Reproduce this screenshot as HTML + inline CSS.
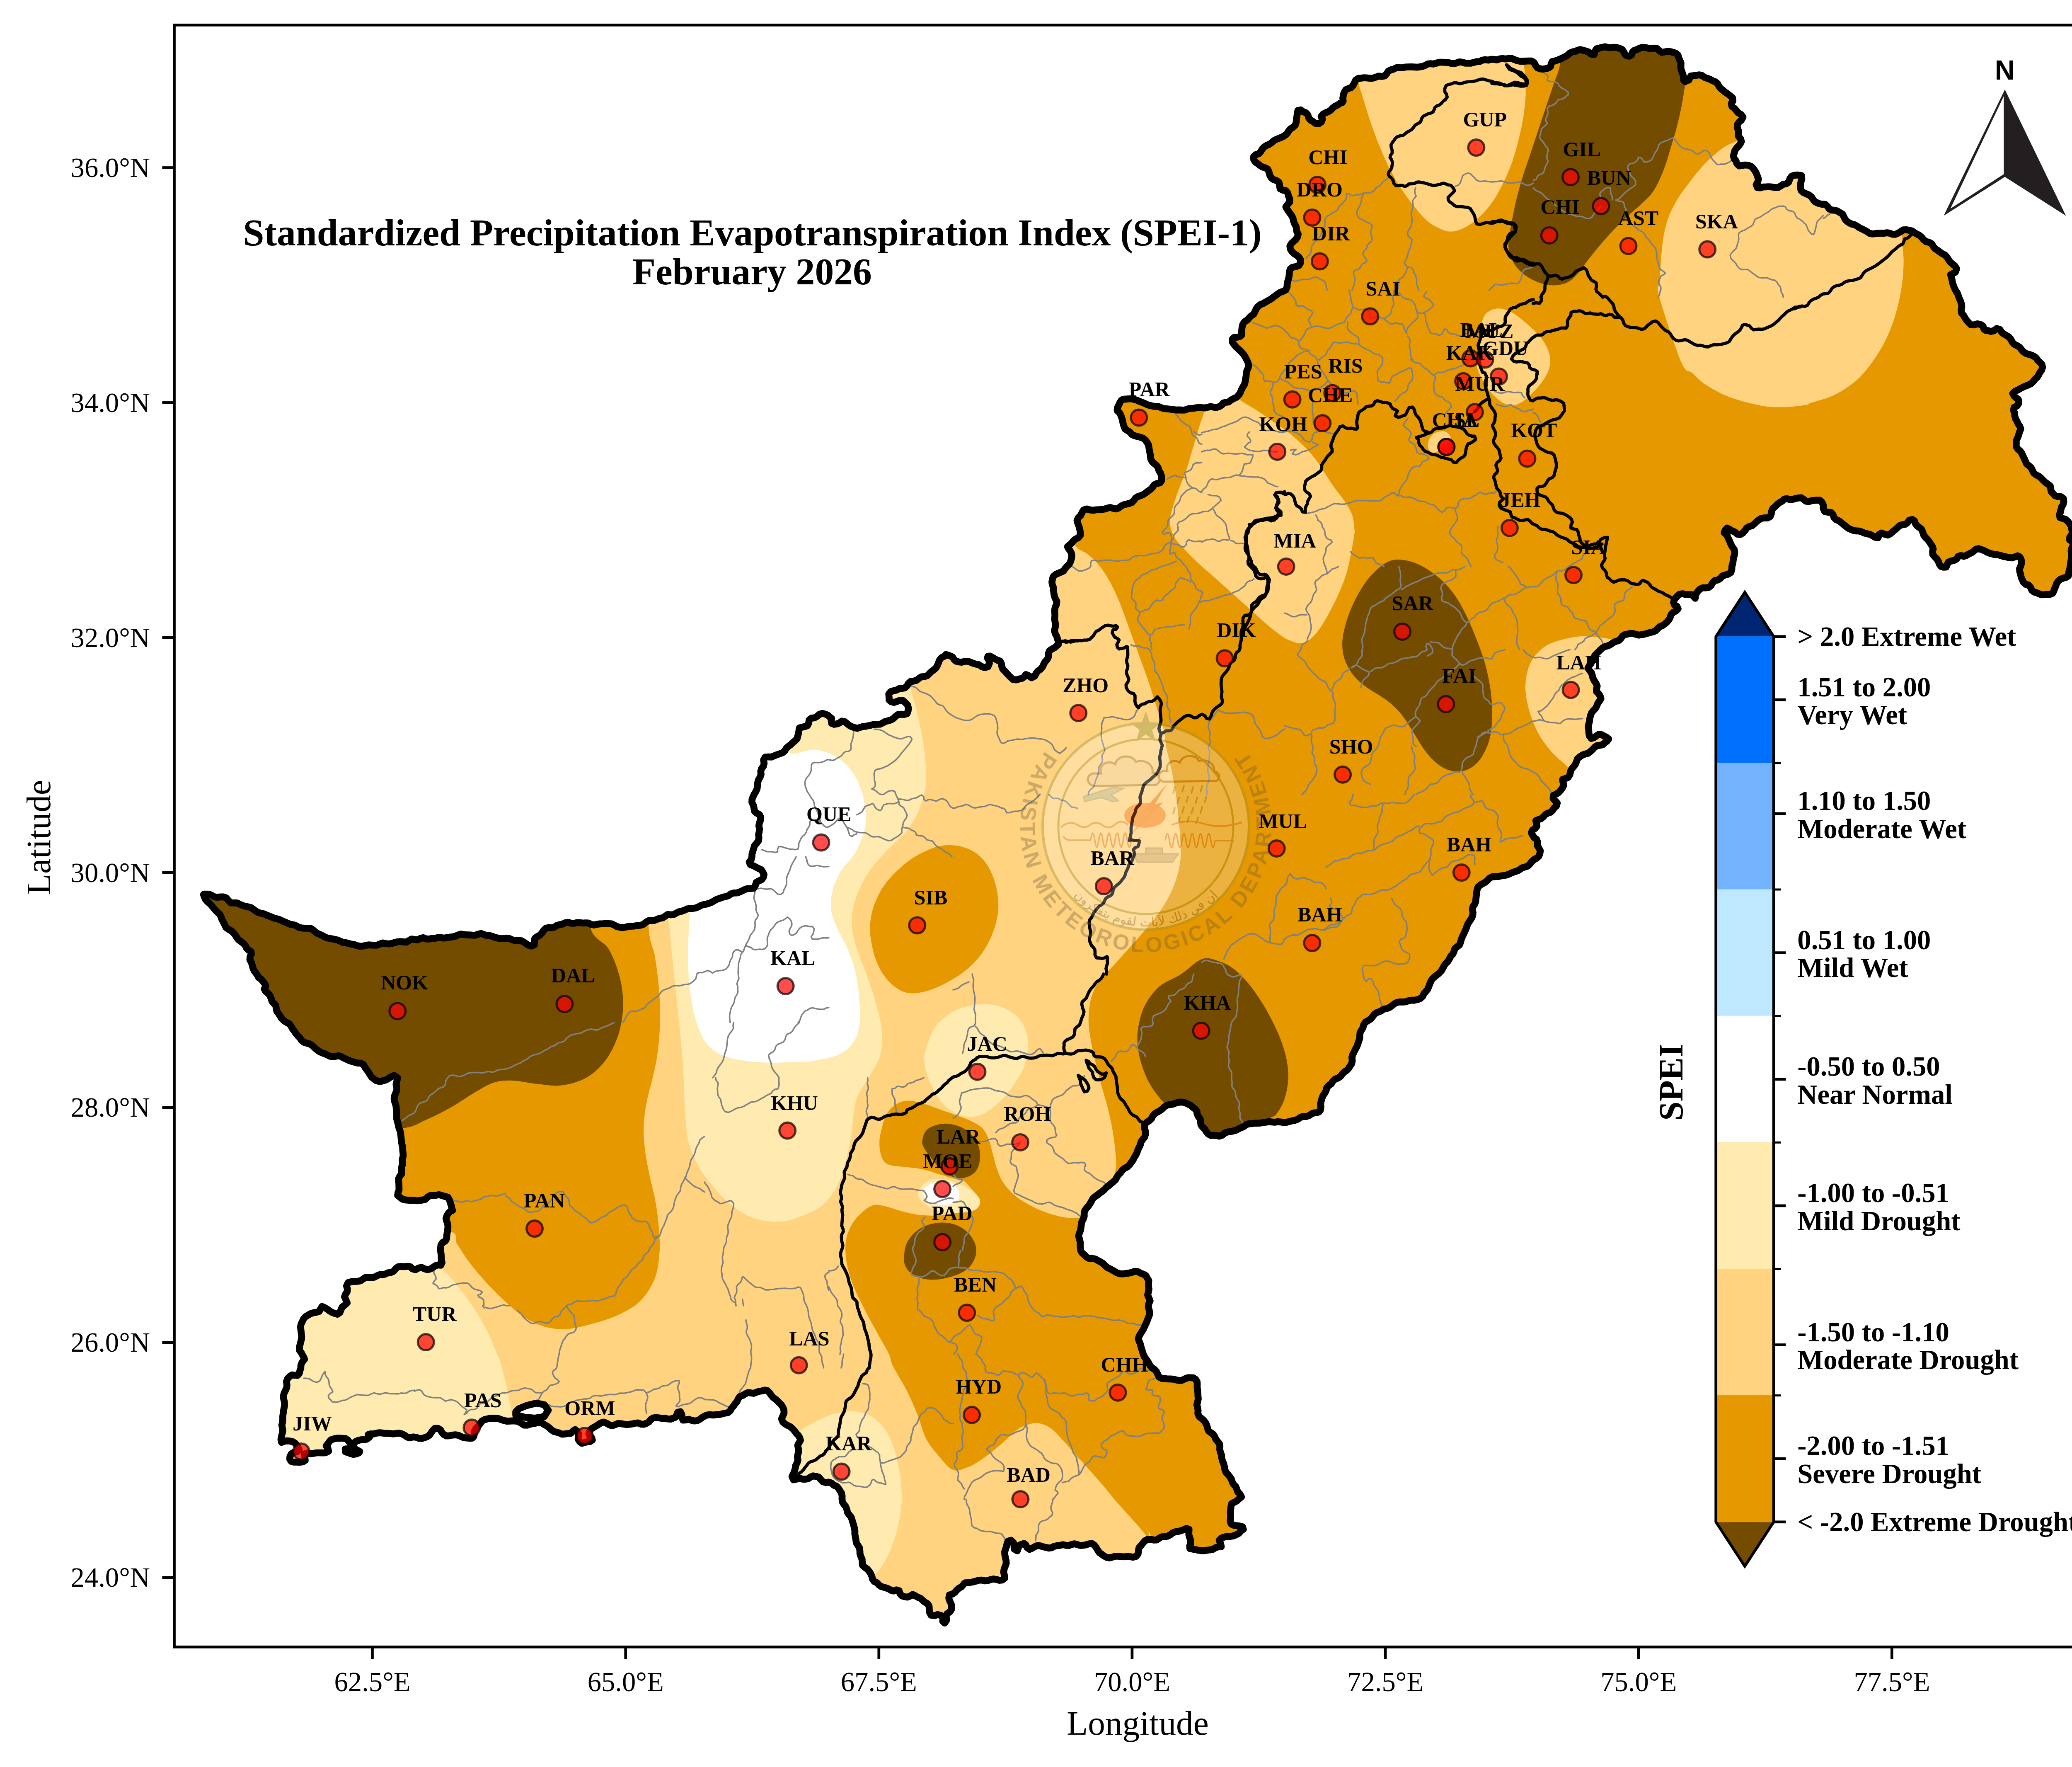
<!DOCTYPE html><html><head><meta charset="utf-8"><title>SPEI-1 February 2026</title><style>html,body{margin:0;padding:0;background:#fff}svg{display:block}text{font-family:"Liberation Serif","Times New Roman",serif;fill:#000}</style></head><body>
<svg width="5130" height="4263" viewBox="0 0 5130 4263">
<rect width="5130" height="4263" fill="#fff"/>
<defs><clipPath id="pk"><path d="M2997.2 850.8 L2992.2 845.8 L2987.1 841.0 L2982.0 836.3 L2977.6 830.8 L2973.9 825.3 L2973.5 818.5 L2978.2 813.9 L2985.3 813.4 L2992.1 811.8 L2996.5 808.0 L2996.1 802.4 L2996.6 795.4 L2997.4 788.6 L2999.2 782.0 L3003.3 776.2 L3009.5 772.4 L3014.1 767.2 L3019.0 762.2 L3025.1 758.3 L3028.4 751.8 L3031.4 744.9 L3035.8 739.2 L3041.4 734.8 L3048.4 732.1 L3054.5 728.6 L3060.5 724.9 L3066.7 721.8 L3072.3 717.4 L3078.1 713.4 L3083.6 708.9 L3089.3 705.4 L3095.7 703.0 L3102.8 699.3 L3105.9 692.5 L3106.1 685.2 L3107.6 678.4 L3109.6 671.7 L3111.0 664.8 L3111.2 657.2 L3113.3 649.5 L3119.1 644.7 L3127.3 643.1 L3134.4 640.4 L3138.5 633.6 L3138.0 625.8 L3133.8 619.5 L3128.2 615.3 L3122.1 611.6 L3117.4 606.6 L3113.7 600.6 L3112.7 593.4 L3116.6 587.1 L3121.9 582.2 L3127.1 577.3 L3131.1 571.5 L3132.6 564.6 L3129.5 559.2 L3128.6 552.3 L3127.2 545.3 L3123.6 539.4 L3121.2 532.4 L3120.1 526.4 L3117.5 521.0 L3113.6 515.6 L3109.5 510.0 L3105.6 504.1 L3102.9 499.0 L3106.8 493.5 L3112.3 487.6 L3112.3 479.7 L3109.1 472.8 L3107.6 465.8 L3103.0 460.1 L3095.5 458.8 L3088.9 455.1 L3087.8 447.3 L3086.4 439.9 L3080.3 435.6 L3073.3 433.3 L3067.5 428.9 L3064.1 422.5 L3062.4 415.5 L3059.3 408.2 L3052.7 404.7 L3046.3 402.9 L3040.6 399.3 L3035.2 394.9 L3029.4 391.0 L3025.5 385.3 L3025.1 377.8 L3030.5 373.1 L3037.6 371.0 L3042.3 365.7 L3046.1 359.2 L3051.1 354.1 L3057.1 350.4 L3063.7 347.8 L3069.4 343.7 L3074.6 338.9 L3081.0 335.7 L3087.6 333.2 L3094.2 330.4 L3100.4 326.9 L3105.8 322.2 L3109.7 316.0 L3114.3 310.6 L3120.4 306.8 L3125.7 301.8 L3128.0 294.8 L3128.4 287.7 L3129.6 280.9 L3130.6 273.9 L3131.9 266.7 L3139.1 265.1 L3144.5 269.6 L3151.2 271.9 L3156.0 277.1 L3157.9 284.1 L3162.4 289.5 L3168.5 293.1 L3174.3 297.6 L3181.7 298.7 L3188.4 294.3 L3191.2 287.6 L3188.1 281.1 L3192.2 275.8 L3198.4 272.3 L3204.9 269.6 L3210.9 266.1 L3215.7 260.8 L3221.2 256.4 L3227.8 253.4 L3233.8 249.0 L3239.1 247.5 L3241.2 243.7 L3240.5 236.9 L3241.6 230.0 L3243.5 222.9 L3247.8 216.4 L3254.5 213.3 L3260.7 211.2 L3265.0 206.4 L3268.1 200.3 L3271.3 193.4 L3278.0 189.1 L3285.5 188.4 L3292.4 187.5 L3299.4 188.1 L3306.8 188.8 L3313.8 188.4 L3320.1 186.2 L3326.9 183.6 L3334.1 184.5 L3341.7 183.0 L3346.5 177.3 L3350.6 171.3 L3357.0 168.4 L3363.3 166.6 L3369.7 163.3 L3376.8 163.4 L3383.8 163.7 L3390.6 161.9 L3397.7 161.5 L3404.8 161.4 L3411.6 161.7 L3418.1 162.1 L3425.0 161.6 L3432.0 160.4 L3438.6 158.1 L3444.8 154.6 L3451.8 153.6 L3459.0 154.4 L3465.8 152.5 L3472.6 150.2 L3479.7 150.2 L3486.7 150.3 L3493.6 150.7 L3500.5 152.5 L3507.4 153.7 L3514.6 152.0 L3521.7 149.4 L3528.4 150.0 L3535.5 152.3 L3542.6 152.5 L3549.6 152.3 L3556.5 150.5 L3563.3 148.9 L3570.3 148.5 L3576.9 145.2 L3583.8 144.0 L3591.1 145.1 L3597.8 143.2 L3604.9 143.2 L3612.0 144.5 L3618.9 142.1 L3625.9 141.2 L3632.9 142.3 L3640.0 141.2 L3647.1 140.7 L3653.9 143.6 L3660.7 146.3 L3667.6 147.6 L3674.6 147.9 L3681.7 147.4 L3688.8 147.0 L3696.1 147.2 L3702.3 151.4 L3705.5 158.0 L3710.0 163.5 L3716.4 166.1 L3723.3 166.8 L3729.8 165.8 L3736.4 164.1 L3741.9 160.3 L3743.3 153.4 L3745.8 148.4 L3751.4 147.4 L3757.9 145.2 L3764.6 142.6 L3770.5 139.8 L3776.8 136.9 L3782.8 133.2 L3787.9 128.2 L3794.3 125.3 L3801.3 124.0 L3807.6 120.9 L3814.4 119.6 L3821.1 121.7 L3827.8 123.4 L3834.2 125.6 L3839.3 130.6 L3846.9 131.7 L3848.9 123.5 L3852.6 117.6 L3859.7 116.1 L3866.5 114.1 L3873.4 112.8 L3880.6 114.5 L3887.6 115.1 L3894.5 114.0 L3901.5 114.7 L3908.2 116.6 L3914.3 119.4 L3918.5 125.3 L3921.4 131.0 L3925.4 134.6 L3931.8 135.4 L3937.1 132.5 L3939.4 126.0 L3943.6 121.5 L3949.9 119.8 L3956.3 116.5 L3963.0 114.0 L3970.2 114.6 L3977.3 116.4 L3984.1 117.3 L3990.9 116.1 L3998.2 116.8 L4003.5 121.9 L4009.6 126.4 L4017.0 125.3 L4024.1 124.1 L4031.1 124.6 L4037.9 126.3 L4044.3 128.8 L4049.2 132.7 L4050.7 138.8 L4053.5 145.2 L4056.4 151.7 L4056.1 158.7 L4056.2 165.7 L4058.4 172.6 L4061.1 179.3 L4062.6 185.7 L4062.8 192.7 L4066.7 196.9 L4071.8 193.3 L4075.3 193.3 L4077.6 188.8 L4080.2 183.2 L4086.4 182.6 L4093.4 181.7 L4100.7 180.6 L4107.6 182.4 L4113.7 186.8 L4120.3 189.1 L4126.7 191.4 L4132.6 194.8 L4139.3 197.4 L4144.8 201.8 L4148.2 208.5 L4152.7 213.8 L4158.2 218.1 L4163.5 222.7 L4169.5 226.6 L4174.9 231.1 L4180.6 235.8 L4181.8 243.3 L4178.0 249.8 L4179.4 256.8 L4185.2 261.2 L4189.9 266.4 L4194.1 271.9 L4200.8 275.8 L4206.0 282.7 L4201.8 290.2 L4196.4 294.7 L4192.4 300.8 L4192.2 307.9 L4194.9 314.6 L4195.1 321.7 L4195.3 329.1 L4200.2 334.6 L4202.2 341.5 L4198.8 348.0 L4194.6 353.1 L4189.8 358.1 L4186.3 363.7 L4184.8 369.5 L4182.9 376.2 L4184.8 382.7 L4189.1 387.9 L4191.3 395.1 L4196.7 400.3 L4204.2 399.1 L4211.2 398.1 L4218.1 398.5 L4225.0 401.0 L4230.4 405.9 L4234.7 411.7 L4238.2 418.1 L4240.8 424.7 L4243.2 431.7 L4241.8 439.0 L4237.9 445.7 L4240.9 452.6 L4248.3 453.1 L4254.8 451.0 L4261.7 450.9 L4268.7 450.5 L4275.8 451.1 L4283.0 452.4 L4290.6 452.5 L4297.0 448.8 L4302.8 444.8 L4310.3 443.4 L4316.1 439.5 L4319.2 431.3 L4323.5 425.0 L4330.8 422.6 L4338.2 422.2 L4347.1 423.5 L4348.0 432.0 L4345.8 439.1 L4344.9 445.8 L4344.3 452.9 L4346.5 460.0 L4352.0 464.7 L4358.5 467.5 L4365.1 470.3 L4370.9 474.6 L4374.8 480.7 L4379.1 486.2 L4385.4 489.5 L4390.9 491.6 L4397.1 492.7 L4404.5 493.0 L4410.2 498.1 L4414.2 504.2 L4421.1 506.9 L4428.4 507.3 L4434.6 509.4 L4440.8 513.4 L4446.3 516.7 L4449.3 522.5 L4452.3 528.9 L4457.2 534.2 L4463.1 538.2 L4469.7 541.0 L4475.5 542.1 L4480.6 545.1 L4486.9 549.4 L4493.4 552.3 L4499.6 555.6 L4505.6 559.0 L4511.6 562.9 L4518.5 564.5 L4525.7 563.6 L4532.6 562.8 L4539.2 562.6 L4546.3 562.7 L4553.1 561.6 L4559.7 562.4 L4566.2 565.2 L4573.8 565.3 L4580.8 562.3 L4586.9 558.4 L4593.0 554.5 L4600.2 554.3 L4607.1 555.6 L4614.1 557.1 L4619.9 561.5 L4626.0 564.8 L4632.1 568.1 L4637.5 572.7 L4641.9 578.3 L4647.3 582.7 L4654.8 584.6 L4661.2 587.9 L4665.1 594.2 L4669.4 599.9 L4675.5 603.6 L4681.0 607.9 L4686.8 612.0 L4693.5 615.3 L4698.3 620.4 L4702.1 626.5 L4706.2 632.3 L4711.5 636.9 L4717.2 641.4 L4721.6 648.3 L4718.7 656.6 L4712.0 660.1 L4707.1 662.6 L4709.0 668.4 L4710.5 675.2 L4711.6 682.2 L4714.0 688.8 L4716.5 695.4 L4719.7 701.6 L4723.6 707.6 L4725.9 714.2 L4728.4 720.7 L4731.2 727.0 L4733.4 733.7 L4734.1 740.7 L4732.4 748.2 L4733.6 755.4 L4738.5 761.2 L4742.0 767.3 L4745.9 773.1 L4750.7 778.4 L4756.0 783.5 L4763.6 783.9 L4771.0 781.3 L4778.2 782.5 L4785.3 786.6 L4787.3 793.6 L4790.9 797.0 L4797.2 797.6 L4804.5 799.7 L4811.4 797.9 L4818.1 792.6 L4825.8 794.7 L4830.1 801.3 L4835.4 805.8 L4841.6 809.4 L4847.8 813.0 L4852.3 818.4 L4855.7 825.2 L4860.4 830.5 L4866.9 833.6 L4873.0 837.4 L4877.6 842.6 L4882.1 848.1 L4887.8 852.4 L4894.5 854.5 L4901.3 856.5 L4907.8 859.4 L4913.5 863.5 L4917.7 869.6 L4922.7 874.1 L4927.4 879.1 L4928.8 886.2 L4926.7 893.0 L4922.4 898.9 L4919.3 904.8 L4915.7 910.4 L4910.5 915.1 L4906.2 920.7 L4900.9 925.7 L4894.5 928.7 L4888.0 931.4 L4881.6 934.2 L4875.4 937.4 L4869.4 940.9 L4862.7 943.8 L4857.1 949.1 L4860.6 955.8 L4864.7 959.7 L4870.3 963.1 L4871.2 967.0 L4871.1 973.7 L4867.2 979.7 L4860.3 982.8 L4858.8 989.9 L4861.7 996.8 L4862.0 1003.7 L4863.8 1010.3 L4867.3 1016.3 L4870.1 1022.7 L4874.1 1028.4 L4876.4 1035.0 L4874.0 1040.5 L4871.9 1046.8 L4869.7 1054.1 L4866.8 1060.0 L4865.3 1064.1 L4865.4 1069.6 L4865.3 1077.2 L4869.1 1083.2 L4874.8 1088.0 L4878.9 1093.7 L4881.8 1100.1 L4884.8 1106.3 L4887.7 1112.7 L4890.7 1119.2 L4896.3 1123.7 L4901.5 1128.4 L4904.6 1135.1 L4908.1 1141.7 L4913.7 1146.0 L4920.3 1149.1 L4925.7 1153.6 L4930.5 1158.8 L4935.5 1163.6 L4941.4 1167.6 L4947.5 1172.3 L4948.8 1179.5 L4949.7 1185.8 L4954.1 1190.5 L4959.0 1196.0 L4965.9 1198.0 L4973.4 1198.4 L4979.5 1203.0 L4980.1 1210.8 L4978.5 1217.6 L4974.7 1223.3 L4973.1 1230.4 L4971.8 1236.1 L4969.3 1242.3 L4971.0 1248.5 L4977.7 1250.8 L4984.2 1253.0 L4989.4 1257.2 L4993.6 1262.6 L4997.7 1268.5 L4999.0 1275.5 L5000.6 1282.6 L4999.3 1289.9 L4994.6 1295.9 L4994.4 1302.7 L5001.1 1307.1 L5003.3 1314.7 L4999.5 1322.0 L4997.9 1328.9 L4998.7 1336.0 L4999.4 1343.0 L4997.9 1349.8 L4997.1 1356.8 L4996.2 1362.6 L4995.3 1369.4 L4993.2 1376.2 L4992.0 1383.1 L4991.3 1389.2 L4986.1 1392.7 L4979.3 1394.6 L4972.6 1397.2 L4966.9 1401.6 L4962.9 1407.5 L4960.9 1413.8 L4957.9 1420.4 L4956.0 1426.3 L4953.0 1431.7 L4946.4 1434.0 L4939.6 1434.1 L4932.5 1434.6 L4926.1 1434.8 L4921.0 1432.7 L4914.9 1430.3 L4908.3 1428.2 L4902.9 1423.8 L4899.9 1416.8 L4894.8 1411.2 L4887.8 1409.6 L4883.1 1405.2 L4880.2 1399.1 L4877.4 1392.8 L4876.1 1386.1 L4874.0 1379.2 L4873.4 1372.0 L4876.4 1365.3 L4878.2 1358.0 L4877.5 1350.9 L4874.5 1344.0 L4868.6 1340.9 L4862.3 1343.4 L4855.6 1345.9 L4848.4 1345.4 L4841.1 1343.6 L4834.1 1342.5 L4827.2 1339.8 L4820.5 1338.4 L4813.6 1338.2 L4806.9 1336.3 L4800.6 1334.5 L4794.4 1331.9 L4788.2 1328.5 L4781.7 1325.9 L4775.0 1323.8 L4768.6 1324.7 L4763.4 1329.4 L4757.8 1333.5 L4751.3 1336.3 L4745.4 1339.9 L4739.0 1342.3 L4732.1 1340.3 L4725.3 1342.5 L4721.3 1348.9 L4715.1 1352.1 L4708.3 1353.5 L4701.9 1356.1 L4698.9 1361.6 L4696.4 1368.1 L4689.3 1368.3 L4683.7 1366.5 L4679.8 1361.0 L4677.5 1354.3 L4673.6 1348.4 L4668.7 1343.3 L4663.9 1337.5 L4663.6 1330.0 L4665.0 1324.2 L4663.2 1318.6 L4659.4 1312.7 L4655.7 1307.0 L4651.5 1301.5 L4646.1 1296.4 L4642.0 1290.7 L4639.9 1283.9 L4637.2 1277.3 L4631.8 1272.6 L4626.2 1268.6 L4622.2 1263.3 L4619.8 1256.8 L4614.6 1253.3 L4607.3 1255.2 L4602.9 1261.0 L4597.3 1265.0 L4590.6 1265.8 L4583.7 1268.3 L4578.4 1273.4 L4573.2 1278.1 L4567.8 1282.1 L4562.2 1287.3 L4555.6 1290.8 L4547.9 1288.9 L4540.4 1285.9 L4534.2 1289.6 L4532.2 1297.2 L4524.6 1296.2 L4518.5 1292.3 L4512.3 1289.1 L4505.1 1287.7 L4498.5 1286.0 L4492.8 1283.2 L4486.2 1281.1 L4479.3 1280.9 L4472.6 1279.8 L4465.9 1277.2 L4459.5 1274.2 L4454.1 1269.7 L4448.6 1265.4 L4443.3 1260.7 L4437.7 1256.5 L4431.0 1253.8 L4425.8 1248.7 L4423.3 1241.7 L4418.6 1236.4 L4410.8 1235.7 L4403.1 1234.0 L4399.7 1226.1 L4399.7 1218.1 L4396.7 1211.7 L4391.5 1206.9 L4385.8 1206.7 L4379.1 1207.1 L4372.1 1207.9 L4365.1 1209.9 L4357.7 1209.2 L4352.1 1204.5 L4346.7 1200.8 L4340.5 1201.3 L4333.8 1202.5 L4327.0 1204.4 L4320.1 1205.6 L4313.2 1203.4 L4306.0 1203.8 L4300.9 1208.9 L4294.7 1212.3 L4289.0 1216.5 L4284.2 1221.7 L4278.4 1226.3 L4275.2 1233.1 L4274.2 1239.9 L4271.6 1246.2 L4265.4 1249.6 L4257.6 1249.4 L4250.5 1250.4 L4244.5 1254.2 L4238.7 1258.6 L4233.4 1263.9 L4228.0 1268.3 L4221.1 1270.2 L4214.9 1273.7 L4210.9 1280.0 L4206.2 1285.4 L4199.8 1289.6 L4191.9 1288.6 L4186.7 1283.5 L4180.1 1281.0 L4174.3 1277.3 L4167.5 1274.1 L4162.5 1279.9 L4160.8 1285.3 L4164.5 1288.3 L4168.4 1293.5 L4171.4 1300.4 L4174.5 1306.8 L4177.0 1313.5 L4180.4 1319.4 L4184.7 1325.2 L4186.1 1332.1 L4185.3 1339.1 L4183.3 1345.4 L4182.3 1352.4 L4181.5 1359.4 L4179.3 1366.0 L4179.1 1373.6 L4176.8 1381.2 L4170.3 1385.3 L4162.7 1387.3 L4156.3 1389.6 L4151.5 1395.4 L4145.6 1399.2 L4138.0 1400.5 L4133.0 1405.6 L4129.3 1412.3 L4123.6 1417.1 L4116.4 1418.2 L4109.0 1418.0 L4102.5 1421.0 L4097.8 1425.7 L4093.9 1430.8 L4091.3 1437.4 L4090.7 1443.5 L4087.4 1439.5 L4082.4 1434.6 L4075.1 1434.5 L4068.1 1434.4 L4061.0 1432.5 L4053.6 1433.2 L4047.8 1438.1 L4043.0 1443.0 L4040.1 1447.3 L4038.6 1453.4 L4040.7 1459.4 L4046.8 1462.8 L4049.4 1468.6 L4044.1 1474.1 L4037.7 1477.4 L4032.7 1482.5 L4030.4 1489.2 L4027.2 1495.4 L4022.9 1500.3 L4017.9 1505.0 L4012.2 1509.0 L4005.6 1511.7 L4000.3 1516.5 L3995.1 1521.9 L3988.4 1524.6 L3981.4 1526.0 L3974.9 1528.2 L3968.1 1530.0 L3961.1 1531.2 L3954.5 1532.3 L3948.3 1530.5 L3941.6 1528.7 L3934.6 1528.2 L3928.0 1529.7 L3921.3 1530.9 L3915.4 1534.6 L3911.3 1540.3 L3906.5 1545.2 L3899.8 1547.3 L3893.4 1550.0 L3887.6 1554.2 L3881.6 1557.6 L3874.7 1559.5 L3868.2 1562.3 L3862.8 1566.8 L3857.9 1571.9 L3852.9 1576.4 L3848.6 1581.5 L3845.2 1587.6 L3842.7 1594.1 L3839.4 1600.3 L3835.1 1605.8 L3832.0 1611.8 L3835.7 1617.6 L3840.3 1623.0 L3842.4 1629.8 L3844.1 1636.6 L3847.5 1642.8 L3851.5 1648.6 L3854.2 1655.4 L3852.6 1662.4 L3852.5 1668.5 L3857.3 1673.1 L3861.3 1678.8 L3863.3 1685.9 L3859.8 1691.2 L3855.7 1696.8 L3853.1 1703.6 L3849.6 1709.6 L3844.8 1714.4 L3840.5 1719.9 L3838.0 1726.4 L3836.5 1733.3 L3835.7 1740.1 L3833.9 1746.9 L3832.8 1753.9 L3833.8 1760.8 L3834.1 1767.8 L3835.2 1775.2 L3840.0 1781.6 L3847.1 1779.4 L3852.6 1775.1 L3858.6 1771.4 L3865.7 1772.8 L3871.5 1776.3 L3876.2 1778.3 L3881.9 1782.8 L3877.8 1788.3 L3872.5 1792.0 L3867.8 1796.6 L3861.0 1798.0 L3853.8 1798.9 L3847.8 1803.0 L3843.0 1808.3 L3837.7 1813.1 L3832.1 1817.5 L3825.2 1819.2 L3818.4 1821.7 L3812.2 1825.8 L3806.8 1830.6 L3804.2 1837.4 L3801.5 1844.2 L3797.1 1849.7 L3792.6 1855.1 L3789.7 1861.5 L3788.3 1869.2 L3783.8 1876.0 L3777.1 1878.4 L3770.9 1880.3 L3771.7 1886.9 L3773.7 1894.0 L3770.5 1900.7 L3766.2 1906.6 L3761.3 1911.9 L3755.3 1915.8 L3748.7 1918.8 L3747.8 1926.0 L3752.4 1931.8 L3757.8 1937.3 L3755.8 1944.4 L3750.3 1949.3 L3746.7 1955.0 L3742.0 1959.5 L3735.4 1961.6 L3729.3 1965.0 L3724.2 1970.6 L3718.6 1975.3 L3712.3 1977.4 L3706.3 1979.7 L3707.3 1985.9 L3708.9 1993.2 L3704.0 1999.0 L3697.9 2003.0 L3695.3 2009.0 L3698.3 2014.9 L3702.2 2020.8 L3708.2 2025.2 L3710.6 2032.0 L3709.7 2039.7 L3713.4 2045.8 L3717.0 2052.4 L3715.8 2059.6 L3713.0 2066.2 L3707.7 2070.6 L3701.8 2073.9 L3696.5 2078.6 L3692.0 2084.4 L3687.0 2089.3 L3680.0 2091.7 L3673.0 2093.7 L3667.7 2097.5 L3661.8 2101.0 L3655.2 2103.0 L3648.6 2105.5 L3642.1 2108.5 L3635.6 2111.1 L3628.7 2112.3 L3621.7 2113.3 L3614.8 2114.7 L3607.5 2114.9 L3600.1 2115.5 L3593.9 2119.1 L3588.7 2124.8 L3583.0 2129.3 L3576.9 2132.4 L3571.6 2135.7 L3566.5 2140.1 L3564.3 2146.8 L3563.3 2153.7 L3562.5 2160.7 L3561.7 2167.6 L3561.1 2174.6 L3558.8 2181.3 L3554.4 2187.4 L3553.2 2194.3 L3554.5 2201.9 L3553.8 2209.0 L3550.9 2215.5 L3546.9 2221.6 L3542.8 2227.6 L3540.0 2234.0 L3537.9 2240.6 L3535.1 2246.7 L3532.3 2252.9 L3529.3 2259.1 L3526.5 2265.6 L3524.6 2272.7 L3522.2 2279.5 L3516.3 2284.0 L3510.6 2288.7 L3508.7 2295.8 L3505.6 2302.1 L3500.6 2307.2 L3497.5 2313.5 L3493.9 2319.6 L3488.7 2324.5 L3484.7 2330.1 L3481.5 2336.4 L3478.0 2342.5 L3473.1 2347.5 L3467.7 2352.0 L3462.2 2356.4 L3456.7 2361.2 L3452.9 2367.4 L3450.1 2374.0 L3447.6 2380.7 L3444.8 2387.2 L3440.1 2392.5 L3435.8 2398.0 L3432.6 2404.4 L3427.1 2409.1 L3420.3 2411.7 L3413.3 2413.1 L3406.2 2413.1 L3399.3 2414.2 L3392.7 2416.8 L3385.6 2417.3 L3378.3 2417.1 L3371.2 2418.4 L3364.8 2421.7 L3359.1 2426.3 L3353.3 2430.5 L3346.9 2433.1 L3339.1 2434.6 L3333.5 2438.3 L3329.1 2440.6 L3323.0 2442.7 L3316.6 2446.8 L3312.1 2453.1 L3307.7 2458.2 L3301.6 2462.1 L3295.1 2466.0 L3290.9 2471.7 L3289.1 2479.0 L3285.5 2485.0 L3282.1 2491.1 L3281.4 2498.2 L3281.1 2505.2 L3278.9 2511.9 L3276.5 2518.6 L3274.3 2525.2 L3270.8 2531.3 L3267.7 2537.6 L3264.5 2544.0 L3262.4 2550.8 L3263.1 2558.3 L3262.1 2565.4 L3258.1 2571.5 L3254.3 2577.6 L3249.4 2582.7 L3243.5 2586.7 L3238.7 2591.7 L3234.3 2597.4 L3228.2 2601.2 L3221.2 2603.7 L3216.2 2608.6 L3212.5 2614.9 L3206.4 2618.8 L3201.7 2624.0 L3199.9 2631.5 L3196.8 2637.4 L3192.8 2642.9 L3190.2 2649.4 L3188.1 2656.2 L3186.9 2663.1 L3187.4 2670.2 L3186.8 2677.1 L3183.3 2682.2 L3177.6 2684.5 L3170.9 2684.9 L3164.4 2687.4 L3158.4 2691.8 L3151.6 2693.7 L3144.3 2693.4 L3137.8 2695.9 L3131.7 2700.2 L3125.1 2702.8 L3118.2 2704.1 L3111.3 2705.7 L3104.4 2707.6 L3097.2 2708.0 L3090.2 2706.8 L3083.2 2706.3 L3076.2 2707.5 L3069.2 2706.9 L3062.3 2705.9 L3055.4 2707.3 L3048.7 2708.2 L3042.0 2709.3 L3035.0 2709.7 L3027.9 2709.8 L3020.9 2710.8 L3013.8 2711.2 L3007.1 2713.5 L3001.3 2718.0 L2994.9 2720.7 L2988.5 2723.6 L2982.3 2726.9 L2975.5 2728.8 L2968.5 2730.1 L2961.3 2731.2 L2955.0 2734.1 L2949.3 2738.9 L2942.6 2741.1 L2935.5 2739.6 L2928.7 2739.1 L2921.4 2739.2 L2915.2 2735.6 L2910.9 2730.2 L2907.5 2724.5 L2902.3 2719.4 L2897.9 2713.7 L2897.2 2706.4 L2896.2 2699.4 L2891.7 2693.4 L2888.6 2686.8 L2888.3 2680.4 L2883.9 2675.7 L2878.5 2671.5 L2873.6 2667.0 L2868.1 2664.3 L2862.5 2661.6 L2856.7 2659.4 L2850.1 2658.9 L2843.1 2659.4 L2836.4 2661.5 L2830.1 2663.9 L2823.3 2664.9 L2815.9 2666.4 L2809.9 2670.2 L2804.9 2675.2 L2799.2 2679.4 L2793.0 2682.9 L2786.9 2686.7 L2782.1 2691.9 L2778.7 2698.6 L2773.7 2703.6 L2767.3 2707.6 L2761.8 2713.0 L2761.6 2721.1 L2763.9 2729.0 L2764.1 2736.3 L2762.3 2743.2 L2757.4 2749.1 L2753.4 2755.2 L2751.7 2762.0 L2748.6 2768.4 L2745.6 2774.7 L2743.5 2781.3 L2740.4 2787.4 L2736.7 2793.3 L2733.6 2799.5 L2729.6 2805.0 L2725.3 2810.5 L2720.3 2815.4 L2713.8 2818.6 L2708.3 2823.2 L2704.3 2829.0 L2699.2 2833.9 L2695.3 2839.7 L2691.9 2846.2 L2686.7 2851.0 L2681.3 2855.5 L2676.0 2860.1 L2670.3 2864.2 L2665.6 2869.3 L2660.4 2874.0 L2654.5 2878.0 L2649.1 2882.5 L2643.2 2886.5 L2637.7 2890.9 L2634.2 2897.3 L2630.6 2903.5 L2626.8 2909.1 L2622.1 2914.5 L2617.7 2920.5 L2616.2 2927.3 L2616.3 2934.7 L2613.9 2941.4 L2610.6 2947.7 L2609.2 2954.6 L2608.5 2961.7 L2607.3 2968.6 L2604.4 2975.3 L2602.9 2982.4 L2604.9 2989.5 L2606.7 2996.5 L2606.8 3003.4 L2606.9 3010.4 L2608.1 3017.4 L2611.6 3023.3 L2617.1 3027.6 L2622.0 3032.7 L2628.2 3036.1 L2636.1 3036.1 L2643.1 3037.4 L2649.1 3041.0 L2655.4 3044.2 L2661.5 3047.9 L2666.7 3053.3 L2672.0 3057.9 L2678.4 3061.0 L2684.4 3064.2 L2690.4 3067.9 L2696.6 3071.3 L2703.3 3073.1 L2710.3 3073.3 L2717.2 3072.2 L2724.2 3071.4 L2731.1 3069.8 L2738.3 3067.0 L2745.8 3067.8 L2752.3 3071.7 L2759.0 3074.1 L2765.2 3077.6 L2768.6 3083.7 L2772.1 3089.6 L2771.6 3096.5 L2771.4 3103.2 L2772.6 3110.3 L2771.1 3117.3 L2769.4 3124.5 L2772.5 3131.3 L2775.3 3138.5 L2772.1 3145.1 L2771.0 3152.1 L2772.6 3158.7 L2774.2 3165.5 L2773.6 3172.7 L2771.0 3179.3 L2768.4 3185.9 L2765.9 3192.4 L2762.7 3198.6 L2760.0 3205.2 L2756.5 3211.2 L2752.7 3217.1 L2749.0 3223.1 L2747.0 3230.3 L2749.5 3237.2 L2752.3 3243.9 L2753.6 3250.6 L2755.9 3257.1 L2757.7 3263.8 L2760.3 3270.4 L2763.9 3276.4 L2768.0 3282.1 L2771.9 3287.9 L2774.9 3294.4 L2779.6 3299.7 L2785.7 3303.6 L2790.5 3308.7 L2793.6 3315.1 L2796.9 3322.0 L2803.7 3325.7 L2811.2 3325.9 L2818.2 3326.9 L2824.9 3326.9 L2831.5 3327.3 L2838.6 3329.2 L2845.7 3330.6 L2852.7 3329.9 L2859.3 3326.6 L2865.9 3323.9 L2873.1 3323.8 L2880.0 3324.1 L2885.2 3327.8 L2888.7 3333.2 L2889.1 3339.9 L2888.9 3346.8 L2889.8 3353.8 L2890.7 3360.7 L2890.8 3367.7 L2891.5 3374.7 L2890.2 3381.7 L2888.1 3388.6 L2889.9 3395.7 L2891.1 3402.7 L2890.6 3410.3 L2893.7 3417.2 L2899.1 3422.0 L2904.5 3426.4 L2908.7 3431.8 L2912.0 3438.1 L2913.8 3444.8 L2916.1 3451.7 L2921.7 3456.3 L2927.7 3460.2 L2931.5 3466.3 L2934.3 3472.9 L2938.4 3477.8 L2942.9 3483.2 L2943.8 3490.1 L2943.4 3497.2 L2945.2 3504.1 L2947.8 3510.7 L2948.3 3517.8 L2949.9 3524.6 L2952.8 3530.9 L2954.5 3537.7 L2955.6 3545.0 L2958.2 3551.6 L2962.8 3557.0 L2967.5 3562.4 L2971.4 3568.3 L2973.5 3575.1 L2976.8 3581.2 L2982.1 3586.4 L2984.6 3593.0 L2987.1 3599.6 L2992.3 3604.4 L2995.7 3611.3 L2989.7 3616.3 L2984.5 3621.3 L2978.4 3624.3 L2972.1 3627.6 L2970.5 3634.5 L2969.9 3641.5 L2969.0 3648.6 L2969.5 3655.6 L2969.6 3662.1 L2968.8 3669.1 L2970.8 3676.6 L2977.9 3679.9 L2984.8 3680.9 L2991.0 3681.5 L2998.4 3683.6 L3000.3 3689.5 L2994.3 3693.7 L2989.4 3699.3 L2982.9 3702.7 L2976.3 3705.5 L2969.4 3706.6 L2961.7 3706.3 L2954.8 3708.2 L2948.0 3710.6 L2942.1 3716.3 L2945.6 3723.7 L2947.0 3731.4 L2939.1 3732.0 L2932.5 3734.2 L2926.6 3738.1 L2919.6 3739.3 L2912.7 3740.0 L2905.7 3741.3 L2898.7 3741.1 L2891.7 3740.1 L2884.9 3738.6 L2878.1 3737.2 L2871.3 3736.1 L2870.9 3729.6 L2873.6 3722.8 L2873.1 3715.5 L2870.6 3709.1 L2868.8 3702.6 L2868.9 3695.7 L2869.2 3689.8 L2863.4 3687.4 L2856.9 3690.2 L2850.4 3692.9 L2843.6 3694.5 L2836.5 3695.5 L2830.0 3698.1 L2824.3 3702.7 L2818.0 3706.0 L2811.0 3707.3 L2803.7 3707.5 L2797.4 3710.9 L2791.4 3715.2 L2784.1 3715.3 L2776.3 3713.6 L2769.2 3714.0 L2762.6 3717.5 L2757.6 3723.4 L2753.3 3728.9 L2748.5 3734.2 L2747.3 3741.5 L2746.2 3748.9 L2741.4 3755.0 L2734.0 3756.8 L2726.6 3755.5 L2719.7 3755.2 L2712.8 3755.8 L2705.8 3755.5 L2698.8 3754.4 L2691.8 3754.4 L2684.8 3756.5 L2677.7 3758.6 L2670.7 3757.3 L2664.5 3754.0 L2658.9 3749.9 L2653.0 3745.8 L2649.1 3740.0 L2645.3 3733.8 L2641.0 3728.0 L2635.0 3723.7 L2627.6 3724.7 L2621.1 3726.9 L2614.1 3728.0 L2606.8 3728.6 L2599.8 3726.5 L2592.9 3724.5 L2585.9 3726.0 L2579.2 3728.9 L2572.1 3728.2 L2565.0 3726.7 L2558.1 3728.2 L2551.1 3729.1 L2544.2 3730.4 L2537.8 3734.0 L2530.6 3734.9 L2523.7 3733.2 L2516.8 3731.7 L2510.2 3729.5 L2503.5 3728.6 L2497.4 3731.2 L2491.4 3734.8 L2484.5 3737.9 L2478.3 3733.4 L2475.3 3726.9 L2471.0 3723.7 L2466.0 3725.5 L2460.9 3727.3 L2457.7 3733.0 L2455.0 3741.5 L2447.3 3736.8 L2446.9 3728.7 L2445.5 3721.3 L2439.7 3716.0 L2432.2 3718.5 L2430.1 3724.0 L2428.8 3730.4 L2426.6 3737.2 L2424.4 3744.1 L2424.8 3751.1 L2426.2 3758.2 L2427.9 3765.4 L2428.1 3772.4 L2425.5 3779.2 L2422.9 3786.1 L2422.0 3793.1 L2423.6 3800.2 L2424.2 3807.8 L2418.1 3812.0 L2411.3 3812.6 L2404.3 3810.5 L2397.2 3809.4 L2390.3 3810.9 L2383.4 3813.3 L2376.4 3813.9 L2369.3 3812.0 L2362.3 3812.3 L2355.4 3814.5 L2348.4 3816.4 L2341.5 3817.6 L2334.7 3818.3 L2328.3 3818.9 L2324.4 3823.5 L2319.9 3828.5 L2313.9 3831.7 L2308.6 3836.5 L2304.1 3842.0 L2298.5 3845.7 L2291.0 3847.9 L2289.6 3855.6 L2291.9 3862.7 L2295.2 3869.2 L2296.5 3875.9 L2295.8 3883.3 L2291.6 3889.1 L2285.2 3893.3 L2283.1 3899.7 L2284.2 3908.8 L2279.6 3915.7 L2274.8 3911.2 L2275.9 3903.1 L2270.3 3897.3 L2262.8 3895.2 L2255.6 3897.8 L2246.7 3896.8 L2242.7 3888.7 L2242.4 3882.3 L2242.0 3874.7 L2238.1 3868.8 L2231.9 3865.5 L2226.5 3860.9 L2221.3 3855.9 L2214.8 3853.5 L2208.8 3849.9 L2202.4 3846.9 L2196.2 3850.6 L2190.2 3853.2 L2183.2 3852.3 L2176.3 3850.1 L2171.7 3844.6 L2169.6 3837.7 L2163.0 3835.7 L2156.7 3838.3 L2151.5 3837.5 L2146.0 3834.0 L2139.8 3831.5 L2133.3 3829.5 L2126.4 3827.6 L2120.8 3823.6 L2116.2 3818.5 L2109.7 3815.4 L2105.3 3809.6 L2104.0 3803.0 L2101.2 3796.8 L2097.4 3790.8 L2092.9 3785.5 L2086.8 3781.4 L2081.3 3776.4 L2080.6 3768.8 L2080.3 3761.6 L2077.3 3755.2 L2075.2 3748.5 L2075.0 3741.4 L2074.1 3734.5 L2070.2 3728.2 L2066.3 3721.8 L2065.4 3714.8 L2064.1 3707.9 L2062.8 3701.0 L2063.0 3693.9 L2061.9 3687.0 L2060.2 3680.2 L2058.1 3673.5 L2056.1 3666.8 L2053.9 3660.0 L2049.1 3654.5 L2045.1 3648.7 L2043.5 3641.7 L2041.1 3635.0 L2036.6 3629.5 L2032.8 3623.5 L2031.9 3616.3 L2032.1 3609.0 L2030.6 3602.2 L2026.7 3595.9 L2022.8 3589.9 L2018.2 3585.4 L2012.0 3583.1 L2006.7 3578.2 L2000.1 3575.8 L1992.7 3576.8 L1985.5 3574.7 L1980.5 3569.3 L1975.7 3563.8 L1969.0 3561.7 L1962.1 3560.7 L1956.0 3563.5 L1950.0 3567.5 L1942.5 3568.7 L1935.8 3568.3 L1929.5 3566.4 L1922.8 3568.3 L1914.8 3570.2 L1911.2 3562.2 L1914.7 3555.2 L1917.3 3548.8 L1919.0 3542.3 L1920.0 3535.7 L1923.4 3529.1 L1925.5 3522.3 L1924.2 3515.2 L1925.5 3508.3 L1927.6 3501.3 L1926.4 3494.3 L1925.0 3486.9 L1928.1 3480.6 L1931.6 3475.0 L1929.9 3468.5 L1926.1 3462.5 L1921.2 3457.6 L1917.1 3451.9 L1912.5 3446.6 L1907.1 3442.1 L1900.7 3438.8 L1894.5 3435.5 L1888.8 3430.4 L1886.0 3423.0 L1889.1 3415.9 L1892.0 3409.1 L1891.8 3401.9 L1889.2 3395.1 L1885.5 3389.3 L1880.8 3384.8 L1875.9 3379.5 L1870.7 3375.3 L1865.3 3371.1 L1860.7 3365.8 L1857.0 3360.2 L1852.2 3355.2 L1845.3 3353.7 L1838.9 3355.8 L1832.5 3356.5 L1825.8 3358.7 L1819.0 3361.5 L1811.6 3360.4 L1804.4 3359.9 L1798.1 3363.0 L1792.3 3366.7 L1785.1 3369.1 L1781.0 3375.3 L1778.2 3381.9 L1773.4 3387.2 L1769.7 3392.8 L1765.3 3397.8 L1761.7 3403.9 L1756.3 3408.5 L1749.1 3409.2 L1742.4 3411.2 L1735.7 3412.6 L1728.8 3412.7 L1721.8 3413.9 L1714.8 3413.2 L1707.6 3413.5 L1701.0 3416.1 L1694.8 3419.6 L1688.9 3424.1 L1682.6 3427.3 L1675.6 3428.2 L1667.5 3426.1 L1661.4 3424.0 L1655.6 3425.6 L1648.1 3426.1 L1645.4 3419.9 L1645.4 3412.7 L1641.9 3405.9 L1635.4 3407.2 L1633.0 3413.4 L1630.8 3418.8 L1625.0 3421.2 L1617.7 3423.8 L1610.8 3423.2 L1604.0 3421.3 L1597.1 3421.8 L1590.0 3420.8 L1582.9 3419.9 L1575.9 3421.0 L1570.1 3424.8 L1566.1 3430.5 L1560.3 3433.6 L1553.7 3436.1 L1546.6 3435.8 L1539.8 3432.9 L1533.1 3433.5 L1526.1 3435.2 L1519.0 3436.1 L1511.9 3436.6 L1505.0 3435.8 L1498.0 3434.7 L1491.0 3434.4 L1484.0 3437.4 L1477.1 3439.7 L1470.0 3437.4 L1463.0 3433.1 L1455.8 3430.8 L1448.8 3433.5 L1442.4 3437.9 L1436.6 3441.5 L1430.5 3444.8 L1425.2 3448.5 L1422.6 3454.4 L1420.9 3458.9 L1423.2 3464.0 L1428.1 3468.8 L1429.3 3474.2 L1423.9 3477.9 L1417.6 3477.9 L1411.0 3480.3 L1404.2 3482.0 L1399.0 3478.2 L1395.1 3472.0 L1395.7 3464.8 L1396.1 3458.1 L1392.7 3453.3 L1387.9 3449.1 L1381.9 3453.4 L1377.3 3458.0 L1370.6 3458.5 L1363.7 3459.4 L1356.5 3460.2 L1350.1 3457.2 L1343.2 3455.3 L1336.1 3453.5 L1330.2 3449.4 L1325.1 3444.4 L1319.5 3440.2 L1313.3 3436.8 L1307.3 3432.8 L1300.3 3431.3 L1293.3 3433.2 L1286.6 3434.5 L1279.5 3435.8 L1272.1 3438.4 L1264.6 3438.2 L1258.2 3434.0 L1251.8 3430.0 L1245.0 3428.3 L1238.0 3427.8 L1230.7 3428.3 L1223.6 3428.7 L1216.8 3427.3 L1210.2 3425.2 L1203.4 3422.6 L1196.4 3421.5 L1189.4 3421.6 L1182.4 3421.8 L1175.5 3423.4 L1168.6 3425.2 L1162.4 3428.7 L1158.7 3435.0 L1154.5 3440.0 L1149.5 3445.1 L1145.6 3451.5 L1144.8 3458.2 L1143.6 3464.9 L1139.8 3469.6 L1133.0 3469.8 L1126.1 3469.1 L1119.1 3468.4 L1112.4 3465.8 L1105.7 3462.5 L1098.8 3461.6 L1091.6 3462.2 L1084.4 3464.0 L1077.2 3464.2 L1070.7 3460.9 L1066.3 3456.0 L1063.0 3449.7 L1056.8 3446.0 L1049.5 3445.9 L1044.1 3451.0 L1040.4 3456.7 L1036.2 3462.5 L1030.4 3466.4 L1023.8 3468.7 L1017.4 3470.5 L1010.7 3470.0 L1004.1 3467.5 L997.1 3466.7 L989.4 3468.8 L982.8 3467.2 L976.6 3462.6 L970.0 3459.4 L963.2 3457.5 L956.1 3458.2 L949.0 3459.4 L942.0 3458.5 L935.0 3458.2 L928.0 3458.0 L921.0 3456.9 L914.0 3456.6 L907.1 3457.9 L900.7 3459.6 L894.6 3459.4 L888.5 3461.0 L891.2 3467.6 L884.9 3472.2 L877.7 3473.2 L871.0 3473.6 L864.4 3475.0 L858.0 3478.1 L852.5 3482.9 L853.6 3489.9 L856.9 3495.7 L862.7 3499.0 L868.0 3501.5 L866.5 3504.8 L860.2 3507.5 L853.1 3508.8 L846.1 3507.0 L839.7 3504.5 L833.7 3502.5 L833.1 3495.7 L840.7 3495.5 L845.5 3492.0 L847.1 3485.4 L843.5 3479.9 L839.3 3474.3 L833.3 3470.3 L826.1 3470.0 L819.1 3469.7 L812.3 3469.8 L805.6 3471.4 L799.0 3473.4 L794.6 3478.2 L791.0 3483.3 L787.0 3488.2 L791.2 3493.6 L792.9 3501.3 L785.0 3504.8 L777.6 3505.1 L770.6 3505.0 L763.6 3505.0 L756.7 3506.2 L749.8 3507.1 L742.5 3505.3 L735.2 3508.2 L735.8 3516.2 L736.4 3523.2 L730.4 3527.0 L723.1 3527.7 L716.1 3527.5 L709.1 3527.5 L702.7 3525.7 L699.3 3520.2 L699.7 3514.0 L703.0 3507.5 L709.2 3503.9 L716.3 3502.7 L721.9 3498.5 L719.1 3491.6 L715.5 3485.8 L711.6 3481.2 L706.0 3478.1 L700.1 3476.7 L693.2 3476.1 L686.3 3476.9 L679.4 3479.7 L677.9 3472.9 L679.3 3465.9 L680.8 3459.0 L682.6 3452.2 L681.4 3445.1 L680.1 3437.8 L681.9 3431.0 L682.5 3424.0 L682.4 3417.0 L683.3 3410.1 L684.3 3403.1 L685.6 3396.2 L686.8 3389.3 L686.3 3382.2 L684.5 3375.0 L683.8 3367.9 L685.7 3361.1 L688.8 3354.4 L691.9 3347.7 L692.4 3340.9 L691.3 3333.4 L693.6 3326.6 L698.6 3321.3 L704.3 3317.1 L711.5 3317.7 L718.2 3318.2 L721.9 3314.0 L723.5 3307.5 L725.9 3300.7 L726.0 3294.1 L727.3 3289.9 L730.9 3283.9 L734.7 3279.5 L733.6 3275.3 L730.2 3269.6 L726.9 3263.3 L722.5 3257.6 L722.4 3250.3 L724.2 3243.6 L725.8 3237.2 L727.6 3230.2 L727.8 3223.3 L726.9 3216.4 L726.2 3209.2 L725.2 3201.9 L726.4 3194.8 L729.5 3188.3 L732.7 3181.7 L737.3 3176.4 L743.1 3173.1 L749.3 3169.4 L755.9 3167.3 L762.9 3166.1 L770.2 3163.9 L773.7 3157.5 L777.0 3151.9 L783.4 3154.6 L789.4 3158.3 L795.0 3162.5 L800.8 3166.0 L807.3 3168.6 L814.5 3170.7 L820.3 3166.3 L823.0 3159.6 L825.7 3153.2 L831.6 3149.0 L837.7 3143.2 L834.3 3135.2 L831.4 3128.5 L833.8 3122.1 L837.6 3117.0 L838.4 3109.7 L836.3 3102.4 L840.0 3094.3 L848.4 3092.1 L855.5 3091.5 L862.7 3091.3 L870.0 3090.0 L875.7 3086.0 L881.5 3082.2 L888.4 3081.8 L895.6 3082.6 L902.6 3081.6 L909.1 3078.1 L915.6 3075.3 L923.0 3075.3 L929.9 3073.8 L936.3 3070.7 L943.5 3069.7 L949.9 3067.0 L954.8 3060.5 L961.0 3056.0 L968.2 3055.4 L975.4 3056.1 L982.4 3055.1 L989.5 3055.7 L995.6 3061.3 L1002.4 3063.3 L1010.2 3059.2 L1017.6 3057.8 L1024.0 3060.9 L1031.1 3063.1 L1038.3 3061.6 L1044.3 3058.2 L1050.4 3053.7 L1057.1 3051.6 L1063.7 3052.4 L1066.7 3046.2 L1065.2 3039.1 L1064.7 3032.1 L1064.4 3025.1 L1063.2 3018.1 L1063.2 3011.0 L1064.1 3003.7 L1067.9 2997.5 L1074.6 2994.3 L1077.7 2988.2 L1078.1 2981.3 L1079.0 2974.3 L1080.2 2967.4 L1081.0 2960.5 L1080.5 2953.5 L1078.0 2946.7 L1076.3 2939.4 L1078.8 2931.9 L1083.2 2925.4 L1088.7 2920.5 L1092.1 2920.2 L1090.3 2915.9 L1089.1 2909.0 L1086.9 2902.4 L1084.7 2895.4 L1080.8 2888.4 L1073.3 2886.4 L1066.4 2884.3 L1059.5 2882.3 L1052.4 2883.6 L1045.6 2884.3 L1038.3 2884.3 L1032.1 2887.8 L1026.7 2893.5 L1019.9 2895.1 L1012.7 2896.3 L1005.6 2897.0 L998.6 2895.8 L991.6 2896.0 L984.7 2895.4 L977.6 2894.9 L970.8 2893.0 L965.3 2888.5 L959.6 2884.0 L960.6 2876.7 L963.0 2870.8 L962.8 2864.9 L962.7 2857.8 L962.2 2851.1 L961.7 2843.7 L965.0 2837.4 L969.7 2831.3 L969.1 2824.0 L968.9 2816.8 L971.0 2810.1 L970.8 2803.2 L971.0 2796.3 L972.9 2789.2 L972.7 2782.2 L971.8 2775.2 L971.7 2768.2 L970.1 2761.3 L968.6 2754.3 L968.1 2747.4 L967.5 2740.4 L966.8 2733.4 L964.8 2726.7 L962.4 2720.1 L961.0 2713.2 L959.2 2706.4 L957.4 2699.6 L957.4 2692.5 L957.4 2685.3 L956.4 2678.4 L956.0 2671.4 L955.0 2664.8 L952.4 2658.1 L951.1 2650.9 L952.1 2643.9 L954.8 2637.2 L957.6 2630.4 L957.5 2623.3 L955.8 2616.2 L957.5 2609.2 L959.3 2600.3 L951.0 2594.8 L943.0 2598.0 L936.7 2602.5 L930.3 2605.8 L923.6 2607.7 L915.9 2609.3 L908.1 2607.1 L901.8 2602.8 L896.4 2598.1 L892.4 2592.0 L888.6 2585.8 L884.5 2580.3 L880.5 2574.6 L876.9 2568.1 L870.2 2564.8 L862.6 2564.7 L855.9 2562.8 L849.4 2560.9 L842.8 2558.8 L836.4 2555.7 L829.8 2552.7 L823.3 2549.0 L816.5 2547.1 L809.2 2548.5 L802.0 2549.5 L795.1 2547.8 L788.9 2544.5 L782.4 2541.8 L775.8 2539.5 L769.6 2536.1 L763.9 2532.0 L758.6 2527.2 L753.6 2522.3 L747.9 2518.8 L740.6 2516.7 L733.1 2514.5 L727.6 2509.8 L723.6 2503.7 L718.5 2498.7 L714.1 2493.5 L710.3 2487.8 L706.0 2482.4 L702.4 2475.7 L698.1 2470.2 L691.8 2466.8 L685.7 2462.9 L680.4 2458.1 L676.5 2452.1 L672.7 2446.0 L668.2 2440.2 L666.5 2433.3 L665.7 2426.1 L660.8 2420.9 L656.3 2415.6 L654.3 2408.5 L651.4 2402.0 L647.0 2396.5 L641.3 2392.2 L637.8 2386.1 L641.3 2379.4 L638.8 2373.1 L634.6 2367.8 L630.1 2362.3 L624.6 2358.9 L621.5 2353.2 L617.5 2347.4 L613.4 2342.1 L610.5 2335.6 L608.7 2328.5 L606.6 2321.8 L602.9 2315.3 L603.5 2307.9 L606.6 2301.7 L605.9 2295.9 L599.8 2292.3 L594.9 2287.5 L591.9 2281.0 L587.2 2275.8 L581.5 2271.5 L575.6 2267.2 L571.2 2261.8 L567.7 2255.6 L563.1 2250.3 L557.8 2245.6 L551.3 2241.9 L545.4 2237.7 L542.3 2231.2 L539.1 2224.8 L535.6 2218.6 L533.2 2211.3 L529.7 2205.1 L524.4 2200.6 L519.5 2195.6 L515.1 2190.2 L510.6 2184.8 L505.7 2179.7 L500.3 2175.1 L495.7 2169.8 L492.8 2163.2 L491.2 2158.2 L492.3 2157.0 L497.5 2157.2 L504.8 2157.4 L511.2 2160.1 L517.4 2163.7 L524.4 2164.8 L532.0 2163.9 L539.4 2163.8 L545.9 2166.3 L551.4 2172.5 L556.9 2178.2 L564.1 2178.4 L571.6 2178.4 L577.9 2181.4 L584.4 2184.2 L591.0 2186.4 L598.0 2187.8 L604.9 2189.3 L610.9 2193.2 L616.7 2197.8 L622.8 2201.3 L629.6 2203.2 L636.6 2204.6 L642.9 2207.6 L649.5 2210.1 L656.0 2212.6 L662.4 2215.5 L669.3 2216.9 L676.0 2219.1 L682.3 2222.2 L688.8 2224.9 L695.2 2227.8 L701.7 2230.4 L708.8 2231.3 L715.4 2233.8 L721.4 2237.7 L728.4 2238.8 L735.7 2239.3 L743.1 2239.4 L750.4 2240.1 L756.3 2244.2 L761.9 2249.2 L768.0 2252.7 L774.5 2255.4 L780.7 2258.8 L787.0 2262.0 L793.8 2263.8 L800.9 2264.9 L807.8 2266.4 L814.6 2267.9 L821.1 2270.6 L827.5 2273.6 L834.6 2274.3 L841.3 2276.3 L848.2 2277.9 L855.1 2278.8 L861.5 2281.6 L868.4 2282.8 L875.4 2282.5 L882.3 2281.2 L889.1 2279.7 L896.2 2280.0 L903.4 2280.5 L910.4 2280.1 L917.0 2277.3 L923.8 2274.9 L931.0 2276.5 L938.1 2277.3 L945.0 2276.2 L951.9 2274.1 L958.7 2272.2 L965.7 2271.5 L972.9 2272.4 L980.1 2273.2 L986.6 2269.3 L993.1 2265.5 L1000.3 2266.6 L1007.4 2267.7 L1014.2 2264.1 L1021.1 2262.2 L1028.3 2265.2 L1035.3 2265.5 L1042.2 2264.1 L1049.2 2264.0 L1056.2 2262.1 L1063.2 2262.0 L1070.2 2263.2 L1077.2 2262.4 L1084.1 2261.1 L1091.1 2260.3 L1098.0 2259.2 L1104.5 2256.0 L1111.4 2253.5 L1118.5 2254.5 L1125.6 2255.5 L1132.6 2255.7 L1139.6 2256.2 L1146.5 2256.3 L1153.6 2253.8 L1160.8 2252.0 L1167.6 2254.5 L1174.4 2257.1 L1181.4 2257.2 L1188.2 2258.8 L1194.8 2261.8 L1201.6 2263.2 L1208.5 2264.6 L1215.7 2264.4 L1223.0 2263.2 L1229.9 2264.5 L1236.5 2267.5 L1243.3 2269.3 L1250.5 2268.9 L1258.0 2269.6 L1264.5 2273.1 L1270.2 2277.4 L1275.8 2280.5 L1282.1 2282.4 L1289.1 2279.5 L1289.8 2271.8 L1290.3 2264.4 L1296.0 2259.9 L1302.2 2256.5 L1307.1 2251.7 L1311.1 2245.4 L1316.6 2239.8 L1323.8 2237.9 L1331.0 2238.4 L1337.7 2236.7 L1343.7 2232.8 L1350.5 2230.8 L1357.6 2229.3 L1364.3 2226.2 L1371.2 2225.4 L1378.6 2227.3 L1385.9 2227.4 L1392.7 2226.0 L1399.3 2226.0 L1405.8 2227.0 L1412.7 2226.5 L1419.7 2226.9 L1426.4 2230.1 L1433.2 2231.6 L1440.5 2230.0 L1447.7 2228.8 L1454.9 2228.6 L1462.0 2228.2 L1469.0 2228.3 L1475.9 2228.8 L1482.6 2232.0 L1489.2 2235.7 L1496.2 2237.2 L1503.3 2237.9 L1510.4 2236.6 L1517.3 2234.8 L1524.3 2234.5 L1531.3 2234.1 L1538.4 2233.1 L1545.6 2232.2 L1552.4 2230.3 L1558.0 2225.4 L1564.1 2221.4 L1571.3 2221.1 L1578.5 2220.9 L1585.0 2218.2 L1591.6 2215.6 L1598.6 2214.5 L1604.8 2210.8 L1610.8 2206.4 L1618.2 2206.9 L1625.4 2206.5 L1631.6 2202.9 L1638.0 2199.8 L1644.9 2198.4 L1651.5 2196.0 L1657.9 2192.9 L1664.9 2192.1 L1672.1 2191.6 L1679.1 2190.5 L1685.6 2187.8 L1691.8 2184.2 L1698.6 2182.3 L1705.5 2181.0 L1712.2 2178.9 L1718.7 2176.2 L1724.8 2172.3 L1731.1 2169.1 L1737.8 2167.0 L1744.2 2164.5 L1751.1 2163.1 L1757.8 2161.0 L1763.5 2156.6 L1770.3 2154.4 L1777.7 2154.2 L1784.4 2152.2 L1790.8 2149.3 L1797.1 2146.1 L1803.6 2143.8 L1811.0 2143.6 L1818.9 2142.8 L1822.8 2136.2 L1824.9 2128.9 L1831.3 2125.3 L1838.0 2122.2 L1842.2 2116.2 L1843.7 2110.1 L1840.9 2104.2 L1836.8 2098.2 L1830.1 2095.1 L1823.9 2091.8 L1817.7 2088.5 L1810.9 2086.1 L1808.0 2080.0 L1812.8 2073.8 L1814.5 2067.1 L1814.8 2059.7 L1816.9 2052.9 L1818.9 2046.3 L1820.9 2040.0 L1826.0 2034.1 L1830.7 2027.9 L1831.3 2020.8 L1830.6 2013.5 L1832.1 2006.5 L1832.6 1999.6 L1831.3 1992.5 L1832.4 1985.6 L1835.0 1979.1 L1835.9 1972.0 L1832.6 1965.2 L1825.8 1961.6 L1820.4 1956.7 L1819.6 1949.4 L1817.9 1942.6 L1814.5 1935.7 L1814.8 1928.2 L1817.6 1921.3 L1820.7 1914.9 L1824.5 1908.6 L1827.1 1902.1 L1827.8 1895.0 L1828.5 1888.0 L1830.4 1881.2 L1834.2 1875.0 L1836.5 1868.3 L1835.8 1860.9 L1837.7 1854.2 L1842.4 1848.4 L1843.9 1841.6 L1842.6 1833.4 L1846.6 1826.6 L1854.6 1826.0 L1861.9 1826.3 L1868.4 1823.4 L1874.9 1820.8 L1881.4 1818.5 L1888.3 1816.1 L1893.7 1811.6 L1897.5 1805.1 L1902.6 1800.3 L1908.4 1796.3 L1913.2 1791.2 L1918.6 1787.2 L1923.5 1782.0 L1925.3 1775.1 L1927.1 1768.2 L1928.0 1761.8 L1929.2 1756.1 L1935.5 1754.4 L1942.3 1752.8 L1948.7 1750.6 L1951.5 1744.3 L1952.5 1737.1 L1958.2 1732.6 L1965.5 1731.7 L1971.6 1728.3 L1977.6 1723.1 L1984.5 1721.2 L1991.9 1723.0 L1998.3 1725.9 L2002.6 1730.1 L2006.8 1733.4 L2005.9 1739.1 L2006.9 1745.2 L2012.9 1747.5 L2019.2 1746.6 L2025.9 1744.1 L2031.4 1739.7 L2038.0 1740.9 L2043.6 1745.3 L2049.1 1749.9 L2055.3 1753.2 L2062.1 1755.5 L2069.0 1757.1 L2075.8 1754.9 L2082.5 1752.7 L2089.4 1752.1 L2096.2 1750.8 L2103.1 1749.2 L2109.9 1747.7 L2117.1 1747.3 L2124.2 1747.1 L2130.6 1743.9 L2136.9 1740.3 L2143.8 1738.8 L2150.5 1736.8 L2156.6 1732.9 L2161.5 1728.0 L2167.2 1723.9 L2174.6 1723.1 L2181.7 1723.8 L2189.0 1721.7 L2191.4 1714.6 L2191.9 1707.4 L2190.1 1700.6 L2185.0 1695.5 L2179.0 1690.1 L2170.9 1689.9 L2164.2 1692.4 L2157.7 1694.6 L2150.9 1693.1 L2145.5 1688.8 L2145.4 1681.6 L2144.7 1674.6 L2149.5 1668.7 L2156.5 1666.4 L2163.5 1664.8 L2169.9 1661.3 L2176.2 1660.7 L2183.5 1659.7 L2188.7 1654.9 L2192.3 1648.6 L2197.7 1643.9 L2205.3 1643.1 L2211.9 1641.2 L2217.5 1636.7 L2223.6 1632.9 L2230.8 1632.2 L2237.7 1630.1 L2242.9 1624.9 L2247.9 1619.9 L2253.7 1616.0 L2258.8 1611.2 L2262.3 1605.0 L2264.9 1598.4 L2267.6 1591.6 L2272.3 1586.5 L2279.7 1582.8 L2282.9 1578.9 L2286.1 1580.2 L2292.1 1582.0 L2298.2 1584.8 L2302.0 1590.6 L2307.1 1595.2 L2314.1 1597.0 L2321.1 1597.6 L2328.3 1595.5 L2335.5 1595.4 L2342.2 1597.7 L2348.8 1600.5 L2355.5 1602.4 L2362.4 1603.7 L2368.5 1608.0 L2375.7 1610.5 L2384.2 1608.5 L2387.5 1600.2 L2386.3 1592.6 L2382.7 1587.3 L2384.0 1583.3 L2389.2 1582.8 L2394.6 1586.1 L2400.8 1589.5 L2406.6 1592.8 L2413.2 1594.8 L2416.4 1600.5 L2417.3 1607.5 L2419.9 1614.3 L2425.2 1619.4 L2429.7 1624.7 L2434.5 1629.9 L2439.6 1634.8 L2445.2 1639.7 L2452.6 1640.2 L2459.7 1638.1 L2466.0 1636.7 L2471.0 1633.5 L2475.4 1627.3 L2482.4 1630.2 L2489.5 1635.1 L2496.9 1631.2 L2500.5 1624.0 L2505.0 1618.5 L2510.9 1614.7 L2515.4 1609.4 L2518.4 1603.1 L2521.5 1596.8 L2526.7 1591.5 L2529.8 1585.3 L2529.8 1577.5 L2532.0 1570.4 L2538.2 1566.0 L2544.6 1562.8 L2549.8 1558.4 L2554.1 1554.5 L2553.9 1548.2 L2551.9 1541.5 L2549.9 1534.8 L2546.2 1528.3 L2544.6 1521.3 L2546.3 1514.0 L2547.4 1506.9 L2545.9 1500.0 L2545.0 1493.0 L2545.7 1486.0 L2545.5 1478.9 L2545.1 1471.9 L2546.3 1465.0 L2549.5 1458.0 L2550.2 1450.6 L2546.4 1443.9 L2544.0 1437.2 L2543.0 1430.3 L2542.2 1423.2 L2541.6 1415.9 L2539.2 1410.1 L2538.5 1404.1 L2539.5 1397.2 L2542.0 1390.4 L2547.6 1385.9 L2553.9 1382.9 L2560.4 1380.3 L2566.6 1377.2 L2570.4 1371.3 L2574.9 1366.1 L2580.2 1361.2 L2583.4 1354.8 L2585.4 1348.0 L2586.5 1341.1 L2585.4 1334.1 L2581.9 1328.0 L2577.8 1322.5 L2576.0 1318.9 L2580.1 1315.4 L2585.3 1311.1 L2589.7 1305.5 L2594.8 1300.8 L2601.6 1297.6 L2607.0 1291.6 L2606.9 1283.7 L2605.5 1276.6 L2603.8 1269.9 L2601.0 1263.1 L2598.9 1255.6 L2602.3 1248.6 L2607.8 1243.6 L2610.8 1236.8 L2615.0 1230.2 L2623.3 1227.8 L2631.0 1230.4 L2638.0 1231.0 L2645.0 1229.9 L2652.1 1229.6 L2659.2 1229.0 L2666.1 1228.0 L2672.4 1225.9 L2679.1 1224.3 L2685.8 1226.2 L2692.7 1228.0 L2699.4 1225.6 L2705.0 1221.3 L2710.9 1218.0 L2717.6 1216.4 L2724.4 1214.7 L2731.3 1212.3 L2736.3 1206.9 L2740.5 1201.3 L2746.2 1197.9 L2752.4 1195.8 L2758.7 1193.1 L2764.7 1189.1 L2770.4 1184.6 L2776.3 1180.7 L2781.2 1175.6 L2785.4 1169.5 L2791.9 1166.5 L2799.4 1164.8 L2803.5 1158.7 L2803.4 1153.4 L2802.6 1148.0 L2800.5 1141.2 L2796.7 1135.3 L2794.5 1127.9 L2790.5 1122.4 L2784.8 1118.1 L2780.0 1113.1 L2776.9 1107.1 L2776.3 1100.7 L2775.2 1093.9 L2773.6 1087.0 L2772.6 1080.0 L2771.4 1073.0 L2767.7 1066.9 L2763.5 1061.4 L2758.3 1057.2 L2751.7 1054.8 L2745.0 1053.0 L2738.1 1051.4 L2731.7 1048.4 L2727.0 1042.8 L2721.3 1039.0 L2715.1 1035.2 L2712.3 1028.5 L2710.2 1021.9 L2708.8 1015.0 L2707.0 1007.9 L2704.4 1001.3 L2701.2 995.2 L2696.0 990.8 L2696.3 984.1 L2699.5 977.9 L2702.0 972.0 L2705.8 966.0 L2709.8 963.4 L2715.9 962.9 L2722.9 962.4 L2730.1 962.0 L2737.0 963.5 L2743.7 965.6 L2750.2 968.5 L2756.7 971.1 L2763.2 973.7 L2769.5 976.8 L2776.4 978.4 L2783.1 980.2 L2790.2 980.7 L2797.2 981.4 L2803.8 984.3 L2810.6 986.0 L2817.6 986.5 L2824.5 987.2 L2831.5 988.2 L2838.4 989.1 L2845.4 988.8 L2852.4 989.3 L2859.4 989.1 L2866.3 986.5 L2873.2 985.3 L2880.2 985.0 L2887.0 983.7 L2894.0 982.9 L2901.1 983.6 L2908.2 984.1 L2915.1 982.3 L2921.9 980.9 L2929.1 982.4 L2936.2 982.9 L2943.0 980.6 L2948.4 977.1 L2951.9 972.1 L2958.8 970.6 L2964.9 969.7 L2970.8 964.9 L2977.1 961.6 L2983.7 958.6 L2988.9 953.5 L2992.9 947.6 L2995.5 940.9 L2998.6 934.6 L3002.5 928.7 L3004.6 921.9 L3005.5 914.9 L3007.0 908.1 L3007.4 901.0 L3008.9 894.1 L3011.9 887.7 L3013.1 880.9 L3011.5 874.4 L3008.7 868.3 L3005.4 862.1 L3001.7 856.1 Z"/></clipPath></defs>
<g clip-path="url(#pk)">
<rect x="400" y="40" width="4700" height="3950" fill="#E69800"/>
<path d="M3266.9 138.2 C3268.8 158.3 3275.2 186.6 3278.4 201.3 C3281.6 215.9 3282.9 215.6 3286.0 226.1 C3289.2 236.6 3293.1 250.3 3297.5 264.4 C3302.0 278.4 3307.1 294.3 3312.8 310.2 C3318.5 326.2 3324.9 343.4 3331.9 359.9 C3338.9 376.5 3346.6 393.7 3354.8 409.6 C3363.1 425.5 3372.0 440.8 3381.6 455.5 C3391.2 470.1 3402.0 484.8 3412.2 497.5 C3422.4 510.3 3432.6 523.0 3442.8 531.9 C3453.0 540.8 3463.8 546.6 3473.3 551.0 C3482.9 555.5 3490.5 558.7 3500.1 558.7 C3509.7 558.7 3519.8 556.1 3530.7 551.0 C3541.5 545.9 3553.6 538.3 3565.1 528.1 C3576.5 517.9 3589.3 503.9 3599.5 489.9 C3609.7 475.9 3617.9 460.6 3626.2 444.0 C3634.5 427.4 3642.8 408.3 3649.2 390.5 C3655.5 372.7 3660.0 354.8 3664.5 337.0 C3668.9 319.1 3673.1 301.9 3675.9 283.5 C3678.8 265.0 3681.0 244.0 3681.7 226.1 C3682.3 208.3 3680.7 191.1 3679.7 176.4 C3678.8 161.8 3676.6 154.1 3675.9 138.2 C3675.3 122.3 3744.1 90.4 3675.9 80.9 C3607.8 71.3 3335.1 71.3 3266.9 80.9 C3198.8 90.4 3265.0 118.2 3266.9 138.2 Z" fill="#FFD37F"/>
<path d="M4249.8 317.6 C4232.5 324.0 4210.3 332.8 4196.3 338.6 C4182.3 344.3 4175.9 345.9 4165.7 352.0 C4155.5 358.0 4145.3 366.0 4135.1 374.9 C4124.9 383.8 4114.7 394.0 4104.5 405.5 C4094.3 416.9 4083.5 431.0 4074.0 443.7 C4064.4 456.4 4054.8 469.2 4047.2 481.9 C4039.6 494.7 4033.2 507.4 4028.1 520.1 C4023.0 532.9 4019.5 545.6 4016.6 558.4 C4013.8 571.1 4012.5 582.6 4010.9 596.6 C4009.3 610.6 4008.0 628.4 4007.1 642.5 C4006.1 656.5 4005.6 668.3 4005.2 680.7 C4004.7 693.1 3995.8 684.9 4004.4 717.0 C4013.0 749.1 4043.7 842.7 4056.9 873.2 C4070.1 903.7 4074.1 891.1 4083.7 900.0 C4093.2 908.9 4099.6 917.2 4114.2 926.8 C4128.9 936.3 4149.3 948.7 4171.6 957.3 C4193.9 965.9 4225.7 974.2 4248.0 978.4 C4270.3 982.5 4286.7 982.5 4305.3 982.2 C4324.0 981.9 4349.5 978.1 4360.0 976.4 C4370.5 974.8 4357.3 976.3 4368.2 972.5 C4379.1 968.6 4406.4 962.9 4425.6 953.3 C4444.7 943.8 4465.7 931.0 4482.9 915.1 C4500.1 899.2 4516.0 876.9 4528.8 857.8 C4541.5 838.7 4551.1 819.6 4559.3 800.4 C4567.6 781.3 4573.4 762.2 4578.4 743.1 C4583.5 724.0 4587.4 704.9 4589.9 685.8 C4592.5 666.7 4593.7 647.6 4593.7 628.4 C4593.7 609.3 4589.3 585.1 4589.9 571.1 C4590.6 557.1 4562.5 552.9 4597.6 544.4 C4632.6 535.8 4799.6 547.4 4800.0 520.0 C4800.4 492.6 4683.3 416.7 4600.0 380.0 C4516.7 343.3 4358.4 310.4 4300.0 300.0 C4241.6 289.6 4267.1 311.1 4249.8 317.6 Z" fill="#FFD37F"/>
<path d="M3640.8 750.0 C3647.8 752.9 3652.0 755.7 3659.9 761.5 C3667.9 767.2 3679.0 775.8 3688.5 784.4 C3698.1 792.9 3709.5 803.4 3717.2 813.0 C3724.8 822.5 3730.4 832.4 3734.4 841.6 C3738.3 850.8 3740.7 859.4 3741.0 868.3 C3741.3 877.2 3739.6 886.1 3736.3 895.0 C3732.9 903.9 3727.4 912.8 3721.0 921.8 C3714.6 930.7 3706.0 940.5 3698.1 948.5 C3690.1 956.4 3681.2 964.5 3673.3 969.5 C3665.3 974.4 3657.7 977.4 3650.4 978.1 C3643.1 978.7 3636.7 976.9 3629.4 973.3 C3622.1 969.6 3613.5 962.8 3606.5 956.1 C3599.5 949.4 3593.1 941.5 3587.4 933.2 C3581.7 924.9 3576.0 914.8 3572.1 906.5 C3568.3 898.2 3565.1 893.8 3564.5 883.6 C3563.9 873.4 3567.0 858.1 3568.3 845.4 C3569.6 832.7 3570.9 818.4 3572.1 807.3 C3573.4 796.1 3574.0 786.6 3576.0 778.6 C3577.9 770.7 3579.8 764.6 3583.6 759.5 C3587.4 754.5 3593.1 750.6 3598.9 748.1 C3604.6 745.5 3610.9 744.0 3617.9 744.3 C3624.9 744.6 3633.8 747.1 3640.8 750.0 Z" fill="#FFD37F"/>
<path d="M3446.6 1066.9 C3448.2 1060.6 3452.3 1052.3 3458.1 1047.8 C3463.8 1043.4 3474.6 1040.2 3481.0 1040.2 C3487.4 1040.2 3493.1 1044.0 3496.3 1047.8 C3499.5 1051.6 3502.6 1057.4 3500.1 1063.1 C3497.5 1068.8 3487.4 1077.4 3481.0 1082.2 C3474.6 1087.0 3467.3 1091.1 3461.9 1091.8 C3456.5 1092.4 3451.0 1090.2 3448.5 1086.0 C3445.9 1081.9 3445.0 1073.3 3446.6 1066.9 Z" fill="#FFD37F"/>
<path d="M2905.8 993.3 C2908.4 983.8 2900.4 972.0 2911.6 964.7 C2922.7 957.3 2958.7 948.9 2972.7 949.4 C2986.7 949.9 2985.4 960.7 2995.6 967.6 C3005.7 974.4 3021.0 982.2 3033.8 990.5 C3046.5 998.8 3059.3 1008.3 3072.0 1017.2 C3084.7 1026.2 3097.5 1033.8 3110.2 1044.0 C3123.0 1054.2 3137.6 1067.6 3148.4 1078.4 C3159.3 1089.2 3166.9 1098.2 3175.2 1109.0 C3183.5 1119.8 3190.5 1131.9 3198.1 1143.4 C3205.8 1154.8 3213.4 1167.0 3221.1 1177.8 C3228.7 1188.6 3237.0 1197.5 3244.0 1208.4 C3251.0 1219.2 3259.0 1230.7 3263.1 1242.8 C3267.3 1254.9 3268.0 1273.4 3268.8 1281.0 C3269.7 1288.6 3269.6 1279.4 3268.2 1288.2 C3266.8 1297.1 3263.7 1318.2 3260.5 1334.1 C3257.3 1350.0 3254.2 1367.2 3249.1 1383.8 C3244.0 1400.3 3237.0 1417.5 3230.0 1433.5 C3222.9 1449.4 3214.7 1465.3 3207.0 1479.3 C3199.4 1493.4 3191.7 1507.0 3184.1 1517.6 C3176.4 1528.1 3168.8 1536.7 3161.2 1542.4 C3153.5 1548.1 3145.9 1551.3 3138.2 1552.0 C3130.6 1552.6 3122.3 1548.8 3115.3 1546.2 C3108.3 1543.7 3104.5 1542.1 3096.3 1536.7 C3088.0 1531.3 3075.9 1522.0 3065.7 1513.7 C3055.5 1505.5 3046.6 1497.2 3035.1 1487.0 C3023.7 1476.8 3009.6 1464.0 2996.9 1452.6 C2984.2 1441.1 2970.8 1429.0 2958.7 1418.2 C2946.6 1407.3 2935.7 1397.8 2924.3 1387.6 C2912.8 1377.4 2900.7 1367.2 2889.9 1357.0 C2879.0 1346.8 2868.2 1336.0 2859.3 1326.4 C2850.4 1316.9 2842.1 1308.6 2836.4 1299.7 C2830.6 1290.8 2827.1 1281.2 2824.9 1272.9 C2822.7 1264.7 2823.2 1254.2 2823.0 1250.0 C2822.8 1245.8 2821.9 1253.7 2823.7 1247.5 C2825.4 1241.4 2829.4 1225.2 2833.2 1213.1 C2837.0 1201.0 2841.8 1187.6 2846.6 1174.9 C2851.4 1162.2 2857.4 1149.4 2861.9 1136.7 C2866.3 1123.9 2869.5 1111.2 2873.3 1098.4 C2877.2 1085.7 2881.0 1073.0 2884.8 1060.2 C2888.6 1047.5 2892.8 1033.2 2896.3 1022.0 C2899.8 1010.9 2903.3 1002.9 2905.8 993.3 Z" fill="#FFD37F"/>
<path d="M3921.8 1552.0 C3918.2 1524.6 3909.6 1546.5 3900.0 1544.3 C3890.4 1542.1 3878.0 1540.2 3864.5 1538.6 C3850.9 1537.0 3833.9 1534.1 3818.6 1534.8 C3803.3 1535.4 3786.7 1538.9 3772.7 1542.4 C3758.7 1545.9 3746.0 1549.1 3734.5 1555.8 C3723.0 1562.5 3711.9 1572.3 3703.9 1582.5 C3696.0 1592.7 3690.5 1604.2 3686.7 1616.9 C3682.9 1629.7 3681.0 1645.0 3681.0 1659.0 C3681.0 1673.0 3683.5 1687.0 3686.7 1701.0 C3689.9 1715.0 3694.7 1729.7 3700.1 1743.1 C3705.5 1756.5 3711.6 1769.2 3719.2 1781.3 C3726.9 1793.4 3737.0 1805.8 3746.0 1815.7 C3754.9 1825.6 3763.8 1833.5 3772.7 1840.5 C3781.6 1847.5 3787.4 1860.6 3799.5 1857.7 C3811.6 1854.9 3825.0 1848.2 3845.3 1823.3 C3865.7 1798.5 3909.0 1753.9 3921.8 1708.7 C3934.5 1663.4 3925.4 1579.4 3921.8 1552.0 Z" fill="#FFD37F"/>
<path d="M2593.6 1315.0 C2604.7 1329.6 2616.3 1329.6 2626.1 1337.9 C2636.0 1346.2 2644.6 1354.5 2652.9 1364.7 C2661.2 1374.9 2668.8 1387.0 2675.8 1399.1 C2682.8 1411.2 2689.2 1424.6 2694.9 1437.3 C2700.7 1450.0 2705.1 1462.1 2710.2 1475.5 C2715.3 1488.9 2720.4 1503.5 2725.5 1517.6 C2730.6 1531.6 2735.7 1545.6 2740.8 1559.6 C2745.9 1573.6 2751.0 1587.6 2756.1 1601.6 C2761.2 1615.7 2766.6 1629.7 2771.4 1643.7 C2776.2 1657.7 2780.3 1671.7 2784.8 1685.7 C2789.2 1699.8 2794.0 1714.4 2798.1 1727.8 C2802.3 1741.2 2806.9 1753.6 2809.6 1766.0 C2812.3 1778.4 2811.3 1786.7 2814.2 1802.0 C2817.1 1817.3 2823.1 1838.5 2827.1 1857.9 C2831.0 1877.2 2835.0 1898.0 2837.8 1918.1 C2840.7 1938.1 2842.5 1959.6 2844.3 1978.2 C2846.1 1996.8 2847.9 2014.0 2848.6 2029.8 C2849.3 2045.6 2850.0 2058.5 2848.6 2072.8 C2847.1 2087.1 2844.3 2101.4 2840.0 2115.8 C2835.7 2130.1 2829.9 2144.4 2822.8 2158.7 C2815.6 2173.1 2807.0 2187.4 2797.0 2201.7 C2787.0 2216.0 2774.1 2231.1 2762.6 2244.7 C2751.1 2258.3 2739.7 2270.5 2728.2 2283.4 C2716.8 2296.3 2703.9 2311.0 2693.8 2322.1 C2683.8 2333.2 2676.4 2340.2 2668.1 2350.0 C2659.7 2359.8 2650.2 2369.1 2644.0 2380.6 C2637.8 2392.0 2633.5 2404.8 2630.6 2418.8 C2627.8 2432.8 2626.5 2449.4 2626.8 2464.7 C2627.1 2480.0 2630.0 2495.2 2632.5 2510.5 C2635.1 2525.8 2638.3 2539.8 2642.1 2556.4 C2645.9 2573.0 2650.7 2592.1 2655.5 2609.9 C2660.2 2627.8 2666.3 2646.2 2670.8 2663.4 C2675.2 2680.6 2679.0 2696.6 2682.2 2713.1 C2685.4 2729.7 2688.0 2746.9 2689.9 2762.8 C2691.8 2778.7 2693.2 2797.2 2693.7 2808.7 C2694.2 2820.1 2688.5 2825.2 2692.9 2831.6 C2697.4 2838.0 2725.4 2834.8 2720.4 2846.9 C2715.5 2859.0 2677.4 2889.3 2663.1 2904.2 C2648.8 2919.1 2641.8 2931.6 2634.5 2936.4 C2627.2 2941.1 2624.9 2932.2 2619.2 2932.5 C2613.5 2932.9 2609.0 2937.6 2600.1 2938.3 C2591.2 2938.9 2578.4 2938.6 2565.7 2936.4 C2553.0 2934.1 2537.7 2930.0 2523.7 2924.9 C2509.6 2919.8 2494.3 2912.8 2481.6 2905.8 C2468.9 2898.8 2457.4 2891.8 2447.2 2882.8 C2437.0 2873.9 2427.5 2863.1 2420.4 2852.3 C2413.4 2841.4 2409.3 2829.3 2405.2 2817.9 C2401.0 2806.4 2398.8 2794.9 2395.6 2783.5 C2392.4 2772.0 2390.2 2759.3 2386.0 2749.1 C2381.9 2738.9 2377.8 2729.6 2370.8 2722.3 C2363.8 2715.0 2354.8 2710.5 2344.0 2705.1 C2333.2 2699.7 2318.5 2694.6 2305.8 2689.8 C2293.0 2685.0 2280.3 2680.9 2267.6 2676.4 C2254.8 2672.0 2242.1 2666.6 2229.3 2663.1 C2216.6 2659.6 2202.6 2655.1 2191.1 2655.4 C2179.6 2655.7 2169.5 2658.9 2160.5 2665.0 C2151.6 2671.0 2143.3 2680.9 2137.6 2691.7 C2131.9 2702.6 2128.7 2719.8 2126.1 2730.0 C2123.6 2740.1 2122.6 2744.6 2122.3 2752.9 C2122.0 2761.2 2122.3 2771.4 2124.2 2779.6 C2126.1 2787.9 2129.0 2797.2 2133.8 2802.6 C2138.6 2808.0 2143.3 2809.9 2152.9 2812.1 C2162.4 2814.4 2178.4 2814.4 2191.1 2816.0 C2203.9 2817.6 2216.6 2818.8 2229.3 2821.7 C2242.1 2824.6 2254.8 2829.3 2267.6 2833.2 C2280.3 2837.0 2296.2 2842.1 2305.8 2844.6 C2315.3 2847.2 2318.5 2844.6 2324.9 2848.4 C2331.3 2852.3 2337.6 2860.6 2344.0 2867.6 C2350.4 2874.6 2359.6 2884.8 2363.1 2890.5 C2366.6 2896.2 2365.0 2899.4 2365.0 2902.0 C2365.0 2904.5 2366.6 2903.2 2363.1 2905.8 C2359.6 2908.3 2353.6 2913.7 2344.0 2917.2 C2334.4 2920.8 2319.8 2924.3 2305.8 2926.8 C2291.8 2929.4 2275.2 2931.9 2259.9 2932.5 C2244.6 2933.2 2228.7 2932.5 2214.0 2930.6 C2199.4 2928.7 2185.4 2924.6 2172.0 2921.1 C2158.6 2917.6 2144.6 2911.8 2133.8 2909.6 C2122.9 2907.4 2115.9 2905.1 2107.0 2907.7 C2098.1 2910.2 2088.5 2917.6 2080.3 2924.9 C2072.0 2932.2 2063.7 2940.8 2057.3 2951.6 C2051.0 2962.5 2044.6 2975.2 2042.0 2989.9 C2039.5 3004.5 2039.5 3021.7 2042.0 3039.6 C2044.6 3057.4 2050.3 3077.8 2057.3 3096.9 C2064.3 3116.0 2074.5 3135.1 2084.1 3154.2 C2093.6 3173.3 2104.5 3192.8 2114.7 3211.6 C2124.9 3230.4 2138.6 3253.1 2145.2 3267.0 C2151.9 3280.9 2147.2 3280.1 2154.4 3295.0 C2161.7 3309.8 2178.6 3335.7 2188.8 3356.1 C2199.0 3376.5 2207.9 3398.1 2215.5 3417.2 C2223.2 3436.3 2226.3 3454.7 2234.6 3470.6 C2242.9 3486.6 2254.3 3500.0 2265.2 3512.6 C2276.1 3525.3 2287.8 3541.9 2300.0 3546.3 C2312.2 3550.6 2325.5 3543.7 2338.2 3538.6 C2351.0 3533.5 2363.7 3524.6 2376.4 3515.7 C2389.2 3506.8 2401.9 3495.9 2414.7 3485.1 C2427.4 3474.3 2442.1 3458.7 2452.9 3450.7 C2463.7 3442.8 2470.7 3440.2 2479.6 3437.3 C2488.6 3434.5 2496.8 3431.9 2506.4 3433.5 C2516.0 3435.1 2526.8 3439.6 2537.0 3446.9 C2547.2 3454.2 2557.4 3466.6 2567.6 3477.5 C2577.8 3488.3 2587.9 3500.4 2598.1 3511.9 C2608.3 3523.3 2618.5 3534.8 2628.7 3546.3 C2638.9 3557.7 2649.1 3568.7 2659.3 3580.7 C2669.5 3592.6 2679.7 3605.9 2689.9 3617.9 C2700.1 3629.8 2710.3 3640.8 2720.4 3652.3 C2730.6 3663.7 2742.7 3677.1 2751.0 3686.7 C2759.3 3696.2 2764.4 3702.6 2770.1 3709.6 C2775.9 3716.6 2763.8 3663.6 2785.4 3728.7 C2807.1 3793.8 3314.2 4038.1 2900.0 4100.0 C2485.8 4161.9 733.3 4583.3 300.0 4100.0 C-133.3 3616.7 -50.0 1683.3 300.0 1200.0 C650.0 716.7 2023.3 1191.7 2400.0 1200.0 C2776.7 1208.3 2527.7 1230.8 2560.0 1250.0 C2592.3 1269.2 2582.6 1300.3 2593.6 1315.0 Z" fill="#FFD37F"/>
<path d="M1564.7 2229.1 C1567.2 2280.0 1575.8 2280.0 1580.0 2305.5 C1584.2 2330.9 1587.7 2356.4 1589.9 2381.9 C1592.0 2407.3 1593.3 2432.8 1592.9 2458.2 C1592.6 2483.7 1590.4 2511.7 1587.6 2534.6 C1584.8 2557.5 1580.6 2575.3 1576.1 2595.7 C1571.7 2616.1 1564.7 2636.4 1560.9 2656.8 C1557.0 2677.2 1553.9 2697.5 1553.2 2717.9 C1552.6 2738.3 1554.5 2758.6 1557.0 2779.0 C1559.6 2799.4 1564.3 2819.7 1568.5 2840.1 C1572.7 2860.5 1578.7 2880.8 1582.2 2901.2 C1585.8 2921.6 1588.4 2941.9 1589.9 2962.3 C1591.4 2982.7 1593.1 3003.0 1591.4 3023.4 C1589.8 3043.8 1587.6 3065.4 1580.0 3084.5 C1572.3 3103.6 1560.2 3123.3 1545.6 3137.9 C1530.9 3152.6 1512.5 3162.8 1492.1 3172.3 C1471.8 3181.9 1445.0 3189.5 1423.4 3195.2 C1401.8 3201.0 1381.4 3206.0 1362.3 3206.7 C1343.2 3207.3 1325.4 3204.1 1308.8 3199.0 C1292.3 3194.0 1278.3 3186.3 1263.0 3176.1 C1247.7 3166.0 1232.5 3151.9 1217.2 3137.9 C1201.9 3123.9 1185.4 3107.4 1171.4 3092.1 C1157.4 3076.8 1144.6 3061.6 1133.2 3046.3 C1121.7 3031.0 1110.9 3013.2 1102.6 3000.5 C1094.4 2987.7 1111.5 2977.6 1083.5 2969.9 C1055.5 2962.3 1048.5 2957.2 934.6 2954.7 C820.7 2952.1 489.1 3113.8 400.0 2954.7 C310.9 2795.5 205.9 2159.1 400.0 2000.0 C594.1 1840.9 1370.6 1961.8 1564.7 2000.0 C1758.8 2038.2 1562.1 2178.2 1564.7 2229.1 Z" fill="#E69800"/>
<path d="M2291.3 2039.0 C2300.8 2039.2 2312.3 2040.2 2322.8 2043.3 C2333.3 2046.4 2344.7 2050.9 2354.3 2057.6 C2363.8 2064.3 2372.9 2073.4 2380.1 2083.4 C2387.2 2093.4 2392.7 2105.3 2397.3 2117.8 C2401.8 2130.2 2405.4 2144.5 2407.3 2157.9 C2409.2 2171.3 2409.9 2184.6 2408.7 2198.0 C2407.5 2211.4 2404.4 2224.7 2400.1 2238.1 C2395.8 2251.5 2390.1 2265.3 2383.0 2278.2 C2375.8 2291.1 2367.2 2304.0 2357.2 2315.5 C2347.1 2326.9 2334.7 2337.9 2322.8 2347.0 C2310.8 2356.1 2297.9 2363.2 2285.5 2369.9 C2273.1 2376.6 2260.2 2382.8 2248.3 2387.1 C2236.3 2391.4 2224.4 2394.5 2213.9 2395.7 C2203.4 2396.9 2194.8 2397.1 2185.2 2394.3 C2175.7 2391.4 2165.7 2385.9 2156.6 2378.5 C2147.5 2371.1 2138.0 2360.4 2130.8 2349.9 C2123.6 2339.4 2118.1 2327.4 2113.6 2315.5 C2109.1 2303.5 2106.0 2290.6 2103.6 2278.2 C2101.2 2265.8 2099.3 2253.4 2099.3 2241.0 C2099.3 2228.6 2100.7 2216.1 2103.6 2203.7 C2106.4 2191.3 2111.0 2178.4 2116.5 2166.5 C2122.0 2154.5 2128.4 2143.1 2136.5 2132.1 C2144.7 2121.1 2154.7 2110.6 2165.2 2100.6 C2175.7 2090.5 2187.6 2080.0 2199.6 2071.9 C2211.5 2063.8 2225.8 2056.9 2236.8 2051.9 C2247.8 2046.8 2256.4 2044.0 2265.5 2041.8 C2274.5 2039.7 2281.7 2038.7 2291.3 2039.0 Z" fill="#E69800"/>
<path d="M2196.4 1655.8 C2199.7 1673.9 2209.8 1702.3 2215.5 1728.4 C2221.2 1754.5 2227.6 1785.7 2230.8 1812.4 C2234.0 1839.1 2236.5 1865.9 2234.6 1888.8 C2232.7 1911.7 2227.0 1930.8 2219.3 1949.9 C2211.7 1969.0 2201.5 1986.8 2188.8 2003.3 C2176.1 2019.9 2158.2 2032.6 2143.0 2049.2 C2127.7 2065.7 2109.9 2083.5 2097.1 2102.6 C2084.4 2121.7 2073.6 2143.4 2066.6 2163.7 C2059.6 2184.1 2055.1 2204.5 2055.1 2224.8 C2055.1 2245.2 2060.9 2265.6 2066.6 2285.9 C2072.3 2306.3 2081.9 2325.4 2089.5 2347.0 C2097.1 2368.7 2106.0 2392.8 2112.4 2415.8 C2118.8 2438.7 2125.8 2462.8 2127.7 2484.5 C2129.6 2506.1 2129.0 2526.5 2123.9 2545.6 C2118.8 2564.7 2106.7 2581.2 2097.1 2599.0 C2087.6 2616.9 2073.6 2630.2 2066.6 2652.5 C2059.6 2674.8 2057.0 2719.3 2055.1 2732.7 C2053.2 2746.1 2057.0 2723.2 2055.1 2732.9 C2053.2 2742.6 2049.4 2769.8 2043.7 2790.9 C2037.9 2812.1 2030.9 2839.9 2020.8 2859.7 C2010.6 2879.4 1997.9 2896.6 1982.6 2909.3 C1967.3 2922.0 1945.7 2929.7 1929.1 2936.0 C1912.6 2942.4 1901.4 2946.9 1883.3 2947.5 C1865.2 2948.1 1839.9 2945.8 1820.5 2939.4 C1801.2 2932.9 1783.6 2921.6 1767.1 2908.8 C1750.5 2896.1 1735.2 2879.6 1721.2 2863.0 C1707.2 2846.5 1693.2 2828.6 1683.1 2809.5 C1672.9 2790.5 1665.2 2771.4 1660.1 2748.4 C1655.1 2725.5 1654.4 2700.1 1652.5 2672.1 C1650.6 2644.1 1650.6 2611.0 1648.7 2580.4 C1646.8 2549.9 1644.0 2519.3 1641.1 2488.8 C1638.1 2458.2 1634.3 2427.7 1631.1 2397.1 C1627.9 2366.6 1625.0 2335.4 1622.0 2305.5 C1618.9 2275.6 1616.5 2243.6 1612.8 2217.7 C1609.1 2191.7 1577.1 2177.9 1600.0 2150.0 C1622.9 2122.1 1720.0 2108.3 1750.0 2050.0 C1780.0 1991.7 1755.0 1858.3 1780.0 1800.0 C1805.0 1741.7 1846.7 1733.3 1900.0 1700.0 C1953.3 1666.7 2050.7 1613.3 2100.0 1600.0 C2149.3 1586.7 2179.9 1610.7 2196.0 1620.0 C2212.1 1629.3 2193.2 1637.8 2196.4 1655.8 Z" fill="#FFEBAF"/>
<path d="M1069.8 3065.0 C1079.5 3072.5 1095.3 3091.1 1108.0 3107.0 C1120.7 3122.9 1134.8 3142.7 1146.2 3160.5 C1157.7 3178.4 1167.9 3196.2 1176.8 3214.0 C1185.7 3231.9 1194.8 3255.9 1199.7 3267.6 C1204.7 3279.2 1203.1 3272.8 1206.4 3283.8 C1209.7 3294.8 1216.0 3317.5 1219.8 3333.5 C1223.6 3349.4 1226.8 3366.0 1229.3 3379.3 C1231.9 3392.7 1233.8 3403.5 1235.1 3413.7 C1236.3 3423.9 1236.2 3409.4 1237.0 3440.5 C1237.8 3471.5 1396.2 3573.4 1240.0 3600.0 C1083.8 3626.6 456.7 3690.0 300.0 3600.0 C143.3 3510.0 200.0 3150.0 300.0 3060.0 C400.0 2970.0 775.0 3059.7 900.0 3060.0 C1025.0 3060.3 1021.7 3061.2 1050.0 3062.0 C1078.3 3062.8 1060.1 3057.5 1069.8 3065.0 Z" fill="#FFEBAF"/>
<path d="M2234.6 2530.3 C2239.1 2516.3 2246.1 2492.1 2257.5 2476.8 C2269.0 2461.6 2286.8 2447.6 2303.3 2438.7 C2319.9 2429.8 2339.0 2425.3 2356.8 2423.4 C2374.6 2421.5 2393.7 2422.1 2410.3 2427.2 C2426.8 2432.3 2444.6 2441.8 2456.1 2453.9 C2467.5 2466.0 2475.8 2481.9 2479.0 2499.8 C2482.2 2517.6 2480.3 2541.8 2475.2 2560.9 C2470.1 2580.0 2459.3 2597.8 2448.4 2614.3 C2437.6 2630.9 2424.3 2647.4 2410.3 2660.1 C2396.3 2672.9 2379.7 2685.6 2364.4 2690.7 C2349.2 2695.8 2333.9 2695.8 2318.6 2690.7 C2303.3 2685.6 2285.5 2674.1 2272.8 2660.1 C2260.1 2646.1 2249.2 2623.2 2242.2 2606.7 C2235.2 2590.1 2232.1 2573.6 2230.8 2560.9 C2229.5 2548.1 2230.2 2544.3 2234.6 2530.3 Z" fill="#FFEBAF"/>
<path d="M1929.3 3452.9 C1939.5 3445.9 1953.5 3437.0 1967.6 3430.0 C1981.6 3422.9 1997.5 3415.0 2013.4 3410.8 C2029.4 3406.7 2047.8 3403.8 2063.1 3405.1 C2078.4 3406.4 2093.1 3411.2 2105.2 3418.5 C2117.3 3425.8 2127.5 3437.6 2135.7 3449.1 C2144.0 3460.5 2149.8 3473.9 2154.8 3487.3 C2159.9 3500.7 2163.1 3514.7 2166.3 3529.3 C2169.5 3544.0 2172.4 3559.9 2174.0 3575.2 C2175.6 3590.5 2176.5 3605.8 2175.9 3621.1 C2175.2 3636.4 2173.0 3651.6 2170.1 3666.9 C2167.3 3682.2 2163.8 3697.5 2158.7 3712.8 C2153.6 3728.1 2146.6 3745.3 2139.6 3758.7 C2132.6 3772.0 2126.2 3783.5 2116.6 3793.1 C2107.1 3802.6 2100.7 3828.1 2082.2 3816.0 C2063.8 3803.9 2024.9 3755.5 2005.8 3720.4 C1986.7 3685.4 1986.7 3634.4 1967.6 3605.8 C1948.4 3577.1 1901.3 3570.7 1891.1 3548.4 C1880.9 3526.2 1900.0 3487.9 1906.4 3472.0 C1912.8 3456.1 1919.1 3459.9 1929.3 3452.9 Z" fill="#FFEBAF"/>
<path d="M2216.0 2879.0 C2217.2 2873.9 2220.7 2865.3 2225.5 2859.9 C2230.3 2854.5 2236.3 2849.1 2244.6 2846.5 C2252.9 2844.0 2265.0 2843.7 2275.2 2844.6 C2285.4 2845.6 2295.6 2848.4 2305.8 2852.3 C2316.0 2856.1 2327.4 2861.8 2336.4 2867.6 C2345.3 2873.3 2354.5 2880.9 2359.3 2886.7 C2364.1 2892.4 2365.7 2896.9 2365.0 2902.0 C2364.4 2907.1 2361.5 2913.4 2355.5 2917.2 C2349.4 2921.1 2339.5 2923.6 2328.7 2924.9 C2317.9 2926.2 2303.2 2926.2 2290.5 2924.9 C2277.8 2923.6 2262.5 2921.1 2252.3 2917.2 C2242.1 2913.4 2235.1 2906.4 2229.3 2902.0 C2223.6 2897.5 2220.1 2894.3 2217.9 2890.5 C2215.6 2886.7 2214.7 2884.1 2216.0 2879.0 Z" fill="#FFEBAF"/>
<path d="M1906.2 1816.2 C1917.4 1824.3 1948.2 1806.7 1967.3 1808.6 C1986.4 1810.5 2005.5 1818.1 2020.8 1827.7 C2036.0 1837.2 2048.8 1850.6 2058.9 1865.9 C2069.1 1881.1 2076.8 1900.2 2081.9 1919.3 C2087.0 1938.4 2090.1 1962.6 2089.5 1980.4 C2088.9 1998.2 2083.1 2012.3 2078.0 2026.3 C2073.0 2040.3 2067.2 2051.7 2058.9 2064.4 C2050.7 2077.2 2036.7 2088.6 2028.4 2102.6 C2020.1 2116.6 2013.1 2133.2 2009.3 2148.4 C2005.5 2163.7 2003.6 2179.0 2005.5 2194.3 C2007.4 2209.5 2014.4 2224.8 2020.8 2240.1 C2027.1 2255.4 2036.7 2269.4 2043.7 2285.9 C2050.7 2302.5 2057.9 2320.3 2062.8 2339.4 C2067.6 2358.5 2070.8 2378.8 2072.7 2400.5 C2074.6 2422.1 2076.5 2450.1 2074.2 2469.2 C2071.9 2488.3 2067.9 2502.3 2058.9 2515.0 C2050.0 2527.8 2038.6 2537.9 2020.8 2545.6 C2002.9 2553.2 1967.6 2558.2 1952.0 2560.9 C1936.5 2563.5 1944.3 2560.9 1927.4 2561.3 C1910.6 2561.8 1877.8 2564.9 1851.1 2563.6 C1824.3 2562.4 1790.0 2559.8 1767.1 2553.7 C1744.2 2547.6 1727.6 2540.3 1713.6 2527.0 C1699.6 2513.6 1690.9 2495.1 1683.1 2473.5 C1675.2 2451.9 1670.1 2425.1 1666.3 2397.1 C1662.4 2369.1 1660.5 2337.9 1660.1 2305.5 C1659.8 2273.0 1664.0 2228.3 1664.0 2202.4 C1663.9 2176.5 1642.3 2173.7 1660.0 2150.0 C1677.7 2126.3 1746.7 2115.0 1770.0 2060.0 C1793.3 2005.0 1778.3 1870.0 1800.0 1820.0 C1821.7 1770.0 1882.3 1760.6 1900.0 1760.0 C1917.7 1759.4 1895.0 1808.1 1906.2 1816.2 Z" fill="#FFFFFF"/>
<path d="M2227.4 2877.1 C2227.7 2871.1 2232.2 2864.4 2238.9 2859.9 C2245.6 2855.5 2257.7 2851.0 2267.6 2850.4 C2277.4 2849.7 2290.5 2852.3 2298.1 2856.1 C2305.8 2859.9 2311.2 2866.9 2313.4 2873.3 C2315.7 2879.7 2315.3 2888.9 2311.5 2894.3 C2307.7 2899.7 2299.1 2903.9 2290.5 2905.8 C2281.9 2907.7 2268.8 2907.4 2259.9 2905.8 C2251.0 2904.2 2242.4 2901.0 2237.0 2896.2 C2231.6 2891.4 2227.1 2883.2 2227.4 2877.1 Z" fill="#FFFFFF"/>
<path d="M1423.4 2232.9 C1431.0 2268.6 1457.1 2269.2 1469.2 2290.2 C1481.3 2311.2 1490.2 2336.0 1495.9 2358.9 C1501.7 2381.9 1504.2 2404.8 1503.6 2427.7 C1502.9 2450.6 1499.1 2474.8 1492.1 2496.4 C1485.1 2518.1 1474.3 2540.3 1461.6 2557.5 C1448.8 2574.7 1433.6 2589.3 1415.8 2599.5 C1397.9 2609.7 1375.0 2616.1 1354.7 2618.6 C1334.3 2621.2 1312.6 2616.7 1293.6 2614.8 C1274.5 2612.9 1256.6 2607.8 1240.1 2607.2 C1223.5 2606.5 1209.5 2606.5 1194.3 2611.0 C1179.0 2615.4 1166.3 2623.7 1148.4 2633.9 C1130.6 2644.1 1107.7 2660.6 1087.4 2672.1 C1067.0 2683.5 1045.3 2694.4 1026.3 2702.6 C1007.2 2710.9 1000.8 2718.5 972.8 2721.7 C944.8 2724.9 953.7 2721.7 858.2 2721.7 C762.8 2721.7 476.4 2829.3 400.0 2721.7 C323.6 2614.2 229.4 2183.9 400.0 2076.4 C570.6 1968.8 1252.8 2050.3 1423.4 2076.4 C1594.0 2102.5 1415.8 2197.3 1423.4 2232.9 Z" fill="#734C00"/>
<path d="M3764.4 155.1 C3761.8 174.2 3754.8 185.4 3749.1 202.9 C3743.3 220.4 3736.3 241.1 3730.0 260.2 C3723.6 279.3 3717.2 298.4 3710.8 317.6 C3704.5 336.7 3698.1 355.8 3691.7 374.9 C3685.4 394.0 3678.4 413.1 3672.6 432.2 C3666.9 451.3 3661.8 470.4 3657.3 489.6 C3652.9 508.7 3648.7 531.0 3645.9 546.9 C3643.0 562.8 3640.5 573.7 3640.1 585.1 C3639.8 596.6 3640.5 605.5 3644.0 615.7 C3647.5 625.9 3653.8 637.4 3661.2 646.3 C3668.5 655.2 3677.7 662.8 3687.9 669.2 C3698.1 675.6 3711.5 681.3 3722.3 684.5 C3733.1 687.7 3742.7 689.0 3752.9 688.3 C3763.1 687.7 3774.6 685.1 3783.5 680.7 C3792.4 676.2 3798.8 669.8 3806.4 661.6 C3814.0 653.3 3820.4 642.5 3829.3 631.0 C3838.3 619.5 3849.7 604.9 3859.9 592.8 C3870.1 580.7 3879.7 569.8 3890.5 558.4 C3901.3 546.9 3913.4 534.8 3924.9 524.0 C3936.4 513.1 3949.1 502.9 3959.3 493.4 C3969.5 483.8 3978.4 476.8 3986.0 466.6 C3993.7 456.4 3999.4 444.3 4005.2 432.2 C4010.9 420.1 4016.0 406.7 4020.4 394.0 C4024.9 381.3 4028.1 368.5 4031.9 355.8 C4035.7 343.0 4039.9 330.3 4043.4 317.6 C4046.9 304.8 4050.1 292.1 4052.9 279.3 C4055.8 266.6 4058.4 253.9 4060.6 241.1 C4062.8 228.4 4064.9 213.7 4066.3 202.9 C4067.8 192.1 4068.7 195.2 4069.4 176.1 C4070.0 157.0 4121.0 102.9 4070.1 88.2 C4019.3 73.6 3815.3 77.1 3764.4 88.2 C3713.4 99.4 3766.9 136.0 3764.4 155.1 Z" fill="#734C00"/>
<path d="M3375.2 1350.1 C3384.1 1350.3 3395.6 1352.1 3405.8 1355.1 C3416.0 1358.2 3426.2 1362.8 3436.4 1368.5 C3446.6 1374.2 3457.4 1381.9 3466.9 1389.5 C3476.5 1397.2 3485.4 1405.1 3493.7 1414.4 C3502.0 1423.6 3509.6 1434.1 3516.6 1444.9 C3523.6 1455.8 3529.7 1467.2 3535.7 1479.3 C3541.8 1491.4 3547.5 1504.8 3552.9 1517.6 C3558.4 1530.3 3563.4 1543.0 3568.2 1555.8 C3573.0 1568.5 3577.8 1581.3 3581.6 1594.0 C3585.4 1606.7 3588.5 1619.5 3591.2 1632.2 C3593.8 1645.0 3596.1 1657.7 3597.7 1670.4 C3599.3 1683.2 3600.3 1695.9 3600.7 1708.7 C3601.1 1721.4 3600.9 1734.8 3600.0 1746.9 C3599.0 1759.0 3597.7 1770.5 3595.0 1781.3 C3592.2 1792.1 3588.3 1802.3 3583.5 1811.9 C3578.7 1821.4 3573.0 1831.3 3566.3 1838.6 C3559.6 1846.0 3551.7 1852.0 3543.4 1855.8 C3535.1 1859.7 3526.2 1861.9 3516.6 1861.6 C3507.1 1861.2 3495.6 1858.4 3486.0 1853.9 C3476.5 1849.5 3467.6 1842.5 3459.3 1834.8 C3451.0 1827.2 3443.4 1817.6 3436.4 1808.1 C3429.4 1798.5 3423.6 1787.7 3417.2 1777.5 C3410.9 1767.3 3404.5 1756.5 3398.1 1746.9 C3391.8 1737.3 3386.0 1728.4 3379.0 1720.1 C3372.0 1711.9 3364.4 1704.2 3356.1 1697.2 C3347.8 1690.2 3338.9 1684.5 3329.3 1678.1 C3319.8 1671.7 3308.3 1666.0 3298.8 1659.0 C3289.2 1652.0 3279.6 1644.3 3272.0 1636.0 C3264.4 1627.8 3258.0 1618.8 3252.9 1609.3 C3247.8 1599.7 3243.7 1589.5 3241.4 1578.7 C3239.2 1567.9 3238.6 1556.4 3239.5 1544.3 C3240.5 1532.2 3243.7 1518.8 3247.2 1506.1 C3250.7 1493.4 3255.1 1480.6 3260.5 1467.9 C3265.9 1455.1 3272.6 1441.8 3279.6 1429.6 C3286.7 1417.5 3294.3 1405.4 3302.6 1395.2 C3310.9 1385.1 3321.1 1375.4 3329.3 1368.5 C3337.6 1361.6 3344.6 1357.0 3352.3 1354.0 C3359.9 1350.9 3366.3 1350.0 3375.2 1350.1 Z" fill="#734C00"/>
<path d="M2816.0 2667.2 C2811.1 2659.2 2807.7 2660.9 2800.7 2652.0 C2793.7 2643.0 2781.6 2627.8 2774.0 2613.7 C2766.3 2599.7 2759.6 2583.2 2754.8 2567.9 C2750.1 2552.6 2746.6 2537.3 2745.3 2522.0 C2744.0 2506.7 2744.3 2492.1 2747.2 2476.1 C2750.1 2460.2 2754.2 2442.4 2762.5 2426.4 C2770.8 2410.5 2782.2 2393.3 2796.9 2380.6 C2811.5 2367.8 2833.2 2361.1 2850.4 2350.0 C2867.6 2338.9 2885.4 2319.4 2900.0 2314.0 C2914.6 2308.7 2925.5 2314.0 2938.2 2317.9 C2951.0 2321.7 2963.7 2327.4 2976.4 2337.0 C2989.2 2346.5 3002.6 2360.6 3014.7 2375.2 C3026.8 2389.9 3038.9 2408.3 3049.1 2424.9 C3059.3 2441.5 3068.2 2458.7 3075.8 2474.6 C3083.5 2490.5 3089.8 2505.2 3094.9 2520.4 C3100.0 2535.7 3104.2 2551.7 3106.4 2566.3 C3108.6 2581.0 3109.6 2593.7 3108.3 2608.4 C3107.0 2623.0 3103.5 2640.9 3098.8 2654.2 C3094.0 2667.6 3086.0 2679.7 3079.6 2688.6 C3073.3 2697.5 3063.8 2690.8 3060.5 2707.7 C3057.3 2724.6 3095.1 2776.3 3060.0 2790.0 C3024.9 2803.7 2888.3 2805.0 2850.0 2790.0 C2811.7 2775.0 2835.7 2720.5 2830.0 2700.0 C2824.3 2679.5 2820.9 2675.3 2816.0 2667.2 Z" fill="#734C00"/>
<path d="M2225.5 2752.9 C2226.2 2746.5 2228.7 2736.0 2233.2 2730.0 C2237.6 2723.9 2244.0 2719.8 2252.3 2716.6 C2260.6 2713.4 2272.0 2710.5 2282.8 2710.8 C2293.7 2711.2 2307.1 2714.0 2317.2 2718.5 C2327.4 2722.9 2336.7 2730.0 2344.0 2737.6 C2351.3 2745.2 2357.7 2754.8 2361.2 2764.4 C2364.7 2773.9 2365.7 2785.4 2365.0 2794.9 C2364.4 2804.5 2361.5 2814.7 2357.4 2821.7 C2353.2 2828.7 2346.9 2833.5 2340.2 2837.0 C2333.5 2840.5 2324.9 2842.7 2317.2 2842.7 C2309.6 2842.7 2302.6 2841.1 2294.3 2837.0 C2286.0 2832.8 2275.8 2825.5 2267.6 2817.9 C2259.3 2810.2 2251.0 2799.4 2244.6 2791.1 C2238.3 2782.8 2232.5 2774.6 2229.3 2768.2 C2226.2 2761.8 2224.9 2759.3 2225.5 2752.9 Z" fill="#734C00"/>
<path d="M2181.6 3031.9 C2182.2 3023.6 2183.2 3010.9 2187.3 3001.3 C2191.4 2991.8 2198.8 2981.9 2206.4 2974.6 C2214.0 2967.3 2223.0 2961.5 2233.2 2957.4 C2243.4 2953.2 2256.1 2950.4 2267.6 2949.7 C2279.0 2949.1 2291.1 2950.1 2302.0 2953.6 C2312.8 2957.1 2324.3 2963.4 2332.5 2970.8 C2340.8 2978.1 2347.8 2988.6 2351.6 2997.5 C2355.5 3006.4 2356.7 3015.4 2355.5 3024.3 C2354.2 3033.2 2349.7 3043.4 2344.0 3051.0 C2338.3 3058.7 2330.0 3065.0 2321.1 3070.1 C2312.2 3075.2 2301.3 3078.7 2290.5 3081.6 C2279.7 3084.5 2267.6 3087.0 2256.1 3087.3 C2244.6 3087.7 2231.9 3086.7 2221.7 3083.5 C2211.5 3080.3 2201.3 3073.6 2194.9 3068.2 C2188.6 3062.8 2185.7 3057.1 2183.5 3051.0 C2181.2 3045.0 2180.9 3040.2 2181.6 3031.9 Z" fill="#734C00"/>
<g fill="none" stroke="#808080" stroke-width="3.5" stroke-linejoin="round" stroke-linecap="round">
<path d="M3022.3 778.4 L3028.4 780.7 L3034.7 782.7 L3040.7 785.1 L3046.8 787.0 L3052.5 790.4 L3059.0 791.3 L3065.3 788.8 L3071.6 787.0 L3078.1 785.3 L3084.8 786.3 L3090.7 790.0 L3096.5 793.2 L3100.9 797.2 L3103.6 800.6 L3108.0 804.6 L3111.8 810.3 L3117.0 815.0 L3124.3 816.5 L3129.5 819.5 L3133.8 823.3 L3138.7 819.7 L3142.7 814.5 L3146.3 809.0 L3149.2 803.0 L3151.3 797.1 L3155.5 793.2 L3161.2 791.2 L3167.5 788.8 L3173.8 787.0 L3180.5 786.9 L3187.1 788.2 L3193.5 790.3 L3200.0 792.1 L3206.9 792.3 L3213.5 790.2 L3219.4 786.6 L3225.3 783.7 L3231.2 781.2 L3237.6 779.6 L3244.0 777.2 L3247.2 771.2 L3249.9 765.3 L3255.1 760.9 L3259.5 756.3 L3261.2 749.4 L3263.3 743.5 L3264.3 737.9 L3262.4 731.8 L3260.2 725.7 L3259.8 719.1 L3258.8 712.7 L3256.9 706.4 L3255.5 700.0"/>
<path d="M3106.4 700.0 L3109.5 705.8 L3114.9 710.2 L3119.1 715.3 L3123.4 720.5 L3126.9 726.4 L3127.3 733.6 L3131.3 738.7 L3138.2 738.2 L3145.1 738.5 L3151.0 742.5 L3156.3 746.6 L3163.1 748.6 L3167.7 754.5 L3164.6 760.9 L3160.1 766.4 L3157.8 773.4 L3161.5 779.7 L3163.7 786.0"/>
<path d="M3266.9 742.0 L3273.1 745.1 L3279.3 747.9 L3286.5 746.8 L3293.4 746.1 L3300.1 747.6 L3305.1 752.1 L3304.9 758.8 L3307.3 765.7 L3314.7 767.6 L3322.0 764.8 L3328.7 765.1 L3335.1 768.6 L3342.1 767.4 L3347.8 763.3 L3353.6 759.6 L3357.2 753.4 L3357.8 746.1 L3360.8 740.0 L3363.5 733.6 L3362.2 726.7 L3360.7 719.8 L3361.5 713.2 L3363.4 706.6 L3364.4 700.0"/>
<path d="M3251.6 776.4 L3252.2 783.0 L3251.1 789.9 L3253.8 796.4 L3259.0 800.8 L3263.9 805.2 L3269.2 809.0 L3275.6 812.0 L3279.2 818.2 L3278.6 825.0 L3279.8 831.7 L3285.0 835.9 L3290.7 839.4 L3296.6 842.2 L3302.7 844.7 L3308.6 847.6 L3313.8 852.1 L3319.7 854.7 L3327.0 855.4 L3333.0 859.2 L3336.6 865.6 L3336.6 872.8 L3335.2 879.4 L3331.7 885.4 L3326.8 890.4 L3323.6 896.3 L3323.7 903.7 L3324.7 910.6 L3325.4 918.5 L3332.6 922.1 L3340.0 921.8 L3346.2 923.8 L3353.2 924.0 L3356.3 917.6 L3357.8 910.6 L3362.9 905.9 L3369.4 903.8 L3374.9 900.1 L3380.6 896.7 L3387.0 894.8 L3392.8 891.8 L3398.7 888.0 L3406.2 888.6 L3407.7 896.1 L3408.6 902.7 L3408.9 909.6 L3407.9 916.5 L3403.4 921.9 L3398.7 926.9 L3397.5 933.6 L3396.0 940.9 L3391.2 945.6 L3384.6 948.6 L3379.1 952.4 L3374.9 957.5 L3371.1 963.0 L3366.3 967.6"/>
<path d="M3133.2 826.1 L3135.0 832.6 L3137.7 838.1 L3142.3 841.6 L3148.8 842.9 L3155.2 844.9 L3159.6 850.0 L3163.2 854.8 L3169.0 858.2 L3174.8 861.8 L3177.8 867.6 L3182.3 869.4 L3187.0 864.5 L3192.4 860.6 L3198.2 857.0 L3201.5 850.9 L3204.3 844.9 L3209.2 840.1 L3212.8 834.4 L3215.3 827.8 L3221.9 825.2 L3229.0 827.3 L3235.7 827.5 L3241.9 826.3 L3248.3 825.5 L3254.8 826.3 L3261.1 828.5 L3267.9 829.2 L3274.6 830.0"/>
<path d="M3022.3 879.6 L3028.3 882.5 L3033.2 887.0 L3037.6 892.0 L3041.2 896.6 L3046.0 900.7 L3049.7 906.8 L3048.4 913.6 L3051.7 919.5 L3058.9 919.3 L3065.4 920.0 L3070.8 921.4 L3077.2 922.7 L3083.2 920.0 L3087.3 914.5 L3089.2 908.3 L3091.5 902.5 L3095.8 897.6 L3100.5 892.6 L3104.5 887.3 L3108.1 881.8 L3110.7 875.7 L3115.1 870.8 L3120.4 867.0 L3125.1 862.5 L3129.4 857.3 L3135.1 853.9 L3141.1 851.3 L3147.0 848.0 L3153.6 847.0 L3159.9 845.2"/>
<path d="M3072.0 925.5 L3071.1 932.2 L3069.2 938.6 L3065.7 944.5 L3065.9 951.1 L3070.1 957.0 L3070.8 963.5 L3070.5 970.4 L3073.4 976.5 L3073.9 983.1 L3074.3 990.3 L3077.7 996.2 L3083.3 1000.4 L3089.6 1002.8 L3095.4 1005.5 L3101.0 1009.4 L3106.4 1013.4"/>
<path d="M3091.1 914.0 L3096.9 917.6 L3103.4 920.1 L3109.5 923.0 L3114.2 928.1 L3119.5 933.2 L3125.8 935.9 L3132.7 936.7 L3139.7 937.0 L3146.5 938.1 L3152.9 940.2 L3159.2 942.4 L3165.4 942.0 L3172.2 940.9 L3179.1 939.3 L3184.9 935.6 L3190.6 931.7 L3196.5 928.2 L3200.8 922.5 L3205.8 917.9"/>
<path d="M3179.0 872.0 L3180.5 878.5 L3183.2 884.5 L3186.8 890.1 L3190.4 895.6 L3194.1 900.8 L3197.9 906.1 L3201.1 911.9 L3204.4 917.7 L3208.4 922.8 L3213.5 927.1 L3219.1 930.2 L3224.0 933.9 L3229.3 937.8 L3235.1 940.8 L3240.8 944.9 L3247.8 948.2 L3254.7 946.2 L3260.8 942.9 L3266.9 942.9 L3271.9 946.0 L3275.2 950.1 L3274.9 955.6 L3275.4 962.0 L3276.6 968.6 L3276.5 975.2"/>
<path d="M3163.7 944.6 L3163.6 951.4 L3164.7 958.1 L3166.9 964.5 L3167.8 971.3 L3167.5 978.1 L3167.4 984.7 L3166.6 991.1 L3167.5 997.4 L3169.5 1003.8 L3168.7 1010.7 L3168.6 1017.4 L3171.2 1023.6 L3172.9 1030.1 L3175.2 1036.4"/>
<path d="M2900.0 1044.0 L2906.3 1042.1 L2912.8 1040.8 L2919.2 1039.2 L2925.4 1036.9 L2931.8 1035.7 L2938.4 1034.9 L2944.2 1032.1 L2950.2 1029.3 L2956.7 1027.8 L2962.5 1024.8 L2968.6 1022.3 L2975.0 1020.3 L2981.2 1017.9 L2987.1 1015.1 L2992.2 1010.9 L2997.9 1007.5 L3004.5 1006.2 L3011.1 1007.7 L3017.2 1010.5 L3022.8 1014.0 L3028.8 1016.5 L3035.2 1018.9 L3040.0 1023.4 L3043.9 1029.1 L3047.6 1035.1 L3053.6 1038.8 L3061.3 1038.4 L3067.9 1037.9 L3074.1 1038.5 L3080.6 1040.7 L3087.1 1042.2 L3093.7 1042.8 L3100.3 1041.7 L3107.0 1040.1 L3113.6 1040.2 L3120.2 1041.4 L3126.6 1043.8 L3132.8 1046.4 L3138.5 1049.8 L3142.9 1055.0 L3146.9 1060.7 L3152.7 1065.1 L3161.0 1066.2 L3166.2 1060.2 L3167.0 1052.8 L3169.8 1046.9 L3174.2 1042.5 L3179.5 1041.8 L3185.0 1039.6 L3191.8 1039.2 L3198.0 1041.6 L3204.2 1044.0 L3210.7 1045.1 L3217.2 1045.9"/>
<path d="M3014.7 1042.1 L3010.2 1047.1 L3009.9 1052.7 L3014.5 1056.7 L3018.1 1062.4 L3016.8 1066.9 L3012.2 1068.8 L3007.5 1074.1 L3003.4 1078.1 L3006.5 1081.2 L3011.5 1084.3 L3016.8 1086.6 L3022.9 1087.9 L3029.5 1088.6 L3036.3 1089.6 L3042.9 1088.3 L3049.4 1086.3 L3056.0 1086.9 L3062.6 1087.2 L3069.0 1089.3 L3075.5 1090.3 L3082.3 1089.9"/>
<path d="M3114.0 1086.0 L3120.8 1084.4 L3126.5 1084.4 L3127.4 1084.1 L3127.3 1085.1 L3122.6 1088.3 L3118.6 1095.0 L3126.4 1097.3 L3133.0 1095.8 L3138.8 1091.9 L3144.9 1089.1 L3151.7 1087.5 L3158.3 1085.6 L3164.2 1082.5 L3169.9 1078.3 L3176.2 1076.2 L3180.7 1072.6 L3173.8 1069.6 L3167.6 1066.9"/>
<path d="M2900.0 1089.9 L2906.4 1087.7 L2912.9 1086.2 L2919.6 1086.6 L2926.3 1083.7 L2933.9 1083.4 L2939.9 1087.6 L2945.2 1092.2 L2951.3 1095.0 L2958.0 1094.3 L2964.2 1093.4 L2970.7 1094.2 L2977.4 1095.1 L2984.1 1095.2 L2990.7 1094.4 L2997.3 1093.8 L3003.9 1095.3 L3010.3 1097.2 L3017.0 1096.8 L3023.7 1097.7 L3022.7 1103.3 L3020.0 1109.3 L3017.5 1116.6 L3010.6 1118.5 L3002.7 1119.3 L3000.4 1126.2 L2999.0 1132.8 L2996.8 1138.2 L2993.3 1143.4 L2987.9 1147.2"/>
<path d="M2900.0 1185.4 L2903.9 1180.1 L2909.8 1175.9 L2913.2 1170.2 L2915.1 1164.5 L2918.5 1158.8 L2924.6 1155.4 L2931.5 1156.9 L2938.1 1156.8 L2944.5 1154.7 L2950.9 1153.3 L2957.4 1152.6 L2964.1 1152.2 L2970.6 1151.1 L2976.7 1148.1 L2983.1 1145.9 L2990.0 1147.6 L2996.5 1148.5 L3003.1 1148.7 L3009.6 1150.1 L3016.2 1150.5 L3022.8 1150.8 L3029.4 1150.9 L3036.1 1151.0 L3042.8 1152.5 L3049.5 1154.9 L3054.7 1159.4 L3058.8 1164.9 L3064.9 1167.4 L3070.9 1169.9 L3076.9 1173.0 L3083.5 1174.0"/>
<path d="M2900.0 1235.1 L2906.9 1234.0 L2914.2 1234.3 L2920.4 1230.4 L2925.9 1225.9 L2931.1 1221.7 L2935.9 1216.8 L2941.2 1212.4 L2946.6 1206.6 L2942.8 1199.3 L2936.0 1196.1 L2928.9 1195.7 L2922.0 1195.2 L2915.3 1193.1"/>
<path d="M2926.8 1227.5 L2930.6 1232.8 L2933.1 1239.3 L2937.0 1244.7 L2942.9 1248.2 L2948.2 1252.5 L2952.6 1257.6 L2957.0 1262.7 L2959.4 1268.9 L2960.5 1275.7 L2961.5 1282.5 L2963.1 1288.6 L2965.6 1294.6 L2967.2 1300.5 L2962.8 1303.1 L2956.5 1302.0 L2950.0 1302.0 L2944.0 1305.5 L2937.6 1305.7 L2932.1 1301.7 L2925.4 1300.6 L2918.8 1301.7 L2911.9 1301.9 L2906.0 1304.9 L2900.0 1307.7"/>
<path d="M2968.8 1303.9 L2975.7 1305.4 L2981.8 1310.5 L2988.7 1311.5 L2996.1 1311.0 L3003.2 1311.6"/>
<path d="M3152.3 1238.9 L3158.7 1237.7 L3165.2 1236.4 L3171.5 1234.9 L3177.6 1232.7 L3183.3 1229.5 L3189.8 1228.0 L3196.6 1227.1 L3202.2 1223.6 L3208.1 1220.7 L3214.0 1217.5 L3220.1 1214.9 L3227.1 1215.5 L3233.6 1216.1 L3239.8 1216.5 L3246.2 1216.0 L3252.8 1214.1 L3259.4 1212.5 L3265.2 1210.0 L3271.3 1208.3 L3277.9 1207.5 L3284.5 1207.5 L3291.0 1207.8 L3297.6 1207.6 L3304.2 1208.2 L3310.8 1209.1 L3317.3 1208.5 L3323.9 1208.3 L3330.5 1208.0 L3336.1 1204.6 L3340.7 1199.8 L3346.5 1196.6 L3352.6 1194.2 L3358.0 1190.0 L3364.9 1189.1 L3369.9 1194.1 L3376.2 1195.1 L3382.5 1196.5 L3388.9 1200.1 L3395.1 1199.5 L3401.8 1199.1 L3408.2 1201.0 L3414.3 1203.2 L3419.9 1206.8 L3426.0 1209.3 L3432.9 1209.3 L3439.4 1210.5 L3445.2 1214.0 L3451.3 1216.6 L3458.1 1217.9 L3463.9 1221.3 L3468.1 1227.0 L3473.1 1231.3 L3479.2 1235.8 L3486.2 1232.5 L3488.5 1226.4 L3494.3 1224.1 L3500.9 1224.6 L3507.2 1225.7 L3514.2 1226.1 L3518.5 1220.6 L3519.1 1212.5 L3523.1 1206.2 L3530.4 1203.6 L3537.5 1203.1 L3544.4 1202.9 L3550.6 1200.5 L3556.1 1196.9 L3562.0 1193.9 L3567.1 1189.8 L3573.0 1187.7 L3578.7 1191.1 L3584.6 1192.7 L3592.1 1190.1 L3598.1 1189.6 L3604.4 1189.8 L3609.8 1186.0 L3614.8 1181.6"/>
<path d="M3374.0 1196.9 L3375.8 1190.5 L3376.5 1183.7 L3379.8 1177.8 L3382.9 1171.9 L3386.7 1166.4 L3391.6 1161.6 L3395.0 1155.9 L3397.0 1149.4 L3399.0 1142.8 L3401.8 1136.8 L3405.7 1131.2 L3410.5 1126.5 L3417.5 1125.2 L3424.9 1125.3 L3429.6 1119.7 L3433.5 1113.2 L3440.0 1111.0 L3447.9 1107.4 L3444.1 1099.8 L3437.8 1096.2 L3431.7 1094.5 L3424.9 1095.1 L3419.5 1091.3 L3418.2 1084.7 L3416.0 1078.5 L3413.9 1072.9 L3409.2 1069.6 L3402.6 1066.8 L3399.4 1059.8 L3403.2 1053.2 L3405.5 1046.0 L3401.8 1039.7 L3396.8 1035.0 L3391.3 1030.9 L3386.1 1026.3 L3389.2 1020.4 L3393.2 1015.1 L3396.9 1009.6"/>
<path d="M3404.5 868.2 L3410.4 871.4 L3416.0 875.4 L3422.6 875.8 L3428.6 878.1 L3432.3 883.5 L3437.1 888.0 L3443.4 890.9 L3448.4 895.0 L3452.7 900.3 L3458.1 903.9 L3463.5 909.0 L3462.8 916.3 L3460.2 922.4 L3459.4 928.7 L3460.3 935.1 L3460.6 941.9 L3463.0 948.4 L3467.4 953.7 L3473.9 956.4 L3480.4 958.0 L3485.0 963.3 L3489.9 967.7 L3495.9 969.6 L3500.7 974.9 L3502.2 982.3 L3496.8 987.8 L3492.3 992.7 L3488.6 998.1"/>
<path d="M3458.1 906.4 L3463.8 902.7 L3469.5 898.4 L3476.8 898.4 L3483.6 897.9 L3490.1 895.1 L3496.4 892.1 L3502.5 890.3 L3509.1 889.7 L3515.3 887.3 L3521.3 884.2 L3528.1 882.3 L3534.3 879.0 L3538.9 873.9 L3543.7 869.1 L3548.6 864.4"/>
<path d="M3366.3 700.0 L3370.9 704.7 L3377.0 707.6 L3381.3 712.6 L3385.3 718.0 L3391.3 720.7 L3397.4 721.6 L3403.6 723.3 L3408.1 726.7 L3412.2 731.5 L3415.7 737.1 L3416.7 743.8 L3418.4 751.7 L3425.1 755.7 L3433.0 755.7 L3439.8 752.3 L3445.7 749.1 L3451.0 745.3 L3455.9 740.7 L3459.8 735.6 L3455.9 731.1 L3451.9 726.2 L3447.4 721.6 L3441.0 719.6 L3435.1 715.2 L3438.6 708.9 L3442.8 703.8"/>
<path d="M3396.9 810.8 L3400.9 816.5 L3402.7 823.0 L3401.1 829.9 L3401.1 835.9 L3403.2 842.9 L3403.5 849.2 L3403.5 855.7 L3405.6 862.1 L3408.4 868.2"/>
<path d="M3419.8 749.7 L3420.0 756.3 L3421.8 763.1 L3418.9 769.4 L3413.9 774.3 L3409.0 777.4 L3405.0 782.7 L3400.4 787.1 L3396.2 792.0 L3394.3 798.6 L3394.5 804.2 L3395.1 804.2 L3391.2 798.9 L3388.5 793.0 L3387.2 786.6 L3383.5 781.8 L3377.4 781.6 L3372.3 779.4 L3366.2 779.2 L3360.6 782.0 L3354.8 781.0 L3349.6 777.1 L3344.7 772.8 L3339.6 768.8"/>
<path d="M3435.1 753.5 L3439.2 759.0 L3440.3 765.6 L3439.9 772.5 L3442.6 778.5 L3443.9 784.9 L3446.2 791.1 L3449.4 796.8 L3451.7 803.1 L3458.0 805.1 L3464.6 805.5 L3471.5 809.1 L3479.0 806.7 L3482.3 799.9 L3485.6 793.3 L3491.6 795.5 L3494.4 801.7 L3500.5 805.0 L3507.4 805.6 L3513.4 807.2 L3519.6 809.8 L3526.1 810.4 L3532.3 808.3 L3538.0 805.0 L3543.6 801.7 L3549.8 799.4"/>
<path d="M3175.2 1242.8 L3178.7 1248.6 L3180.6 1255.5 L3186.6 1259.5 L3190.1 1265.1 L3191.1 1271.9 L3195.2 1277.3 L3197.1 1283.7 L3197.7 1290.5 L3200.5 1296.9 L3205.7 1301.1 L3212.3 1303.1 L3214.4 1308.0 L3209.3 1312.7 L3204.3 1316.9 L3200.1 1321.4 L3199.6 1327.6 L3198.4 1334.0 L3195.3 1340.4 L3193.1 1347.2 L3193.9 1354.0 L3195.6 1360.6 L3198.1 1367.0"/>
<path d="M3259.3 1330.7 L3263.1 1336.3 L3269.3 1339.7 L3275.0 1343.0 L3279.9 1346.0 L3285.7 1345.8 L3292.0 1345.1 L3299.0 1347.1 L3305.8 1345.6 L3313.7 1345.7 L3317.3 1352.6 L3321.1 1358.7 L3327.5 1361.2 L3333.8 1363.6 L3339.6 1367.0"/>
<path d="M3511.6 1227.5 L3512.4 1234.2 L3514.8 1240.6 L3517.6 1247.6 L3515.8 1254.9 L3512.1 1260.9 L3507.8 1266.4 L3503.6 1271.9 L3500.4 1278.1 L3498.0 1285.6 L3501.1 1292.4 L3507.5 1297.2 L3511.5 1301.2 L3515.1 1306.7 L3520.1 1311.3 L3525.3 1314.0 L3527.8 1320.0 L3526.9 1326.8 L3526.5 1333.8 L3530.9 1339.4 L3536.6 1343.3 L3541.1 1348.5 L3543.9 1354.9 L3547.1 1360.8 L3549.8 1367.0"/>
<path d="M3614.8 1269.5 L3613.9 1276.0 L3614.5 1282.7 L3614.4 1289.2 L3613.8 1295.4 L3611.3 1301.9 L3611.4 1308.5 L3613.7 1314.8 L3614.3 1321.3 L3613.5 1327.7 L3610.8 1333.5 L3606.4 1339.5 L3608.2 1347.3 L3613.9 1351.9 L3620.4 1354.2 L3626.2 1357.4"/>
<path d="M3610.9 975.2 L3617.0 977.8 L3623.2 979.0 L3628.8 980.4 L3635.6 980.6 L3641.1 976.9 L3647.5 977.0 L3652.2 981.7 L3658.9 983.7 L3664.5 986.3 L3669.6 989.6 L3675.5 992.7 L3681.9 993.3 L3687.3 989.8 L3694.2 989.8 L3700.0 986.7"/>
<path d="M3607.1 944.6 L3613.8 946.8 L3620.7 948.6 L3627.8 947.7 L3634.5 945.2 L3641.5 944.5 L3648.5 946.2 L3655.4 947.4 L3663.1 946.2 L3671.0 947.5 L3674.7 955.0 L3679.7 959.9"/>
<path d="M2835.1 997.2 L2840.1 1001.9 L2843.9 1007.7 L2848.2 1013.1 L2853.4 1017.7 L2858.9 1021.9 L2864.8 1025.4 L2870.9 1028.5 L2873.9 1034.5 L2874.9 1041.2 L2877.1 1047.7 L2881.5 1052.5 L2887.3 1055.5 L2890.5 1062.0 L2893.6 1069.0 L2900.0 1071.9"/>
<path d="M2900.0 1115.9 L2893.1 1116.8 L2885.7 1116.8 L2879.2 1120.7 L2876.8 1128.3 L2872.9 1134.2 L2866.5 1137.1 L2860.3 1139.6 L2858.1 1143.3 L2861.0 1147.8 L2861.9 1155.1 L2863.7 1161.7 L2866.9 1167.8 L2871.5 1172.8 L2877.2 1176.8"/>
<path d="M2881.0 1041.1 L2886.5 1045.6 L2892.6 1049.9 L2900.0 1048.1"/>
<path d="M2816.0 1155.8 L2822.1 1152.8 L2828.3 1149.2 L2835.0 1147.0 L2842.0 1149.0 L2848.7 1152.0 L2855.3 1151.6 L2861.9 1152.0"/>
<path d="M2877.2 1176.8 L2871.4 1180.0 L2865.1 1182.6 L2860.2 1186.9 L2855.3 1191.6 L2850.6 1196.6 L2848.3 1203.0 L2846.4 1209.4 L2842.1 1214.5 L2837.1 1219.4 L2834.3 1225.3 L2834.3 1232.5 L2833.5 1239.3 L2829.3 1244.6 L2824.0 1249.3 L2819.3 1254.3 L2818.0 1260.9 L2817.9 1268.2 L2814.5 1273.8 L2809.4 1278.4 L2804.9 1284.4 L2808.9 1289.1 L2815.2 1285.8 L2822.4 1285.3 L2826.3 1291.3 L2827.2 1298.1 L2826.3 1304.7 L2825.7 1311.2 L2825.3 1317.8 L2824.0 1324.3 L2822.8 1330.8 L2823.7 1337.3"/>
<path d="M2877.2 1176.8 L2885.7 1178.8 L2892.2 1184.8 L2900.0 1188.2"/>
<path d="M2900.0 1236.1 L2893.4 1238.1 L2886.6 1239.1 L2879.8 1239.3 L2873.3 1240.7 L2868.4 1244.5 L2864.0 1249.2 L2858.5 1253.6 L2852.5 1257.1 L2845.2 1259.2 L2841.2 1265.0 L2842.6 1272.8 L2843.0 1279.8 L2837.7 1285.5 L2832.7 1290.8 L2831.4 1297.5 L2828.3 1303.7 L2823.7 1308.7"/>
<path d="M2823.7 1308.7 L2829.7 1311.6 L2836.3 1313.1 L2843.0 1314.3 L2848.8 1317.7 L2856.7 1320.1 L2862.2 1314.4 L2863.4 1307.3 L2867.2 1302.3 L2873.5 1304.0 L2879.8 1306.3 L2886.7 1306.4 L2893.3 1305.6 L2900.0 1305.8"/>
<path d="M2586.7 1366.0 L2592.1 1369.9 L2597.4 1373.9 L2603.1 1377.2 L2609.6 1377.8 L2615.9 1375.9 L2622.1 1373.5 L2627.9 1370.7 L2632.0 1366.4 L2631.6 1359.7 L2633.9 1352.8 L2641.4 1351.4 L2648.4 1353.5 L2655.1 1353.8 L2661.6 1351.7 L2668.2 1351.6 L2674.8 1351.8 L2681.4 1351.3 L2688.0 1352.8 L2694.6 1354.1 L2701.3 1353.2 L2708.0 1352.1 L2714.6 1352.0 L2721.3 1351.6 L2727.3 1349.0 L2732.7 1344.7 L2739.0 1341.8 L2745.9 1340.7 L2752.6 1339.7 L2759.4 1340.7 L2766.0 1340.0 L2772.5 1337.5 L2778.6 1336.4 L2784.4 1335.0 L2791.5 1334.7 L2798.2 1332.3 L2803.7 1328.5 L2808.2 1323.5 L2810.5 1315.9 L2815.8 1311.9 L2821.7 1308.7"/>
<path d="M2823.7 1337.3 L2829.5 1333.9 L2835.3 1333.9 L2837.0 1340.4 L2840.5 1345.9 L2846.6 1349.9 L2851.2 1354.7 L2854.8 1360.4 L2859.7 1364.9 L2864.0 1370.0 L2866.6 1376.3 L2870.7 1381.5 L2873.2 1387.7 L2873.0 1394.9 L2875.8 1401.2 L2880.6 1406.3 L2884.0 1412.2 L2886.1 1419.1 L2891.0 1423.8 L2898.7 1425.9 L2902.4 1431.0 L2899.2 1436.7 L2897.8 1442.4 L2895.9 1448.2 L2892.5 1453.9"/>
<path d="M2838.9 1354.5 L2832.4 1355.8 L2826.4 1359.4 L2820.1 1361.6 L2813.6 1363.1 L2807.3 1365.4 L2801.0 1367.1 L2795.1 1370.0 L2789.4 1373.2 L2782.4 1374.1 L2776.2 1376.7 L2770.9 1381.0 L2764.9 1383.7 L2758.3 1385.7 L2753.1 1389.9 L2748.9 1395.3 L2743.0 1398.6 L2738.2 1403.1 L2735.4 1409.1 L2733.3 1415.5 L2731.9 1422.1 L2731.7 1428.8 L2730.8 1435.6 L2730.3 1442.7 L2735.3 1448.5 L2740.8 1453.9 L2741.0 1460.5 L2740.4 1468.2 L2745.6 1472.8 L2751.0 1476.9"/>
<path d="M2751.0 1476.9 L2757.2 1474.7 L2762.9 1471.3 L2769.6 1470.7 L2774.6 1466.7 L2777.6 1461.1 L2781.6 1455.9 L2785.7 1450.9 L2791.6 1447.8 L2798.6 1449.4 L2805.2 1447.9 L2807.9 1441.1 L2811.9 1436.7 L2817.9 1432.8 L2822.0 1428.1 L2826.8 1424.0 L2832.5 1420.7 L2836.2 1414.9 L2837.1 1407.5 L2840.7 1402.2 L2844.8 1396.8 L2850.5 1393.4 L2855.8 1396.4 L2861.9 1398.0 L2867.9 1400.6 L2873.3 1404.2"/>
<path d="M2751.0 1476.9 L2749.2 1483.8 L2745.2 1490.8 L2746.5 1498.8 L2750.8 1505.0 L2755.9 1510.4 L2758.7 1517.0"/>
<path d="M2892.5 1453.9 L2898.9 1452.1 L2905.1 1449.4 L2912.0 1449.6 L2918.7 1448.7 L2924.9 1446.1 L2931.2 1444.0 L2937.7 1442.5 L2944.0 1440.1 L2950.1 1437.5 L2956.5 1435.6 L2963.4 1434.7 L2970.0 1433.2 L2975.9 1429.7 L2982.2 1427.1 L2988.6 1424.8 L2993.8 1420.5 L2999.4 1416.7 L3004.5 1412.1 L3008.2 1405.6 L3013.8 1401.9 L3020.8 1400.4 L3026.2 1396.6"/>
<path d="M2892.5 1453.9 L2889.8 1460.5 L2886.9 1466.4 L2882.7 1471.0 L2878.2 1476.6 L2874.2 1482.2 L2872.4 1488.9 L2872.7 1496.1 L2872.8 1503.1 L2871.1 1510.1 L2869.5 1517.0"/>
<path d="M2793.1 1517.0 L2799.4 1514.8 L2806.0 1514.1 L2812.2 1513.2 L2818.8 1511.7 L2825.4 1512.0 L2832.0 1511.4 L2838.2 1509.5 L2844.6 1508.4 L2851.2 1507.6 L2858.1 1507.4"/>
<path d="M3347.2 430.6 L3342.4 435.1 L3337.0 438.9 L3333.2 444.4 L3328.4 449.0 L3322.5 451.5 L3318.3 456.3 L3314.9 461.2 L3309.6 463.6 L3303.6 465.6 L3298.2 465.9 L3292.9 464.9 L3285.9 467.9 L3279.6 470.0 L3273.0 469.6 L3266.8 471.7 L3260.3 471.6 L3255.1 466.9 L3248.9 467.3 L3249.8 474.4 L3247.7 480.8 L3243.3 486.1 L3239.5 491.2 L3234.3 494.7 L3230.5 500.0 L3227.3 506.8 L3221.7 510.4 L3215.7 513.0 L3210.7 516.9 L3204.9 520.4 L3199.1 524.9 L3196.7 531.6 L3197.4 538.5 L3197.6 545.5 L3193.6 551.0 L3189.3 556.2 L3188.4 563.0 L3186.4 569.5 L3182.3 574.7 L3177.4 579.3 L3172.6 583.8 L3168.6 588.9 L3165.1 594.2 L3164.2 600.4 L3163.9 607.0 L3161.0 613.4 L3155.6 618.0 L3152.3 623.7"/>
<path d="M3289.9 468.8 L3286.8 474.7 L3285.1 481.0 L3284.9 487.8 L3282.3 493.8 L3279.4 499.7 L3276.7 505.6 L3274.1 510.3 L3274.8 516.0 L3276.7 523.1 L3281.6 527.9 L3288.3 530.2 L3293.8 533.7 L3299.8 536.6 L3306.0 539.2 L3311.2 544.3 L3310.1 551.5 L3308.0 557.7 L3307.8 563.8 L3309.6 569.7 L3311.1 576.4 L3308.9 583.6 L3302.6 587.2 L3299.2 592.8 L3297.9 599.2 L3293.2 604.1 L3289.0 610.0 L3290.7 616.9 L3294.7 622.4 L3298.2 628.1 L3295.6 633.4 L3289.4 635.4 L3285.4 639.4 L3282.7 645.3 L3278.9 649.4 L3273.2 651.0 L3266.7 654.9 L3266.5 662.5 L3268.9 668.8 L3269.4 675.1 L3268.3 681.4 L3267.5 688.0 L3265.0 694.0 L3262.4 700.0"/>
<path d="M3416.0 453.6 L3413.8 459.9 L3414.7 466.5 L3417.3 473.3 L3412.2 479.4 L3408.4 485.3 L3409.9 492.0 L3409.8 498.6 L3408.1 505.0 L3406.1 511.3 L3405.2 517.8 L3406.8 524.6 L3407.3 531.2 L3406.9 537.8 L3405.9 544.4 L3402.4 550.2 L3398.7 555.9 L3396.5 562.4 L3397.8 569.3 L3403.3 573.7 L3407.6 579.0 L3405.9 585.6 L3404.5 591.7 L3403.3 598.0 L3400.3 603.5 L3398.3 609.7 L3396.9 616.2 L3395.0 622.5 L3391.5 628.1 L3388.8 634.7 L3392.9 640.4 L3398.6 644.1 L3405.1 645.4 L3409.9 649.7 L3411.6 656.2 L3414.2 662.1 L3417.4 667.7 L3418.4 674.4 L3418.5 681.2 L3418.9 687.7 L3421.9 693.7 L3423.6 700.0"/>
<path d="M3396.9 642.8 L3395.1 649.6 L3392.7 656.3 L3389.4 662.8 L3385.5 669.0 L3378.5 672.3 L3373.9 678.5 L3374.7 686.0 L3374.2 693.1 L3372.7 700.0"/>
<path d="M3117.9 677.2 L3124.4 678.2 L3131.1 677.6 L3137.2 675.5 L3143.2 674.0 L3150.1 674.2 L3157.1 674.1 L3163.3 672.1 L3169.5 669.6 L3175.7 668.4 L3180.8 670.2 L3185.8 673.6 L3192.1 676.1 L3197.3 680.7 L3199.8 686.9 L3200.7 693.7 L3202.7 700.0"/>
<path d="M3511.6 449.7 L3518.0 447.0 L3523.2 442.1 L3525.8 435.7 L3527.7 429.3 L3530.2 423.3 L3535.5 420.0 L3542.1 417.3 L3548.9 419.6 L3553.4 424.4 L3558.2 428.8 L3562.8 434.1 L3569.2 437.2 L3575.9 437.4 L3582.8 436.8 L3589.4 437.5 L3595.9 438.6 L3602.3 438.9 L3608.8 438.3 L3615.4 437.4 L3621.9 436.5 L3628.5 437.8 L3634.9 440.4 L3641.5 441.2 L3648.1 441.3 L3654.7 441.4 L3661.5 439.8 L3668.6 439.1 L3674.6 442.2 L3680.4 445.9 L3687.4 447.3 L3693.9 445.4 L3700.0 442.1"/>
<path d="M3593.3 700.0 L3598.4 695.7 L3602.7 690.3 L3608.5 685.9 L3616.0 686.6 L3623.1 688.0 L3629.7 686.8 L3636.2 685.3 L3642.7 683.7 L3649.2 682.9 L3655.5 684.1 L3662.4 684.3 L3666.7 679.8 L3670.0 674.2 L3671.7 668.0 L3673.6 661.5 L3674.7 654.3 L3680.3 649.1 L3687.6 648.1 L3694.0 645.9 L3700.0 642.8"/>
<path d="M3726.1 176.1 L3731.6 179.6 L3735.5 183.3 L3734.3 189.0 L3734.4 194.7 L3739.1 195.6 L3745.0 197.2 L3752.2 197.6 L3758.9 200.6 L3762.7 206.8 L3767.2 211.7 L3773.2 214.4 L3778.7 217.9 L3784.0 222.4 L3784.4 228.5 L3778.7 232.2 L3773.9 237.2 L3767.4 239.7 L3761.4 239.7 L3758.9 242.3 L3755.7 247.6 L3751.2 251.4 L3746.2 254.1 L3739.1 255.7 L3733.9 261.6 L3735.0 268.9 L3735.1 275.5 L3732.6 281.5 L3729.7 287.4 L3730.7 292.6 L3733.6 296.7 L3729.9 302.4 L3724.8 306.4 L3720.0 310.5 L3718.7 316.6 L3717.4 322.9 L3715.1 329.9 L3717.7 336.4 L3722.9 341.2 L3726.4 346.6 L3729.8 352.2 L3734.3 356.8 L3735.9 362.6 L3734.1 368.5 L3733.2 375.2 L3732.9 382.1 L3735.3 388.0 L3734.1 393.6 L3730.5 398.9 L3728.2 405.2 L3726.6 411.5 L3724.1 417.0 L3718.5 420.4 L3712.7 422.7 L3709.3 427.0 L3706.8 433.1 L3700.0 434.6"/>
<path d="M3700.0 453.6 L3704.6 458.2 L3710.5 461.6 L3717.0 464.0 L3722.0 467.9 L3726.7 472.7 L3731.4 477.7 L3736.6 481.7 L3742.9 484.7 L3747.4 489.4 L3752.0 494.2 L3757.8 497.2 L3763.1 501.3 L3767.7 506.1 L3773.1 510.0 L3778.9 513.3 L3785.1 516.0 L3791.9 517.5 L3797.7 519.4 L3803.1 521.5 L3809.7 522.1 L3816.5 522.0 L3822.6 524.7 L3828.5 527.2 L3836.1 527.2 L3842.2 523.3 L3845.7 517.1 L3849.8 511.8 L3854.4 507.0 L3858.7 501.9 L3863.4 497.2"/>
<path d="M4037.6 332.8 L4031.3 334.6 L4025.5 337.8 L4019.4 340.0 L4013.3 342.3 L4007.1 344.9 L4002.7 349.9 L4001.1 356.5 L3998.5 362.5 L3994.4 367.8 L3991.3 373.5 L3988.9 379.7 L3985.3 385.4 L3979.6 389.0 L3973.2 390.8 L3967.6 390.8 L3964.8 386.5 L3960.5 381.1 L3953.9 379.2 L3951.8 386.1 L3947.0 390.7 L3940.9 394.0 L3935.3 394.4 L3930.3 397.5 L3927.4 403.3 L3929.2 409.8 L3932.2 415.8 L3934.6 421.7 L3938.3 426.9 L3943.8 431.6 L3946.9 437.9 L3947.1 445.4 L3941.5 450.5 L3935.8 454.0 L3930.6 457.9 L3925.2 461.7 L3920.4 466.1 L3915.7 470.7 L3911.1 475.5 L3906.1 480.3 L3900.5 482.6 L3898.9 482.4 L3904.5 484.9 L3911.1 485.3 L3917.4 487.9 L3919.7 493.8 L3920.4 499.4 L3924.3 505.3 L3921.6 511.3 L3917.2 516.3"/>
<path d="M4037.6 332.8 L4042.2 337.6 L4046.3 342.8 L4050.1 348.2 L4054.8 352.9 L4059.9 357.1 L4066.1 359.2 L4072.5 360.0 L4078.9 361.5 L4084.9 364.1 L4090.5 369.1 L4097.2 371.8 L4103.8 368.1 L4109.9 364.0 L4117.6 362.5 L4123.8 367.4 L4126.9 374.0 L4129.4 380.3 L4133.1 385.7 L4138.0 390.4 L4141.8 395.4 L4146.5 397.4 L4152.4 396.0 L4159.1 396.2 L4165.7 394.8 L4171.6 391.8 L4177.2 388.3"/>
<path d="M3890.5 481.9 L3890.6 474.8 L3887.6 468.0 L3886.5 461.1 L3886.5 454.0 L3880.9 452.4 L3874.8 453.9 L3869.7 457.8 L3864.7 461.6 L3860.3 467.8 L3862.3 474.9 L3863.4 481.9"/>
<path d="M3940.2 543.1 L3945.6 547.0 L3950.6 551.2 L3955.3 555.6 L3961.5 558.0 L3966.7 562.2 L3970.1 568.3 L3973.9 573.5 L3978.4 578.1 L3982.3 583.2 L3985.6 588.8 L3990.7 593.6 L3995.0 599.0 L3996.7 605.5 L3998.5 612.0 L3998.4 618.8 L3998.4 625.4 L4001.0 631.7 L4002.6 638.0 L4004.0 644.7 L4007.5 650.5 L4013.4 654.3 L4018.7 658.9 L4015.4 662.4 L4009.0 665.0 L4005.8 671.6 L4002.7 678.3 L4003.4 685.8 L4007.5 691.8 L4007.9 698.3 L4005.6 704.4 L4004.6 711.1 L4001.3 717.0"/>
<path d="M4400.0 520.1 L4395.3 524.7 L4390.7 529.2 L4385.7 533.7 L4383.4 540.0 L4382.6 546.6 L4380.6 552.8 L4379.5 559.3 L4376.5 565.8 L4371.0 564.2 L4366.6 559.4 L4362.8 554.1 L4360.8 547.7 L4358.0 541.7 L4352.9 537.2 L4348.1 532.5 L4342.6 528.7 L4336.4 525.6 L4333.0 519.8 L4330.5 513.1 L4324.8 509.6 L4317.0 508.2 L4311.4 504.6 L4308.6 499.2 L4304.0 497.3 L4298.3 497.4 L4291.6 497.4 L4285.9 500.5 L4279.8 502.5 L4273.8 505.2 L4269.2 510.1 L4263.7 513.5 L4257.7 516.3 L4252.6 520.3 L4247.1 523.8 L4240.7 526.2 L4234.8 529.8 L4232.2 536.3 L4229.7 543.1 L4223.8 546.7 L4218.0 550.0 L4212.7 553.8 L4207.1 556.2 L4200.8 558.5 L4195.7 562.9 L4195.2 569.5 L4195.9 575.9 L4195.0 582.4 L4192.7 588.1 L4191.4 594.4 L4188.7 600.4 L4183.5 604.6 L4179.2 609.6 L4175.2 615.2 L4176.3 622.0 L4180.3 627.6 L4185.1 631.8 L4189.3 636.4 L4192.6 642.4 L4197.2 647.4 L4203.1 650.5 L4210.1 650.3 L4217.1 650.2 L4222.8 653.9 L4228.0 658.2 L4233.4 661.9 L4238.8 666.2 L4244.9 669.6 L4251.6 670.5 L4258.2 670.0 L4264.8 670.4 L4270.8 673.1 L4276.9 675.3 L4283.6 676.3 L4288.3 681.1 L4291.5 686.9 L4296.1 691.8 L4297.5 698.3 L4298.3 704.9 L4302.1 710.5 L4303.3 717.0"/>
<path d="M4400.0 526.9 L4405.8 523.8 L4410.2 518.9 L4416.0 515.7"/>
<path d="M3700.0 995.6 L3704.9 997.5 L3710.0 1003.3 L3713.0 1009.9 L3716.0 1016.5 L3720.5 1022.3"/>
<path d="M3640.1 1367.0 L3645.4 1371.1 L3648.8 1376.3 L3652.7 1380.9 L3656.8 1386.2 L3660.2 1391.9 L3664.0 1397.0 L3667.0 1403.3 L3669.8 1410.0 L3677.0 1411.9 L3682.3 1416.0"/>
<path d="M3823.7 1335.7 L3819.7 1340.9 L3817.7 1347.8 L3811.8 1351.5 L3805.9 1354.4 L3800.4 1357.8 L3794.6 1360.9 L3789.1 1364.4 L3783.7 1368.1 L3778.8 1372.5 L3773.0 1376.1 L3766.5 1377.2 L3759.6 1377.2 L3753.9 1380.4 L3749.5 1385.8 L3744.1 1389.5 L3738.1 1392.2 L3731.9 1394.6 L3726.6 1398.3 L3722.2 1403.0 L3717.8 1407.5 L3713.3 1412.9 L3706.5 1415.7 L3699.3 1415.2 L3692.6 1415.6 L3686.2 1417.0 L3679.6 1418.4 L3674.0 1422.1 L3669.0 1427.0 L3663.1 1429.9 L3657.4 1433.1 L3651.0 1434.7 L3643.8 1434.6 L3638.1 1437.7 L3632.9 1442.3 L3626.8 1444.4 L3620.9 1447.3 L3615.2 1450.5 L3608.8 1452.2 L3602.4 1454.3 L3597.2 1458.4 L3593.2 1464.0 L3589.3 1469.4 L3584.3 1473.8 L3577.5 1475.7 L3570.6 1477.1 L3565.2 1480.8 L3560.0 1484.8"/>
<path d="M3756.8 1381.6 L3755.5 1388.1 L3754.4 1394.6 L3755.9 1401.3 L3758.8 1407.8 L3760.0 1413.6 L3758.9 1420.3 L3758.2 1427.5 L3760.3 1433.7 L3764.5 1439.3 L3767.0 1445.4 L3766.7 1452.6 L3768.8 1459.4 L3776.1 1462.0 L3782.6 1464.3 L3786.4 1470.1 L3790.6 1475.3 L3794.9 1480.2 L3797.4 1486.8 L3801.8 1492.3 L3809.0 1493.6 L3815.4 1495.7 L3821.5 1497.2 L3827.4 1498.8 L3830.3 1504.4 L3832.3 1510.7 L3835.1 1516.9 L3840.7 1521.3 L3847.7 1523.1 L3852.5 1527.9 L3855.5 1534.0 L3859.9 1539.0 L3864.3 1544.0 L3867.2 1549.9 L3869.5 1556.3 L3873.2 1561.7 L3877.2 1567.0"/>
<path d="M3938.4 1416.0 L3933.0 1420.2 L3927.3 1424.2 L3922.0 1429.3 L3919.5 1435.8 L3919.8 1443.6 L3916.2 1449.4 L3909.1 1450.7 L3902.9 1453.0 L3897.2 1457.4 L3896.2 1464.5 L3897.6 1471.4 L3896.3 1478.2 L3892.7 1484.6 L3887.3 1488.9 L3881.8 1492.9 L3876.5 1497.0 L3871.6 1501.6 L3866.3 1505.8 L3860.9 1509.8 L3857.7 1515.6 L3854.2 1521.2 L3850.5 1526.9"/>
<path d="M3628.8 1442.8 L3631.1 1449.1 L3633.3 1455.5 L3638.4 1460.4 L3644.3 1464.6 L3648.1 1469.9 L3650.2 1476.5 L3653.8 1482.3 L3657.4 1488.3 L3659.8 1494.8 L3661.5 1501.4 L3661.5 1508.3 L3661.9 1515.1 L3662.8 1521.7 L3662.1 1528.4 L3660.9 1535.0 L3660.3 1541.7 L3659.8 1548.4 L3661.0 1554.9 L3664.0 1561.0 L3667.0 1567.0"/>
<path d="M3850.5 1526.9 L3844.5 1530.8 L3838.9 1535.2 L3831.3 1536.7 L3825.1 1540.7 L3821.4 1547.3 L3815.1 1551.1 L3808.5 1554.3 L3805.2 1561.2 L3800.8 1567.0"/>
<path d="M3198.5 1367.0 L3200.8 1375.4 L3203.2 1383.8"/>
<path d="M3203.2 1383.8 L3209.0 1378.2 L3215.0 1372.8 L3222.8 1370.3 L3230.0 1367.0"/>
<path d="M3203.2 1383.8 L3196.7 1385.8 L3190.6 1388.3 L3185.8 1393.4 L3180.6 1397.7 L3175.5 1401.3 L3172.9 1405.4 L3173.9 1410.8 L3175.8 1417.2 L3177.2 1422.8 L3174.4 1428.1 L3170.4 1433.2 L3167.8 1439.4 L3166.4 1446.2 L3163.7 1452.3 L3158.9 1457.2 L3154.3 1462.5 L3151.5 1469.7 L3154.1 1476.7 L3158.3 1482.2 L3160.7 1488.4 L3161.3 1494.9 L3162.2 1501.5 L3163.7 1508.0 L3164.1 1514.5 L3163.0 1521.1 L3161.1 1527.5 L3158.0 1533.3 L3155.6 1539.6 L3154.5 1546.5 L3149.4 1551.3 L3142.7 1555.1 L3139.7 1561.0 L3138.8 1568.2 L3134.8 1573.5 L3130.6 1578.7"/>
<path d="M3100.0 1479.3 L3106.6 1481.2 L3112.6 1484.8 L3119.1 1487.7 L3126.3 1487.6 L3133.1 1484.7 L3139.7 1482.8 L3146.6 1483.3 L3153.5 1483.2"/>
<path d="M3375.3 1367.0 L3377.3 1373.3 L3379.0 1379.6 L3379.8 1386.1 L3379.7 1392.7 L3378.8 1399.4 L3379.7 1405.9 L3381.1 1412.2 L3379.1 1418.1 L3375.9 1421.0 L3371.0 1423.1 L3365.7 1427.6 L3360.5 1431.9 L3355.2 1435.6 L3349.6 1438.9 L3344.2 1442.6 L3339.8 1447.8 L3334.4 1451.4 L3328.0 1453.5 L3322.7 1457.3 L3317.3 1460.9 L3311.2 1463.7 L3306.8 1468.7 L3305.1 1475.0 L3303.0 1481.2 L3300.1 1487.2 L3299.0 1493.6 L3296.8 1499.9 L3295.4 1506.4 L3294.9 1512.9 L3293.7 1519.3 L3292.8 1525.3 L3291.2 1531.1 L3288.2 1536.8 L3286.2 1542.3 L3286.3 1548.2 L3288.0 1554.4 L3288.6 1560.9 L3287.0 1567.7 L3286.5 1574.2 L3287.2 1581.3 L3283.3 1586.9 L3278.4 1591.9 L3276.3 1598.0 L3273.1 1603.6 L3267.8 1607.7 L3262.4 1611.1 L3261.4 1610.2 L3267.0 1606.2 L3273.8 1605.1 L3279.9 1608.8 L3285.3 1612.6 L3291.0 1615.9 L3296.9 1618.3 L3302.6 1620.6 L3303.7 1626.1 L3300.4 1632.1 L3295.0 1635.7 L3290.3 1640.6 L3287.5 1646.5 L3285.3 1652.7 L3283.5 1659.0"/>
<path d="M3382.8 1422.0 L3388.5 1418.7 L3393.6 1414.3 L3399.7 1412.0 L3405.5 1408.9 L3411.4 1406.2 L3417.5 1404.0 L3423.6 1401.6 L3429.2 1398.3 L3434.9 1395.3 L3441.1 1393.1 L3447.3 1390.8 L3453.5 1388.8 L3459.4 1386.0 L3465.5 1383.8 L3471.9 1382.3 L3478.3 1381.6 L3485.0 1381.9 L3491.6 1382.3 L3497.8 1379.7 L3503.7 1375.4 L3510.0 1374.3 L3516.8 1374.9 L3523.2 1373.3 L3529.2 1370.6 L3534.7 1367.0"/>
<path d="M3512.8 1376.1 L3512.8 1383.0 L3513.2 1390.3 L3508.2 1395.9 L3502.1 1399.2 L3495.5 1401.4 L3489.4 1404.3 L3483.0 1407.7 L3478.0 1413.6 L3477.1 1421.2 L3480.2 1428.0 L3480.9 1434.7 L3478.4 1442.0 L3480.2 1449.8 L3487.7 1452.8 L3494.4 1454.6 L3499.9 1458.7 L3505.5 1462.3 L3511.2 1465.7 L3515.5 1470.5 L3520.4 1474.9 L3524.6 1480.2 L3526.7 1486.8 L3529.7 1492.9 L3534.0 1498.2 L3539.6 1502.3"/>
<path d="M3539.6 1502.3 L3546.4 1497.7 L3552.0 1491.4 L3560.0 1488.6"/>
<path d="M3539.6 1502.3 L3537.2 1508.6 L3532.2 1513.4 L3527.3 1518.1 L3524.0 1523.9 L3520.4 1529.6 L3516.5 1535.2 L3513.6 1541.3 L3510.9 1547.4 L3507.7 1553.2 L3505.6 1559.7 L3504.9 1566.7 L3504.3 1573.5 L3503.9 1580.5 L3508.0 1586.2 L3513.6 1590.1 L3517.9 1595.2 L3521.9 1601.5 L3529.2 1604.8 L3536.4 1602.4 L3542.2 1597.9 L3548.0 1594.3 L3554.4 1592.6 L3560.7 1590.6 L3567.0 1588.3 L3573.6 1587.3 L3580.3 1586.9 L3587.0 1587.1 L3593.3 1589.6 L3600.2 1588.3 L3603.4 1581.9 L3607.0 1576.1 L3612.9 1572.8 L3619.1 1570.3 L3625.9 1569.5 L3632.0 1567.0"/>
<path d="M3451.6 1548.1 L3458.6 1549.9 L3465.9 1549.9 L3472.9 1551.6 L3478.4 1556.9 L3483.7 1562.0 L3490.8 1563.9 L3498.5 1564.6 L3505.2 1567.2"/>
<path d="M3306.4 1620.8 L3312.0 1617.3 L3317.1 1612.8 L3323.5 1610.9 L3330.7 1611.2 L3337.4 1610.0 L3342.9 1606.4 L3348.3 1602.4 L3354.5 1600.4 L3361.1 1599.7 L3367.2 1597.6 L3373.3 1594.8 L3379.1 1591.2 L3385.1 1588.6 L3391.7 1588.0 L3398.3 1587.4 L3404.5 1585.4 L3411.2 1584.6 L3417.9 1584.2 L3423.5 1580.2 L3428.5 1575.1 L3434.1 1571.6 L3440.2 1571.0 L3443.4 1566.2 L3441.2 1559.9 L3442.6 1554.0 L3448.5 1552.7 L3450.0 1554.6 L3452.8 1559.1 L3456.4 1564.9 L3457.8 1571.2 L3455.2 1576.2 L3449.8 1579.5 L3444.0 1582.5"/>
<path d="M3524.3 1601.6 L3518.7 1605.1 L3513.9 1609.9 L3508.3 1613.4 L3502.9 1617.1 L3497.5 1620.9 L3491.8 1624.4 L3487.1 1629.0 L3482.6 1633.9 L3477.4 1637.9 L3471.7 1641.5 L3467.0 1646.1 L3463.4 1651.9 L3459.0 1656.7 L3454.1 1661.2 L3449.6 1666.0 L3445.8 1671.4 L3442.6 1677.4 L3437.2 1681.4 L3430.1 1684.3 L3427.5 1690.8 L3426.8 1697.7 L3423.8 1703.6 L3419.7 1709.3 L3416.7 1715.3 L3415.0 1722.3 L3416.6 1730.3 L3423.2 1734.3 L3426.9 1739.1 L3422.9 1744.2 L3418.6 1749.0 L3414.3 1754.0 L3409.3 1759.0 L3407.2 1765.9 L3408.5 1773.0 L3409.3 1779.7 L3410.1 1786.1 L3409.7 1791.3 L3411.8 1796.7 L3417.2 1800.4"/>
<path d="M3417.2 1727.8 L3412.1 1732.0 L3406.8 1736.0 L3401.7 1740.4 L3396.8 1744.9 L3391.7 1749.8 L3385.1 1753.4 L3377.9 1753.1 L3371.2 1751.2 L3364.4 1749.5 L3357.6 1750.4 L3351.6 1753.8 L3345.1 1755.8 L3340.5 1760.6 L3338.7 1767.1 L3334.8 1772.6 L3331.5 1778.4 L3329.3 1784.7 L3328.1 1791.6 L3326.3 1798.1 L3323.2 1804.0 L3318.8 1809.2 L3313.2 1814.1 L3310.4 1820.3 L3309.5 1827.1 L3308.3 1833.6 L3306.7 1839.9 L3303.0 1844.9 L3297.8 1848.0 L3292.2 1851.1 L3287.4 1856.5 L3284.7 1863.0 L3285.9 1869.3 L3287.0 1875.7 L3289.3 1881.8 L3294.5 1886.0 L3300.4 1889.2 L3306.4 1892.1"/>
<path d="M3558.7 1632.2 L3562.8 1637.7 L3568.2 1641.2 L3573.3 1645.0 L3577.8 1650.5 L3578.2 1657.3 L3577.7 1664.1 L3579.3 1670.5 L3579.5 1677.3 L3581.7 1683.8 L3587.4 1687.9 L3592.6 1692.1 L3595.5 1697.7 L3601.6 1700.1 L3608.0 1698.2 L3614.1 1695.7 L3620.5 1695.0 L3623.9 1697.4 L3626.4 1700.4 L3630.8 1706.5 L3630.4 1713.3 L3626.5 1719.2 L3623.7 1725.0 L3622.4 1731.6 L3619.4 1737.4 L3614.4 1742.0 L3610.9 1746.7 L3607.6 1752.4 L3602.5 1756.4 L3596.4 1759.1 L3591.5 1763.1 L3586.6 1767.4 L3580.9 1770.5 L3575.0 1773.6 L3569.7 1777.1 L3565.8 1782.2 L3563.9 1788.4 L3563.2 1795.0 L3560.9 1801.2 L3558.3 1807.2 L3556.8 1813.3 L3554.8 1819.9 L3549.3 1823.9 L3542.9 1826.2 L3537.3 1829.8 L3532.5 1834.6 L3528.9 1840.6 L3528.3 1847.4 L3527.6 1853.8 L3526.4 1859.6 L3521.2 1862.9 L3514.3 1861.7 L3507.8 1863.3 L3502.0 1867.1 L3495.0 1867.6 L3488.8 1870.1 L3483.2 1873.6 L3477.6 1877.0 L3473.3 1882.9 L3468.9 1888.4 L3462.8 1890.7 L3455.4 1891.4 L3449.3 1894.0 L3445.1 1899.5 L3440.5 1904.5 L3434.9 1908.0 L3428.9 1910.9 L3422.5 1913.1 L3417.2 1917.0"/>
<path d="M3676.1 1567.0 L3680.1 1572.5 L3684.7 1577.5 L3690.6 1581.2 L3696.6 1584.6 L3703.3 1586.9 L3710.4 1586.2 L3717.3 1585.9 L3724.0 1587.9 L3731.0 1589.4 L3737.9 1588.3 L3744.2 1584.6 L3750.4 1581.3 L3756.6 1579.0 L3762.6 1576.4 L3768.9 1574.0 L3775.4 1571.5 L3781.9 1569.2 L3788.4 1567.0"/>
<path d="M3711.6 1716.3 L3718.3 1715.2 L3723.8 1710.9 L3728.6 1706.8 L3733.7 1702.9 L3737.8 1697.6 L3741.5 1692.1 L3745.7 1686.9 L3749.3 1681.2 L3752.1 1674.9 L3756.4 1669.8 L3761.7 1665.5 L3764.3 1659.0 L3767.9 1653.4 L3773.8 1649.5 L3778.0 1644.3 L3783.3 1640.0 L3788.9 1636.9 L3793.8 1633.9 L3799.9 1632.5 L3806.0 1629.5 L3812.1 1626.4 L3818.6 1624.6"/>
<path d="M3711.6 1716.3 L3715.0 1722.1 L3719.5 1727.3 L3722.4 1733.5 L3726.5 1739.4 L3733.3 1741.5 L3740.0 1743.0 L3746.8 1743.5 L3753.7 1743.3 L3760.2 1745.4 L3766.5 1744.5 L3771.3 1739.5 L3777.0 1736.0 L3784.0 1734.2 L3791.4 1734.4 L3798.4 1735.5 L3805.1 1734.9 L3811.8 1734.2 L3818.6 1733.5"/>
<path d="M3566.3 1777.5 L3572.4 1774.8 L3577.2 1769.4 L3583.0 1766.2 L3591.0 1768.0 L3596.9 1768.4 L3602.6 1766.4 L3609.8 1765.5 L3615.9 1768.0 L3621.5 1772.6 L3628.3 1771.4 L3634.7 1770.3 L3641.7 1770.1 L3647.5 1766.7 L3653.1 1762.7 L3658.8 1759.2 L3664.6 1755.8 L3671.0 1753.9 L3676.9 1750.9 L3683.1 1748.4 L3689.1 1745.6 L3694.5 1741.5 L3701.2 1739.8 L3707.8 1738.6 L3713.9 1736.6 L3720.4 1737.7 L3726.9 1739.2"/>
<path d="M3627.5 1773.7 L3628.0 1780.5 L3629.5 1787.0 L3633.6 1792.9 L3637.9 1798.5 L3639.8 1804.5 L3641.1 1811.1 L3642.9 1817.8 L3645.0 1824.3 L3648.8 1830.0 L3653.3 1835.1 L3658.2 1839.8 L3662.6 1844.9 L3667.8 1849.3 L3673.8 1852.3 L3680.1 1854.3 L3686.6 1855.2 L3692.6 1859.0 L3698.3 1862.3 L3703.9 1865.1 L3709.8 1868.6 L3713.8 1874.0 L3716.9 1880.1 L3721.1 1885.3 L3725.8 1890.2 L3730.4 1895.1 L3735.7 1899.6 L3739.9 1904.9 L3742.9 1911.0 L3746.0 1917.0"/>
<path d="M3100.0 1750.7 L3106.3 1752.9 L3112.5 1755.1 L3119.0 1756.4 L3125.4 1758.0 L3132.1 1759.1 L3138.8 1761.2 L3143.1 1766.6 L3146.9 1773.4 L3154.6 1774.9 L3160.3 1771.8 L3163.6 1770.3 L3165.8 1776.3 L3164.0 1782.9 L3164.6 1789.5 L3166.6 1796.1 L3168.3 1802.5 L3167.8 1809.1 L3166.1 1816.0 L3169.3 1822.2 L3172.5 1828.3 L3171.5 1835.2 L3172.3 1841.8 L3175.6 1848.0 L3177.5 1854.4 L3177.6 1861.2 L3175.8 1868.0 L3172.4 1873.7 L3169.1 1879.4 L3165.3 1884.8 L3160.4 1889.5 L3156.8 1895.0 L3154.8 1901.7 L3151.5 1907.5 L3146.3 1911.9 L3142.0 1917.0"/>
<path d="M3130.6 1578.7 L3134.7 1583.7 L3139.4 1588.4 L3144.7 1592.3 L3149.5 1596.8 L3152.5 1602.9 L3155.6 1608.8 L3159.9 1613.6 L3164.2 1618.5 L3168.9 1623.2 L3173.9 1627.4 L3178.3 1632.1 L3182.7 1636.9 L3188.2 1640.5 L3194.3 1643.2 L3199.7 1647.0 L3203.0 1653.3 L3205.6 1659.8 L3209.3 1664.5 L3214.7 1668.4 L3216.7 1674.4 L3216.5 1681.1 L3217.8 1687.5 L3220.9 1693.5 L3222.4 1699.9 L3222.4 1706.4 L3221.1 1713.0 L3221.1 1719.5 L3221.9 1726.0 L3221.4 1732.4 L3220.9 1738.4 L3217.4 1744.3 L3211.3 1746.9 L3204.9 1748.4 L3199.4 1752.8 L3193.6 1756.4 L3186.7 1756.0 L3180.1 1756.3 L3174.5 1759.7 L3168.1 1760.4 L3165.0 1766.0"/>
<path d="M3214.7 1662.8 L3217.5 1656.7 L3219.5 1649.9 L3224.0 1645.1 L3229.3 1641.1 L3235.1 1637.4 L3238.3 1631.7 L3240.1 1624.6 L3245.4 1620.6 L3252.0 1617.6 L3256.7 1613.1"/>
<path d="M3528.1 1861.6 L3530.8 1867.9 L3535.1 1873.3 L3538.2 1879.4 L3542.2 1885.1 L3545.3 1891.2 L3546.2 1898.4 L3547.3 1905.4 L3550.9 1911.3 L3554.8 1917.0"/>
<path d="M3390.5 1917.0 L3391.9 1910.3 L3395.8 1904.4 L3398.4 1898.0 L3398.4 1890.9 L3398.2 1883.8 L3399.0 1876.7 L3402.6 1870.6 L3407.6 1865.4 L3412.2 1860.1 L3415.5 1853.9 L3414.6 1846.7 L3412.7 1840.3 L3412.7 1833.7 L3414.3 1826.3 L3412.7 1819.7 L3409.1 1813.6 L3407.6 1807.0 L3405.8 1800.4"/>
<path d="M2761.5 1517.0 L2765.2 1523.0 L2769.6 1528.5 L2775.0 1532.0 L2781.1 1529.4 L2783.9 1522.6 L2788.1 1517.0"/>
<path d="M2729.3 1555.8 L2735.6 1558.4 L2742.5 1558.2 L2749.2 1558.4 L2755.3 1562.0 L2761.9 1563.1 L2768.8 1563.1 L2773.8 1567.8 L2776.3 1572.2 L2779.1 1577.5 L2779.4 1584.1 L2781.8 1590.5 L2785.1 1597.1 L2786.5 1603.5 L2786.1 1609.5 L2785.9 1617.0 L2789.8 1622.5 L2794.8 1627.1 L2797.1 1633.5 L2799.6 1639.5 L2802.2 1645.7 L2804.8 1651.9 L2806.8 1658.3 L2807.9 1664.9 L2811.3 1670.8 L2815.2 1676.8 L2817.3 1683.3 L2817.2 1690.1 L2815.8 1697.2 L2816.2 1703.9 L2819.6 1710.1 L2822.9 1716.3 L2822.1 1723.2 L2822.5 1729.9 L2824.4 1736.4 L2824.9 1743.1"/>
<path d="M2775.2 1534.8 L2774.3 1541.5 L2776.2 1547.8 L2778.7 1554.1 L2778.0 1560.8 L2779.0 1567.2"/>
<path d="M3100.0 1758.8 L3094.8 1761.9 L3089.4 1765.3 L3084.8 1770.2 L3079.6 1774.5 L3073.1 1776.8 L3066.9 1779.5 L3060.1 1780.8 L3052.5 1782.0 L3046.1 1776.8 L3044.2 1769.6 L3041.3 1763.6 L3037.8 1758.0 L3033.8 1752.6 L3029.7 1747.2 L3027.8 1740.7 L3026.6 1733.7 L3023.8 1727.4 L3018.4 1722.4 L3011.6 1720.2 L3005.0 1718.6 L2998.2 1718.4 L2991.4 1719.6 L2984.7 1720.0 L2978.1 1720.5 L2971.5 1720.5 L2964.8 1720.6 L2958.0 1720.2 L2951.6 1718.3 L2945.2 1716.3 L2939.6 1712.5"/>
<path d="M2916.6 1743.1 L2916.5 1749.8 L2915.4 1756.6 L2918.7 1763.1 L2920.6 1769.6 L2918.8 1776.5 L2919.0 1783.2 L2921.4 1789.8 L2918.2 1796.5 L2915.3 1803.0 L2918.2 1809.9 L2919.4 1816.7 L2918.1 1823.3 L2918.3 1830.0 L2917.2 1836.7 L2915.6 1843.3 L2915.2 1850.0 L2914.4 1856.7 L2915.0 1863.4 L2917.1 1870.2 L2918.3 1877.0 L2917.5 1883.7 L2914.6 1890.2 L2912.1 1896.8 L2912.0 1903.5 L2912.8 1910.3 L2912.8 1917.0"/>
<path d="M2916.6 1743.1 L2921.4 1737.1 L2925.8 1730.8 L2930.5 1724.8 L2934.8 1718.5 L2939.6 1712.5"/>
<path d="M2500.0 1781.3 L2506.9 1782.4 L2514.0 1782.9 L2521.0 1784.6 L2527.4 1788.0 L2533.4 1791.7 L2538.8 1796.3 L2542.1 1803.2 L2545.4 1809.3 L2551.1 1813.9 L2557.1 1817.5 L2562.5 1813.7 L2568.0 1809.5 L2572.6 1804.2"/>
<path d="M2664.4 1731.6 L2661.9 1737.8 L2659.3 1744.0 L2658.3 1750.7 L2658.8 1757.3 L2657.9 1764.0 L2657.1 1770.8 L2657.5 1777.5 L2658.3 1784.2 L2660.5 1790.6 L2662.1 1797.2 L2664.3 1803.6 L2666.3 1810.4 L2662.5 1817.0 L2658.9 1822.7 L2660.0 1830.2 L2660.4 1837.4 L2656.7 1843.1 L2652.6 1848.8 L2650.7 1855.2 L2651.1 1862.2 L2649.7 1868.7 L2647.2 1875.1 L2644.6 1881.3 L2642.5 1887.7 L2640.7 1894.4 L2637.6 1900.3 L2631.5 1904.7 L2627.6 1910.2 L2626.1 1917.0"/>
<path d="M2664.4 1731.6 L2671.3 1731.3 L2678.1 1730.2 L2684.8 1728.8 L2691.3 1730.8 L2697.8 1732.5 L2704.7 1733.5 L2711.5 1735.6 L2719.2 1736.2 L2726.9 1735.1 L2733.3 1731.9 L2738.6 1725.9 L2741.1 1718.5 L2744.6 1712.5"/>
<path d="M3549.4 1917.0 L3548.7 1923.3 L3553.2 1927.9 L3557.4 1934.6 L3553.6 1941.9 L3547.5 1945.8 L3540.9 1947.7 L3534.7 1949.6 L3529.0 1953.0 L3523.4 1956.7 L3517.4 1959.0 L3510.7 1960.0 L3504.5 1962.2 L3498.7 1965.2 L3492.6 1967.7 L3487.0 1971.2 L3483.0 1977.0 L3478.2 1981.5 L3471.4 1983.1 L3465.0 1984.6 L3459.0 1987.1 L3452.5 1988.1 L3445.6 1986.6 L3438.9 1987.2 L3433.2 1991.9 L3428.3 1996.2 L3424.2 2002.5 L3425.7 2010.1 L3433.8 2010.8 L3439.8 2013.3 L3444.8 2017.8 L3449.7 2020.9 L3455.5 2023.9 L3459.5 2028.9 L3459.0 2035.6 L3456.2 2041.8 L3453.3 2048.0 L3452.6 2054.5 L3453.6 2061.2 L3451.8 2067.6 L3449.1 2073.7 L3449.6 2080.4 L3449.2 2087.0 L3447.6 2093.6 L3449.7 2100.1 L3452.8 2105.9 L3456.1 2111.6"/>
<path d="M3264.9 1917.0 L3263.8 1923.6 L3261.9 1929.9 L3256.1 1936.0 L3260.2 1943.2 L3268.2 1943.0 L3274.6 1944.4 L3280.9 1946.5 L3287.1 1947.6 L3293.3 1948.1 L3299.7 1947.9 L3305.7 1945.3 L3312.5 1944.7 L3319.4 1944.8 L3325.5 1942.3 L3331.1 1938.5 L3337.5 1937.2 L3344.0 1938.0 L3350.4 1938.3 L3357.2 1936.2 L3363.8 1936.4 L3370.2 1938.2 L3376.7 1937.3 L3383.2 1938.0 L3390.0 1938.4 L3395.8 1934.5 L3401.0 1930.7 L3404.4 1927.1 L3408.4 1922.7 L3412.0 1917.0"/>
<path d="M3555.5 1935.7 L3562.1 1935.2 L3568.5 1933.7 L3575.9 1932.0 L3580.8 1937.7 L3582.4 1944.1 L3586.2 1949.4 L3592.2 1952.4 L3598.9 1953.9 L3605.2 1956.4 L3610.1 1961.3 L3614.0 1966.8 L3616.0 1971.2 L3614.1 1975.7 L3613.2 1982.6 L3613.3 1988.3 L3614.1 1993.5 L3617.0 1999.4 L3620.9 2004.7 L3623.4 2011.4 L3623.4 2018.0 L3621.1 2024.7 L3620.4 2031.3"/>
<path d="M3425.5 1993.1 L3418.8 1994.0 L3413.2 1997.4 L3408.0 2001.8 L3402.1 2004.4 L3396.4 2007.7 L3390.7 2010.8 L3384.8 2013.6 L3379.0 2016.4 L3372.4 2018.0 L3367.1 2021.8 L3363.0 2027.6 L3357.1 2030.4 L3351.0 2033.0 L3344.6 2035.0 L3338.2 2036.4 L3332.2 2038.8 L3326.5 2042.1 L3321.2 2046.6 L3315.7 2050.5 L3309.3 2052.2 L3302.4 2052.2 L3296.0 2053.7 L3290.3 2057.2 L3283.9 2058.5 L3276.9 2058.2 L3270.5 2059.6 L3264.5 2062.3 L3259.1 2066.6 L3253.6 2070.7 L3247.0 2071.6 L3240.3 2072.0 L3234.4 2074.7 L3228.0 2076.4 L3221.2 2076.8 L3215.6 2080.6 L3210.9 2085.4 L3205.3 2088.7 L3200.0 2092.5"/>
<path d="M3337.6 1939.6 L3336.1 1946.2 L3334.8 1953.0 L3335.0 1960.2 L3331.8 1966.4 L3328.5 1972.6 L3328.4 1979.7 L3325.6 1986.0 L3323.5 1992.6 L3324.5 1999.9 L3325.0 2006.9 L3323.0 2013.3 L3318.7 2019.5 L3315.9 2026.0 L3315.4 2032.9 L3315.1 2039.7 L3314.7 2046.6"/>
<path d="M3620.4 2031.3 L3626.8 2028.3 L3632.8 2024.3 L3639.6 2022.6 L3646.6 2021.4 L3653.8 2021.8 L3660.6 2020.6 L3667.1 2017.5 L3674.0 2016.0"/>
<path d="M3456.1 2111.6 L3461.2 2107.2 L3466.3 2103.0 L3471.6 2099.2 L3477.3 2095.2 L3483.7 2093.4 L3490.5 2092.1 L3495.7 2087.8 L3499.5 2082.0 L3505.0 2078.1 L3511.8 2076.9 L3518.3 2075.8 L3524.7 2073.4 L3530.7 2070.1 L3536.5 2066.3 L3542.3 2062.4 L3549.7 2061.5 L3557.1 2063.8 L3559.4 2071.1 L3557.7 2078.3 L3559.3 2084.8"/>
<path d="M3452.3 2073.3 L3447.1 2077.4 L3442.1 2081.7 L3438.4 2087.3 L3434.2 2092.4 L3430.9 2098.8 L3426.1 2103.7 L3419.3 2105.5 L3412.8 2107.6 L3405.9 2109.1 L3400.3 2112.5 L3396.4 2118.5 L3390.8 2122.0 L3385.1 2125.1 L3379.7 2129.0 L3374.3 2132.6 L3369.3 2136.9 L3363.4 2139.9 L3357.7 2143.2 L3351.9 2146.5 L3345.3 2147.4 L3338.6 2146.7 L3332.0 2147.6 L3325.9 2150.7 L3319.9 2153.6 L3313.7 2155.8 L3307.4 2157.6 L3300.8 2158.0 L3293.7 2157.2 L3287.1 2158.8 L3282.2 2163.8 L3276.4 2167.0"/>
<path d="M2197.5 1654.2 L2203.7 1656.5 L2210.0 1658.7 L2215.0 1663.1 L2219.9 1667.7 L2226.0 1670.3 L2232.2 1672.3 L2238.2 1674.9 L2244.0 1678.1 L2248.8 1682.5 L2253.1 1687.4 L2257.5 1692.3 L2261.6 1697.6 L2267.7 1700.7 L2274.8 1702.4 L2279.2 1707.3 L2282.6 1713.5 L2287.2 1718.3 L2292.3 1722.6 L2297.8 1726.1 L2303.5 1729.4 L2309.6 1732.3 L2316.0 1734.4 L2322.2 1736.4 L2328.6 1737.9 L2334.9 1737.9 L2341.2 1737.3 L2347.1 1734.4 L2352.4 1730.4 L2357.9 1726.7 L2364.1 1724.1 L2370.7 1722.9 L2377.3 1722.2 L2383.6 1722.2 L2389.4 1722.6 L2395.4 1724.7 L2400.4 1727.6 L2403.2 1732.5 L2404.8 1738.7 L2406.3 1745.2 L2407.5 1751.6 L2407.7 1758.1 L2406.1 1765.0 L2406.3 1771.7 L2409.3 1777.8 L2412.1 1783.9 L2414.3 1790.0 L2419.2 1793.7 L2426.0 1791.6 L2431.5 1787.8 L2437.9 1786.5 L2444.4 1785.6 L2450.5 1783.8 L2456.4 1783.1 L2462.4 1783.8 L2468.7 1783.8 L2473.6 1782.0 L2479.9 1781.6 L2486.6 1780.8 L2493.3 1780.4 L2500.0 1781.2"/>
<path d="M2059.9 1763.1 L2059.6 1769.8 L2058.9 1776.4 L2057.5 1782.8 L2055.4 1789.2 L2053.3 1795.6 L2053.7 1802.3 L2053.2 1809.0 L2047.5 1812.7 L2040.9 1812.9 L2035.5 1816.9 L2031.1 1822.9 L2025.5 1826.5 L2019.3 1829.3 L2014.6 1833.0 L2008.4 1834.7 L2002.1 1833.2 L1996.3 1832.4 L1990.8 1835.9 L1984.5 1838.5 L1977.5 1839.7 L1971.4 1839.8 L1965.6 1839.5 L1960.0 1841.3 L1958.0 1846.4 L1957.9 1852.9 L1957.3 1859.4 L1954.9 1865.5 L1951.3 1871.1 L1946.8 1876.1 L1943.4 1882.1 L1942.6 1889.0 L1943.0 1895.7 L1945.3 1902.1 L1947.5 1908.3 L1951.0 1914.1 L1954.6 1919.7 L1957.9 1925.5 L1962.3 1930.8 L1964.7 1937.0 L1965.4 1943.9 L1968.1 1949.9 L1971.5 1955.7 L1973.3 1962.2 L1976.6 1968.0 L1978.0 1974.5 L1979.6 1981.0"/>
<path d="M2109.6 1759.3 L2116.2 1759.6 L2122.7 1760.4 L2129.0 1762.8 L2134.3 1765.7 L2138.9 1769.2 L2144.4 1772.8 L2150.2 1774.9 L2156.1 1778.0 L2162.5 1780.0 L2169.1 1782.0 L2175.8 1782.5 L2182.3 1779.8 L2188.8 1777.6 L2196.5 1776.6 L2200.7 1783.5 L2197.2 1790.4 L2193.2 1795.7 L2189.1 1800.6 L2185.0 1805.9 L2180.9 1810.6 L2176.5 1815.4 L2172.6 1820.7 L2168.6 1826.1 L2164.1 1831.1 L2159.3 1835.6 L2153.7 1839.5 L2148.2 1843.3 L2142.7 1847.2 L2136.5 1849.7 L2130.4 1852.5 L2124.2 1854.7 L2117.5 1855.4 L2111.7 1858.5 L2109.5 1864.9 L2109.5 1870.0 L2110.0 1876.3 L2110.1 1882.5 L2112.0 1888.7 L2112.2 1895.6 L2108.3 1901.0 L2103.8 1903.3 L2110.1 1905.6 L2115.0 1909.2 L2119.9 1914.0 L2126.7 1917.1 L2133.3 1915.9 L2139.5 1911.3 L2145.5 1908.4 L2152.1 1907.2 L2159.1 1909.1 L2161.3 1915.6 L2164.0 1921.6 L2166.9 1927.5"/>
<path d="M2166.9 1927.5 L2173.5 1927.9 L2180.0 1929.1 L2186.5 1930.7 L2193.2 1930.6 L2199.5 1927.4 L2205.8 1925.9 L2212.3 1924.5 L2217.9 1920.6 L2224.5 1917.9 L2229.1 1922.6 L2229.8 1929.2 L2234.6 1932.3 L2239.5 1929.4 L2245.9 1928.9 L2253.0 1931.2 L2259.7 1932.8 L2266.0 1929.2 L2272.9 1926.8 L2280.2 1929.0 L2285.9 1933.7 L2289.2 1939.2 L2292.7 1945.3 L2298.3 1949.2 L2305.1 1949.5 L2311.0 1946.5 L2317.5 1945.2 L2324.0 1943.9 L2329.6 1941.1 L2335.9 1941.8 L2341.7 1945.1 L2347.2 1948.2 L2352.8 1949.3 L2358.7 1948.2 L2365.1 1946.8 L2371.7 1946.1 L2378.2 1945.2 L2384.3 1942.1 L2390.9 1940.9 L2397.3 1943.2 L2403.6 1944.1 L2409.8 1946.1 L2415.8 1949.0 L2422.0 1950.4 L2426.4 1954.0 L2429.0 1960.8 L2437.1 1960.4 L2443.5 1958.2 L2450.1 1957.3 L2457.0 1956.9 L2464.0 1955.4 L2469.7 1951.6 L2473.9 1945.7 L2478.6 1940.9 L2484.6 1938.1 L2490.2 1934.6 L2495.2 1930.3 L2500.4 1926.2 L2504.9 1921.3 L2509.8 1917.0"/>
<path d="M2166.9 1927.5 L2169.0 1933.7 L2169.5 1940.4 L2174.4 1945.1 L2180.4 1948.2 L2183.4 1954.5 L2186.4 1960.1 L2188.9 1966.2 L2187.5 1972.8 L2183.2 1978.3 L2179.9 1984.1 L2178.8 1990.7 L2176.9 1997.4 L2175.9 2004.2 L2176.2 2008.9 L2173.1 2012.4 L2168.3 2016.6 L2162.7 2019.9 L2157.1 2023.2 L2151.2 2027.2 L2144.5 2028.4 L2137.7 2026.2 L2131.7 2023.6 L2125.8 2020.5 L2119.6 2018.2 L2112.8 2018.7 L2106.1 2018.9 L2099.9 2016.3 L2094.2 2011.8 L2088.1 2009.0 L2081.4 2008.8 L2074.7 2008.7 L2068.3 2007.5 L2061.9 2005.8 L2056.6 2001.6 L2050.8 1998.7 L2044.6 1996.3"/>
<path d="M2067.6 1965.7 L2073.8 1962.6 L2079.8 1959.1 L2083.4 1952.8 L2087.1 1946.6 L2093.2 1943.3 L2100.0 1941.3 L2104.8 1938.2 L2108.9 1941.7 L2111.9 1947.8 L2116.9 1952.8 L2123.7 1955.5 L2127.4 1953.1 L2129.2 1946.8 L2133.4 1941.3 L2140.1 1939.6 L2146.8 1938.4 L2153.8 1939.0 L2160.6 1938.2 L2166.9 1935.1"/>
<path d="M2180.3 1996.3 L2186.9 1997.6 L2193.5 1998.4 L2199.4 2002.4 L2205.3 2004.8 L2209.3 2008.0 L2211.3 2014.5 L2219.2 2016.5 L2226.5 2016.8 L2231.9 2020.8 L2236.6 2026.2 L2243.4 2027.6 L2250.3 2029.3 L2254.4 2035.0 L2258.9 2040.1 L2264.2 2044.1 L2270.1 2047.3 L2275.7 2051.0 L2280.9 2055.1 L2287.2 2057.8 L2292.5 2061.9 L2296.9 2067.0"/>
<path d="M1838.2 2049.8 L1844.5 2051.9 L1850.6 2054.7 L1857.3 2054.8 L1863.9 2054.9 L1870.3 2056.8 L1876.5 2055.0 L1876.3 2048.4 L1879.3 2042.3 L1886.3 2042.8 L1892.6 2044.7 L1898.9 2046.7 L1905.3 2048.4 L1911.9 2048.8 L1918.5 2049.8 L1925.2 2048.8 L1927.5 2042.2 L1927.4 2035.5 L1930.0 2029.4 L1932.6 2023.4 L1936.4 2017.8 L1942.2 2013.1 L1945.8 2007.6 L1947.3 2001.1 L1951.5 1995.8 L1954.3 1990.0 L1954.2 1982.6 L1958.6 1977.7 L1964.1 1976.7 L1969.3 1978.3 L1975.4 1980.3 L1980.6 1984.0 L1984.9 1988.8 L1989.7 1993.6 L1996.3 1996.1 L2002.5 1993.2 L2008.1 1989.7 L2013.3 1986.2 L2017.5 1981.5 L2022.1 1976.4 L2029.2 1974.3 L2033.5 1980.1 L2036.8 1985.7 L2040.5 1991.1 L2043.8 1996.7 L2046.4 2002.7 L2048.4 2008.9 L2050.3 2015.4 L2055.9 2017.8 L2061.4 2013.9 L2067.6 2011.6"/>
<path d="M2531.0 1917.0 L2536.0 1921.5 L2540.9 1925.8 L2547.4 1926.1 L2553.9 1926.2 L2560.4 1929.9 L2566.7 1931.2 L2572.1 1933.3 L2576.4 1937.5 L2581.3 1942.3 L2586.5 1947.2 L2593.8 1948.0 L2600.0 1950.4"/>
<path d="M1502.0 2467.0 L1506.5 2462.2 L1509.3 2456.2 L1512.6 2450.3 L1516.6 2444.3 L1522.5 2439.8 L1529.6 2439.5 L1536.4 2439.5 L1542.2 2437.1 L1548.1 2434.5 L1554.6 2432.0 L1558.9 2427.0 L1562.6 2421.2 L1568.3 2417.9 L1573.7 2414.0 L1578.5 2409.7 L1584.1 2406.2 L1589.1 2401.9 L1593.0 2396.4 L1597.2 2391.1 L1603.0 2387.9 L1609.4 2385.7 L1615.6 2383.4 L1621.1 2380.3 L1627.1 2377.8 L1633.6 2378.1 L1640.1 2378.2 L1646.5 2376.8 L1652.3 2375.1 L1658.9 2374.8 L1665.4 2373.1 L1670.7 2369.2 L1675.6 2365.2 L1679.6 2360.2 L1680.7 2353.7 L1682.6 2347.8 L1689.0 2346.4 L1695.5 2346.6 L1701.7 2343.7 L1708.4 2341.4 L1714.7 2344.3 L1719.4 2347.8 L1724.1 2344.4 L1730.0 2342.4 L1737.0 2341.7 L1744.1 2341.1 L1750.8 2338.6 L1756.0 2333.5 L1759.6 2327.5 L1761.1 2320.6 L1763.7 2314.5 L1767.4 2309.0 L1767.7 2302.2 L1770.1 2296.0 L1775.2 2292.1 L1780.7 2291.4 L1786.3 2294.5 L1792.5 2296.9"/>
<path d="M1823.0 2144.0 L1822.1 2150.4 L1821.0 2156.9 L1819.3 2163.3 L1820.0 2169.8 L1822.4 2175.9 L1824.1 2182.1 L1824.7 2188.6 L1824.2 2195.1 L1826.6 2201.5 L1829.7 2208.1 L1826.9 2214.7 L1822.5 2220.2 L1821.8 2226.8 L1822.2 2233.9 L1821.3 2240.5 L1818.6 2246.5 L1814.2 2251.8 L1810.2 2257.3 L1808.3 2263.5 L1805.5 2269.3 L1802.2 2274.9 L1799.2 2280.8 L1796.7 2286.8 L1794.8 2293.1 L1790.6 2298.4 L1787.2 2304.1 L1786.5 2310.8 L1784.4 2317.0 L1782.4 2323.2 L1781.9 2329.8 L1781.5 2335.6 L1781.5 2341.5 L1781.2 2348.0 L1782.1 2354.4 L1783.1 2360.9 L1780.0 2367.7 L1778.1 2373.5 L1780.3 2379.8 L1780.3 2386.4 L1780.6 2393.3 L1778.5 2399.5 L1774.5 2405.1 L1772.8 2411.4 L1771.7 2418.0 L1769.0 2423.9 L1765.4 2429.5 L1763.3 2435.6 L1762.1 2442.0 L1760.8 2447.8 L1760.6 2454.0 L1761.2 2460.5 L1761.9 2467.0"/>
<path d="M1823.0 2144.0 L1829.6 2144.3 L1836.2 2142.9 L1842.7 2144.0 L1849.2 2145.2 L1855.6 2144.5 L1862.2 2144.6 L1867.2 2148.0 L1871.7 2152.6 L1876.7 2157.3 L1884.1 2157.9 L1890.0 2153.5 L1891.8 2146.7 L1894.8 2141.1 L1897.6 2135.1 L1898.4 2128.5 L1898.2 2121.6 L1899.0 2115.0 L1901.4 2108.8 L1904.4 2102.9 L1907.0 2096.7 L1908.7 2090.3 L1911.5 2084.3 L1914.6 2078.5 L1918.2 2072.9 L1921.1 2067.0"/>
<path d="M1944.2 2067.0 L1946.6 2073.1 L1947.9 2079.9 L1950.6 2086.1 L1954.7 2089.1 L1959.0 2090.1 L1965.3 2089.4 L1972.1 2087.9 L1979.3 2089.5 L1986.3 2091.1 L1993.1 2091.1 L2000.0 2090.5"/>
<path d="M1800.1 2281.6 L1806.2 2284.0 L1812.6 2286.0 L1818.1 2290.6 L1824.9 2291.4 L1831.7 2289.9 L1838.2 2290.6 L1845.6 2289.0 L1850.8 2283.0 L1852.3 2276.5 L1851.5 2269.2 L1851.4 2262.2 L1854.2 2256.2 L1856.3 2249.9 L1859.4 2243.9 L1864.4 2239.4 L1868.3 2234.1 L1871.9 2228.5 L1877.3 2224.5 L1883.4 2221.8 L1889.8 2219.9 L1895.2 2216.6 L1900.2 2212.7 L1905.3 2216.2 L1908.7 2221.1 L1910.9 2227.3 L1910.4 2234.0 L1906.4 2240.1 L1904.1 2246.7 L1906.2 2253.7 L1910.3 2256.8 L1916.5 2254.9 L1921.9 2251.0 L1925.4 2245.0 L1929.3 2239.7 L1935.0 2235.8 L1941.5 2233.6 L1947.8 2234.0 L1954.1 2235.5 L1960.8 2235.3 L1964.4 2240.8 L1963.6 2248.0 L1961.6 2254.1 L1957.5 2259.7 L1960.2 2265.8 L1967.1 2265.8 L1973.8 2265.7 L1980.2 2264.0 L1986.7 2262.5 L1993.4 2262.9 L2000.0 2262.5"/>
<path d="M2000.0 2430.7 L1993.6 2431.9 L1987.3 2435.1 L1980.7 2434.9 L1974.2 2434.4 L1967.6 2433.2 L1960.9 2431.4 L1954.3 2432.8 L1948.8 2436.7 L1942.9 2439.1 L1938.3 2443.9 L1934.5 2449.2 L1932.2 2455.4 L1930.1 2461.7 L1926.2 2467.0"/>
<path d="M3114.0 2107.6 L3117.7 2113.8 L3122.8 2118.5 L3129.4 2120.6 L3135.6 2119.6 L3142.2 2117.7 L3148.7 2117.6 L3154.4 2120.6 L3161.3 2122.2 L3167.1 2125.9 L3173.5 2129.2 L3180.6 2128.5 L3187.5 2129.5 L3193.1 2132.7 L3197.2 2137.5 L3200.0 2143.8"/>
<path d="M3210.6 2167.0 L3213.5 2173.1 L3212.6 2180.3 L3207.9 2185.1 L3211.6 2188.8 L3217.4 2191.8 L3223.7 2194.0 L3230.3 2196.4 L3233.0 2202.9 L3236.0 2208.8 L3241.0 2214.4 L3238.8 2221.2 L3235.0 2226.3 L3231.5 2231.4 L3225.8 2236.3 L3219.1 2237.1 L3212.3 2237.2 L3206.2 2239.6 L3200.2 2242.1 L3194.3 2245.2"/>
<path d="M3114.0 2107.6 L3109.7 2112.9 L3106.2 2118.6 L3106.4 2125.8 L3103.8 2131.9 L3099.4 2137.1 L3094.0 2140.9 L3089.8 2145.4 L3087.0 2151.7 L3082.4 2156.7 L3080.0 2163.0 L3079.4 2169.7 L3079.0 2176.2 L3078.9 2182.8 L3076.6 2189.2 L3074.7 2195.6 L3075.1 2202.2 L3075.0 2209.0 L3074.2 2215.9 L3071.3 2221.9 L3065.8 2226.5 L3063.1 2233.0 L3065.2 2239.7 L3066.1 2246.2 L3065.4 2252.6 L3065.2 2258.8 L3064.5 2265.3 L3064.4 2272.0"/>
<path d="M2953.5 2314.0 L2955.6 2307.7 L2958.8 2301.9 L2960.1 2296.0 L2963.8 2291.0 L2967.6 2285.7 L2971.1 2279.9 L2976.9 2276.4 L2982.4 2272.7 L2987.1 2268.4 L2992.6 2265.0 L2998.4 2261.8 L3004.0 2258.3 L3010.2 2254.8 L3017.0 2253.0 L3023.6 2252.5 L3030.6 2253.6 L3036.7 2258.1 L3042.1 2261.9 L3047.9 2265.1 L3053.0 2269.9 L3059.2 2272.5 L3065.6 2274.4 L3071.9 2276.3 L3078.6 2276.8 L3085.2 2278.0 L3091.8 2278.3 L3096.2 2273.2 L3098.8 2266.6 L3104.2 2262.3 L3110.5 2259.0 L3116.8 2256.1 L3123.7 2255.7 L3130.7 2256.0 L3136.9 2253.6 L3142.6 2250.1 L3148.3 2246.7 L3153.8 2243.1 L3159.7 2241.7 L3165.4 2241.4 L3172.0 2240.5 L3178.6 2241.2 L3184.9 2243.0 L3191.4 2243.9 L3197.2 2241.9 L3202.0 2237.5 L3207.2 2233.5 L3213.2 2230.7 L3220.1 2230.7 L3226.4 2228.5 L3232.5 2226.1"/>
<path d="M3244.0 2214.7 L3248.6 2209.8 L3254.9 2207.0 L3261.2 2203.9 L3262.2 2196.2 L3263.7 2189.9 L3267.8 2184.5 L3270.3 2178.3 L3273.1 2172.3 L3276.8 2167.0"/>
<path d="M3358.2 2167.0 L3360.5 2172.7 L3363.8 2178.3 L3367.5 2183.8 L3373.0 2187.5 L3378.7 2191.4 L3382.0 2197.2 L3383.1 2204.0 L3384.0 2210.8 L3386.8 2216.5 L3391.8 2221.7 L3394.3 2227.8 L3394.8 2234.4 L3395.7 2240.8 L3395.0 2247.2 L3392.7 2253.2 L3391.6 2259.4 L3387.4 2263.9 L3380.3 2266.0 L3376.3 2272.6 L3379.5 2279.7 L3381.1 2286.0 L3383.7 2291.6 L3389.0 2295.3 L3395.1 2298.1 L3401.4 2302.1 L3402.0 2309.6 L3399.6 2316.3 L3396.2 2322.7 L3389.3 2324.9 L3382.6 2325.3 L3376.0 2326.2 L3369.4 2325.4 L3363.0 2323.8 L3356.7 2321.3 L3350.2 2318.9 L3343.2 2318.8 L3336.5 2320.7 L3330.4 2324.2 L3324.5 2327.8 L3318.2 2329.8 L3311.5 2329.6 L3304.8 2329.6 L3298.3 2328.9 L3291.8 2329.4 L3288.3 2333.4 L3287.3 2339.0 L3287.8 2345.5 L3290.2 2351.8 L3290.8 2357.5 L3292.7 2363.2 L3297.5 2367.6"/>
<path d="M3297.5 2367.6 L3302.0 2361.8 L3309.3 2361.2 L3313.3 2368.0 L3314.9 2375.2 L3318.0 2381.2 L3323.0 2386.3 L3326.1 2392.6 L3327.7 2399.3 L3328.7 2406.2 L3329.7 2413.0 L3332.4 2419.3 L3334.0 2425.9 L3335.7 2432.5"/>
<path d="M2900.0 2321.7 L2906.0 2317.9 L2912.4 2316.4 L2919.4 2319.2 L2925.6 2320.7 L2931.7 2322.2 L2938.2 2323.2 L2944.7 2324.1 L2950.4 2327.4 L2953.6 2333.2 L2956.9 2338.8 L2958.5 2345.2 L2961.9 2351.2 L2968.1 2354.1 L2974.0 2356.8 L2979.5 2356.2 L2985.3 2354.1 L2991.2 2351.7 L2996.1 2353.3 L2995.1 2360.3 L2991.2 2366.4 L2990.3 2372.8 L2990.0 2379.4 L2988.6 2385.8 L2988.7 2392.4 L2988.4 2399.0 L2986.5 2405.3 L2985.6 2411.8 L2985.6 2418.4 L2986.3 2425.0 L2986.5 2431.6 L2985.0 2438.1 L2983.9 2444.6 L2983.1 2451.2 L2979.5 2456.9 L2974.5 2461.9 L2971.6 2467.8 L2970.4 2474.5 L2969.2 2481.0 L2968.2 2487.5 L2966.5 2493.8 L2965.2 2500.2 L2965.2 2506.8 L2964.4 2513.3 L2962.6 2519.8 L2961.0 2526.4 L2963.6 2532.9 L2965.8 2539.3 L2964.5 2546.0 L2964.9 2552.5 L2966.2 2558.9 L2965.3 2565.6 L2964.3 2572.3 L2967.1 2578.6 L2970.9 2584.7 L2972.5 2591.0 L2972.1 2597.7 L2971.9 2604.3 L2973.3 2610.7 L2972.6 2617.5 L2973.6 2624.1 L2978.7 2629.5 L2981.3 2635.5 L2982.0 2642.2 L2983.4 2648.7 L2986.9 2654.3 L2990.7 2659.9 L2990.4 2666.8 L2989.6 2673.6 L2990.9 2679.8 L2992.5 2686.2 L2992.1 2692.9 L2992.8 2699.4 L2997.5 2705.3 L2999.4 2711.6"/>
<path d="M2345.9 2350.0 L2347.3 2356.6 L2349.6 2363.1 L2348.9 2369.9 L2348.2 2376.7 L2348.5 2383.4 L2349.4 2390.1 L2351.0 2396.8 L2352.2 2403.5 L2352.8 2410.2 L2352.3 2416.9 L2351.8 2423.5 L2351.2 2430.2 L2350.8 2437.0 L2353.0 2443.5 L2354.4 2450.1 L2353.7 2456.9 L2354.3 2463.6 L2353.4 2470.5 L2349.7 2475.7 L2343.8 2477.0 L2337.6 2481.2 L2335.3 2488.7 L2334.5 2495.6 L2332.9 2502.1 L2331.3 2508.7 L2328.2 2514.8 L2326.0 2521.2 L2325.8 2528.0 L2324.6 2534.6 L2322.9 2541.1"/>
<path d="M2300.0 2388.2 L2306.9 2386.1 L2313.5 2383.4 L2319.0 2378.4 L2325.0 2374.5 L2331.5 2371.6 L2338.2 2369.1"/>
<path d="M2353.5 2476.1 L2358.3 2480.8 L2361.5 2486.9 L2365.2 2492.5 L2370.9 2496.4 L2376.3 2500.5 L2380.3 2505.9 L2384.8 2511.0 L2390.0 2515.2 L2395.4 2519.3 L2401.8 2521.7 L2408.8 2522.7 L2415.2 2524.8 L2421.0 2527.9 L2426.7 2531.0 L2432.5 2534.9 L2438.9 2537.3 L2445.7 2537.0 L2452.7 2535.5 L2459.2 2536.5 L2465.6 2539.0 L2472.2 2540.6 L2478.8 2543.2 L2485.5 2544.4 L2492.6 2542.4 L2498.3 2538.2 L2502.7 2532.8 L2509.5 2529.5 L2514.2 2535.5 L2517.9 2541.1"/>
<path d="M2321.0 2636.7 L2327.4 2635.2 L2333.5 2632.8 L2339.5 2630.3 L2345.9 2628.9 L2352.1 2627.7 L2358.4 2626.7 L2364.8 2626.5 L2371.4 2625.3 L2378.0 2625.1 L2384.6 2625.1 L2391.2 2626.1 L2397.2 2629.2 L2403.4 2631.3 L2409.9 2632.3 L2416.3 2633.5 L2422.7 2634.9 L2428.5 2638.3 L2434.2 2642.4 L2440.3 2644.8 L2446.8 2645.6 L2453.4 2646.5 L2460.1 2647.3 L2466.8 2645.4 L2473.1 2643.0 L2479.9 2643.8 L2485.7 2647.0 L2490.5 2651.3 L2496.2 2654.9 L2501.6 2659.3 L2503.5 2665.0 L2509.0 2666.3 L2515.4 2667.6 L2521.9 2669.7 L2528.7 2671.5 L2534.1 2676.9 L2535.4 2684.5 L2535.0 2691.3 L2533.7 2697.8 L2534.2 2704.3 L2537.6 2709.9 L2542.3 2714.9 L2545.9 2720.4 L2546.5 2727.4 L2547.5 2733.9 L2550.1 2739.0 L2545.5 2743.4 L2538.9 2744.5 L2532.4 2746.1 L2526.5 2750.0 L2525.8 2756.4 L2530.0 2760.0 L2535.7 2762.9 L2540.1 2767.6 L2542.5 2773.9 L2544.6 2780.5 L2549.4 2785.1 L2555.0 2789.0 L2560.6 2792.8 L2566.0 2796.3 L2570.6 2801.4 L2576.1 2805.9 L2582.9 2806.9 L2589.9 2805.0 L2596.4 2805.1 L2602.8 2805.7 L2609.3 2804.3 L2616.3 2805.3 L2619.9 2810.2 L2617.3 2816.2 L2616.7 2823.1 L2622.2 2827.8 L2628.4 2830.4 L2633.6 2834.5 L2638.3 2839.0 L2643.4 2843.1 L2649.1 2846.4 L2655.1 2849.1 L2661.3 2851.2 L2666.9 2854.5"/>
<path d="M2321.0 2636.7 L2318.7 2643.5 L2317.0 2650.5 L2315.2 2657.3 L2316.9 2664.5 L2319.5 2671.9 L2317.6 2678.7 L2314.2 2685.0 L2310.8 2689.6 L2306.0 2694.0 L2300.0 2697.8"/>
<path d="M2533.2 2678.7 L2534.0 2672.0 L2535.1 2665.3 L2537.6 2659.0 L2539.7 2653.4 L2544.4 2649.4 L2550.4 2646.6 L2556.9 2644.2 L2563.4 2641.7 L2568.4 2636.9 L2572.8 2631.2 L2578.4 2627.3 L2583.8 2622.8 L2590.0 2619.4 L2597.2 2619.5 L2603.9 2618.0 L2607.4 2612.3 L2610.0 2606.1 L2614.8 2601.0 L2617.2 2594.6"/>
<path d="M2462.1 2755.9 L2459.0 2761.8 L2453.5 2766.1 L2449.1 2770.7 L2444.5 2775.5 L2440.5 2781.2 L2440.5 2788.5 L2440.0 2795.1 L2437.7 2801.6 L2440.3 2807.8 L2446.4 2811.0 L2452.4 2814.6 L2453.9 2821.5 L2454.9 2828.0 L2457.4 2834.5 L2456.4 2841.3 L2454.1 2847.7 L2452.3 2854.0 L2450.1 2859.9 L2448.5 2866.1 L2446.3 2872.3 L2449.0 2878.6 L2455.4 2881.5 L2461.6 2884.2 L2467.2 2887.3 L2473.0 2889.9 L2479.0 2892.6 L2485.1 2895.1 L2490.9 2897.5 L2496.9 2901.1 L2503.4 2903.6 L2510.0 2904.6 L2516.6 2904.8 L2523.4 2902.4 L2530.5 2900.4 L2536.9 2902.4 L2542.7 2906.5 L2548.8 2909.2 L2555.1 2911.2 L2561.6 2912.5 L2567.9 2914.7 L2573.9 2917.4 L2580.4 2919.3 L2586.7 2921.4 L2592.6 2924.4 L2598.6 2927.1 L2603.5 2932.1 L2609.6 2934.8"/>
<path d="M2361.2 2755.2 L2367.8 2753.7 L2374.7 2754.0 L2381.2 2752.0 L2387.6 2749.1 L2394.2 2747.4 L2401.4 2747.1 L2406.2 2752.3 L2407.9 2759.8 L2413.8 2765.4 L2422.1 2763.4 L2428.7 2760.6 L2435.5 2760.2 L2442.3 2760.7 L2449.3 2761.0 L2455.8 2758.8 L2462.1 2755.9"/>
<path d="M2403.2 2732.2 L2407.8 2727.0 L2413.6 2723.4 L2420.5 2721.8 L2426.2 2718.4 L2431.9 2714.4 L2437.9 2710.6 L2444.3 2709.0 L2451.4 2709.1 L2456.9 2704.9 L2458.8 2698.1 L2462.6 2692.6 L2469.1 2689.9 L2474.5 2686.0 L2478.3 2679.3 L2483.2 2674.5 L2490.2 2672.9 L2496.9 2670.9 L2502.6 2667.2"/>
<path d="M2764.4 2548.8 L2761.5 2542.5 L2756.8 2537.8 L2750.5 2534.6 L2745.4 2530.3 L2741.4 2525.1 L2736.4 2520.6 L2730.6 2520.9 L2727.6 2526.7 L2724.1 2532.4 L2719.2 2536.7 L2712.7 2537.4 L2705.7 2535.8 L2698.5 2537.5 L2693.7 2543.8 L2691.1 2550.4 L2686.4 2555.1 L2682.2 2560.2"/>
<path d="M2743.4 2525.8 L2746.4 2520.0 L2749.8 2514.4 L2753.0 2508.5 L2754.0 2502.0 L2755.2 2495.5 L2755.0 2489.0 L2752.9 2481.3 L2759.3 2476.4 L2766.8 2477.0 L2773.4 2476.4 L2779.8 2474.5 L2782.9 2469.3 L2781.2 2464.0 L2781.1 2457.0 L2784.4 2450.6 L2790.9 2447.5 L2796.9 2445.3 L2802.4 2443.0 L2807.6 2439.8 L2812.7 2435.5 L2815.7 2429.5 L2818.8 2423.2 L2822.7 2418.3 L2825.8 2415.6 L2823.9 2412.5 L2819.4 2407.5 L2820.6 2402.4 L2827.2 2401.8 L2833.6 2400.5 L2839.2 2396.0 L2843.4 2390.8 L2847.9 2387.7 L2854.4 2385.5 L2860.1 2381.9 L2863.0 2375.5 L2868.5 2371.8 L2875.3 2369.1 L2877.6 2362.6 L2878.4 2356.1 L2881.0 2350.0"/>
<path d="M2300.0 2831.6 L2303.9 2837.9 L2309.1 2843.0 L2316.0 2845.4 L2322.6 2844.9 L2322.2 2847.0 L2318.5 2852.1 L2312.8 2855.6 L2305.9 2857.5 L2300.0 2862.2"/>
<path d="M2300.0 2900.4 L2306.8 2900.0 L2313.4 2899.0 L2319.7 2897.8 L2325.7 2900.6 L2329.3 2906.7 L2332.5 2912.3 L2336.7 2917.0 L2339.0 2923.6 L2341.3 2930.4 L2345.8 2935.2 L2348.4 2941.2 L2347.4 2947.8 L2345.4 2954.2 L2342.8 2960.5 L2340.2 2966.8 L2337.2 2972.9 L2332.8 2978.0 L2327.9 2983.5 L2326.7 2990.3 L2326.7 2997.2 L2325.0 3003.7 L2323.8 3010.3 L2322.9 3017.0"/>
<path d="M2093.6 2600.0 L2094.2 2606.8 L2092.9 2613.7 L2095.0 2620.5 L2095.3 2627.3 L2092.2 2634.2 L2091.5 2641.0 L2093.3 2647.8 L2093.1 2654.6 L2093.2 2661.4 L2094.4 2668.2 L2091.8 2675.0 L2090.2 2681.8 L2092.7 2688.7 L2093.6 2695.6"/>
<path d="M2152.9 2626.8 L2152.8 2633.5 L2153.1 2640.3 L2156.3 2646.7 L2159.7 2653.0 L2159.6 2659.6 L2160.0 2666.3 L2162.0 2672.6 L2162.4 2679.6 L2164.4 2686.0"/>
<path d="M2152.9 2626.8 L2159.6 2625.6 L2165.2 2620.7 L2172.5 2621.6 L2180.0 2623.1 L2186.1 2619.6 L2191.3 2613.9 L2198.0 2612.5 L2204.6 2611.0 L2210.2 2606.7 L2216.8 2605.1 L2223.3 2603.0 L2229.3 2600.0"/>
<path d="M2045.9 2833.2 L2052.0 2835.6 L2058.7 2836.9 L2063.8 2841.4 L2069.6 2844.4 L2076.6 2844.7 L2082.8 2846.5 L2088.1 2850.8 L2093.8 2854.4 L2099.8 2857.1 L2106.1 2859.1 L2112.6 2860.3 L2118.8 2862.4 L2125.2 2864.0 L2131.7 2865.6 L2138.2 2867.8 L2144.8 2867.3 L2151.6 2863.7 L2158.2 2862.7 L2164.6 2865.7 L2171.1 2868.2 L2177.6 2868.8 L2184.2 2869.1 L2190.8 2868.6 L2197.4 2868.0 L2203.9 2868.9 L2210.4 2870.5 L2216.9 2871.5 L2223.3 2871.9 L2229.7 2873.3 L2233.8 2879.1 L2237.1 2886.7 L2233.7 2893.7 L2230.1 2895.9 L2233.6 2898.4 L2239.6 2901.1 L2245.9 2902.9 L2252.5 2903.2 L2258.1 2902.6 L2262.0 2899.5 L2268.3 2897.3 L2274.4 2895.0 L2280.7 2893.2 L2286.9 2891.0 L2293.5 2890.0 L2300.0 2891.9"/>
<path d="M2317.9 3017.0 L2315.4 3024.4 L2313.5 3031.8 L2314.5 3039.6 L2313.6 3047.2 L2313.4 3054.8"/>
<path d="M2233.2 2936.4 L2227.9 2940.3 L2224.2 2944.5 L2226.0 2949.8 L2229.6 2955.9 L2228.8 2963.2 L2223.6 2968.2 L2217.5 2971.9 L2213.6 2977.1 L2210.4 2983.0 L2207.9 2989.2 L2207.5 2995.7 L2206.9 3002.1 L2203.4 3008.7 L2202.2 3015.4 L2204.5 3022.0 L2206.9 3028.4 L2209.2 3034.7 L2210.9 3041.3 L2209.3 3047.9 L2205.9 3053.6 L2202.7 3059.2 L2200.7 3065.6 L2198.6 3071.0 L2200.3 3076.0 L2206.3 3078.2 L2212.7 3079.1 L2217.6 3080.1 L2223.6 3080.8 L2230.1 3078.9 L2236.0 3076.0 L2241.1 3071.9 L2246.2 3067.1 L2253.1 3066.0 L2259.0 3070.4 L2264.8 3074.5 L2271.8 3077.7 L2279.6 3075.9 L2284.8 3070.1 L2289.0 3063.6 L2294.5 3060.0 L2301.1 3058.5 L2307.8 3057.1 L2314.6 3058.6 L2320.8 3058.9 L2327.3 3058.6 L2333.7 3060.1 L2339.7 3063.5 L2346.0 3065.3 L2352.9 3064.8 L2359.6 3064.6 L2366.0 3066.3 L2372.4 3067.9 L2379.0 3068.4 L2385.6 3068.4 L2392.2 3068.2 L2398.7 3068.0 L2405.3 3068.7 L2411.8 3070.0 L2418.1 3071.1 L2424.1 3073.2 L2428.3 3077.6 L2432.5 3082.4 L2438.1 3086.0 L2443.0 3090.2 L2445.8 3096.1 L2449.1 3102.0 L2450.2 3108.5 L2444.6 3113.1 L2439.8 3117.3 L2438.1 3124.6 L2434.4 3130.0 L2428.5 3133.6 L2423.5 3137.9 L2419.5 3143.1 L2414.3 3147.2 L2408.5 3150.4 L2403.1 3154.1 L2398.8 3159.0 L2397.2 3165.5 L2398.5 3172.1 L2399.6 3178.6 L2399.3 3184.4 L2395.6 3186.4 L2389.6 3185.2 L2383.6 3182.7 L2377.2 3181.4 L2370.2 3180.9 L2364.7 3177.1 L2359.3 3173.3"/>
<path d="M2217.9 3085.4 L2217.2 3092.0 L2217.4 3098.8 L2214.0 3105.0 L2213.1 3111.6 L2214.8 3118.4 L2214.6 3125.0 L2212.8 3131.6 L2214.3 3138.3 L2215.4 3144.8 L2213.6 3151.8 L2215.0 3159.5 L2221.3 3163.6 L2225.7 3168.7 L2229.4 3174.6 L2235.5 3177.4 L2242.0 3180.1 L2247.8 3184.0 L2251.9 3189.4 L2253.4 3196.2 L2256.0 3202.5 L2259.4 3208.1 L2262.3 3214.3 L2267.3 3219.0 L2273.1 3222.6 L2278.2 3226.7 L2282.6 3231.9 L2287.5 3237.1 L2294.8 3235.3 L2298.7 3229.5 L2303.1 3224.4 L2308.3 3220.3 L2314.7 3217.6 L2320.2 3213.7 L2324.8 3208.9 L2329.7 3204.4 L2334.3 3199.6 L2340.2 3196.3"/>
<path d="M2451.0 3108.4 L2457.1 3105.5 L2464.3 3102.9 L2469.2 3108.8 L2471.7 3115.1 L2475.7 3120.4 L2479.0 3126.1 L2480.2 3132.9 L2481.5 3139.7 L2484.6 3145.5 L2487.8 3151.3 L2491.6 3156.7 L2496.1 3161.7 L2501.5 3165.7 L2507.2 3167.7 L2511.4 3174.1 L2517.9 3176.6 L2524.8 3173.1 L2531.4 3172.6 L2537.9 3174.3 L2544.4 3175.4 L2551.0 3176.1 L2557.5 3177.1 L2564.1 3178.0 L2570.7 3177.3 L2577.3 3176.8 L2583.8 3175.9 L2590.4 3174.2 L2597.0 3175.9 L2603.5 3178.0 L2610.1 3176.5 L2616.7 3174.4 L2623.3 3173.9 L2629.8 3174.4 L2636.4 3175.5 L2643.0 3176.9 L2649.4 3178.6 L2655.9 3179.4 L2662.4 3180.1 L2668.9 3181.4 L2675.3 3182.8 L2681.7 3184.2 L2688.1 3185.6 L2695.0 3185.0 L2701.7 3184.8 L2708.0 3186.5 L2714.3 3188.4 L2720.4 3191.9 L2726.9 3193.1 L2733.7 3192.1 L2739.9 3194.9 L2746.3 3196.7 L2753.0 3196.3"/>
<path d="M2340.2 3196.3 L2344.1 3201.6 L2347.4 3207.3 L2349.8 3213.7 L2354.4 3218.9 L2361.0 3221.0 L2366.8 3223.9 L2368.9 3225.7 L2368.8 3230.1 L2367.3 3236.6 L2365.7 3243.3 L2362.8 3249.0 L2359.8 3254.5 L2357.6 3260.7 L2355.5 3267.0"/>
<path d="M2290.5 3238.3 L2298.0 3239.8 L2305.2 3241.9 L2309.9 3248.4 L2309.6 3254.6 L2306.4 3261.1 L2302.0 3267.0"/>
<path d="M2000.0 3066.3 L2009.0 3065.2 L2017.0 3062.2 L2022.9 3054.8"/>
<path d="M2000.0 3104.5 L2002.8 3110.5 L2005.4 3116.6 L2008.8 3122.2 L2013.1 3127.1 L2017.2 3132.3 L2020.3 3138.1 L2020.6 3144.9 L2022.0 3151.3 L2026.3 3156.8 L2029.8 3162.8 L2031.5 3169.2 L2031.5 3175.9 L2028.7 3182.9 L2027.6 3189.6 L2031.1 3195.7 L2033.7 3202.0 L2033.7 3208.6 L2034.3 3215.2 L2034.3 3221.8 L2032.2 3228.1 L2030.5 3234.5 L2029.8 3241.0 L2028.0 3247.4 L2027.5 3253.9 L2028.6 3260.6 L2026.8 3267.0"/>
<path d="M2355.1 3267.0 L2360.3 3270.9 L2365.0 3275.7 L2368.9 3279.9 L2370.6 3285.2 L2375.0 3290.9 L2377.9 3297.2 L2377.1 3303.5 L2379.5 3309.5 L2385.5 3312.3 L2392.3 3312.3 L2398.7 3314.0 L2404.9 3317.1 L2412.0 3316.8 L2416.3 3311.1 L2421.9 3307.3 L2428.9 3308.8 L2435.5 3309.6 L2442.2 3310.2 L2448.0 3313.5 L2454.3 3316.6 L2460.5 3314.9 L2465.2 3311.3 L2471.4 3312.2 L2477.5 3314.7 L2482.8 3319.3 L2489.9 3323.3 L2495.4 3317.7 L2500.7 3312.3 L2507.1 3316.5 L2511.6 3321.8 L2516.7 3325.7 L2520.4 3330.8 L2522.6 3336.7 L2524.8 3342.9 L2526.1 3349.3 L2526.1 3356.5 L2530.6 3362.0 L2537.7 3361.8 L2544.1 3360.4 L2550.8 3361.3 L2557.4 3361.6 L2563.9 3361.1 L2570.6 3360.9 L2576.8 3363.4 L2582.8 3367.2 L2589.5 3367.8 L2596.4 3365.3 L2602.7 3364.0 L2609.4 3363.9 L2616.0 3363.2 L2621.9 3360.3 L2627.5 3364.3 L2627.1 3371.3 L2626.7 3377.4 L2632.5 3379.2 L2638.6 3380.6 L2644.2 3377.8 L2649.0 3373.4 L2655.5 3371.2 L2661.4 3367.9 L2665.9 3363.0 L2671.2 3358.3 L2673.4 3351.8 L2671.5 3344.1 L2672.2 3336.8 L2678.2 3332.3 L2684.2 3328.7 L2689.9 3325.5 L2695.9 3322.6 L2701.4 3319.0 L2705.4 3313.1 L2710.7 3308.8 L2717.8 3309.4 L2722.8 3314.0 L2730.2 3315.2 L2737.3 3313.4 L2743.3 3310.1 L2748.2 3304.4 L2754.3 3301.3 L2761.1 3303.2 L2767.3 3305.1 L2774.0 3305.5"/>
<path d="M2310.7 3267.0 L2314.2 3272.5 L2317.1 3278.2 L2321.3 3283.6 L2323.2 3290.0 L2322.9 3296.6 L2325.3 3302.5 L2329.7 3307.4 L2331.8 3313.6 L2332.3 3320.7 L2333.7 3326.3 L2334.5 3332.3 L2335.1 3339.0 L2332.4 3345.0 L2327.2 3350.0 L2325.1 3356.2 L2324.9 3363.1 L2322.4 3369.1 L2321.6 3375.6 L2320.0 3381.9 L2317.9 3388.1 L2317.4 3394.6 L2315.9 3401.0 L2316.3 3407.5 L2317.5 3413.8 L2316.4 3420.9 L2317.6 3427.3 L2321.6 3432.9 L2322.2 3439.4 L2322.2 3445.5 L2324.8 3451.7 L2323.7 3458.1 L2321.6 3464.2 L2321.5 3470.4 L2322.0 3476.7 L2322.8 3483.2 L2323.4 3489.0 L2322.5 3494.2 L2317.8 3499.8 L2312.3 3501.3 L2308.6 3505.3 L2308.7 3511.6 L2310.0 3518.2 L2307.8 3524.6 L2303.6 3530.8 L2303.3 3537.6 L2307.1 3543.2 L2311.1 3548.4 L2312.9 3554.1 L2312.5 3560.2 L2311.1 3566.2 L2311.6 3571.4 L2316.1 3575.6 L2320.6 3580.3 L2323.0 3586.8 L2326.8 3592.1"/>
<path d="M2456.7 3316.9 L2459.3 3323.0 L2464.4 3328.3 L2468.2 3334.8 L2468.0 3342.6 L2465.0 3349.4 L2461.0 3355.4 L2458.0 3361.5 L2456.3 3368.1 L2457.1 3375.2 L2461.0 3381.0 L2463.7 3387.1 L2465.6 3393.5 L2470.4 3398.5 L2474.1 3404.2 L2474.6 3410.9 L2475.3 3417.5 L2475.0 3424.1 L2474.4 3430.7 L2475.9 3437.2 L2478.3 3443.7 L2479.0 3450.3 L2477.8 3457.0 L2476.8 3463.7 L2477.6 3470.3 L2479.6 3476.8 L2482.8 3482.6 L2486.1 3487.6 L2491.1 3491.5 L2496.8 3494.8 L2502.6 3498.0 L2507.8 3502.2 L2513.6 3506.2 L2517.5 3511.9 L2519.7 3518.1 L2524.1 3522.5 L2529.8 3525.6 L2535.7 3529.1 L2542.2 3530.4 L2548.9 3530.6 L2554.5 3534.3 L2558.7 3539.7 L2562.1 3545.5 L2563.4 3552.4 L2564.0 3559.2 L2563.6 3566.3 L2560.3 3572.4 L2554.5 3576.9 L2550.2 3582.1 L2547.7 3588.4 L2546.2 3595.0 L2551.1 3598.0 L2553.3 3602.0 L2549.3 3606.9 L2545.5 3612.3 L2540.8 3617.0"/>
<path d="M2521.7 3328.4 L2522.0 3335.1 L2522.7 3341.7 L2522.8 3348.3 L2522.6 3355.0 L2523.6 3361.6 L2525.6 3368.1 L2527.2 3374.5 L2527.8 3381.2 L2529.2 3387.8 L2531.8 3394.2 L2537.1 3398.7 L2542.9 3402.3 L2549.1 3405.3 L2554.9 3408.6 L2558.9 3414.0 L2562.8 3419.8 L2568.8 3423.5 L2572.2 3429.6 L2573.3 3436.4 L2573.6 3443.1 L2573.8 3449.8 L2574.1 3456.5 L2575.5 3463.0 L2577.4 3469.4 L2579.3 3475.8 L2581.6 3482.0 L2584.9 3487.9 L2586.8 3494.2 L2588.2 3500.7 L2590.9 3506.7 L2595.2 3512.0 L2598.3 3517.9 L2598.8 3525.0 L2600.6 3531.4 L2602.2 3537.9 L2602.5 3544.5 L2603.9 3551.1 L2603.9 3557.7"/>
<path d="M2380.3 3496.6 L2384.4 3491.5 L2390.6 3488.2 L2397.5 3485.6 L2401.5 3480.3 L2403.8 3473.6 L2407.7 3468.3 L2412.6 3464.3 L2417.0 3460.5 L2422.8 3461.5 L2429.4 3463.2 L2436.4 3462.7 L2442.6 3460.0 L2448.5 3456.7 L2454.4 3453.9 L2460.7 3452.0 L2467.3 3449.6 L2471.6 3444.5 L2475.8 3439.2"/>
<path d="M2380.3 3496.6 L2385.4 3500.8 L2390.6 3505.0 L2394.2 3510.6 L2398.2 3516.0 L2403.2 3520.3 L2408.8 3524.0 L2414.4 3527.6 L2419.4 3532.0 L2422.7 3537.8 L2422.9 3544.5 L2421.3 3550.3 L2417.0 3548.9 L2410.7 3548.2 L2404.1 3547.9 L2397.7 3548.4 L2391.2 3550.0 L2385.0 3552.2 L2378.9 3554.8 L2373.6 3558.9 L2368.6 3563.1 L2362.9 3566.4 L2356.6 3569.1 L2350.3 3571.9 L2345.4 3576.3 L2341.9 3582.3 L2338.5 3588.5 L2335.6 3593.7 L2334.0 3598.6 L2331.2 3604.3 L2327.6 3610.4 L2326.8 3617.0"/>
<path d="M2603.9 3557.7 L2608.0 3552.6 L2611.1 3546.7 L2614.1 3540.8 L2617.2 3534.8 L2622.5 3530.6 L2628.3 3526.8 L2632.2 3521.5 L2635.8 3515.8 L2641.4 3512.7 L2646.0 3513.1 L2651.5 3514.1 L2657.9 3516.0 L2664.1 3517.4 L2667.8 3511.6 L2671.5 3505.4 L2669.4 3498.3 L2662.4 3495.5 L2658.3 3490.4 L2657.4 3484.0 L2660.8 3481.7 L2663.9 3477.0 L2669.8 3474.4 L2675.0 3470.3 L2679.5 3464.9 L2685.7 3462.4 L2691.7 3459.6 L2697.1 3456.2 L2703.1 3453.5 L2709.9 3451.9 L2714.8 3457.4 L2719.5 3462.4 L2726.2 3464.2 L2733.0 3464.5 L2739.5 3465.5 L2746.2 3465.6 L2752.7 3464.2 L2759.0 3461.7 L2765.2 3458.7 L2771.8 3458.1 L2778.4 3458.1 L2784.8 3457.1 L2791.5 3457.7 L2798.7 3456.5 L2803.7 3451.7 L2808.4 3446.1 L2810.0 3438.7 L2807.5 3432.0 L2804.4 3425.8 L2804.5 3418.8 L2806.7 3412.5 L2810.1 3407.3 L2807.1 3402.2 L2800.8 3400.0 L2795.3 3397.1 L2795.6 3390.8 L2798.7 3385.0 L2800.0 3378.5 L2799.6 3371.6 L2795.8 3367.9 L2789.8 3367.8 L2783.3 3366.5 L2780.1 3363.3 L2781.5 3357.2 L2781.5 3353.8 L2776.3 3353.6 L2769.8 3353.4 L2765.5 3352.0 L2767.6 3347.0 L2769.2 3340.5 L2770.6 3333.3 L2776.0 3328.3 L2783.3 3327.3 L2789.2 3324.6"/>
<path d="M2603.9 3557.7 L2597.0 3560.7 L2589.9 3563.0 L2584.0 3567.8 L2578.5 3573.7 L2570.9 3574.8 L2563.7 3576.9"/>
<path d="M2331.2 3617.0 L2332.0 3623.5 L2333.5 3629.9 L2337.6 3635.7 L2339.4 3641.9 L2340.5 3648.4 L2341.3 3654.9 L2342.7 3661.3 L2344.4 3667.6 L2344.3 3674.3 L2345.4 3680.9 L2350.4 3685.5 L2356.9 3687.2 L2362.5 3690.7 L2368.5 3693.3 L2374.8 3694.3 L2380.9 3694.9 L2387.0 3694.4 L2393.5 3695.4 L2400.2 3698.0 L2406.7 3699.1 L2412.7 3699.3 L2417.5 3700.9 L2420.4 3705.5 L2424.1 3711.0 L2426.1 3717.2"/>
<path d="M2541.0 3617.0 L2539.9 3623.5 L2537.7 3629.7 L2536.0 3636.3 L2536.5 3643.1 L2540.3 3649.1 L2538.5 3656.0 L2532.9 3660.2 L2528.1 3664.9 L2522.2 3667.9 L2515.3 3669.3 L2509.7 3672.9 L2506.4 3678.8 L2505.8 3685.3 L2506.3 3692.0 L2503.7 3698.2 L2499.9 3704.1 L2499.9 3710.8 L2498.8 3717.2"/>
<path d="M2082.2 3338.2 L2089.2 3338.9 L2095.7 3342.3 L2097.3 3349.9 L2098.6 3356.6 L2099.1 3363.1 L2098.8 3369.7 L2099.1 3376.2 L2097.3 3382.9 L2095.6 3389.3 L2096.2 3396.1 L2093.6 3402.2 L2089.3 3407.4 L2087.3 3413.7 L2084.8 3419.7 L2080.7 3425.0 L2078.1 3430.9 L2076.0 3437.1 L2074.4 3443.7 L2074.1 3451.1 L2070.7 3455.8 L2065.8 3460.4 L2067.9 3466.2 L2072.9 3470.5 L2075.6 3476.7 L2079.3 3482.5 L2085.5 3485.3 L2091.7 3487.7 L2097.7 3490.3 L2103.5 3493.4 L2108.7 3497.5 L2114.1 3501.4 L2119.6 3505.4 L2122.6 3511.5 L2122.7 3518.4 L2124.0 3524.8 L2124.9 3531.2 L2125.7 3537.7 L2127.3 3544.1 L2128.8 3550.4 L2131.5 3556.5 L2133.6 3562.6 L2134.6 3569.2 L2136.7 3575.3 L2137.4 3581.1 L2131.9 3579.7 L2125.9 3578.0 L2119.5 3577.2 L2114.0 3573.9 L2108.9 3569.1 L2103.6 3571.3 L2101.9 3577.8 L2098.8 3583.0 L2093.1 3587.3 L2086.4 3588.5 L2079.6 3586.8 L2073.0 3585.7 L2066.4 3585.5 L2060.1 3583.5 L2054.5 3578.9 L2048.5 3576.1 L2041.5 3577.1 L2034.6 3577.5 L2028.4 3575.2 L2022.4 3572.6 L2016.8 3569.0 L2012.1 3564.5 L2009.4 3560.0 L2007.2 3554.6 L2006.0 3548.2 L2004.6 3541.7 L2004.9 3535.2 L2005.6 3528.6 L2009.2 3523.5 L2014.1 3521.0 L2019.5 3517.0 L2025.4 3514.1 L2032.5 3514.6 L2039.5 3513.9 L2044.1 3508.6 L2048.4 3502.8 L2053.6 3499.7 L2058.4 3496.1 L2057.1 3489.8 L2055.5 3483.5"/>
<path d="M2124.3 3529.3 L2130.8 3529.8 L2137.2 3528.1 L2142.9 3525.3 L2148.9 3523.2 L2155.2 3521.3 L2161.3 3519.2 L2167.4 3517.3 L2173.3 3514.4 L2177.6 3509.5 L2182.2 3504.9 L2186.6 3499.9 L2187.7 3493.1 L2189.8 3487.1 L2195.1 3481.7 L2197.9 3475.6 L2198.0 3469.0 L2199.4 3462.9 L2201.6 3456.9 L2202.9 3450.4 L2204.3 3443.8 L2208.4 3438.6 L2212.9 3433.5 L2215.5 3427.5 L2217.9 3421.5 L2220.3 3415.4 L2224.3 3410.2 L2230.4 3406.8 L2234.1 3402.0 L2237.6 3397.3 L2243.6 3396.4 L2249.9 3396.6 L2255.5 3398.7 L2260.6 3402.6 L2265.5 3407.0 L2270.2 3411.5 L2273.7 3417.1 L2276.9 3423.3 L2282.2 3427.2 L2287.9 3430.6 L2293.4 3434.2 L2300.0 3434.6"/>
<path d="M1700.0 3376.4 L1707.2 3376.8 L1714.4 3377.0 L1721.8 3377.5 L1728.7 3380.0 L1735.0 3383.9 L1741.5 3387.1 L1747.9 3390.1 L1754.4 3393.1 L1761.2 3395.6"/>
<path d="M1810.8 3300.0 L1808.0 3306.0 L1805.8 3312.4 L1804.1 3318.9 L1802.1 3325.3 L1800.9 3332.0 L1798.7 3338.4 L1794.7 3344.0 L1790.4 3349.4 L1786.2 3354.7 L1784.1 3361.2"/>
<path d="M1164.4 3150.0 L1168.3 3155.2 L1172.2 3154.3 L1176.3 3155.7 L1183.3 3157.0 L1189.8 3155.6 L1196.3 3153.8 L1202.7 3151.8 L1209.2 3149.6 L1215.7 3148.3 L1222.6 3150.1 L1229.3 3150.0"/>
<path d="M1248.4 3161.5 L1253.3 3165.9 L1258.3 3170.3 L1261.7 3176.1 L1266.3 3180.8 L1271.4 3185.1 L1276.7 3189.0 L1282.7 3192.7 L1289.6 3192.7 L1296.1 3189.3 L1302.6 3188.0 L1309.3 3189.3 L1316.4 3192.1 L1323.4 3191.6 L1329.4 3187.2 L1333.5 3181.0 L1338.6 3176.9 L1345.9 3175.7 L1351.5 3172.0 L1353.9 3164.6 L1357.6 3159.4 L1363.4 3155.6 L1366.9 3150.0"/>
<path d="M1366.9 3150.0 L1369.9 3156.0 L1373.6 3161.4 L1378.2 3166.3 L1383.0 3171.0 L1386.0 3177.0 L1386.6 3184.0 L1386.5 3190.1 L1388.2 3196.3 L1390.7 3203.0 L1389.0 3209.2 L1384.5 3214.1 L1378.1 3216.2 L1371.6 3218.0 L1366.8 3223.0 L1363.5 3228.5 L1359.6 3233.0 L1356.8 3238.8 L1354.6 3245.1 L1352.9 3251.5 L1350.5 3257.7 L1349.6 3264.1 L1348.5 3270.6 L1346.8 3277.1 L1346.0 3283.5 L1344.7 3289.7 L1344.3 3296.5 L1341.3 3303.0 L1335.0 3306.9 L1333.1 3313.0 L1336.0 3319.2 L1339.5 3324.8 L1344.8 3328.0 L1349.3 3333.2 L1345.9 3337.0 L1340.7 3339.2 L1334.3 3341.0 L1327.8 3342.2 L1322.9 3347.9 L1319.2 3353.3 L1313.0 3356.0 L1308.1 3360.6 L1305.1 3366.5 L1302.2 3372.5 L1297.9 3377.6 L1294.3 3383.2"/>
<path d="M1000.0 3356.4 L1006.1 3353.9 L1012.3 3352.7 L1016.9 3355.6 L1020.3 3360.7 L1024.3 3366.0 L1030.6 3368.8 L1036.5 3370.4 L1042.7 3371.5 L1049.3 3371.9 L1055.9 3371.7 L1062.5 3372.0 L1068.6 3376.1 L1074.8 3380.2 L1081.6 3378.5 L1088.4 3376.7 L1094.8 3378.4 L1100.9 3380.7 L1106.0 3384.1 L1110.1 3388.9 L1115.0 3393.3 L1120.4 3397.2 L1126.4 3401.4 L1123.8 3408.0 L1120.2 3412.6 L1126.6 3409.3 L1130.7 3403.5 L1136.5 3400.5 L1144.5 3400.5 L1150.5 3398.0 L1154.3 3391.7 L1158.9 3386.4 L1165.7 3385.3 L1172.3 3383.9 L1177.8 3380.3 L1182.8 3375.5 L1187.6 3370.5 L1193.9 3368.4 L1200.5 3367.0 L1206.1 3363.1 L1212.1 3360.4 L1219.2 3360.6 L1225.6 3359.2 L1231.6 3356.5 L1238.0 3354.8 L1244.8 3354.6 L1251.5 3354.2 L1257.4 3351.1 L1263.6 3349.1 L1269.9 3349.1 L1275.9 3350.4 L1282.2 3351.6 L1287.3 3355.5 L1292.4 3360.0 L1299.2 3360.1 L1305.8 3360.2"/>
<path d="M1324.9 3388.9 L1330.4 3392.6 L1337.3 3393.4 L1343.2 3393.3 L1348.5 3394.1 L1355.2 3394.0 L1361.8 3392.6 L1367.8 3389.7 L1373.1 3385.6 L1378.9 3382.7 L1385.0 3381.0 L1391.1 3378.4 L1397.5 3377.2 L1404.0 3376.3 L1410.5 3375.0 L1417.2 3374.9 L1423.6 3373.2 L1429.5 3368.9 L1435.8 3366.8 L1442.6 3367.3 L1449.4 3368.1 L1455.9 3367.0 L1462.2 3365.2 L1468.8 3364.4 L1475.4 3364.0 L1482.2 3364.8 L1488.7 3363.7 L1494.9 3361.1 L1501.6 3361.2 L1508.3 3361.1 L1514.7 3359.5 L1521.2 3358.3 L1527.5 3356.4 L1533.7 3353.6 L1540.2 3353.0 L1546.8 3353.2 L1552.7 3353.5 L1557.5 3357.8 L1560.9 3363.6 L1563.1 3370.3 L1561.9 3377.0 L1559.1 3383.6 L1558.1 3390.2 L1558.3 3396.7 L1558.9 3403.3 L1560.0 3409.9"/>
<path d="M1560.0 3360.2 L1566.2 3358.2 L1572.1 3355.2 L1577.8 3351.8 L1584.5 3350.7 L1590.8 3348.8 L1596.3 3344.8 L1602.6 3342.9 L1609.5 3342.6 L1615.4 3339.6 L1620.7 3335.2 L1626.7 3332.5 L1633.2 3330.9 L1638.7 3330.6 L1639.3 3336.6 L1636.2 3342.9 L1635.3 3349.6 L1638.2 3356.3 L1639.7 3362.8 L1639.6 3369.6 L1640.6 3375.6 L1640.2 3381.0 L1636.3 3385.7 L1631.3 3391.8 L1637.8 3393.8 L1643.9 3390.3 L1650.1 3388.4 L1656.7 3387.5 L1663.3 3386.2 L1669.1 3382.9 L1674.4 3378.4 L1680.0 3374.7 L1686.3 3371.9 L1693.7 3372.5 L1700.0 3375.9"/>
<path d="M733.4 3324.9 L740.2 3325.4 L746.7 3326.5 L752.2 3330.5 L758.2 3333.4 L765.0 3334.9 L771.2 3331.9 L774.7 3325.9 L777.1 3319.7 L780.3 3314.0 L783.8 3309.3 L784.6 3309.6 L784.7 3315.4 L787.4 3321.2 L791.9 3326.6 L793.9 3332.8 L794.3 3339.4 L796.2 3345.7 L800.5 3351.2 L803.2 3357.8 L796.9 3361.9 L792.3 3367.0 L793.6 3373.3 L798.3 3377.6 L801.5 3382.1 L807.2 3382.5 L813.8 3382.8 L820.1 3380.8 L826.2 3378.5 L832.9 3377.9 L839.0 3375.4 L844.6 3371.4 L850.7 3369.2 L856.7 3366.2 L863.1 3364.4 L870.1 3365.5 L876.8 3366.1 L883.5 3366.6 L889.8 3366.0 L896.1 3362.8 L902.6 3360.4 L909.2 3362.2 L915.7 3363.7 L922.3 3362.2 L928.8 3360.4 L935.3 3361.0 L941.9 3362.5 L948.5 3362.3 L955.0 3362.8 L961.6 3362.8 L968.0 3360.7 L974.8 3361.5 L981.5 3360.8 L987.1 3356.5 L993.5 3354.9 L1000.0 3353.9"/>
<path d="M1046.9 3065.0 L1046.9 3071.7 L1050.7 3077.9 L1052.6 3085.2 L1047.7 3090.8 L1044.9 3096.1 L1050.8 3099.6 L1055.9 3103.1 L1058.1 3108.7 L1064.1 3108.6 L1070.1 3106.5 L1077.1 3107.0 L1083.5 3105.3 L1089.3 3101.6 L1095.6 3099.2 L1102.2 3098.1 L1108.7 3096.5 L1115.3 3095.7 L1122.1 3095.3 L1129.1 3096.0 L1134.6 3100.5 L1139.1 3106.2 L1144.7 3109.8 L1151.2 3111.8 L1157.9 3113.2 L1163.9 3117.5 L1158.9 3122.4 L1153.2 3124.9 L1155.8 3129.0 L1162.1 3131.5 L1167.0 3136.3 L1167.5 3143.3 L1167.7 3150.0"/>
<path d="M970.4 2703.6 L975.6 2699.6 L981.0 2695.9 L985.8 2691.5 L992.1 2688.8 L998.4 2685.9 L1002.9 2681.0 L1005.3 2674.1 L1007.8 2667.4 L1012.3 2662.5 L1018.4 2659.5 L1025.5 2657.7 L1031.2 2654.2 L1034.3 2647.8 L1038.1 2642.4 L1043.6 2638.8 L1048.7 2634.6 L1053.6 2630.3 L1058.7 2626.2 L1064.5 2623.9 L1070.7 2621.8 L1075.0 2615.8 L1075.4 2608.8 L1078.0 2602.9 L1081.7 2598.8 L1085.4 2594.9 L1091.5 2593.7 L1098.0 2594.5 L1104.3 2596.9 L1111.1 2597.1 L1117.5 2595.0 L1123.5 2592.2 L1129.4 2589.0 L1136.0 2588.0 L1142.6 2587.7 L1149.1 2587.6 L1155.7 2587.6 L1162.2 2588.4 L1168.7 2587.8 L1175.2 2585.2 L1181.8 2585.6 L1188.3 2587.0 L1194.6 2584.9 L1200.4 2581.9 L1206.7 2580.2 L1213.5 2580.3 L1220.0 2579.3"/>
<path d="M1092.7 2896.6 L1099.2 2896.8 L1105.7 2898.3 L1112.1 2900.6 L1118.8 2899.2 L1125.2 2896.6 L1131.9 2897.9 L1138.6 2898.9 L1145.0 2897.2 L1151.3 2895.5 L1157.7 2893.9 L1163.6 2891.0 L1168.8 2886.8 L1175.7 2886.2 L1182.0 2885.0 L1187.6 2883.9 L1194.5 2885.1 L1201.3 2885.1 L1207.5 2883.1 L1213.7 2881.1 L1220.0 2879.4"/>
<path d="M1879.5 2600.0 L1879.4 2606.7 L1879.9 2613.4 L1879.6 2620.0 L1877.4 2626.9 L1869.3 2628.3 L1864.3 2632.3 L1860.4 2638.0 L1854.3 2640.7 L1848.4 2643.7 L1842.9 2647.4 L1837.0 2650.5 L1831.3 2653.8 L1825.5 2657.1 L1818.7 2658.2 L1811.8 2659.1 L1806.2 2662.4 L1800.4 2665.7 L1794.7 2669.2 L1788.6 2671.6 L1781.9 2672.4 L1775.7 2674.5 L1769.7 2677.9 L1763.8 2681.2 L1757.1 2683.8 L1750.2 2682.0 L1745.6 2676.4 L1743.4 2670.7 L1740.9 2664.6 L1740.0 2658.0 L1738.5 2651.5 L1734.1 2645.8 L1731.8 2639.6 L1731.8 2632.8 L1731.0 2626.1 L1732.2 2619.1 L1732.8 2612.4 L1728.2 2606.5 L1726.7 2600.0"/>
<path d="M1700.0 2852.0 L1703.4 2857.7 L1707.9 2862.7 L1710.9 2868.6 L1713.6 2874.6 L1716.0 2880.9 L1717.4 2887.6 L1721.5 2892.9 L1726.9 2897.1 L1732.5 2899.9 L1737.3 2903.8 L1743.8 2903.3 L1750.0 2900.7 L1756.3 2898.3 L1764.0 2896.4 L1770.4 2902.9 L1770.1 2910.7 L1768.4 2917.2 L1766.2 2923.5 L1765.9 2930.2 L1764.8 2936.7 L1761.8 2942.8 L1759.2 2949.1 L1756.7 2955.3 L1756.0 2961.9 L1757.1 2968.8 L1757.1 2975.5 L1754.4 2981.7 L1752.9 2988.1 L1753.3 2994.9 L1751.0 3001.2 L1747.6 3007.2 L1746.0 3013.7 L1745.5 3020.3 L1744.7 3026.8 L1743.1 3033.2 L1743.9 3040.0 L1744.7 3046.8 L1742.5 3053.1 L1741.0 3059.6 L1740.7 3065.9 L1742.1 3072.1 L1742.5 3078.8 L1743.4 3085.4 L1746.6 3091.2 L1750.1 3096.8 L1752.8 3102.9 L1755.9 3108.7 L1758.2 3114.9 L1760.0 3121.4 L1762.6 3127.5 L1763.9 3134.2 L1768.2 3139.4 L1774.6 3143.5 L1776.4 3150.0"/>
<path d="M1774.9 3150.0 L1775.2 3143.4 L1774.9 3136.9 L1772.1 3130.5 L1774.6 3124.2 L1777.6 3118.4 L1777.9 3111.6 L1777.2 3104.4 L1780.8 3098.8 L1786.9 3094.0 L1789.8 3088.1 L1790.6 3082.3 L1794.3 3080.1 L1797.4 3084.0 L1802.4 3088.4 L1807.2 3093.0 L1812.0 3096.9 L1816.7 3100.3 L1821.9 3104.9 L1828.3 3106.1 L1834.9 3106.2 L1841.2 3108.9 L1847.4 3111.9 L1854.0 3112.0 L1860.7 3110.9 L1867.3 3110.7 L1873.9 3109.5 L1880.4 3108.5 L1886.8 3108.4 L1893.2 3108.0 L1899.8 3108.6 L1906.4 3108.8 L1913.0 3108.7 L1919.5 3108.0 L1925.8 3105.0 L1931.8 3106.4 L1934.6 3113.0 L1936.8 3118.1 L1939.0 3123.8 L1939.8 3130.3 L1940.1 3136.9 L1942.6 3143.1 L1945.8 3149.1 L1948.3 3155.3 L1950.0 3161.6 L1950.7 3168.1 L1951.5 3174.6 L1953.2 3180.9 L1955.6 3187.0 L1957.6 3193.2 L1958.7 3199.7 L1960.0 3206.1 L1962.2 3212.3 L1965.4 3218.1 L1967.7 3224.2 L1969.5 3230.5 L1973.4 3236.1 L1976.2 3242.1 L1976.7 3248.8 L1976.9 3255.6 L1977.0 3262.3 L1980.4 3268.2 L1983.1 3274.2 L1982.7 3281.0 L1984.3 3287.4 L1986.4 3293.6 L1987.6 3300.0"/>
<path d="M2029.8 3300.0 L2031.9 3293.6 L2032.1 3286.7 L2032.6 3279.9 L2035.1 3273.6 L2035.5 3267.0"/>
<path d="M2000.0 3112.6 L1997.4 3106.0 L1996.2 3098.9 L1995.9 3091.7 L1992.0 3085.3 L1990.2 3078.1 L1994.0 3072.8 L2000.0 3069.6"/>
<path d="M1791.6 3134.6 L1792.8 3142.3 L1794.2 3150.0"/>
<path d="M1800.0 3184.4 L1800.9 3191.2 L1803.1 3197.8 L1803.3 3204.7 L1800.5 3212.2 L1801.9 3219.0 L1806.0 3225.2 L1808.9 3231.7 L1811.4 3238.2 L1813.4 3244.9 L1813.5 3251.9 L1811.9 3259.0 L1812.0 3265.8 L1813.5 3272.6 L1813.6 3279.5 L1812.8 3286.3 L1811.9 3293.1 L1811.3 3300.0"/>
<path d="M1220.0 2579.3 L1226.3 2577.4 L1232.4 2575.1 L1238.2 2572.1 L1244.0 2569.1 L1249.9 2566.5 L1256.1 2564.3 L1261.3 2560.1 L1267.2 2557.3 L1273.0 2554.4 L1277.8 2549.8 L1283.6 2546.9 L1289.9 2544.8 L1296.4 2543.1 L1302.8 2541.1 L1308.5 2538.0 L1313.9 2534.4 L1320.0 2531.9 L1325.4 2528.3 L1330.8 2524.6 L1337.3 2523.0 L1342.7 2519.2 L1348.0 2515.3 L1355.0 2514.7 L1361.0 2512.2 L1365.6 2506.8 L1370.5 2502.1 L1376.0 2498.2 L1382.2 2496.0 L1388.7 2494.6 L1395.2 2493.4 L1401.7 2492.4 L1407.6 2489.3 L1413.5 2486.2 L1419.7 2484.2 L1426.1 2482.8 L1433.1 2484.0 L1440.2 2485.3 L1446.3 2482.9 L1452.1 2479.4 L1458.4 2477.4 L1464.5 2475.3 L1470.5 2472.6 L1476.3 2469.6 L1482.2 2467.0"/>
<path d="M1220.0 2884.4 L1225.3 2888.3 L1230.7 2892.1 L1234.4 2897.9 L1239.7 2901.9 L1245.4 2905.2 L1250.6 2909.3 L1256.4 2912.5 L1262.7 2914.6 L1268.0 2918.6 L1273.0 2922.9 L1279.5 2924.7 L1285.1 2924.3 L1290.7 2922.5 L1297.1 2922.2 L1302.8 2919.5 L1306.9 2914.3 L1310.7 2908.7 L1317.0 2905.8 L1323.3 2903.0 L1327.5 2897.8 L1331.4 2892.5 L1335.9 2887.6 L1339.7 2882.1 L1344.5 2876.4 L1351.8 2874.7 L1359.6 2875.4 L1362.4 2882.8 L1367.1 2887.6 L1372.2 2892.2 L1373.3 2899.2 L1374.1 2906.3 L1378.5 2911.2 L1383.6 2915.5 L1387.5 2920.9 L1393.2 2924.2 L1398.8 2927.6 L1403.7 2932.1 L1409.1 2935.8 L1414.7 2939.2 L1419.1 2944.6 L1424.9 2949.9 L1432.4 2948.7 L1438.9 2946.0 L1444.7 2942.6 L1449.6 2938.0 L1455.5 2935.1 L1462.0 2933.2 L1466.8 2928.5 L1471.5 2923.6 L1477.6 2921.0 L1483.2 2917.7 L1488.7 2914.0 L1494.6 2910.6 L1501.2 2908.0 L1508.9 2907.4 L1514.0 2912.7 L1515.5 2919.8 L1518.1 2925.9 L1522.1 2931.1 L1524.8 2937.4 L1529.8 2942.2 L1536.1 2944.9 L1542.6 2947.1 L1549.1 2947.7 L1556.0 2946.2 L1562.0 2949.4 L1565.8 2955.1 L1567.9 2961.4 L1570.7 2967.4 L1574.3 2973.0 L1575.2 2979.4 L1578.3 2986.1 L1585.2 2983.6 L1591.4 2981.4"/>
<path d="M1591.4 2981.4 L1594.4 2975.5 L1595.7 2968.8 L1598.5 2962.9 L1601.8 2957.2 L1603.9 2950.9 L1606.7 2944.9 L1609.1 2938.8 L1610.5 2932.2 L1614.9 2926.9 L1620.2 2922.0 L1623.6 2916.3 L1625.8 2910.1 L1626.8 2903.3 L1628.2 2896.8 L1630.5 2890.6 L1633.0 2884.5 L1637.2 2879.1 L1641.3 2873.6 L1642.2 2866.9 L1643.5 2860.3 L1646.6 2854.4 L1649.5 2848.5 L1653.2 2842.9 L1655.9 2836.9 L1657.3 2830.3 L1660.0 2824.3 L1662.8 2818.3 L1664.6 2811.9 L1665.6 2805.2 L1667.3 2798.8 L1670.9 2793.2 L1674.4 2787.5 L1676.9 2781.4 L1678.5 2774.9 L1680.5 2768.5 L1683.7 2762.7 L1687.0 2756.9 L1689.0 2750.1 L1694.1 2745.7 L1700.0 2741.9"/>
<path d="M1719.9 2600.0 L1724.2 2594.6 L1728.2 2589.1 L1729.9 2582.2 L1732.7 2576.0 L1736.6 2570.4 L1741.1 2565.0 L1744.5 2559.0 L1746.7 2552.5 L1748.1 2545.7 L1749.8 2539.1 L1752.2 2532.7 L1753.7 2526.0 L1754.3 2519.1 L1755.0 2512.3 L1755.7 2505.4 L1757.8 2498.9 L1761.4 2492.9 L1766.1 2487.1 L1769.7 2481.1 L1769.0 2473.8 L1770.0 2467.0"/>
<path d="M1367.7 3150.0 L1372.6 3147.1 L1378.7 3146.3 L1384.8 3142.3 L1391.0 3139.0 L1397.7 3139.0 L1404.4 3139.5 L1411.1 3139.6 L1417.7 3139.0 L1424.2 3138.0 L1430.9 3137.9 L1437.6 3138.5 L1444.2 3138.0 L1450.6 3135.8 L1457.0 3134.0 L1463.4 3132.1 L1469.3 3129.3 L1475.5 3127.6 L1482.1 3126.8 L1485.8 3122.6 L1487.2 3116.3 L1489.6 3110.1 L1492.2 3104.2 L1496.9 3099.6 L1500.1 3093.9 L1503.3 3087.9 L1508.1 3083.5 L1513.2 3079.2 L1517.4 3074.1 L1520.9 3068.2 L1524.8 3062.8 L1530.4 3059.1 L1535.5 3054.8 L1539.0 3049.2 L1543.9 3044.7 L1549.3 3040.6 L1552.1 3034.5 L1554.6 3028.2 L1560.1 3024.0 L1565.1 3019.4 L1567.2 3012.8 L1571.0 3007.4 L1576.1 3002.9 L1578.4 2996.5 L1580.5 2989.8 L1586.3 2985.8 L1591.4 2981.4"/>
<path d="M1652.5 2840.1 L1656.5 2845.7 L1661.4 2850.2 L1666.3 2854.7 L1671.4 2858.9 L1676.6 2862.9 L1683.1 2865.3 L1689.3 2868.0 L1694.5 2872.0 L1700.0 2875.7"/>
<path d="M1879.7 2600.0 L1876.3 2594.2 L1871.9 2588.9 L1867.5 2583.7 L1863.8 2578.0 L1861.6 2571.5 L1860.7 2564.3 L1858.3 2558.3 L1855.8 2552.6 L1854.6 2545.6 L1859.8 2540.9 L1865.9 2537.5 L1869.9 2532.0 L1872.0 2524.6 L1876.5 2519.6 L1883.5 2517.0 L1890.1 2513.9 L1894.3 2508.6 L1896.0 2501.0 L1899.6 2495.2 L1906.5 2492.3 L1912.0 2488.2 L1915.3 2482.1 L1918.9 2476.3 L1923.9 2471.8 L1928.7 2467.0"/>
</g>
</g>
<g fill="none" stroke="#000" stroke-width="7.6" stroke-linejoin="round" stroke-linecap="round">
<path d="M3635.8 156.6 L3639.1 162.4 L3643.0 167.9 L3649.9 169.9 L3655.8 172.2 L3661.5 175.7 L3666.1 180.1 L3670.5 183.8 L3676.6 186.7 L3681.0 191.0 L3682.9 196.6 L3682.4 202.4 L3675.7 202.5 L3669.2 201.8 L3662.9 199.3 L3656.1 198.4 L3649.8 200.9 L3643.7 203.5 L3637.5 206.7 L3630.5 206.9 L3624.4 202.9 L3618.3 200.2 L3611.7 199.9 L3605.4 198.4 L3599.2 195.8 L3592.7 194.9 L3586.5 193.0 L3580.3 190.7 L3573.4 191.0 L3566.8 193.0 L3560.8 195.3 L3554.3 196.3 L3547.8 197.0 L3541.3 197.5 L3534.9 198.5 L3528.6 201.0 L3522.1 202.0 L3515.3 199.8 L3508.7 199.6 L3502.5 202.4 L3496.1 203.8 L3490.4 206.1 L3488.0 209.4 L3486.3 214.9 L3486.7 221.4 L3490.5 227.2 L3492.2 234.2 L3487.9 240.3 L3482.4 244.4 L3478.4 249.2 L3473.3 253.4 L3467.3 255.6 L3462.7 259.2 L3460.6 265.0 L3458.1 270.2 L3452.9 272.9 L3446.6 274.4 L3440.6 277.3 L3434.3 280.5 L3430.1 286.6 L3429.0 291.6 L3426.3 295.8 L3420.6 298.5 L3414.9 301.9 L3410.9 307.7 L3406.4 312.7 L3400.7 316.1 L3395.0 319.1 L3390.6 323.0 L3385.3 326.8 L3378.8 327.7 L3372.5 329.5 L3367.5 333.5 L3364.2 338.4 L3360.2 343.5 L3356.8 349.1 L3357.1 355.7 L3359.4 362.3 L3359.3 369.6 L3355.3 375.1 L3354.3 380.2 L3357.8 384.8 L3360.1 391.2 L3359.5 397.0 L3358.6 403.7 L3356.1 409.4 L3351.8 414.6 L3350.0 420.9 L3353.1 426.0 L3358.0 429.6 L3361.6 435.3 L3363.8 442.9 L3368.9 448.2 L3376.9 447.4 L3383.9 447.0 L3389.7 449.8 L3395.3 447.8 L3400.0 443.8 L3407.4 443.4 L3413.9 442.4 L3419.5 439.4 L3425.3 439.1 L3431.3 440.4 L3437.9 441.5 L3444.0 443.5 L3450.3 445.2 L3456.8 447.4 L3463.6 447.3 L3470.1 445.6 L3476.5 444.1 L3482.4 441.9 L3488.4 443.6 L3494.1 446.1 L3500.8 446.9 L3505.2 451.6 L3508.3 456.2 L3509.9 460.1 L3506.6 464.4 L3502.2 468.6 L3497.7 473.0 L3494.4 476.2 L3494.8 482.6 L3498.9 487.6 L3504.5 491.0 L3509.4 495.7 L3515.5 498.5 L3522.4 498.3 L3528.9 498.8 L3535.3 499.7 L3541.9 500.2 L3547.9 503.2 L3551.4 508.9 L3555.0 514.3 L3558.0 520.0 L3559.7 526.3 L3560.4 533.2 L3563.8 540.2 L3571.5 541.6 L3578.3 539.4 L3584.7 537.3 L3591.2 537.2 L3597.9 538.5 L3604.4 537.9 L3610.7 535.1 L3617.1 531.5 L3623.9 531.1 L3630.1 535.4 L3636.3 538.3 L3642.7 539.6 L3648.8 540.7 L3655.3 541.1 L3658.6 546.3 L3658.0 553.1 L3656.9 559.3 L3652.6 564.2 L3647.8 568.6 L3643.9 573.1 L3640.2 577.8 L3635.7 582.7 L3631.6 588.4 L3631.8 595.3 L3634.7 601.5 L3637.7 607.3 L3642.1 612.2 L3646.6 616.7 L3650.1 621.7 L3654.8 627.0 L3661.0 629.9 L3668.2 628.0 L3675.4 625.8 L3681.5 628.3 L3687.2 632.4 L3693.4 634.7 L3700.0 635.1"/>
<path d="M3635.5 156.6 L3640.9 160.5 L3645.7 165.4 L3651.9 167.7 L3657.7 170.8 L3663.9 173.2 L3670.4 175.0 L3675.2 179.7 L3679.3 184.4 L3683.0 189.3 L3686.1 194.7 L3685.8 200.7 L3683.7 206.1 L3677.1 207.7 L3670.1 207.9 L3664.1 207.1 L3658.3 206.0 L3651.7 204.6 L3645.2 205.7 L3638.8 207.0 L3632.3 205.1 L3626.0 203.9 L3619.5 203.3 L3613.1 202.2 L3606.4 202.2 L3600.0 201.0"/>
<path d="M3600.0 535.4 L3606.4 533.7 L3613.1 533.9 L3619.4 534.6 L3626.2 533.1 L3632.8 533.9 L3638.9 536.7 L3645.4 537.6 L3652.0 538.4 L3655.8 542.7 L3655.1 548.5 L3657.2 554.3 L3655.1 559.3 L3649.1 561.4 L3642.8 564.4 L3639.0 570.4 L3637.6 577.1 L3636.2 583.6 L3633.6 589.7 L3631.5 596.3 L3634.3 602.8 L3637.9 608.4 L3640.9 614.2 L3644.2 619.6 L3649.2 622.7 L3655.8 621.8 L3661.7 622.0 L3667.0 625.0 L3672.9 628.0 L3678.4 631.7 L3684.0 635.2 L3690.0 637.7 L3695.6 639.7 L3701.6 639.5 L3707.9 636.2 L3715.8 637.0 L3720.6 642.7 L3723.6 648.9 L3727.0 654.7 L3731.3 659.7 L3736.0 664.9 L3743.3 666.2 L3749.3 665.3 L3754.0 663.8 L3760.0 666.5 L3764.1 671.5 L3769.4 673.5 L3774.4 671.1 L3781.0 670.0 L3787.3 667.8 L3793.2 664.9 L3798.3 660.5 L3802.8 654.7 L3808.5 652.0 L3814.7 649.5 L3822.0 646.0 L3828.7 651.3 L3830.9 658.4 L3832.8 664.7 L3836.8 670.3 L3839.7 675.4 L3845.0 678.3 L3851.6 682.0 L3852.7 690.2 L3851.1 697.3 L3853.2 703.5 L3858.4 707.5 L3863.0 712.2 L3867.6 717.0"/>
<path d="M3735.7 665.4 L3735.0 672.2 L3732.0 678.5 L3728.8 684.7 L3728.1 691.6 L3728.0 698.7 L3725.3 705.1 L3720.9 710.6 L3718.5 717.0"/>
<path d="M4330.0 745.0 L4336.2 742.5 L4342.1 739.0 L4348.6 738.3 L4355.6 739.3 L4361.8 736.6 L4365.3 730.3 L4369.8 725.5 L4375.5 722.0 L4381.9 719.7 L4388.1 717.2 L4393.0 712.7 L4398.7 709.3 L4405.8 708.5 L4412.4 707.1 L4416.9 702.0 L4421.0 695.5 L4426.3 691.5 L4432.4 689.0 L4439.2 688.1 L4445.3 685.5 L4450.6 681.2 L4456.7 678.5 L4463.2 677.3 L4470.0 677.1 L4476.2 674.7 L4482.7 673.0 L4489.3 670.5 L4493.2 664.8 L4496.8 658.9 L4501.5 654.2 L4507.3 650.9 L4513.3 648.1 L4519.2 645.1 L4525.1 642.0 L4530.5 638.2 L4535.8 634.2 L4541.1 630.3 L4546.2 626.3 L4551.4 622.2 L4556.3 617.9 L4560.7 612.9 L4565.1 607.8 L4570.2 603.7 L4575.4 599.7 L4580.1 595.1 L4585.7 591.5 L4591.8 588.5 L4594.3 582.5 L4596.3 576.3 L4603.1 574.4 L4608.2 570.2 L4612.8 565.4"/>
<path d="M3582.9 900.0 L3586.3 906.3 L3587.3 912.7 L3584.2 919.6 L3583.8 926.3 L3584.5 932.8 L3586.2 939.3 L3588.3 945.6 L3590.1 951.9 L3591.8 958.2 L3594.4 964.2 L3594.7 971.0 L3595.4 977.8 L3599.4 983.3 L3603.5 988.6 L3606.9 994.2 L3608.9 1000.6 L3607.7 1007.1 L3607.5 1013.8 L3605.4 1019.9 L3601.5 1026.1 L3603.4 1032.8 L3607.0 1038.5 L3608.6 1044.3 L3608.8 1050.2 L3606.8 1056.4 L3603.7 1062.6 L3605.1 1069.6 L3609.0 1075.2 L3613.5 1080.1 L3617.3 1085.7 L3618.7 1092.2 L3620.3 1098.6 L3622.1 1105.3 L3618.7 1111.4 L3612.7 1115.8 L3609.7 1122.5 L3612.2 1129.4 L3614.1 1135.4 L3611.6 1141.0 L3606.4 1145.3 L3604.0 1151.5 L3606.8 1157.8 L3608.8 1164.0 L3609.9 1170.7 L3611.4 1177.3 L3616.2 1182.2 L3620.0 1187.7 L3620.7 1194.7 L3624.4 1200.1 L3628.6 1203.2 L3623.9 1207.3 L3618.5 1212.0 L3617.7 1219.6 L3621.6 1225.7 L3626.5 1228.0 L3632.4 1230.4 L3638.6 1232.6 L3644.4 1234.8 L3645.9 1241.1 L3648.8 1247.4 L3656.1 1249.7 L3661.6 1252.6 L3667.4 1255.5 L3674.0 1255.9 L3680.4 1254.3 L3687.2 1253.4 L3692.6 1257.8 L3697.3 1262.8 L3703.2 1265.6 L3709.0 1268.4 L3713.8 1273.1 L3719.6 1276.8 L3726.9 1277.0 L3733.4 1278.5 L3739.5 1281.0 L3746.2 1282.1 L3751.8 1285.6 L3756.8 1290.4 L3762.4 1293.6 L3768.2 1296.4 L3774.9 1298.4 L3781.3 1300.8 L3786.0 1305.2 L3791.0 1309.1 L3797.4 1310.7 L3802.7 1314.2 L3808.0 1318.3 L3814.4 1320.0 L3820.9 1320.4 L3827.5 1321.5 L3834.3 1323.4 L3840.9 1322.9 L3847.5 1321.5 L3854.3 1320.1 L3859.8 1315.4 L3865.8 1312.8"/>
<path d="M3709.1 900.0 L3707.9 906.5 L3707.7 913.3 L3704.0 919.1 L3699.2 923.9 L3693.9 927.6 L3689.1 932.1 L3687.0 938.1 L3687.2 944.5 L3686.8 950.2 L3687.4 955.1 L3690.4 960.2 L3693.2 965.5 L3698.9 967.0 L3704.5 963.2 L3710.6 960.3 L3717.5 960.2 L3724.2 959.2 L3730.8 960.3 L3737.4 963.8 L3743.9 965.5 L3750.0 965.2 L3756.2 964.3 L3762.3 966.1 L3768.1 969.2 L3773.4 973.0 L3774.2 979.5 L3775.0 985.3 L3774.8 991.2 L3771.3 996.7 L3767.6 1002.2 L3763.3 1007.6 L3757.3 1010.6 L3750.5 1012.0 L3744.2 1013.8 L3738.5 1016.7 L3732.6 1019.7 L3727.0 1023.6 L3721.5 1026.7 L3715.5 1028.0 L3709.9 1031.4 L3706.3 1037.1 L3704.5 1043.5 L3703.8 1050.1 L3705.4 1056.4 L3706.8 1062.7 L3708.3 1069.1 L3710.9 1075.1 L3714.8 1080.3 L3720.3 1083.7 L3726.1 1086.9 L3731.9 1090.0 L3738.1 1092.2 L3744.9 1093.1 L3750.1 1097.7 L3752.2 1104.1 L3753.9 1110.5 L3755.2 1116.6 L3755.8 1122.9 L3755.0 1129.2 L3753.3 1135.0 L3751.3 1141.0 L3750.0 1147.7 L3745.6 1152.5 L3739.0 1154.7 L3734.6 1159.5 L3731.3 1165.9 L3726.7 1171.6 L3720.4 1174.0 L3713.6 1174.2 L3709.1 1178.2 L3709.0 1184.7 L3710.7 1190.8 L3716.3 1194.3 L3722.4 1196.6 L3728.9 1198.4 L3733.8 1202.8 L3736.9 1209.0 L3741.4 1213.7 L3746.1 1218.1 L3748.3 1224.2 L3750.6 1230.8 L3756.1 1235.8 L3763.0 1237.6 L3769.8 1238.4 L3775.9 1240.8 L3781.7 1244.0 L3787.0 1247.8 L3792.4 1252.9 L3794.3 1260.2 L3791.1 1266.3 L3790.7 1273.8 L3797.5 1276.2 L3804.9 1277.2 L3808.3 1283.4 L3809.2 1290.1 L3811.8 1296.0 L3813.1 1302.7 L3815.8 1309.3 L3821.3 1314.1 L3827.7 1317.1 L3834.8 1316.8 L3841.1 1314.0 L3847.4 1312.2 L3854.1 1312.0 L3859.3 1308.3 L3862.1 1302.0 L3868.1 1298.3 L3874.7 1296.5 L3879.4 1296.7 L3877.9 1302.7 L3876.5 1309.1 L3875.1 1315.4 L3873.7 1321.8 L3873.4 1328.3 L3872.0 1334.7 L3871.8 1341.7 L3873.3 1347.1 L3871.8 1351.6 L3868.1 1356.7 L3864.6 1363.2 L3866.8 1370.4 L3872.3 1375.3 L3876.0 1381.1 L3876.9 1387.8 L3878.8 1393.3 L3883.2 1395.8 L3887.8 1400.7 L3894.0 1404.6 L3900.7 1402.1 L3906.9 1399.2 L3913.5 1398.9 L3920.3 1398.9 L3927.1 1400.5 L3932.4 1404.6 L3937.6 1408.1 L3943.8 1408.7 L3950.1 1409.9 L3956.7 1408.6 L3960.0 1402.9 L3964.9 1400.2 L3970.9 1402.8 L3976.7 1405.5 L3980.9 1410.1 L3984.4 1415.4 L3989.2 1419.1 L3994.5 1421.5 L4000.3 1425.4 L4005.1 1427.5 L4011.3 1429.5 L4016.6 1433.3 L4022.6 1436.3 L4028.6 1439.0 L4034.0 1442.8"/>
<path d="M2663.1 2350.0 L2660.4 2356.0 L2657.0 2361.2 L2652.1 2365.3 L2646.5 2368.7 L2642.4 2373.6 L2638.8 2379.1 L2633.9 2383.9 L2630.0 2389.2 L2626.8 2395.1 L2624.0 2401.3 L2621.5 2407.8 L2616.6 2412.5 L2611.5 2416.8 L2610.4 2422.6 L2611.5 2427.5 L2613.0 2433.6 L2615.8 2440.3 L2614.6 2447.6 L2611.4 2454.0 L2609.1 2460.2 L2607.4 2466.7 L2604.9 2472.9 L2598.9 2477.3 L2594.0 2482.2 L2593.4 2489.4 L2592.4 2496.6 L2588.4 2502.2 L2582.1 2505.3 L2576.0 2507.9 L2570.5 2511.6 L2567.5 2516.3 L2567.9 2521.6 L2567.1 2528.5 L2568.3 2535.1 L2571.4 2541.1"/>
<path d="M2571.4 2541.1 L2565.0 2542.8 L2558.3 2541.8 L2551.7 2541.6 L2545.6 2544.7 L2539.3 2547.0 L2532.6 2546.3 L2526.0 2545.6 L2519.6 2546.1 L2513.1 2546.2 L2506.6 2547.9 L2500.3 2551.1 L2493.9 2552.6 L2487.4 2552.9 L2480.8 2552.2 L2474.1 2549.9 L2467.6 2548.5 L2461.1 2550.3 L2454.6 2553.5 L2448.1 2553.4 L2441.6 2551.3 L2435.1 2549.8 L2428.6 2547.1 L2422.1 2546.1 L2415.6 2548.1 L2409.0 2550.5 L2402.5 2551.8 L2395.9 2552.2 L2389.4 2551.7 L2383.0 2549.6 L2376.5 2548.8 L2370.0 2549.3 L2363.5 2549.1 L2357.6 2551.9 L2353.7 2556.2 L2347.8 2559.2 L2342.9 2563.5 L2340.4 2569.6 L2337.4 2575.3 L2333.2 2580.4 L2328.8 2584.7 L2323.6 2587.7 L2317.9 2590.5 L2312.5 2594.6 L2306.4 2597.0 L2300.0 2598.4"/>
<path d="M2571.4 2541.1 L2577.8 2542.5 L2584.4 2543.0 L2590.9 2542.1 L2595.8 2538.0 L2600.7 2534.9 L2606.8 2534.8 L2613.3 2534.1 L2620.0 2533.3 L2626.5 2534.6 L2633.3 2536.2 L2639.0 2540.5 L2640.2 2547.5 L2646.1 2549.7 L2652.8 2549.7 L2659.3 2550.6 L2665.2 2553.8 L2669.3 2559.2 L2672.5 2565.3 L2676.1 2570.4 L2680.9 2574.4 L2684.4 2579.0 L2685.9 2585.1 L2689.5 2591.0 L2692.9 2596.8 L2693.4 2603.4 L2694.2 2610.0 L2695.3 2616.4 L2696.3 2623.1 L2696.9 2629.3 L2696.9 2635.3 L2699.0 2641.2 L2701.7 2647.2 L2705.8 2652.3 L2710.9 2656.4 L2714.4 2661.7 L2717.6 2667.5 L2721.4 2672.9 L2724.4 2678.9 L2727.7 2684.6 L2732.3 2689.3 L2738.2 2692.3 L2743.7 2695.2 L2747.7 2701.0 L2752.2 2706.2 L2758.7 2708.0 L2764.4 2711.2"/>
<path d="M2621.1 2558.3 L2623.1 2564.8 L2625.7 2570.8 L2627.5 2576.6 L2631.7 2581.4 L2636.5 2586.9 L2637.2 2593.2 L2639.5 2599.7 L2644.7 2604.9 L2652.0 2605.1 L2658.7 2603.5 L2664.5 2600.4 L2667.9 2594.7 L2669.3 2588.3 L2669.8 2588.6 L2664.4 2591.1 L2658.7 2591.4 L2653.9 2588.3 L2648.4 2584.7 L2644.4 2579.4 L2641.7 2573.3 L2636.8 2568.9 L2630.4 2565.8 L2626.9 2560.7 L2621.1 2558.3"/>
<path d="M2602.0 2594.6 L2604.6 2601.0 L2607.0 2607.4 L2607.9 2614.5 L2610.6 2620.8 L2613.3 2627.2 L2616.7 2634.1 L2624.3 2632.1 L2627.8 2624.8 L2625.6 2617.4 L2622.0 2611.2 L2618.3 2605.7 L2613.1 2601.8 L2607.8 2598.4 L2602.0 2594.6"/>
<path d="M1925.5 3559.9 L1928.9 3554.2 L1934.7 3550.3 L1939.2 3545.4 L1942.8 3540.1 L1946.8 3535.4 L1950.7 3529.9 L1956.3 3526.4 L1962.8 3524.6 L1968.8 3521.8 L1973.9 3517.5 L1978.9 3513.0 L1985.1 3510.6 L1990.0 3506.2 L1993.0 3500.2 L1997.8 3495.6 L2001.4 3490.0 L2004.5 3484.2 L2008.6 3479.1 L2012.5 3473.8 L2017.8 3469.4 L2022.4 3464.4 L2023.2 3457.5 L2023.4 3450.6 L2025.1 3444.3 L2026.4 3438.1 L2027.5 3431.7 L2028.3 3425.2 L2029.8 3418.7 L2033.3 3412.6 L2036.7 3406.5 L2038.5 3400.2 L2039.7 3394.4 L2040.3 3387.7 L2041.8 3380.5 L2046.6 3375.9 L2052.7 3372.4 L2057.3 3367.6 L2060.9 3362.0 L2063.8 3356.0 L2066.8 3350.1 L2070.0 3344.4 L2071.8 3337.9 L2073.9 3331.5 L2076.9 3325.7 L2079.6 3319.6 L2085.0 3315.1 L2090.7 3311.5 L2092.8 3304.6 L2097.5 3300.0"/>
<path d="M2558.7 1547.2 L2565.6 1546.9 L2572.5 1549.5 L2579.4 1548.1 L2586.2 1544.9 L2593.1 1545.2 L2600.0 1546.4"/>
<path d="M3100.0 1186.4 L3093.4 1188.6 L3087.2 1188.3 L3080.3 1188.0 L3076.1 1193.7 L3079.9 1199.6 L3085.2 1204.8 L3086.3 1212.3 L3081.5 1218.7 L3078.3 1225.2 L3081.5 1231.6 L3086.2 1236.7 L3083.3 1242.0 L3079.3 1246.6 L3075.7 1254.3 L3068.2 1256.7 L3061.6 1253.8 L3054.9 1252.2 L3048.8 1254.6 L3042.2 1255.7 L3035.8 1257.4 L3029.6 1259.6 L3023.6 1262.4 L3019.0 1267.2 L3015.4 1271.4 L3011.3 1276.6 L3007.9 1282.6 L3006.8 1289.3 L3008.1 1296.1 L3008.2 1302.8 L3006.5 1309.2 L3005.1 1315.6 L3004.5 1322.1 L3005.8 1328.3 L3009.0 1334.0 L3013.2 1339.5 L3014.2 1346.3 L3011.5 1354.0 L3012.3 1361.0 L3017.3 1366.3 L3022.1 1371.2 L3026.4 1376.3 L3028.6 1382.6 L3030.3 1389.3 L3035.2 1394.3 L3042.0 1396.4 L3049.0 1396.3 L3053.1 1392.0 L3057.2 1394.8 L3059.9 1400.9 L3059.6 1407.7 L3057.6 1414.0 L3056.9 1420.2 L3056.0 1426.5 L3054.8 1433.5 L3051.9 1439.6 L3045.8 1443.4 L3040.6 1447.7 L3037.8 1453.9 L3034.2 1459.4 L3029.0 1463.7 L3024.3 1468.5 L3020.4 1474.1 L3017.8 1480.3 L3017.0 1487.0 L3015.0 1493.4 L3012.0 1499.3 L3009.2 1505.2 L3005.8 1510.9 L3003.3 1517.0"/>
<path d="M3014.7 1265.7 L3021.4 1265.1 L3027.4 1262.4 L3032.6 1257.8 L3038.4 1254.7 L3044.8 1253.1 L3051.3 1251.9 L3057.5 1250.2 L3064.0 1249.8 L3070.3 1248.8 L3076.5 1246.8 L3083.0 1245.4 L3091.2 1243.3 L3091.0 1234.6 L3085.1 1229.7 L3080.3 1224.9 L3080.5 1218.3 L3083.5 1212.1 L3084.3 1205.4 L3082.7 1198.7 L3077.0 1194.6 L3080.0 1189.6 L3085.0 1187.5 L3092.1 1187.5 L3096.9 1190.8 L3102.4 1193.3 L3108.2 1190.3 L3114.6 1191.6 L3119.9 1196.2 L3123.2 1202.2 L3124.7 1208.7 L3126.3 1215.1 L3129.5 1220.7 L3135.3 1223.5 L3139.9 1227.4 L3143.0 1234.9 L3150.2 1236.0 L3149.5 1227.8 L3151.5 1221.5 L3154.7 1215.6 L3155.7 1209.4 L3158.7 1203.9 L3162.5 1197.2 L3159.1 1190.9 L3152.8 1187.3 L3148.6 1181.8 L3147.9 1174.7 L3149.3 1168.1 L3150.3 1161.7 L3154.7 1157.2 L3160.0 1153.6 L3165.5 1150.1 L3171.4 1147.3 L3176.8 1143.5 L3182.2 1139.6 L3187.8 1135.1 L3189.3 1128.5 L3189.7 1121.4 L3193.2 1115.7 L3197.4 1110.5 L3200.7 1105.1 L3203.9 1100.4 L3208.9 1095.7 L3214.5 1089.9 L3214.4 1083.1 L3211.5 1077.0 L3212.5 1070.2 L3215.2 1064.3 L3217.2 1058.4 L3219.2 1052.7 L3222.4 1046.8 L3226.3 1041.4 L3230.0 1036.3 L3233.4 1029.3 L3240.6 1027.3 L3247.3 1032.4 L3253.5 1033.8 L3260.3 1032.9 L3266.6 1034.8 L3273.2 1035.5 L3276.4 1031.7 L3274.7 1026.1 L3274.0 1019.5 L3274.6 1012.8 L3276.4 1006.3 L3277.1 999.6 L3280.1 993.7 L3285.8 990.1 L3291.4 986.6 L3296.3 981.7 L3302.7 979.9 L3309.8 979.4 L3315.0 975.5 L3317.9 969.2 L3324.0 966.5 L3330.8 969.0 L3337.1 970.7 L3343.7 970.9 L3349.8 972.4 L3354.7 974.7 L3356.9 980.7 L3361.2 986.1 L3367.5 988.3 L3372.4 991.6 L3369.1 996.9 L3367.0 1003.2 L3373.2 1006.6 L3378.7 1005.9 L3383.9 1003.7 L3390.6 1001.7 L3394.4 996.1 L3396.8 989.8 L3400.8 983.2 L3408.8 982.1 L3413.3 988.8 L3414.3 995.1 L3417.1 1000.8 L3421.8 1006.2 L3425.6 1011.1 L3428.1 1016.8 L3430.1 1023.3 L3431.6 1030.0 L3433.6 1036.2 L3438.0 1040.4 L3444.1 1042.2 L3450.4 1044.0"/>
<path d="M3417.9 1055.5 L3424.2 1053.4 L3430.6 1051.6 L3436.9 1049.7 L3442.8 1046.5 L3449.1 1044.6 L3455.1 1041.8 L3459.8 1036.3 L3465.9 1033.6 L3473.0 1033.3 L3479.6 1032.8 L3486.1 1031.7 L3492.3 1028.4 L3499.0 1026.9 L3505.8 1028.4 L3512.5 1029.5 L3519.1 1030.5 L3525.7 1032.3 L3532.0 1035.5 L3536.5 1040.9 L3540.2 1046.6 L3545.8 1050.2 L3551.5 1052.2 L3558.5 1052.3 L3561.0 1060.0 L3555.0 1065.1 L3549.1 1068.6 L3542.7 1070.9 L3539.6 1076.8 L3537.8 1083.0 L3537.0 1090.1 L3535.3 1097.4 L3531.0 1102.4 L3524.6 1105.7 L3519.3 1110.0 L3514.6 1115.7 L3507.2 1114.9 L3502.3 1109.2 L3495.7 1107.5 L3489.1 1105.9 L3482.9 1104.0 L3476.7 1102.9 L3470.9 1099.9 L3464.7 1097.3 L3458.1 1096.9 L3451.7 1094.8 L3446.4 1091.1 L3439.4 1089.1 L3434.3 1084.3 L3430.9 1078.7 L3425.9 1074.1 L3423.5 1067.7 L3422.7 1060.2 L3417.9 1055.5"/>
<path d="M3700.0 722.9 L3693.3 724.1 L3687.3 726.8 L3682.1 731.2 L3675.7 732.9 L3669.2 734.5 L3663.2 737.5 L3657.7 741.3 L3650.6 742.6 L3644.3 745.6 L3640.6 752.4 L3636.5 758.3 L3632.5 764.3 L3632.1 770.8 L3632.5 778.1 L3628.9 783.9 L3623.0 787.2 L3616.5 788.7 L3610.4 791.0 L3604.7 794.7 L3598.6 797.1 L3591.2 795.9 L3584.4 797.1 L3579.8 802.9 L3575.7 807.8 L3573.3 813.7 L3571.5 820.0 L3569.2 826.2 L3566.9 833.0 L3568.2 839.6 L3569.7 846.0 L3568.0 852.8 L3568.4 859.4 L3570.7 865.7 L3570.6 872.4 L3570.9 878.9 L3572.6 885.4 L3575.2 891.7 L3577.3 898.0 L3583.0 899.9"/>
<path d="M3588.0 963.7 L3581.9 967.4 L3576.1 971.6 L3571.0 976.5 L3567.8 983.1 L3563.4 988.7 L3558.2 993.5"/>
<path d="M3850.0 757.6 L3843.5 757.3 L3837.2 754.9 L3830.5 756.2 L3824.1 755.6 L3817.9 751.4 L3811.6 749.8 L3804.8 751.0 L3797.9 750.9 L3791.3 753.7 L3790.6 761.1 L3786.4 766.6 L3783.0 772.3 L3782.5 778.9 L3782.8 786.0 L3778.7 791.8 L3771.1 791.3 L3764.3 791.9 L3758.8 795.1 L3752.6 795.9 L3746.5 797.3 L3740.4 800.0 L3733.8 799.9 L3727.5 802.1 L3722.5 807.7 L3715.9 808.5 L3708.5 808.3 L3703.0 811.8 L3697.5 815.5 L3692.8 820.3 L3688.4 825.2 L3683.9 828.9 L3682.0 834.7 L3679.0 840.6 L3673.1 843.5 L3667.6 846.8 L3662.0 850.4 L3655.8 853.7 L3651.1 858.7 L3647.7 866.1 L3653.1 871.9 L3660.1 873.2 L3666.9 872.2 L3673.4 872.7 L3679.7 874.5 L3686.1 875.5 L3690.0 880.0 L3691.0 886.7 L3697.2 891.1 L3704.3 892.6 L3709.6 896.1 L3709.5 902.7"/>
<path d="M2801.3 1771.9 L2799.9 1778.4 L2799.0 1784.9 L2801.8 1791.6 L2804.7 1798.3 L2803.0 1804.8 L2801.3 1811.2 L2801.0 1817.8 L2798.8 1824.2 L2798.7 1830.7 L2799.6 1837.3 L2799.8 1843.9 L2799.4 1850.6 L2796.5 1856.9 L2793.8 1863.1 L2789.6 1868.4 L2784.7 1872.6 L2779.8 1876.8 L2775.3 1881.4 L2770.2 1884.8 L2765.1 1888.9 L2760.6 1893.3 L2758.5 1898.9 L2756.8 1904.8 L2755.3 1910.7 L2753.0 1916.7 L2750.9 1923.2 L2751.8 1929.8 L2752.3 1936.6 L2749.0 1942.5 L2743.9 1947.3 L2740.7 1953.0 L2739.5 1959.7 L2736.7 1965.6 L2733.8 1971.5 L2732.5 1977.9 L2731.6 1984.1 L2730.6 1990.5 L2729.4 1997.0 L2729.5 2003.5 L2729.5 2010.2 L2727.9 2016.6 L2726.6 2023.0 L2725.5 2027.9 L2729.7 2025.7 L2736.2 2028.0 L2742.6 2027.7 L2749.2 2028.8 L2748.6 2035.6 L2746.3 2042.1 L2739.8 2044.7 L2735.1 2049.4 L2737.1 2056.8 L2737.0 2063.5 L2733.9 2069.7 L2732.0 2076.3 L2728.2 2081.8 L2724.0 2086.9 L2722.2 2093.3 L2719.5 2099.2 L2716.5 2105.1 L2714.9 2111.7 L2711.9 2117.6 L2707.7 2122.7 L2703.8 2128.0 L2698.8 2132.6 L2693.6 2136.8 L2688.9 2141.2 L2686.2 2147.3 L2684.8 2154.6 L2681.2 2160.1 L2674.6 2163.2 L2668.8 2166.9 L2665.6 2172.7 L2662.9 2178.9 L2658.1 2183.3 L2652.3 2186.4 L2648.0 2191.3 L2644.0 2196.8 L2639.5 2201.5 L2637.1 2207.5 L2634.4 2213.2 L2630.0 2218.4 L2628.1 2225.0 L2628.9 2231.6 L2629.6 2238.0 L2630.9 2244.5 L2632.0 2251.4 L2630.6 2257.9 L2629.0 2263.9 L2629.2 2269.3 L2631.0 2274.6 L2633.8 2280.9 L2638.3 2285.4 L2641.9 2290.5 L2642.5 2296.9 L2642.3 2303.9 L2645.8 2310.9 L2653.6 2311.4 L2659.9 2312.2 L2666.3 2310.9 L2671.3 2307.7 L2672.7 2311.2 L2672.0 2317.3 L2672.5 2323.9 L2670.5 2330.3 L2668.9 2336.7 L2670.5 2343.4 L2670.2 2350.0"/>
<path d="M2557.3 1548.1 L2563.9 1548.3 L2570.3 1545.9 L2576.9 1547.4 L2583.6 1549.1 L2590.0 1547.8 L2596.5 1545.2 L2603.0 1545.4 L2609.6 1545.8 L2616.0 1544.3 L2622.6 1544.2 L2629.1 1542.9 L2633.9 1538.2 L2638.4 1533.8 L2641.5 1528.5 L2645.0 1523.3 L2650.9 1520.7 L2655.8 1517.0 L2661.1 1513.2 L2667.1 1509.4 L2673.6 1508.2 L2680.4 1509.7 L2687.1 1510.8 L2693.3 1509.6 L2697.1 1512.7 L2693.0 1518.2 L2685.9 1519.6 L2683.8 1526.1 L2686.8 1532.1 L2690.0 1537.3 L2695.9 1539.9 L2700.5 1544.2 L2698.1 1549.3 L2695.0 1555.2 L2696.5 1561.8 L2700.6 1565.7 L2706.4 1564.5 L2713.1 1563.2 L2718.0 1559.6 L2720.8 1560.6 L2721.3 1567.1 L2721.4 1573.7 L2721.6 1580.3 L2720.1 1586.7 L2718.6 1593.1 L2719.4 1599.6 L2721.7 1606.0 L2720.9 1612.6 L2718.2 1619.3 L2718.7 1625.8 L2721.7 1632.4 L2723.9 1639.2 L2721.6 1645.7 L2717.3 1651.8 L2717.6 1658.3 L2720.0 1663.2 L2722.9 1667.4 L2728.0 1671.5 L2734.8 1672.7 L2738.9 1678.0 L2739.0 1684.9 L2738.7 1691.7 L2740.0 1698.2 L2743.7 1704.1 L2747.4 1707.5 L2750.3 1703.0 L2755.8 1699.1 L2762.0 1698.1 L2767.4 1694.5 L2773.6 1692.2 L2780.6 1691.9 L2786.5 1688.0 L2790.6 1683.6 L2792.9 1681.2 L2797.0 1685.6 L2801.1 1691.8 L2802.6 1698.2 L2800.8 1705.1 L2799.5 1711.8 L2799.9 1718.3 L2800.6 1724.9 L2801.2 1731.4 L2801.7 1737.9 L2800.6 1744.6 L2798.1 1750.9 L2796.6 1757.5 L2798.1 1764.2 L2802.0 1769.8"/>
<path d="M2802.0 1769.8 L2808.0 1767.3 L2813.7 1763.4 L2820.5 1763.3 L2826.7 1761.5 L2830.1 1756.3 L2832.1 1751.3 L2837.0 1746.5 L2841.8 1741.7 L2846.9 1737.7 L2852.1 1733.9 L2857.1 1729.6 L2862.9 1726.7 L2869.1 1725.7 L2875.0 1727.9 L2880.9 1731.6 L2888.1 1731.4 L2894.1 1726.0 L2900.8 1723.2 L2907.5 1726.9 L2911.5 1733.1 L2918.5 1734.7 L2922.0 1728.0 L2924.0 1721.8 L2926.7 1715.6 L2930.9 1710.6 L2935.9 1706.4 L2941.3 1702.9 L2946.7 1699.1 L2950.2 1693.7 L2949.0 1687.1 L2947.1 1680.6 L2947.9 1674.5 L2948.8 1668.7 L2948.0 1662.5 L2946.9 1655.8 L2946.7 1649.4 L2946.9 1642.8 L2947.5 1636.1 L2950.7 1630.1 L2955.1 1625.1 L2959.2 1620.1 L2963.2 1614.9 L2965.9 1609.0 L2967.4 1602.5 L2972.0 1597.5 L2978.0 1593.3 L2980.8 1587.4 L2981.0 1580.0 L2984.2 1574.3 L2989.9 1569.8 L2992.4 1563.4 L2992.2 1556.5 L2993.7 1550.2 L2995.3 1543.8 L2995.3 1537.1 L2994.9 1530.5 L2995.1 1524.0 L2997.2 1517.6 L2999.5 1511.3 L2999.7 1504.8 L2999.3 1498.1 L2999.6 1490.7 L3004.1 1484.6 L3011.3 1483.9 L3017.9 1481.1 L3020.1 1474.6 L3020.3 1467.9 L3020.1 1460.8 L3024.4 1455.4 L3030.3 1451.8 L3034.6 1446.9 L3038.5 1441.5 L3044.1 1437.8 L3050.9 1435.6 L3055.8 1431.7 L3059.6 1425.3 L3060.4 1418.0 L3060.4 1411.4 L3062.1 1405.0 L3063.2 1398.3 L3059.8 1392.3 L3056.4 1387.5 L3051.6 1385.4 L3045.7 1387.0 L3040.3 1385.9 L3035.4 1381.2 L3032.5 1375.5 L3029.5 1369.5 L3024.4 1365.4 L3020.4 1360.2 L3019.6 1353.7 L3017.0 1347.7 L3013.7 1341.8 L3012.0 1335.5 L3011.5 1328.9 L3010.7 1322.3 L3009.1 1316.0 L3007.7 1309.7 L3005.3 1303.0 L3004.5 1296.1 L3008.2 1290.1 L3012.1 1284.1 L3013.0 1277.9 L3015.6 1272.4 L3020.3 1268.4 L3023.9 1262.5 L3028.2 1256.6 L3035.1 1254.8 L3042.1 1255.5 L3048.7 1255.0 L3055.0 1253.4 L3061.6 1253.2 L3068.4 1254.4 L3074.7 1252.2 L3081.0 1250.0"/>
<path d="M2300.0 2598.5 L2294.8 2602.4 L2289.6 2606.5 L2285.8 2611.9 L2280.4 2615.7 L2275.7 2620.3 L2271.3 2625.4 L2266.1 2629.4 L2261.6 2634.3 L2256.1 2637.9 L2249.7 2640.2 L2245.0 2644.8 L2239.9 2649.0 L2234.8 2652.9 L2230.6 2657.7 L2224.7 2660.7 L2217.4 2662.9 L2212.0 2665.6 L2207.4 2668.9 L2202.1 2672.4 L2195.8 2674.6 L2189.1 2677.6 L2186.8 2684.1 L2181.3 2687.0 L2174.9 2688.5 L2168.3 2688.4 L2161.5 2687.8 L2155.0 2688.5 L2148.7 2690.4 L2142.2 2691.3 L2135.9 2693.1 L2129.8 2696.8 L2123.4 2700.1 L2116.7 2699.9 L2110.0 2696.8 L2103.3 2695.6 L2097.1 2697.8 L2092.1 2702.1 L2090.0 2708.5 L2087.9 2714.7 L2085.9 2720.8 L2083.9 2726.8 L2081.9 2733.3 L2078.5 2739.0 L2074.3 2744.0 L2069.4 2748.6 L2064.8 2753.3 L2062.0 2759.4 L2060.2 2765.8 L2058.9 2772.2 L2055.5 2777.9 L2052.1 2783.7 L2051.7 2790.5 L2050.2 2796.9 L2046.5 2802.5 L2044.6 2808.8 L2043.8 2815.4 L2040.3 2821.2 L2037.3 2827.2 L2037.8 2834.1 L2038.3 2840.9 L2036.3 2847.1 L2033.3 2853.2 L2031.0 2859.5 L2030.2 2866.0 L2028.5 2872.6 L2028.1 2879.3 L2030.6 2885.8 L2030.4 2892.4 L2028.4 2899.0 L2031.0 2905.4 L2033.2 2911.9 L2031.7 2918.5 L2032.2 2925.0 L2033.6 2931.5 L2032.8 2938.1 L2032.3 2944.6 L2031.7 2951.1 L2031.3 2957.6 L2034.1 2964.3 L2035.1 2970.9 L2031.7 2977.3 L2030.2 2983.7 L2030.8 2990.3 L2031.8 2996.9 L2033.9 3003.6 L2033.2 3010.1 L2030.3 3016.6 L2028.5 3023.4 L2028.4 3030.2 L2030.4 3036.6 L2031.2 3043.1 L2031.5 3049.8 L2034.5 3055.9 L2038.0 3061.9 L2040.9 3067.9 L2043.6 3073.9 L2045.8 3080.1 L2047.5 3086.4 L2048.6 3092.9 L2050.9 3099.1 L2053.6 3105.1 L2054.9 3111.5 L2055.8 3118.1 L2056.3 3124.8 L2058.1 3131.1 L2063.7 3136.1 L2068.0 3141.4 L2068.2 3148.4 L2069.3 3155.0 L2072.0 3160.9 L2073.6 3167.3 L2075.5 3173.6 L2078.2 3179.6 L2081.5 3185.4 L2084.3 3191.4 L2085.0 3198.0 L2086.0 3204.6 L2088.5 3210.6 L2090.7 3216.8 L2092.6 3223.1 L2094.1 3229.5 L2095.6 3235.9 L2097.0 3242.1 L2097.3 3248.5 L2098.2 3254.8 L2100.6 3261.2 L2101.9 3267.8 L2101.6 3274.4 L2100.0 3280.8 L2099.2 3287.3 L2098.3 3293.8 L2097.1 3300.2"/>
<path d="M3867.6 716.5 L3874.1 714.6 L3879.5 718.7 L3883.6 723.9 L3888.0 728.7 L3892.4 733.6 L3894.6 740.1 L3895.6 747.1 L3898.9 752.7 L3903.1 757.8 L3907.1 763.0 L3912.4 767.2 L3916.2 772.4 L3918.2 779.6 L3922.0 785.1 L3928.4 788.3 L3935.4 789.9 L3942.0 790.0 L3948.6 790.4 L3954.8 792.4 L3961.1 794.6 L3967.7 793.3 L3972.4 788.9 L3976.9 784.2 L3982.3 780.5 L3987.6 776.2 L3995.3 774.4 L4001.6 778.3 L4005.8 783.9 L4010.1 789.1 L4014.6 793.7 L4019.7 797.6 L4026.0 800.5 L4030.7 804.9 L4034.0 811.1 L4038.6 816.8 L4044.4 820.8 L4050.8 822.6 L4058.2 821.2 L4065.7 819.5 L4072.0 820.8 L4077.6 824.2 L4083.4 827.6 L4089.3 831.2 L4095.5 833.2 L4102.3 832.8 L4108.7 834.2 L4115.2 836.5 L4121.9 836.9 L4128.3 834.1 L4134.6 831.7 L4141.1 831.6 L4147.7 831.4 L4154.2 830.5 L4160.6 829.1 L4166.8 827.2 L4172.5 824.4 L4175.7 819.3 L4179.1 813.9 L4183.2 809.0 L4188.1 804.7 L4193.6 801.0 L4198.5 796.7 L4202.0 790.9 L4204.9 784.8 L4209.7 782.8 L4216.0 784.2 L4222.2 786.4 L4226.6 792.2 L4232.2 795.9 L4239.5 794.4 L4245.6 794.1 L4252.0 794.6 L4258.5 793.3 L4264.3 790.1 L4270.4 788.0 L4276.2 785.1 L4281.5 781.3 L4286.4 777.0 L4291.5 772.9 L4295.8 768.0 L4300.2 763.2 L4305.4 759.2 L4309.8 754.5 L4314.8 750.5 L4320.5 747.9 L4326.0 745.2 L4331.8 741.1 L4338.4 740.9 L4345.0 740.5"/>
<path d="M3909.5 766.3 L3902.8 765.1 L3895.8 765.4 L3890.3 759.7 L3883.6 758.2 L3876.5 761.0 L3869.8 760.3 L3863.4 756.7 L3856.5 758.4 L3849.9 757.7"/>
<path d="M3718.6 716.5 L3720.0 724.5 L3715.2 731.6 L3706.6 730.5 L3699.7 731.9"/>
</g>
<path d="M2997.2 850.8 L2992.2 845.8 L2987.1 841.0 L2982.0 836.3 L2977.6 830.8 L2973.9 825.3 L2973.5 818.5 L2978.2 813.9 L2985.3 813.4 L2992.1 811.8 L2996.5 808.0 L2996.1 802.4 L2996.6 795.4 L2997.4 788.6 L2999.2 782.0 L3003.3 776.2 L3009.5 772.4 L3014.1 767.2 L3019.0 762.2 L3025.1 758.3 L3028.4 751.8 L3031.4 744.9 L3035.8 739.2 L3041.4 734.8 L3048.4 732.1 L3054.5 728.6 L3060.5 724.9 L3066.7 721.8 L3072.3 717.4 L3078.1 713.4 L3083.6 708.9 L3089.3 705.4 L3095.7 703.0 L3102.8 699.3 L3105.9 692.5 L3106.1 685.2 L3107.6 678.4 L3109.6 671.7 L3111.0 664.8 L3111.2 657.2 L3113.3 649.5 L3119.1 644.7 L3127.3 643.1 L3134.4 640.4 L3138.5 633.6 L3138.0 625.8 L3133.8 619.5 L3128.2 615.3 L3122.1 611.6 L3117.4 606.6 L3113.7 600.6 L3112.7 593.4 L3116.6 587.1 L3121.9 582.2 L3127.1 577.3 L3131.1 571.5 L3132.6 564.6 L3129.5 559.2 L3128.6 552.3 L3127.2 545.3 L3123.6 539.4 L3121.2 532.4 L3120.1 526.4 L3117.5 521.0 L3113.6 515.6 L3109.5 510.0 L3105.6 504.1 L3102.9 499.0 L3106.8 493.5 L3112.3 487.6 L3112.3 479.7 L3109.1 472.8 L3107.6 465.8 L3103.0 460.1 L3095.5 458.8 L3088.9 455.1 L3087.8 447.3 L3086.4 439.9 L3080.3 435.6 L3073.3 433.3 L3067.5 428.9 L3064.1 422.5 L3062.4 415.5 L3059.3 408.2 L3052.7 404.7 L3046.3 402.9 L3040.6 399.3 L3035.2 394.9 L3029.4 391.0 L3025.5 385.3 L3025.1 377.8 L3030.5 373.1 L3037.6 371.0 L3042.3 365.7 L3046.1 359.2 L3051.1 354.1 L3057.1 350.4 L3063.7 347.8 L3069.4 343.7 L3074.6 338.9 L3081.0 335.7 L3087.6 333.2 L3094.2 330.4 L3100.4 326.9 L3105.8 322.2 L3109.7 316.0 L3114.3 310.6 L3120.4 306.8 L3125.7 301.8 L3128.0 294.8 L3128.4 287.7 L3129.6 280.9 L3130.6 273.9 L3131.9 266.7 L3139.1 265.1 L3144.5 269.6 L3151.2 271.9 L3156.0 277.1 L3157.9 284.1 L3162.4 289.5 L3168.5 293.1 L3174.3 297.6 L3181.7 298.7 L3188.4 294.3 L3191.2 287.6 L3188.1 281.1 L3192.2 275.8 L3198.4 272.3 L3204.9 269.6 L3210.9 266.1 L3215.7 260.8 L3221.2 256.4 L3227.8 253.4 L3233.8 249.0 L3239.1 247.5 L3241.2 243.7 L3240.5 236.9 L3241.6 230.0 L3243.5 222.9 L3247.8 216.4 L3254.5 213.3 L3260.7 211.2 L3265.0 206.4 L3268.1 200.3 L3271.3 193.4 L3278.0 189.1 L3285.5 188.4 L3292.4 187.5 L3299.4 188.1 L3306.8 188.8 L3313.8 188.4 L3320.1 186.2 L3326.9 183.6 L3334.1 184.5 L3341.7 183.0 L3346.5 177.3 L3350.6 171.3 L3357.0 168.4 L3363.3 166.6 L3369.7 163.3 L3376.8 163.4 L3383.8 163.7 L3390.6 161.9 L3397.7 161.5 L3404.8 161.4 L3411.6 161.7 L3418.1 162.1 L3425.0 161.6 L3432.0 160.4 L3438.6 158.1 L3444.8 154.6 L3451.8 153.6 L3459.0 154.4 L3465.8 152.5 L3472.6 150.2 L3479.7 150.2 L3486.7 150.3 L3493.6 150.7 L3500.5 152.5 L3507.4 153.7 L3514.6 152.0 L3521.7 149.4 L3528.4 150.0 L3535.5 152.3 L3542.6 152.5 L3549.6 152.3 L3556.5 150.5 L3563.3 148.9 L3570.3 148.5 L3576.9 145.2 L3583.8 144.0 L3591.1 145.1 L3597.8 143.2 L3604.9 143.2 L3612.0 144.5 L3618.9 142.1 L3625.9 141.2 L3632.9 142.3 L3640.0 141.2 L3647.1 140.7 L3653.9 143.6 L3660.7 146.3 L3667.6 147.6 L3674.6 147.9 L3681.7 147.4 L3688.8 147.0 L3696.1 147.2 L3702.3 151.4 L3705.5 158.0 L3710.0 163.5 L3716.4 166.1 L3723.3 166.8 L3729.8 165.8 L3736.4 164.1 L3741.9 160.3 L3743.3 153.4 L3745.8 148.4 L3751.4 147.4 L3757.9 145.2 L3764.6 142.6 L3770.5 139.8 L3776.8 136.9 L3782.8 133.2 L3787.9 128.2 L3794.3 125.3 L3801.3 124.0 L3807.6 120.9 L3814.4 119.6 L3821.1 121.7 L3827.8 123.4 L3834.2 125.6 L3839.3 130.6 L3846.9 131.7 L3848.9 123.5 L3852.6 117.6 L3859.7 116.1 L3866.5 114.1 L3873.4 112.8 L3880.6 114.5 L3887.6 115.1 L3894.5 114.0 L3901.5 114.7 L3908.2 116.6 L3914.3 119.4 L3918.5 125.3 L3921.4 131.0 L3925.4 134.6 L3931.8 135.4 L3937.1 132.5 L3939.4 126.0 L3943.6 121.5 L3949.9 119.8 L3956.3 116.5 L3963.0 114.0 L3970.2 114.6 L3977.3 116.4 L3984.1 117.3 L3990.9 116.1 L3998.2 116.8 L4003.5 121.9 L4009.6 126.4 L4017.0 125.3 L4024.1 124.1 L4031.1 124.6 L4037.9 126.3 L4044.3 128.8 L4049.2 132.7 L4050.7 138.8 L4053.5 145.2 L4056.4 151.7 L4056.1 158.7 L4056.2 165.7 L4058.4 172.6 L4061.1 179.3 L4062.6 185.7 L4062.8 192.7 L4066.7 196.9 L4071.8 193.3 L4075.3 193.3 L4077.6 188.8 L4080.2 183.2 L4086.4 182.6 L4093.4 181.7 L4100.7 180.6 L4107.6 182.4 L4113.7 186.8 L4120.3 189.1 L4126.7 191.4 L4132.6 194.8 L4139.3 197.4 L4144.8 201.8 L4148.2 208.5 L4152.7 213.8 L4158.2 218.1 L4163.5 222.7 L4169.5 226.6 L4174.9 231.1 L4180.6 235.8 L4181.8 243.3 L4178.0 249.8 L4179.4 256.8 L4185.2 261.2 L4189.9 266.4 L4194.1 271.9 L4200.8 275.8 L4206.0 282.7 L4201.8 290.2 L4196.4 294.7 L4192.4 300.8 L4192.2 307.9 L4194.9 314.6 L4195.1 321.7 L4195.3 329.1 L4200.2 334.6 L4202.2 341.5 L4198.8 348.0 L4194.6 353.1 L4189.8 358.1 L4186.3 363.7 L4184.8 369.5 L4182.9 376.2 L4184.8 382.7 L4189.1 387.9 L4191.3 395.1 L4196.7 400.3 L4204.2 399.1 L4211.2 398.1 L4218.1 398.5 L4225.0 401.0 L4230.4 405.9 L4234.7 411.7 L4238.2 418.1 L4240.8 424.7 L4243.2 431.7 L4241.8 439.0 L4237.9 445.7 L4240.9 452.6 L4248.3 453.1 L4254.8 451.0 L4261.7 450.9 L4268.7 450.5 L4275.8 451.1 L4283.0 452.4 L4290.6 452.5 L4297.0 448.8 L4302.8 444.8 L4310.3 443.4 L4316.1 439.5 L4319.2 431.3 L4323.5 425.0 L4330.8 422.6 L4338.2 422.2 L4347.1 423.5 L4348.0 432.0 L4345.8 439.1 L4344.9 445.8 L4344.3 452.9 L4346.5 460.0 L4352.0 464.7 L4358.5 467.5 L4365.1 470.3 L4370.9 474.6 L4374.8 480.7 L4379.1 486.2 L4385.4 489.5 L4390.9 491.6 L4397.1 492.7 L4404.5 493.0 L4410.2 498.1 L4414.2 504.2 L4421.1 506.9 L4428.4 507.3 L4434.6 509.4 L4440.8 513.4 L4446.3 516.7 L4449.3 522.5 L4452.3 528.9 L4457.2 534.2 L4463.1 538.2 L4469.7 541.0 L4475.5 542.1 L4480.6 545.1 L4486.9 549.4 L4493.4 552.3 L4499.6 555.6 L4505.6 559.0 L4511.6 562.9 L4518.5 564.5 L4525.7 563.6 L4532.6 562.8 L4539.2 562.6 L4546.3 562.7 L4553.1 561.6 L4559.7 562.4 L4566.2 565.2 L4573.8 565.3 L4580.8 562.3 L4586.9 558.4 L4593.0 554.5 L4600.2 554.3 L4607.1 555.6 L4614.1 557.1 L4619.9 561.5 L4626.0 564.8 L4632.1 568.1 L4637.5 572.7 L4641.9 578.3 L4647.3 582.7 L4654.8 584.6 L4661.2 587.9 L4665.1 594.2 L4669.4 599.9 L4675.5 603.6 L4681.0 607.9 L4686.8 612.0 L4693.5 615.3 L4698.3 620.4 L4702.1 626.5 L4706.2 632.3 L4711.5 636.9 L4717.2 641.4 L4721.6 648.3 L4718.7 656.6 L4712.0 660.1 L4707.1 662.6 L4709.0 668.4 L4710.5 675.2 L4711.6 682.2 L4714.0 688.8 L4716.5 695.4 L4719.7 701.6 L4723.6 707.6 L4725.9 714.2 L4728.4 720.7 L4731.2 727.0 L4733.4 733.7 L4734.1 740.7 L4732.4 748.2 L4733.6 755.4 L4738.5 761.2 L4742.0 767.3 L4745.9 773.1 L4750.7 778.4 L4756.0 783.5 L4763.6 783.9 L4771.0 781.3 L4778.2 782.5 L4785.3 786.6 L4787.3 793.6 L4790.9 797.0 L4797.2 797.6 L4804.5 799.7 L4811.4 797.9 L4818.1 792.6 L4825.8 794.7 L4830.1 801.3 L4835.4 805.8 L4841.6 809.4 L4847.8 813.0 L4852.3 818.4 L4855.7 825.2 L4860.4 830.5 L4866.9 833.6 L4873.0 837.4 L4877.6 842.6 L4882.1 848.1 L4887.8 852.4 L4894.5 854.5 L4901.3 856.5 L4907.8 859.4 L4913.5 863.5 L4917.7 869.6 L4922.7 874.1 L4927.4 879.1 L4928.8 886.2 L4926.7 893.0 L4922.4 898.9 L4919.3 904.8 L4915.7 910.4 L4910.5 915.1 L4906.2 920.7 L4900.9 925.7 L4894.5 928.7 L4888.0 931.4 L4881.6 934.2 L4875.4 937.4 L4869.4 940.9 L4862.7 943.8 L4857.1 949.1 L4860.6 955.8 L4864.7 959.7 L4870.3 963.1 L4871.2 967.0 L4871.1 973.7 L4867.2 979.7 L4860.3 982.8 L4858.8 989.9 L4861.7 996.8 L4862.0 1003.7 L4863.8 1010.3 L4867.3 1016.3 L4870.1 1022.7 L4874.1 1028.4 L4876.4 1035.0 L4874.0 1040.5 L4871.9 1046.8 L4869.7 1054.1 L4866.8 1060.0 L4865.3 1064.1 L4865.4 1069.6 L4865.3 1077.2 L4869.1 1083.2 L4874.8 1088.0 L4878.9 1093.7 L4881.8 1100.1 L4884.8 1106.3 L4887.7 1112.7 L4890.7 1119.2 L4896.3 1123.7 L4901.5 1128.4 L4904.6 1135.1 L4908.1 1141.7 L4913.7 1146.0 L4920.3 1149.1 L4925.7 1153.6 L4930.5 1158.8 L4935.5 1163.6 L4941.4 1167.6 L4947.5 1172.3 L4948.8 1179.5 L4949.7 1185.8 L4954.1 1190.5 L4959.0 1196.0 L4965.9 1198.0 L4973.4 1198.4 L4979.5 1203.0 L4980.1 1210.8 L4978.5 1217.6 L4974.7 1223.3 L4973.1 1230.4 L4971.8 1236.1 L4969.3 1242.3 L4971.0 1248.5 L4977.7 1250.8 L4984.2 1253.0 L4989.4 1257.2 L4993.6 1262.6 L4997.7 1268.5 L4999.0 1275.5 L5000.6 1282.6 L4999.3 1289.9 L4994.6 1295.9 L4994.4 1302.7 L5001.1 1307.1 L5003.3 1314.7 L4999.5 1322.0 L4997.9 1328.9 L4998.7 1336.0 L4999.4 1343.0 L4997.9 1349.8 L4997.1 1356.8 L4996.2 1362.6 L4995.3 1369.4 L4993.2 1376.2 L4992.0 1383.1 L4991.3 1389.2 L4986.1 1392.7 L4979.3 1394.6 L4972.6 1397.2 L4966.9 1401.6 L4962.9 1407.5 L4960.9 1413.8 L4957.9 1420.4 L4956.0 1426.3 L4953.0 1431.7 L4946.4 1434.0 L4939.6 1434.1 L4932.5 1434.6 L4926.1 1434.8 L4921.0 1432.7 L4914.9 1430.3 L4908.3 1428.2 L4902.9 1423.8 L4899.9 1416.8 L4894.8 1411.2 L4887.8 1409.6 L4883.1 1405.2 L4880.2 1399.1 L4877.4 1392.8 L4876.1 1386.1 L4874.0 1379.2 L4873.4 1372.0 L4876.4 1365.3 L4878.2 1358.0 L4877.5 1350.9 L4874.5 1344.0 L4868.6 1340.9 L4862.3 1343.4 L4855.6 1345.9 L4848.4 1345.4 L4841.1 1343.6 L4834.1 1342.5 L4827.2 1339.8 L4820.5 1338.4 L4813.6 1338.2 L4806.9 1336.3 L4800.6 1334.5 L4794.4 1331.9 L4788.2 1328.5 L4781.7 1325.9 L4775.0 1323.8 L4768.6 1324.7 L4763.4 1329.4 L4757.8 1333.5 L4751.3 1336.3 L4745.4 1339.9 L4739.0 1342.3 L4732.1 1340.3 L4725.3 1342.5 L4721.3 1348.9 L4715.1 1352.1 L4708.3 1353.5 L4701.9 1356.1 L4698.9 1361.6 L4696.4 1368.1 L4689.3 1368.3 L4683.7 1366.5 L4679.8 1361.0 L4677.5 1354.3 L4673.6 1348.4 L4668.7 1343.3 L4663.9 1337.5 L4663.6 1330.0 L4665.0 1324.2 L4663.2 1318.6 L4659.4 1312.7 L4655.7 1307.0 L4651.5 1301.5 L4646.1 1296.4 L4642.0 1290.7 L4639.9 1283.9 L4637.2 1277.3 L4631.8 1272.6 L4626.2 1268.6 L4622.2 1263.3 L4619.8 1256.8 L4614.6 1253.3 L4607.3 1255.2 L4602.9 1261.0 L4597.3 1265.0 L4590.6 1265.8 L4583.7 1268.3 L4578.4 1273.4 L4573.2 1278.1 L4567.8 1282.1 L4562.2 1287.3 L4555.6 1290.8 L4547.9 1288.9 L4540.4 1285.9 L4534.2 1289.6 L4532.2 1297.2 L4524.6 1296.2 L4518.5 1292.3 L4512.3 1289.1 L4505.1 1287.7 L4498.5 1286.0 L4492.8 1283.2 L4486.2 1281.1 L4479.3 1280.9 L4472.6 1279.8 L4465.9 1277.2 L4459.5 1274.2 L4454.1 1269.7 L4448.6 1265.4 L4443.3 1260.7 L4437.7 1256.5 L4431.0 1253.8 L4425.8 1248.7 L4423.3 1241.7 L4418.6 1236.4 L4410.8 1235.7 L4403.1 1234.0 L4399.7 1226.1 L4399.7 1218.1 L4396.7 1211.7 L4391.5 1206.9 L4385.8 1206.7 L4379.1 1207.1 L4372.1 1207.9 L4365.1 1209.9 L4357.7 1209.2 L4352.1 1204.5 L4346.7 1200.8 L4340.5 1201.3 L4333.8 1202.5 L4327.0 1204.4 L4320.1 1205.6 L4313.2 1203.4 L4306.0 1203.8 L4300.9 1208.9 L4294.7 1212.3 L4289.0 1216.5 L4284.2 1221.7 L4278.4 1226.3 L4275.2 1233.1 L4274.2 1239.9 L4271.6 1246.2 L4265.4 1249.6 L4257.6 1249.4 L4250.5 1250.4 L4244.5 1254.2 L4238.7 1258.6 L4233.4 1263.9 L4228.0 1268.3 L4221.1 1270.2 L4214.9 1273.7 L4210.9 1280.0 L4206.2 1285.4 L4199.8 1289.6 L4191.9 1288.6 L4186.7 1283.5 L4180.1 1281.0 L4174.3 1277.3 L4167.5 1274.1 L4162.5 1279.9 L4160.8 1285.3 L4164.5 1288.3 L4168.4 1293.5 L4171.4 1300.4 L4174.5 1306.8 L4177.0 1313.5 L4180.4 1319.4 L4184.7 1325.2 L4186.1 1332.1 L4185.3 1339.1 L4183.3 1345.4 L4182.3 1352.4 L4181.5 1359.4 L4179.3 1366.0 L4179.1 1373.6 L4176.8 1381.2 L4170.3 1385.3 L4162.7 1387.3 L4156.3 1389.6 L4151.5 1395.4 L4145.6 1399.2 L4138.0 1400.5 L4133.0 1405.6 L4129.3 1412.3 L4123.6 1417.1 L4116.4 1418.2 L4109.0 1418.0 L4102.5 1421.0 L4097.8 1425.7 L4093.9 1430.8 L4091.3 1437.4 L4090.7 1443.5 L4087.4 1439.5 L4082.4 1434.6 L4075.1 1434.5 L4068.1 1434.4 L4061.0 1432.5 L4053.6 1433.2 L4047.8 1438.1 L4043.0 1443.0 L4040.1 1447.3 L4038.6 1453.4 L4040.7 1459.4 L4046.8 1462.8 L4049.4 1468.6 L4044.1 1474.1 L4037.7 1477.4 L4032.7 1482.5 L4030.4 1489.2 L4027.2 1495.4 L4022.9 1500.3 L4017.9 1505.0 L4012.2 1509.0 L4005.6 1511.7 L4000.3 1516.5 L3995.1 1521.9 L3988.4 1524.6 L3981.4 1526.0 L3974.9 1528.2 L3968.1 1530.0 L3961.1 1531.2 L3954.5 1532.3 L3948.3 1530.5 L3941.6 1528.7 L3934.6 1528.2 L3928.0 1529.7 L3921.3 1530.9 L3915.4 1534.6 L3911.3 1540.3 L3906.5 1545.2 L3899.8 1547.3 L3893.4 1550.0 L3887.6 1554.2 L3881.6 1557.6 L3874.7 1559.5 L3868.2 1562.3 L3862.8 1566.8 L3857.9 1571.9 L3852.9 1576.4 L3848.6 1581.5 L3845.2 1587.6 L3842.7 1594.1 L3839.4 1600.3 L3835.1 1605.8 L3832.0 1611.8 L3835.7 1617.6 L3840.3 1623.0 L3842.4 1629.8 L3844.1 1636.6 L3847.5 1642.8 L3851.5 1648.6 L3854.2 1655.4 L3852.6 1662.4 L3852.5 1668.5 L3857.3 1673.1 L3861.3 1678.8 L3863.3 1685.9 L3859.8 1691.2 L3855.7 1696.8 L3853.1 1703.6 L3849.6 1709.6 L3844.8 1714.4 L3840.5 1719.9 L3838.0 1726.4 L3836.5 1733.3 L3835.7 1740.1 L3833.9 1746.9 L3832.8 1753.9 L3833.8 1760.8 L3834.1 1767.8 L3835.2 1775.2 L3840.0 1781.6 L3847.1 1779.4 L3852.6 1775.1 L3858.6 1771.4 L3865.7 1772.8 L3871.5 1776.3 L3876.2 1778.3 L3881.9 1782.8 L3877.8 1788.3 L3872.5 1792.0 L3867.8 1796.6 L3861.0 1798.0 L3853.8 1798.9 L3847.8 1803.0 L3843.0 1808.3 L3837.7 1813.1 L3832.1 1817.5 L3825.2 1819.2 L3818.4 1821.7 L3812.2 1825.8 L3806.8 1830.6 L3804.2 1837.4 L3801.5 1844.2 L3797.1 1849.7 L3792.6 1855.1 L3789.7 1861.5 L3788.3 1869.2 L3783.8 1876.0 L3777.1 1878.4 L3770.9 1880.3 L3771.7 1886.9 L3773.7 1894.0 L3770.5 1900.7 L3766.2 1906.6 L3761.3 1911.9 L3755.3 1915.8 L3748.7 1918.8 L3747.8 1926.0 L3752.4 1931.8 L3757.8 1937.3 L3755.8 1944.4 L3750.3 1949.3 L3746.7 1955.0 L3742.0 1959.5 L3735.4 1961.6 L3729.3 1965.0 L3724.2 1970.6 L3718.6 1975.3 L3712.3 1977.4 L3706.3 1979.7 L3707.3 1985.9 L3708.9 1993.2 L3704.0 1999.0 L3697.9 2003.0 L3695.3 2009.0 L3698.3 2014.9 L3702.2 2020.8 L3708.2 2025.2 L3710.6 2032.0 L3709.7 2039.7 L3713.4 2045.8 L3717.0 2052.4 L3715.8 2059.6 L3713.0 2066.2 L3707.7 2070.6 L3701.8 2073.9 L3696.5 2078.6 L3692.0 2084.4 L3687.0 2089.3 L3680.0 2091.7 L3673.0 2093.7 L3667.7 2097.5 L3661.8 2101.0 L3655.2 2103.0 L3648.6 2105.5 L3642.1 2108.5 L3635.6 2111.1 L3628.7 2112.3 L3621.7 2113.3 L3614.8 2114.7 L3607.5 2114.9 L3600.1 2115.5 L3593.9 2119.1 L3588.7 2124.8 L3583.0 2129.3 L3576.9 2132.4 L3571.6 2135.7 L3566.5 2140.1 L3564.3 2146.8 L3563.3 2153.7 L3562.5 2160.7 L3561.7 2167.6 L3561.1 2174.6 L3558.8 2181.3 L3554.4 2187.4 L3553.2 2194.3 L3554.5 2201.9 L3553.8 2209.0 L3550.9 2215.5 L3546.9 2221.6 L3542.8 2227.6 L3540.0 2234.0 L3537.9 2240.6 L3535.1 2246.7 L3532.3 2252.9 L3529.3 2259.1 L3526.5 2265.6 L3524.6 2272.7 L3522.2 2279.5 L3516.3 2284.0 L3510.6 2288.7 L3508.7 2295.8 L3505.6 2302.1 L3500.6 2307.2 L3497.5 2313.5 L3493.9 2319.6 L3488.7 2324.5 L3484.7 2330.1 L3481.5 2336.4 L3478.0 2342.5 L3473.1 2347.5 L3467.7 2352.0 L3462.2 2356.4 L3456.7 2361.2 L3452.9 2367.4 L3450.1 2374.0 L3447.6 2380.7 L3444.8 2387.2 L3440.1 2392.5 L3435.8 2398.0 L3432.6 2404.4 L3427.1 2409.1 L3420.3 2411.7 L3413.3 2413.1 L3406.2 2413.1 L3399.3 2414.2 L3392.7 2416.8 L3385.6 2417.3 L3378.3 2417.1 L3371.2 2418.4 L3364.8 2421.7 L3359.1 2426.3 L3353.3 2430.5 L3346.9 2433.1 L3339.1 2434.6 L3333.5 2438.3 L3329.1 2440.6 L3323.0 2442.7 L3316.6 2446.8 L3312.1 2453.1 L3307.7 2458.2 L3301.6 2462.1 L3295.1 2466.0 L3290.9 2471.7 L3289.1 2479.0 L3285.5 2485.0 L3282.1 2491.1 L3281.4 2498.2 L3281.1 2505.2 L3278.9 2511.9 L3276.5 2518.6 L3274.3 2525.2 L3270.8 2531.3 L3267.7 2537.6 L3264.5 2544.0 L3262.4 2550.8 L3263.1 2558.3 L3262.1 2565.4 L3258.1 2571.5 L3254.3 2577.6 L3249.4 2582.7 L3243.5 2586.7 L3238.7 2591.7 L3234.3 2597.4 L3228.2 2601.2 L3221.2 2603.7 L3216.2 2608.6 L3212.5 2614.9 L3206.4 2618.8 L3201.7 2624.0 L3199.9 2631.5 L3196.8 2637.4 L3192.8 2642.9 L3190.2 2649.4 L3188.1 2656.2 L3186.9 2663.1 L3187.4 2670.2 L3186.8 2677.1 L3183.3 2682.2 L3177.6 2684.5 L3170.9 2684.9 L3164.4 2687.4 L3158.4 2691.8 L3151.6 2693.7 L3144.3 2693.4 L3137.8 2695.9 L3131.7 2700.2 L3125.1 2702.8 L3118.2 2704.1 L3111.3 2705.7 L3104.4 2707.6 L3097.2 2708.0 L3090.2 2706.8 L3083.2 2706.3 L3076.2 2707.5 L3069.2 2706.9 L3062.3 2705.9 L3055.4 2707.3 L3048.7 2708.2 L3042.0 2709.3 L3035.0 2709.7 L3027.9 2709.8 L3020.9 2710.8 L3013.8 2711.2 L3007.1 2713.5 L3001.3 2718.0 L2994.9 2720.7 L2988.5 2723.6 L2982.3 2726.9 L2975.5 2728.8 L2968.5 2730.1 L2961.3 2731.2 L2955.0 2734.1 L2949.3 2738.9 L2942.6 2741.1 L2935.5 2739.6 L2928.7 2739.1 L2921.4 2739.2 L2915.2 2735.6 L2910.9 2730.2 L2907.5 2724.5 L2902.3 2719.4 L2897.9 2713.7 L2897.2 2706.4 L2896.2 2699.4 L2891.7 2693.4 L2888.6 2686.8 L2888.3 2680.4 L2883.9 2675.7 L2878.5 2671.5 L2873.6 2667.0 L2868.1 2664.3 L2862.5 2661.6 L2856.7 2659.4 L2850.1 2658.9 L2843.1 2659.4 L2836.4 2661.5 L2830.1 2663.9 L2823.3 2664.9 L2815.9 2666.4 L2809.9 2670.2 L2804.9 2675.2 L2799.2 2679.4 L2793.0 2682.9 L2786.9 2686.7 L2782.1 2691.9 L2778.7 2698.6 L2773.7 2703.6 L2767.3 2707.6 L2761.8 2713.0 L2761.6 2721.1 L2763.9 2729.0 L2764.1 2736.3 L2762.3 2743.2 L2757.4 2749.1 L2753.4 2755.2 L2751.7 2762.0 L2748.6 2768.4 L2745.6 2774.7 L2743.5 2781.3 L2740.4 2787.4 L2736.7 2793.3 L2733.6 2799.5 L2729.6 2805.0 L2725.3 2810.5 L2720.3 2815.4 L2713.8 2818.6 L2708.3 2823.2 L2704.3 2829.0 L2699.2 2833.9 L2695.3 2839.7 L2691.9 2846.2 L2686.7 2851.0 L2681.3 2855.5 L2676.0 2860.1 L2670.3 2864.2 L2665.6 2869.3 L2660.4 2874.0 L2654.5 2878.0 L2649.1 2882.5 L2643.2 2886.5 L2637.7 2890.9 L2634.2 2897.3 L2630.6 2903.5 L2626.8 2909.1 L2622.1 2914.5 L2617.7 2920.5 L2616.2 2927.3 L2616.3 2934.7 L2613.9 2941.4 L2610.6 2947.7 L2609.2 2954.6 L2608.5 2961.7 L2607.3 2968.6 L2604.4 2975.3 L2602.9 2982.4 L2604.9 2989.5 L2606.7 2996.5 L2606.8 3003.4 L2606.9 3010.4 L2608.1 3017.4 L2611.6 3023.3 L2617.1 3027.6 L2622.0 3032.7 L2628.2 3036.1 L2636.1 3036.1 L2643.1 3037.4 L2649.1 3041.0 L2655.4 3044.2 L2661.5 3047.9 L2666.7 3053.3 L2672.0 3057.9 L2678.4 3061.0 L2684.4 3064.2 L2690.4 3067.9 L2696.6 3071.3 L2703.3 3073.1 L2710.3 3073.3 L2717.2 3072.2 L2724.2 3071.4 L2731.1 3069.8 L2738.3 3067.0 L2745.8 3067.8 L2752.3 3071.7 L2759.0 3074.1 L2765.2 3077.6 L2768.6 3083.7 L2772.1 3089.6 L2771.6 3096.5 L2771.4 3103.2 L2772.6 3110.3 L2771.1 3117.3 L2769.4 3124.5 L2772.5 3131.3 L2775.3 3138.5 L2772.1 3145.1 L2771.0 3152.1 L2772.6 3158.7 L2774.2 3165.5 L2773.6 3172.7 L2771.0 3179.3 L2768.4 3185.9 L2765.9 3192.4 L2762.7 3198.6 L2760.0 3205.2 L2756.5 3211.2 L2752.7 3217.1 L2749.0 3223.1 L2747.0 3230.3 L2749.5 3237.2 L2752.3 3243.9 L2753.6 3250.6 L2755.9 3257.1 L2757.7 3263.8 L2760.3 3270.4 L2763.9 3276.4 L2768.0 3282.1 L2771.9 3287.9 L2774.9 3294.4 L2779.6 3299.7 L2785.7 3303.6 L2790.5 3308.7 L2793.6 3315.1 L2796.9 3322.0 L2803.7 3325.7 L2811.2 3325.9 L2818.2 3326.9 L2824.9 3326.9 L2831.5 3327.3 L2838.6 3329.2 L2845.7 3330.6 L2852.7 3329.9 L2859.3 3326.6 L2865.9 3323.9 L2873.1 3323.8 L2880.0 3324.1 L2885.2 3327.8 L2888.7 3333.2 L2889.1 3339.9 L2888.9 3346.8 L2889.8 3353.8 L2890.7 3360.7 L2890.8 3367.7 L2891.5 3374.7 L2890.2 3381.7 L2888.1 3388.6 L2889.9 3395.7 L2891.1 3402.7 L2890.6 3410.3 L2893.7 3417.2 L2899.1 3422.0 L2904.5 3426.4 L2908.7 3431.8 L2912.0 3438.1 L2913.8 3444.8 L2916.1 3451.7 L2921.7 3456.3 L2927.7 3460.2 L2931.5 3466.3 L2934.3 3472.9 L2938.4 3477.8 L2942.9 3483.2 L2943.8 3490.1 L2943.4 3497.2 L2945.2 3504.1 L2947.8 3510.7 L2948.3 3517.8 L2949.9 3524.6 L2952.8 3530.9 L2954.5 3537.7 L2955.6 3545.0 L2958.2 3551.6 L2962.8 3557.0 L2967.5 3562.4 L2971.4 3568.3 L2973.5 3575.1 L2976.8 3581.2 L2982.1 3586.4 L2984.6 3593.0 L2987.1 3599.6 L2992.3 3604.4 L2995.7 3611.3 L2989.7 3616.3 L2984.5 3621.3 L2978.4 3624.3 L2972.1 3627.6 L2970.5 3634.5 L2969.9 3641.5 L2969.0 3648.6 L2969.5 3655.6 L2969.6 3662.1 L2968.8 3669.1 L2970.8 3676.6 L2977.9 3679.9 L2984.8 3680.9 L2991.0 3681.5 L2998.4 3683.6 L3000.3 3689.5 L2994.3 3693.7 L2989.4 3699.3 L2982.9 3702.7 L2976.3 3705.5 L2969.4 3706.6 L2961.7 3706.3 L2954.8 3708.2 L2948.0 3710.6 L2942.1 3716.3 L2945.6 3723.7 L2947.0 3731.4 L2939.1 3732.0 L2932.5 3734.2 L2926.6 3738.1 L2919.6 3739.3 L2912.7 3740.0 L2905.7 3741.3 L2898.7 3741.1 L2891.7 3740.1 L2884.9 3738.6 L2878.1 3737.2 L2871.3 3736.1 L2870.9 3729.6 L2873.6 3722.8 L2873.1 3715.5 L2870.6 3709.1 L2868.8 3702.6 L2868.9 3695.7 L2869.2 3689.8 L2863.4 3687.4 L2856.9 3690.2 L2850.4 3692.9 L2843.6 3694.5 L2836.5 3695.5 L2830.0 3698.1 L2824.3 3702.7 L2818.0 3706.0 L2811.0 3707.3 L2803.7 3707.5 L2797.4 3710.9 L2791.4 3715.2 L2784.1 3715.3 L2776.3 3713.6 L2769.2 3714.0 L2762.6 3717.5 L2757.6 3723.4 L2753.3 3728.9 L2748.5 3734.2 L2747.3 3741.5 L2746.2 3748.9 L2741.4 3755.0 L2734.0 3756.8 L2726.6 3755.5 L2719.7 3755.2 L2712.8 3755.8 L2705.8 3755.5 L2698.8 3754.4 L2691.8 3754.4 L2684.8 3756.5 L2677.7 3758.6 L2670.7 3757.3 L2664.5 3754.0 L2658.9 3749.9 L2653.0 3745.8 L2649.1 3740.0 L2645.3 3733.8 L2641.0 3728.0 L2635.0 3723.7 L2627.6 3724.7 L2621.1 3726.9 L2614.1 3728.0 L2606.8 3728.6 L2599.8 3726.5 L2592.9 3724.5 L2585.9 3726.0 L2579.2 3728.9 L2572.1 3728.2 L2565.0 3726.7 L2558.1 3728.2 L2551.1 3729.1 L2544.2 3730.4 L2537.8 3734.0 L2530.6 3734.9 L2523.7 3733.2 L2516.8 3731.7 L2510.2 3729.5 L2503.5 3728.6 L2497.4 3731.2 L2491.4 3734.8 L2484.5 3737.9 L2478.3 3733.4 L2475.3 3726.9 L2471.0 3723.7 L2466.0 3725.5 L2460.9 3727.3 L2457.7 3733.0 L2455.0 3741.5 L2447.3 3736.8 L2446.9 3728.7 L2445.5 3721.3 L2439.7 3716.0 L2432.2 3718.5 L2430.1 3724.0 L2428.8 3730.4 L2426.6 3737.2 L2424.4 3744.1 L2424.8 3751.1 L2426.2 3758.2 L2427.9 3765.4 L2428.1 3772.4 L2425.5 3779.2 L2422.9 3786.1 L2422.0 3793.1 L2423.6 3800.2 L2424.2 3807.8 L2418.1 3812.0 L2411.3 3812.6 L2404.3 3810.5 L2397.2 3809.4 L2390.3 3810.9 L2383.4 3813.3 L2376.4 3813.9 L2369.3 3812.0 L2362.3 3812.3 L2355.4 3814.5 L2348.4 3816.4 L2341.5 3817.6 L2334.7 3818.3 L2328.3 3818.9 L2324.4 3823.5 L2319.9 3828.5 L2313.9 3831.7 L2308.6 3836.5 L2304.1 3842.0 L2298.5 3845.7 L2291.0 3847.9 L2289.6 3855.6 L2291.9 3862.7 L2295.2 3869.2 L2296.5 3875.9 L2295.8 3883.3 L2291.6 3889.1 L2285.2 3893.3 L2283.1 3899.7 L2284.2 3908.8 L2279.6 3915.7 L2274.8 3911.2 L2275.9 3903.1 L2270.3 3897.3 L2262.8 3895.2 L2255.6 3897.8 L2246.7 3896.8 L2242.7 3888.7 L2242.4 3882.3 L2242.0 3874.7 L2238.1 3868.8 L2231.9 3865.5 L2226.5 3860.9 L2221.3 3855.9 L2214.8 3853.5 L2208.8 3849.9 L2202.4 3846.9 L2196.2 3850.6 L2190.2 3853.2 L2183.2 3852.3 L2176.3 3850.1 L2171.7 3844.6 L2169.6 3837.7 L2163.0 3835.7 L2156.7 3838.3 L2151.5 3837.5 L2146.0 3834.0 L2139.8 3831.5 L2133.3 3829.5 L2126.4 3827.6 L2120.8 3823.6 L2116.2 3818.5 L2109.7 3815.4 L2105.3 3809.6 L2104.0 3803.0 L2101.2 3796.8 L2097.4 3790.8 L2092.9 3785.5 L2086.8 3781.4 L2081.3 3776.4 L2080.6 3768.8 L2080.3 3761.6 L2077.3 3755.2 L2075.2 3748.5 L2075.0 3741.4 L2074.1 3734.5 L2070.2 3728.2 L2066.3 3721.8 L2065.4 3714.8 L2064.1 3707.9 L2062.8 3701.0 L2063.0 3693.9 L2061.9 3687.0 L2060.2 3680.2 L2058.1 3673.5 L2056.1 3666.8 L2053.9 3660.0 L2049.1 3654.5 L2045.1 3648.7 L2043.5 3641.7 L2041.1 3635.0 L2036.6 3629.5 L2032.8 3623.5 L2031.9 3616.3 L2032.1 3609.0 L2030.6 3602.2 L2026.7 3595.9 L2022.8 3589.9 L2018.2 3585.4 L2012.0 3583.1 L2006.7 3578.2 L2000.1 3575.8 L1992.7 3576.8 L1985.5 3574.7 L1980.5 3569.3 L1975.7 3563.8 L1969.0 3561.7 L1962.1 3560.7 L1956.0 3563.5 L1950.0 3567.5 L1942.5 3568.7 L1935.8 3568.3 L1929.5 3566.4 L1922.8 3568.3 L1914.8 3570.2 L1911.2 3562.2 L1914.7 3555.2 L1917.3 3548.8 L1919.0 3542.3 L1920.0 3535.7 L1923.4 3529.1 L1925.5 3522.3 L1924.2 3515.2 L1925.5 3508.3 L1927.6 3501.3 L1926.4 3494.3 L1925.0 3486.9 L1928.1 3480.6 L1931.6 3475.0 L1929.9 3468.5 L1926.1 3462.5 L1921.2 3457.6 L1917.1 3451.9 L1912.5 3446.6 L1907.1 3442.1 L1900.7 3438.8 L1894.5 3435.5 L1888.8 3430.4 L1886.0 3423.0 L1889.1 3415.9 L1892.0 3409.1 L1891.8 3401.9 L1889.2 3395.1 L1885.5 3389.3 L1880.8 3384.8 L1875.9 3379.5 L1870.7 3375.3 L1865.3 3371.1 L1860.7 3365.8 L1857.0 3360.2 L1852.2 3355.2 L1845.3 3353.7 L1838.9 3355.8 L1832.5 3356.5 L1825.8 3358.7 L1819.0 3361.5 L1811.6 3360.4 L1804.4 3359.9 L1798.1 3363.0 L1792.3 3366.7 L1785.1 3369.1 L1781.0 3375.3 L1778.2 3381.9 L1773.4 3387.2 L1769.7 3392.8 L1765.3 3397.8 L1761.7 3403.9 L1756.3 3408.5 L1749.1 3409.2 L1742.4 3411.2 L1735.7 3412.6 L1728.8 3412.7 L1721.8 3413.9 L1714.8 3413.2 L1707.6 3413.5 L1701.0 3416.1 L1694.8 3419.6 L1688.9 3424.1 L1682.6 3427.3 L1675.6 3428.2 L1667.5 3426.1 L1661.4 3424.0 L1655.6 3425.6 L1648.1 3426.1 L1645.4 3419.9 L1645.4 3412.7 L1641.9 3405.9 L1635.4 3407.2 L1633.0 3413.4 L1630.8 3418.8 L1625.0 3421.2 L1617.7 3423.8 L1610.8 3423.2 L1604.0 3421.3 L1597.1 3421.8 L1590.0 3420.8 L1582.9 3419.9 L1575.9 3421.0 L1570.1 3424.8 L1566.1 3430.5 L1560.3 3433.6 L1553.7 3436.1 L1546.6 3435.8 L1539.8 3432.9 L1533.1 3433.5 L1526.1 3435.2 L1519.0 3436.1 L1511.9 3436.6 L1505.0 3435.8 L1498.0 3434.7 L1491.0 3434.4 L1484.0 3437.4 L1477.1 3439.7 L1470.0 3437.4 L1463.0 3433.1 L1455.8 3430.8 L1448.8 3433.5 L1442.4 3437.9 L1436.6 3441.5 L1430.5 3444.8 L1425.2 3448.5 L1422.6 3454.4 L1420.9 3458.9 L1423.2 3464.0 L1428.1 3468.8 L1429.3 3474.2 L1423.9 3477.9 L1417.6 3477.9 L1411.0 3480.3 L1404.2 3482.0 L1399.0 3478.2 L1395.1 3472.0 L1395.7 3464.8 L1396.1 3458.1 L1392.7 3453.3 L1387.9 3449.1 L1381.9 3453.4 L1377.3 3458.0 L1370.6 3458.5 L1363.7 3459.4 L1356.5 3460.2 L1350.1 3457.2 L1343.2 3455.3 L1336.1 3453.5 L1330.2 3449.4 L1325.1 3444.4 L1319.5 3440.2 L1313.3 3436.8 L1307.3 3432.8 L1300.3 3431.3 L1293.3 3433.2 L1286.6 3434.5 L1279.5 3435.8 L1272.1 3438.4 L1264.6 3438.2 L1258.2 3434.0 L1251.8 3430.0 L1245.0 3428.3 L1238.0 3427.8 L1230.7 3428.3 L1223.6 3428.7 L1216.8 3427.3 L1210.2 3425.2 L1203.4 3422.6 L1196.4 3421.5 L1189.4 3421.6 L1182.4 3421.8 L1175.5 3423.4 L1168.6 3425.2 L1162.4 3428.7 L1158.7 3435.0 L1154.5 3440.0 L1149.5 3445.1 L1145.6 3451.5 L1144.8 3458.2 L1143.6 3464.9 L1139.8 3469.6 L1133.0 3469.8 L1126.1 3469.1 L1119.1 3468.4 L1112.4 3465.8 L1105.7 3462.5 L1098.8 3461.6 L1091.6 3462.2 L1084.4 3464.0 L1077.2 3464.2 L1070.7 3460.9 L1066.3 3456.0 L1063.0 3449.7 L1056.8 3446.0 L1049.5 3445.9 L1044.1 3451.0 L1040.4 3456.7 L1036.2 3462.5 L1030.4 3466.4 L1023.8 3468.7 L1017.4 3470.5 L1010.7 3470.0 L1004.1 3467.5 L997.1 3466.7 L989.4 3468.8 L982.8 3467.2 L976.6 3462.6 L970.0 3459.4 L963.2 3457.5 L956.1 3458.2 L949.0 3459.4 L942.0 3458.5 L935.0 3458.2 L928.0 3458.0 L921.0 3456.9 L914.0 3456.6 L907.1 3457.9 L900.7 3459.6 L894.6 3459.4 L888.5 3461.0 L891.2 3467.6 L884.9 3472.2 L877.7 3473.2 L871.0 3473.6 L864.4 3475.0 L858.0 3478.1 L852.5 3482.9 L853.6 3489.9 L856.9 3495.7 L862.7 3499.0 L868.0 3501.5 L866.5 3504.8 L860.2 3507.5 L853.1 3508.8 L846.1 3507.0 L839.7 3504.5 L833.7 3502.5 L833.1 3495.7 L840.7 3495.5 L845.5 3492.0 L847.1 3485.4 L843.5 3479.9 L839.3 3474.3 L833.3 3470.3 L826.1 3470.0 L819.1 3469.7 L812.3 3469.8 L805.6 3471.4 L799.0 3473.4 L794.6 3478.2 L791.0 3483.3 L787.0 3488.2 L791.2 3493.6 L792.9 3501.3 L785.0 3504.8 L777.6 3505.1 L770.6 3505.0 L763.6 3505.0 L756.7 3506.2 L749.8 3507.1 L742.5 3505.3 L735.2 3508.2 L735.8 3516.2 L736.4 3523.2 L730.4 3527.0 L723.1 3527.7 L716.1 3527.5 L709.1 3527.5 L702.7 3525.7 L699.3 3520.2 L699.7 3514.0 L703.0 3507.5 L709.2 3503.9 L716.3 3502.7 L721.9 3498.5 L719.1 3491.6 L715.5 3485.8 L711.6 3481.2 L706.0 3478.1 L700.1 3476.7 L693.2 3476.1 L686.3 3476.9 L679.4 3479.7 L677.9 3472.9 L679.3 3465.9 L680.8 3459.0 L682.6 3452.2 L681.4 3445.1 L680.1 3437.8 L681.9 3431.0 L682.5 3424.0 L682.4 3417.0 L683.3 3410.1 L684.3 3403.1 L685.6 3396.2 L686.8 3389.3 L686.3 3382.2 L684.5 3375.0 L683.8 3367.9 L685.7 3361.1 L688.8 3354.4 L691.9 3347.7 L692.4 3340.9 L691.3 3333.4 L693.6 3326.6 L698.6 3321.3 L704.3 3317.1 L711.5 3317.7 L718.2 3318.2 L721.9 3314.0 L723.5 3307.5 L725.9 3300.7 L726.0 3294.1 L727.3 3289.9 L730.9 3283.9 L734.7 3279.5 L733.6 3275.3 L730.2 3269.6 L726.9 3263.3 L722.5 3257.6 L722.4 3250.3 L724.2 3243.6 L725.8 3237.2 L727.6 3230.2 L727.8 3223.3 L726.9 3216.4 L726.2 3209.2 L725.2 3201.9 L726.4 3194.8 L729.5 3188.3 L732.7 3181.7 L737.3 3176.4 L743.1 3173.1 L749.3 3169.4 L755.9 3167.3 L762.9 3166.1 L770.2 3163.9 L773.7 3157.5 L777.0 3151.9 L783.4 3154.6 L789.4 3158.3 L795.0 3162.5 L800.8 3166.0 L807.3 3168.6 L814.5 3170.7 L820.3 3166.3 L823.0 3159.6 L825.7 3153.2 L831.6 3149.0 L837.7 3143.2 L834.3 3135.2 L831.4 3128.5 L833.8 3122.1 L837.6 3117.0 L838.4 3109.7 L836.3 3102.4 L840.0 3094.3 L848.4 3092.1 L855.5 3091.5 L862.7 3091.3 L870.0 3090.0 L875.7 3086.0 L881.5 3082.2 L888.4 3081.8 L895.6 3082.6 L902.6 3081.6 L909.1 3078.1 L915.6 3075.3 L923.0 3075.3 L929.9 3073.8 L936.3 3070.7 L943.5 3069.7 L949.9 3067.0 L954.8 3060.5 L961.0 3056.0 L968.2 3055.4 L975.4 3056.1 L982.4 3055.1 L989.5 3055.7 L995.6 3061.3 L1002.4 3063.3 L1010.2 3059.2 L1017.6 3057.8 L1024.0 3060.9 L1031.1 3063.1 L1038.3 3061.6 L1044.3 3058.2 L1050.4 3053.7 L1057.1 3051.6 L1063.7 3052.4 L1066.7 3046.2 L1065.2 3039.1 L1064.7 3032.1 L1064.4 3025.1 L1063.2 3018.1 L1063.2 3011.0 L1064.1 3003.7 L1067.9 2997.5 L1074.6 2994.3 L1077.7 2988.2 L1078.1 2981.3 L1079.0 2974.3 L1080.2 2967.4 L1081.0 2960.5 L1080.5 2953.5 L1078.0 2946.7 L1076.3 2939.4 L1078.8 2931.9 L1083.2 2925.4 L1088.7 2920.5 L1092.1 2920.2 L1090.3 2915.9 L1089.1 2909.0 L1086.9 2902.4 L1084.7 2895.4 L1080.8 2888.4 L1073.3 2886.4 L1066.4 2884.3 L1059.5 2882.3 L1052.4 2883.6 L1045.6 2884.3 L1038.3 2884.3 L1032.1 2887.8 L1026.7 2893.5 L1019.9 2895.1 L1012.7 2896.3 L1005.6 2897.0 L998.6 2895.8 L991.6 2896.0 L984.7 2895.4 L977.6 2894.9 L970.8 2893.0 L965.3 2888.5 L959.6 2884.0 L960.6 2876.7 L963.0 2870.8 L962.8 2864.9 L962.7 2857.8 L962.2 2851.1 L961.7 2843.7 L965.0 2837.4 L969.7 2831.3 L969.1 2824.0 L968.9 2816.8 L971.0 2810.1 L970.8 2803.2 L971.0 2796.3 L972.9 2789.2 L972.7 2782.2 L971.8 2775.2 L971.7 2768.2 L970.1 2761.3 L968.6 2754.3 L968.1 2747.4 L967.5 2740.4 L966.8 2733.4 L964.8 2726.7 L962.4 2720.1 L961.0 2713.2 L959.2 2706.4 L957.4 2699.6 L957.4 2692.5 L957.4 2685.3 L956.4 2678.4 L956.0 2671.4 L955.0 2664.8 L952.4 2658.1 L951.1 2650.9 L952.1 2643.9 L954.8 2637.2 L957.6 2630.4 L957.5 2623.3 L955.8 2616.2 L957.5 2609.2 L959.3 2600.3 L951.0 2594.8 L943.0 2598.0 L936.7 2602.5 L930.3 2605.8 L923.6 2607.7 L915.9 2609.3 L908.1 2607.1 L901.8 2602.8 L896.4 2598.1 L892.4 2592.0 L888.6 2585.8 L884.5 2580.3 L880.5 2574.6 L876.9 2568.1 L870.2 2564.8 L862.6 2564.7 L855.9 2562.8 L849.4 2560.9 L842.8 2558.8 L836.4 2555.7 L829.8 2552.7 L823.3 2549.0 L816.5 2547.1 L809.2 2548.5 L802.0 2549.5 L795.1 2547.8 L788.9 2544.5 L782.4 2541.8 L775.8 2539.5 L769.6 2536.1 L763.9 2532.0 L758.6 2527.2 L753.6 2522.3 L747.9 2518.8 L740.6 2516.7 L733.1 2514.5 L727.6 2509.8 L723.6 2503.7 L718.5 2498.7 L714.1 2493.5 L710.3 2487.8 L706.0 2482.4 L702.4 2475.7 L698.1 2470.2 L691.8 2466.8 L685.7 2462.9 L680.4 2458.1 L676.5 2452.1 L672.7 2446.0 L668.2 2440.2 L666.5 2433.3 L665.7 2426.1 L660.8 2420.9 L656.3 2415.6 L654.3 2408.5 L651.4 2402.0 L647.0 2396.5 L641.3 2392.2 L637.8 2386.1 L641.3 2379.4 L638.8 2373.1 L634.6 2367.8 L630.1 2362.3 L624.6 2358.9 L621.5 2353.2 L617.5 2347.4 L613.4 2342.1 L610.5 2335.6 L608.7 2328.5 L606.6 2321.8 L602.9 2315.3 L603.5 2307.9 L606.6 2301.7 L605.9 2295.9 L599.8 2292.3 L594.9 2287.5 L591.9 2281.0 L587.2 2275.8 L581.5 2271.5 L575.6 2267.2 L571.2 2261.8 L567.7 2255.6 L563.1 2250.3 L557.8 2245.6 L551.3 2241.9 L545.4 2237.7 L542.3 2231.2 L539.1 2224.8 L535.6 2218.6 L533.2 2211.3 L529.7 2205.1 L524.4 2200.6 L519.5 2195.6 L515.1 2190.2 L510.6 2184.8 L505.7 2179.7 L500.3 2175.1 L495.7 2169.8 L492.8 2163.2 L491.2 2158.2 L492.3 2157.0 L497.5 2157.2 L504.8 2157.4 L511.2 2160.1 L517.4 2163.7 L524.4 2164.8 L532.0 2163.9 L539.4 2163.8 L545.9 2166.3 L551.4 2172.5 L556.9 2178.2 L564.1 2178.4 L571.6 2178.4 L577.9 2181.4 L584.4 2184.2 L591.0 2186.4 L598.0 2187.8 L604.9 2189.3 L610.9 2193.2 L616.7 2197.8 L622.8 2201.3 L629.6 2203.2 L636.6 2204.6 L642.9 2207.6 L649.5 2210.1 L656.0 2212.6 L662.4 2215.5 L669.3 2216.9 L676.0 2219.1 L682.3 2222.2 L688.8 2224.9 L695.2 2227.8 L701.7 2230.4 L708.8 2231.3 L715.4 2233.8 L721.4 2237.7 L728.4 2238.8 L735.7 2239.3 L743.1 2239.4 L750.4 2240.1 L756.3 2244.2 L761.9 2249.2 L768.0 2252.7 L774.5 2255.4 L780.7 2258.8 L787.0 2262.0 L793.8 2263.8 L800.9 2264.9 L807.8 2266.4 L814.6 2267.9 L821.1 2270.6 L827.5 2273.6 L834.6 2274.3 L841.3 2276.3 L848.2 2277.9 L855.1 2278.8 L861.5 2281.6 L868.4 2282.8 L875.4 2282.5 L882.3 2281.2 L889.1 2279.7 L896.2 2280.0 L903.4 2280.5 L910.4 2280.1 L917.0 2277.3 L923.8 2274.9 L931.0 2276.5 L938.1 2277.3 L945.0 2276.2 L951.9 2274.1 L958.7 2272.2 L965.7 2271.5 L972.9 2272.4 L980.1 2273.2 L986.6 2269.3 L993.1 2265.5 L1000.3 2266.6 L1007.4 2267.7 L1014.2 2264.1 L1021.1 2262.2 L1028.3 2265.2 L1035.3 2265.5 L1042.2 2264.1 L1049.2 2264.0 L1056.2 2262.1 L1063.2 2262.0 L1070.2 2263.2 L1077.2 2262.4 L1084.1 2261.1 L1091.1 2260.3 L1098.0 2259.2 L1104.5 2256.0 L1111.4 2253.5 L1118.5 2254.5 L1125.6 2255.5 L1132.6 2255.7 L1139.6 2256.2 L1146.5 2256.3 L1153.6 2253.8 L1160.8 2252.0 L1167.6 2254.5 L1174.4 2257.1 L1181.4 2257.2 L1188.2 2258.8 L1194.8 2261.8 L1201.6 2263.2 L1208.5 2264.6 L1215.7 2264.4 L1223.0 2263.2 L1229.9 2264.5 L1236.5 2267.5 L1243.3 2269.3 L1250.5 2268.9 L1258.0 2269.6 L1264.5 2273.1 L1270.2 2277.4 L1275.8 2280.5 L1282.1 2282.4 L1289.1 2279.5 L1289.8 2271.8 L1290.3 2264.4 L1296.0 2259.9 L1302.2 2256.5 L1307.1 2251.7 L1311.1 2245.4 L1316.6 2239.8 L1323.8 2237.9 L1331.0 2238.4 L1337.7 2236.7 L1343.7 2232.8 L1350.5 2230.8 L1357.6 2229.3 L1364.3 2226.2 L1371.2 2225.4 L1378.6 2227.3 L1385.9 2227.4 L1392.7 2226.0 L1399.3 2226.0 L1405.8 2227.0 L1412.7 2226.5 L1419.7 2226.9 L1426.4 2230.1 L1433.2 2231.6 L1440.5 2230.0 L1447.7 2228.8 L1454.9 2228.6 L1462.0 2228.2 L1469.0 2228.3 L1475.9 2228.8 L1482.6 2232.0 L1489.2 2235.7 L1496.2 2237.2 L1503.3 2237.9 L1510.4 2236.6 L1517.3 2234.8 L1524.3 2234.5 L1531.3 2234.1 L1538.4 2233.1 L1545.6 2232.2 L1552.4 2230.3 L1558.0 2225.4 L1564.1 2221.4 L1571.3 2221.1 L1578.5 2220.9 L1585.0 2218.2 L1591.6 2215.6 L1598.6 2214.5 L1604.8 2210.8 L1610.8 2206.4 L1618.2 2206.9 L1625.4 2206.5 L1631.6 2202.9 L1638.0 2199.8 L1644.9 2198.4 L1651.5 2196.0 L1657.9 2192.9 L1664.9 2192.1 L1672.1 2191.6 L1679.1 2190.5 L1685.6 2187.8 L1691.8 2184.2 L1698.6 2182.3 L1705.5 2181.0 L1712.2 2178.9 L1718.7 2176.2 L1724.8 2172.3 L1731.1 2169.1 L1737.8 2167.0 L1744.2 2164.5 L1751.1 2163.1 L1757.8 2161.0 L1763.5 2156.6 L1770.3 2154.4 L1777.7 2154.2 L1784.4 2152.2 L1790.8 2149.3 L1797.1 2146.1 L1803.6 2143.8 L1811.0 2143.6 L1818.9 2142.8 L1822.8 2136.2 L1824.9 2128.9 L1831.3 2125.3 L1838.0 2122.2 L1842.2 2116.2 L1843.7 2110.1 L1840.9 2104.2 L1836.8 2098.2 L1830.1 2095.1 L1823.9 2091.8 L1817.7 2088.5 L1810.9 2086.1 L1808.0 2080.0 L1812.8 2073.8 L1814.5 2067.1 L1814.8 2059.7 L1816.9 2052.9 L1818.9 2046.3 L1820.9 2040.0 L1826.0 2034.1 L1830.7 2027.9 L1831.3 2020.8 L1830.6 2013.5 L1832.1 2006.5 L1832.6 1999.6 L1831.3 1992.5 L1832.4 1985.6 L1835.0 1979.1 L1835.9 1972.0 L1832.6 1965.2 L1825.8 1961.6 L1820.4 1956.7 L1819.6 1949.4 L1817.9 1942.6 L1814.5 1935.7 L1814.8 1928.2 L1817.6 1921.3 L1820.7 1914.9 L1824.5 1908.6 L1827.1 1902.1 L1827.8 1895.0 L1828.5 1888.0 L1830.4 1881.2 L1834.2 1875.0 L1836.5 1868.3 L1835.8 1860.9 L1837.7 1854.2 L1842.4 1848.4 L1843.9 1841.6 L1842.6 1833.4 L1846.6 1826.6 L1854.6 1826.0 L1861.9 1826.3 L1868.4 1823.4 L1874.9 1820.8 L1881.4 1818.5 L1888.3 1816.1 L1893.7 1811.6 L1897.5 1805.1 L1902.6 1800.3 L1908.4 1796.3 L1913.2 1791.2 L1918.6 1787.2 L1923.5 1782.0 L1925.3 1775.1 L1927.1 1768.2 L1928.0 1761.8 L1929.2 1756.1 L1935.5 1754.4 L1942.3 1752.8 L1948.7 1750.6 L1951.5 1744.3 L1952.5 1737.1 L1958.2 1732.6 L1965.5 1731.7 L1971.6 1728.3 L1977.6 1723.1 L1984.5 1721.2 L1991.9 1723.0 L1998.3 1725.9 L2002.6 1730.1 L2006.8 1733.4 L2005.9 1739.1 L2006.9 1745.2 L2012.9 1747.5 L2019.2 1746.6 L2025.9 1744.1 L2031.4 1739.7 L2038.0 1740.9 L2043.6 1745.3 L2049.1 1749.9 L2055.3 1753.2 L2062.1 1755.5 L2069.0 1757.1 L2075.8 1754.9 L2082.5 1752.7 L2089.4 1752.1 L2096.2 1750.8 L2103.1 1749.2 L2109.9 1747.7 L2117.1 1747.3 L2124.2 1747.1 L2130.6 1743.9 L2136.9 1740.3 L2143.8 1738.8 L2150.5 1736.8 L2156.6 1732.9 L2161.5 1728.0 L2167.2 1723.9 L2174.6 1723.1 L2181.7 1723.8 L2189.0 1721.7 L2191.4 1714.6 L2191.9 1707.4 L2190.1 1700.6 L2185.0 1695.5 L2179.0 1690.1 L2170.9 1689.9 L2164.2 1692.4 L2157.7 1694.6 L2150.9 1693.1 L2145.5 1688.8 L2145.4 1681.6 L2144.7 1674.6 L2149.5 1668.7 L2156.5 1666.4 L2163.5 1664.8 L2169.9 1661.3 L2176.2 1660.7 L2183.5 1659.7 L2188.7 1654.9 L2192.3 1648.6 L2197.7 1643.9 L2205.3 1643.1 L2211.9 1641.2 L2217.5 1636.7 L2223.6 1632.9 L2230.8 1632.2 L2237.7 1630.1 L2242.9 1624.9 L2247.9 1619.9 L2253.7 1616.0 L2258.8 1611.2 L2262.3 1605.0 L2264.9 1598.4 L2267.6 1591.6 L2272.3 1586.5 L2279.7 1582.8 L2282.9 1578.9 L2286.1 1580.2 L2292.1 1582.0 L2298.2 1584.8 L2302.0 1590.6 L2307.1 1595.2 L2314.1 1597.0 L2321.1 1597.6 L2328.3 1595.5 L2335.5 1595.4 L2342.2 1597.7 L2348.8 1600.5 L2355.5 1602.4 L2362.4 1603.7 L2368.5 1608.0 L2375.7 1610.5 L2384.2 1608.5 L2387.5 1600.2 L2386.3 1592.6 L2382.7 1587.3 L2384.0 1583.3 L2389.2 1582.8 L2394.6 1586.1 L2400.8 1589.5 L2406.6 1592.8 L2413.2 1594.8 L2416.4 1600.5 L2417.3 1607.5 L2419.9 1614.3 L2425.2 1619.4 L2429.7 1624.7 L2434.5 1629.9 L2439.6 1634.8 L2445.2 1639.7 L2452.6 1640.2 L2459.7 1638.1 L2466.0 1636.7 L2471.0 1633.5 L2475.4 1627.3 L2482.4 1630.2 L2489.5 1635.1 L2496.9 1631.2 L2500.5 1624.0 L2505.0 1618.5 L2510.9 1614.7 L2515.4 1609.4 L2518.4 1603.1 L2521.5 1596.8 L2526.7 1591.5 L2529.8 1585.3 L2529.8 1577.5 L2532.0 1570.4 L2538.2 1566.0 L2544.6 1562.8 L2549.8 1558.4 L2554.1 1554.5 L2553.9 1548.2 L2551.9 1541.5 L2549.9 1534.8 L2546.2 1528.3 L2544.6 1521.3 L2546.3 1514.0 L2547.4 1506.9 L2545.9 1500.0 L2545.0 1493.0 L2545.7 1486.0 L2545.5 1478.9 L2545.1 1471.9 L2546.3 1465.0 L2549.5 1458.0 L2550.2 1450.6 L2546.4 1443.9 L2544.0 1437.2 L2543.0 1430.3 L2542.2 1423.2 L2541.6 1415.9 L2539.2 1410.1 L2538.5 1404.1 L2539.5 1397.2 L2542.0 1390.4 L2547.6 1385.9 L2553.9 1382.9 L2560.4 1380.3 L2566.6 1377.2 L2570.4 1371.3 L2574.9 1366.1 L2580.2 1361.2 L2583.4 1354.8 L2585.4 1348.0 L2586.5 1341.1 L2585.4 1334.1 L2581.9 1328.0 L2577.8 1322.5 L2576.0 1318.9 L2580.1 1315.4 L2585.3 1311.1 L2589.7 1305.5 L2594.8 1300.8 L2601.6 1297.6 L2607.0 1291.6 L2606.9 1283.7 L2605.5 1276.6 L2603.8 1269.9 L2601.0 1263.1 L2598.9 1255.6 L2602.3 1248.6 L2607.8 1243.6 L2610.8 1236.8 L2615.0 1230.2 L2623.3 1227.8 L2631.0 1230.4 L2638.0 1231.0 L2645.0 1229.9 L2652.1 1229.6 L2659.2 1229.0 L2666.1 1228.0 L2672.4 1225.9 L2679.1 1224.3 L2685.8 1226.2 L2692.7 1228.0 L2699.4 1225.6 L2705.0 1221.3 L2710.9 1218.0 L2717.6 1216.4 L2724.4 1214.7 L2731.3 1212.3 L2736.3 1206.9 L2740.5 1201.3 L2746.2 1197.9 L2752.4 1195.8 L2758.7 1193.1 L2764.7 1189.1 L2770.4 1184.6 L2776.3 1180.7 L2781.2 1175.6 L2785.4 1169.5 L2791.9 1166.5 L2799.4 1164.8 L2803.5 1158.7 L2803.4 1153.4 L2802.6 1148.0 L2800.5 1141.2 L2796.7 1135.3 L2794.5 1127.9 L2790.5 1122.4 L2784.8 1118.1 L2780.0 1113.1 L2776.9 1107.1 L2776.3 1100.7 L2775.2 1093.9 L2773.6 1087.0 L2772.6 1080.0 L2771.4 1073.0 L2767.7 1066.9 L2763.5 1061.4 L2758.3 1057.2 L2751.7 1054.8 L2745.0 1053.0 L2738.1 1051.4 L2731.7 1048.4 L2727.0 1042.8 L2721.3 1039.0 L2715.1 1035.2 L2712.3 1028.5 L2710.2 1021.9 L2708.8 1015.0 L2707.0 1007.9 L2704.4 1001.3 L2701.2 995.2 L2696.0 990.8 L2696.3 984.1 L2699.5 977.9 L2702.0 972.0 L2705.8 966.0 L2709.8 963.4 L2715.9 962.9 L2722.9 962.4 L2730.1 962.0 L2737.0 963.5 L2743.7 965.6 L2750.2 968.5 L2756.7 971.1 L2763.2 973.7 L2769.5 976.8 L2776.4 978.4 L2783.1 980.2 L2790.2 980.7 L2797.2 981.4 L2803.8 984.3 L2810.6 986.0 L2817.6 986.5 L2824.5 987.2 L2831.5 988.2 L2838.4 989.1 L2845.4 988.8 L2852.4 989.3 L2859.4 989.1 L2866.3 986.5 L2873.2 985.3 L2880.2 985.0 L2887.0 983.7 L2894.0 982.9 L2901.1 983.6 L2908.2 984.1 L2915.1 982.3 L2921.9 980.9 L2929.1 982.4 L2936.2 982.9 L2943.0 980.6 L2948.4 977.1 L2951.9 972.1 L2958.8 970.6 L2964.9 969.7 L2970.8 964.9 L2977.1 961.6 L2983.7 958.6 L2988.9 953.5 L2992.9 947.6 L2995.5 940.9 L2998.6 934.6 L3002.5 928.7 L3004.6 921.9 L3005.5 914.9 L3007.0 908.1 L3007.4 901.0 L3008.9 894.1 L3011.9 887.7 L3013.1 880.9 L3011.5 874.4 L3008.7 868.3 L3005.4 862.1 L3001.7 856.1 Z" fill="none" stroke="#000" stroke-width="16.7" stroke-linejoin="round"/>
<path d="M1244.6 3413.7 L1244.6 3406.1 L1252.3 3398.4 L1271.4 3390.8 L1294.3 3385.1 L1313.4 3388.9 L1323.0 3402.3 L1313.4 3417.6 L1290.5 3421.4 L1267.6 3419.5 L1244.6 3413.7 Z" fill="#fff" stroke="#000" stroke-width="16.7" stroke-linejoin="round"/>
<g opacity="0.34">
<circle cx="2765.0" cy="1994.0" r="251" fill="#ffffff" fill-opacity="0.75"/>
<circle cx="2765.0" cy="1994.0" r="249" fill="none" stroke="#8f8f3c" stroke-width="6"/>
<circle cx="2765.0" cy="1994.0" r="211" fill="none" stroke="#8f8f3c" stroke-width="5"/>
<polygon points="2765.0,1716.0 2774.4,1743.1 2803.0,1743.6 2780.2,1760.9 2788.5,1788.4 2765.0,1772.0 2741.5,1788.4 2749.8,1760.9 2727.0,1743.6 2755.6,1743.1" fill="#7d8a3a"/>
<path id="wmarc" d="M2523.0 1811.7 A303 303 0 1 0 3007.0 1811.7" fill="none"/>
<text font-size="52" style="font-family:'Liberation Sans',Arial,sans-serif;font-weight:bold;fill:#6b5a3a" textLength="1343" lengthAdjust="spacing"><textPath href="#wmarc" textLength="1343" lengthAdjust="spacing">PAKISTAN METEOROLOGICAL DEPARTMENT</textPath></text>
<path d="M2657.0 1866.0 c-8 -22 18 -34 34 -22 c4 -22 40 -26 50 -6 c22 -8 44 8 40 26 c18 4 24 22 8 30 l-150 2 c-18 -4 -18 -26 -2 -30 z" fill="#efe6da" stroke="#8a6f5a" stroke-width="5"/>
<path d="M2817.0 1860.0 c-6 -20 16 -30 30 -20 c6 -20 38 -22 46 -4 c20 -6 40 8 36 24 c14 4 18 18 6 24 l-128 2 c-14 -4 -14 -22 0 -26 z" fill="none" stroke="#a0622a" stroke-width="5"/>
<path d="M2615.0 1922.0 l70 -22 l26 2 l-30 16 l18 14 l-14 2 l-28 -10 l-40 10 z" fill="#9cc3d8" stroke="#7a9fb3" stroke-width="3"/>
<ellipse cx="2763.0" cy="1967.0" rx="50" ry="30" fill="#f26a2a"/>
<path d="M2817.0 1890.0 l-62 70 l20 -4 l-46 58 l78 -78 l-20 4 z" fill="#e8601c"/>
<g stroke="#8f8f3c" stroke-width="4" stroke-linecap="round">
<line x1="2835.0" y1="1899.0" x2="2831.0" y2="1913.0"/>
<line x1="2857.0" y1="1896.0" x2="2853.0" y2="1910.0"/>
<line x1="2879.0" y1="1899.0" x2="2875.0" y2="1913.0"/>
<line x1="2901.0" y1="1896.0" x2="2897.0" y2="1910.0"/>
<line x1="2845.0" y1="1924.0" x2="2841.0" y2="1938.0"/>
<line x1="2867.0" y1="1922.0" x2="2863.0" y2="1936.0"/>
<line x1="2889.0" y1="1924.0" x2="2885.0" y2="1938.0"/>
<line x1="2911.0" y1="1922.0" x2="2907.0" y2="1936.0"/>
<line x1="2835.0" y1="1949.0" x2="2831.0" y2="1963.0"/>
<line x1="2857.0" y1="1947.0" x2="2853.0" y2="1961.0"/>
<line x1="2879.0" y1="1949.0" x2="2875.0" y2="1963.0"/>
<line x1="2901.0" y1="1947.0" x2="2897.0" y2="1961.0"/>
<line x1="2847.0" y1="1972.0" x2="2843.0" y2="1986.0"/>
<line x1="2869.0" y1="1970.0" x2="2865.0" y2="1984.0"/>
<line x1="2891.0" y1="1972.0" x2="2887.0" y2="1986.0"/>
</g>
<path d="M2560.0 1996.0 q20 -18 40 -6 q14 10 28 2 q16 -14 34 0 q16 10 30 -4 q14 -12 30 2 M2827.0 1990.0 q40 -16 80 -2 q40 12 90 -4" fill="none" stroke="#d07a35" stroke-width="4"/>
<path d="M2632.0 2027.0 q4.9 -34 9.8 0 q4.9 34 9.8 0 q4.9 -34 9.8 0 q4.9 34 9.8 0 q4.9 -34 9.8 0 q4.9 34 9.8 0 q4.9 -34 9.8 0 q4.9 34 9.8 0 q4.9 -34 9.8 0 q4.9 34 9.8 0" fill="none" stroke="#d0703a" stroke-width="3.5"/>
<path d="M2812.0 2028.0 q5 -34 10 0 q5 34 10 0 q5 -34 10 0 q5 34 10 0 q5 -34 10 0 q5 34 10 0 q5 -34 10 0 q5 34 10 0 q5 -34 10 0 q5 34 10 0 q5 -34 10 0 q5 34 10 0" fill="none" stroke="#d0703a" stroke-width="3.5"/>
<path d="M2632.0 2027.0 h-50 q-12 0 -16 -10 M2730.0 2027.0 h12 q8 0 10 -8 M2932.0 2028.0 h45" fill="none" stroke="#d0703a" stroke-width="3.5"/>
<path d="M2733.0 2060.0 l110 0 l-14 20 l-84 0 z M2765.0 2060.0 l0 -14 l40 0 l0 14" fill="#b9b0a2" stroke="#8d8678" stroke-width="3"/>
<path id="wmarc2" d="M2552.2 2107.1 A241 241 0 0 0 2977.8 2107.1" fill="none"/>
<text font-size="30" direction="rtl" style="font-family:'DejaVu Sans','Noto Sans CJK SC',sans-serif;fill:#6b5a3a"><textPath href="#wmarc2" startOffset="50%" text-anchor="middle">إن في ذلك لآيات لقوم يتفكرون</textPath></text>
</g>
<g fill="#ff0000" fill-opacity="0.7" stroke="#000" stroke-opacity="0.7" stroke-width="5.2">
<circle cx="3562.4" cy="356.1" r="19.4"/>
<circle cx="3179.0" cy="445.9" r="19.4"/>
<circle cx="3166.4" cy="525.0" r="19.4"/>
<circle cx="3184.8" cy="630.5" r="19.4"/>
<circle cx="3306.3" cy="763.2" r="19.4"/>
<circle cx="3790.0" cy="427.3" r="19.4"/>
<circle cx="3863.4" cy="497.2" r="19.4"/>
<circle cx="3738.7" cy="567.9" r="19.4"/>
<circle cx="3929.5" cy="593.5" r="19.4"/>
<circle cx="4120.2" cy="601.6" r="19.4"/>
<circle cx="3685.4" cy="1106.4" r="19.4"/>
<circle cx="3642.9" cy="1273.8" r="19.4"/>
<circle cx="3797.0" cy="1387.3" r="19.4"/>
<circle cx="3489.3" cy="1698.8" r="19.4"/>
<circle cx="3240.1" cy="1868.8" r="19.4"/>
<circle cx="3790.5" cy="1664.4" r="19.4"/>
<circle cx="3526.8" cy="2105.1" r="19.4"/>
<circle cx="3166.4" cy="2275.1" r="19.4"/>
<circle cx="2358.5" cy="2585.8" r="19.4"/>
<circle cx="2462.1" cy="2755.9" r="19.4"/>
<circle cx="2898.6" cy="2486.8" r="19.4"/>
<circle cx="2333.3" cy="3167.1" r="19.4"/>
<circle cx="2345.1" cy="3413.6" r="19.4"/>
<circle cx="2697.5" cy="3359.7" r="19.4"/>
<circle cx="2462.4" cy="3617.0" r="19.4"/>
<circle cx="2030.6" cy="3550.4" r="19.4"/>
<circle cx="1138.4" cy="3444.3" r="19.4"/>
<circle cx="1410.9" cy="3464.2" r="19.4"/>
<circle cx="1027.7" cy="3238.1" r="19.4"/>
<circle cx="726.9" cy="3501.9" r="19.4"/>
<circle cx="959.3" cy="2439.4" r="19.4"/>
<circle cx="1362.4" cy="2422.3" r="19.4"/>
<circle cx="1895.7" cy="2379.1" r="19.4"/>
<circle cx="1981.6" cy="2032.6" r="19.4"/>
<circle cx="2748.4" cy="1007.5" r="19.4"/>
<circle cx="3118.6" cy="963.7" r="19.4"/>
<circle cx="3215.3" cy="948.4" r="19.4"/>
<circle cx="3191.3" cy="1021.1" r="19.4"/>
<circle cx="3082.3" cy="1089.9" r="19.4"/>
<circle cx="3103.7" cy="1367.0" r="19.4"/>
<circle cx="3548.3" cy="864.5" r="19.4"/>
<circle cx="3583.6" cy="867.4" r="19.4"/>
<circle cx="3531.1" cy="919.8" r="19.4"/>
<circle cx="3617.0" cy="908.4" r="19.4"/>
<circle cx="3558.8" cy="994.3" r="19.4"/>
<circle cx="3490.4" cy="1078.3" r="19.4"/>
<circle cx="3490.4" cy="1078.3" r="19.4"/>
<circle cx="2602.3" cy="1720.3" r="19.4"/>
<circle cx="2663.8" cy="2138.1" r="19.4"/>
<circle cx="3080.7" cy="2047.0" r="19.4"/>
<circle cx="2955.6" cy="1588.3" r="19.4"/>
<circle cx="2291.3" cy="2814.0" r="19.4"/>
<circle cx="2274.1" cy="2868.7" r="19.4"/>
<circle cx="2274.1" cy="2996.8" r="19.4"/>
<circle cx="2213.3" cy="2232.4" r="19.4"/>
<circle cx="1290.0" cy="2964.1" r="19.4"/>
<circle cx="1900.2" cy="2727.6" r="19.4"/>
<circle cx="1927.7" cy="3293.7" r="19.4"/>
<circle cx="3384.0" cy="1524.0" r="19.4"/>
</g>
<g font-size="50" font-weight="bold" text-anchor="middle">
<text x="3583.2" y="304.5">GUP</text>
<text x="3204.4" y="396.2">CHI</text>
<text x="3184.4" y="473.8">DRO</text>
<text x="3211.9" y="579.7">DIR</text>
<text x="3337.3" y="712.7">SAI</text>
<text x="3817.3" y="376.8">GIL</text>
<text x="3882.8" y="445.6">BUN</text>
<text x="3764.7" y="516.3">CHI</text>
<text x="3953.6" y="543.1">AST</text>
<text x="4142.4" y="550.7">SKA</text>
<text x="3701.8" y="1054.8">KOT</text>
<text x="3668.9" y="1223.0">JEH</text>
<text x="3833.3" y="1336.9">SIA</text>
<text x="3521.1" y="1647.2">FAI</text>
<text x="3260.6" y="1818.0">SHO</text>
<text x="3809.7" y="1614.7">LAH</text>
<text x="3545.0" y="2053.5">BAH</text>
<text x="3185.1" y="2223.1">BAH</text>
<text x="2382.2" y="2535.4">JAC</text>
<text x="2479.3" y="2703.6">ROH</text>
<text x="2913.5" y="2436.0">KHA</text>
<text x="2353.5" y="3116.3">BEN</text>
<text x="2361.5" y="3362.0">HYD</text>
<text x="2713.4" y="3309.3">CHH</text>
<text x="2482.1" y="3574.9">BAD</text>
<text x="2047.8" y="3498.8">KAR</text>
<text x="1165.3" y="3394.6">PAS</text>
<text x="1423.3" y="3413.7">ORM</text>
<text x="1048.8" y="3187.3">TUR</text>
<text x="753.5" y="3451.0">JIW</text>
<text x="976.1" y="2387.1">NOK</text>
<text x="1382.9" y="2369.5">DAL</text>
<text x="1913.2" y="2328.2">KAL</text>
<text x="2000.3" y="1981.0">QUE</text>
<text x="2773.4" y="955.9">PAR</text>
<text x="3144.6" y="913.3">PES</text>
<text x="3246.9" y="898.8">RIS</text>
<text x="3210.2" y="969.5">CHE</text>
<text x="3096.8" y="1040.2">KOH</text>
<text x="3124.6" y="1321.1">MIA</text>
<text x="3574.8" y="813.0">BAL</text>
<text x="3594.0" y="816.0">MUZ</text>
<text x="3546.8" y="868.3">KAK</text>
<text x="3632.6" y="856.9">GDU</text>
<text x="3571.2" y="942.7">MUR</text>
<text x="3530.0" y="1029.6">ISL</text>
<text x="3511.0" y="1029.6">CHA</text>
<text x="2619.7" y="1669.6">ZHO</text>
<text x="2684.2" y="2086.5">BAR</text>
<text x="3095.7" y="1997.6">MUL</text>
<text x="2983.5" y="1536.7">DIK</text>
<text x="2312.5" y="2758.6">LAR</text>
<text x="2286.7" y="2817.9">MOE</text>
<text x="2297.2" y="2944.0">PAD</text>
<text x="2246.1" y="2182.2">SIB</text>
<text x="1313.3" y="2912.9">PAN</text>
<text x="1917.0" y="2677.9">KHU</text>
<text x="1952.9" y="3245.5">LAS</text>
<text x="3408.6" y="1471.7">SAR</text>
</g>
<rect x="420.5" y="60.4" width="4649.9" height="3913.1" fill="none" stroke="#000" stroke-width="6.7"/>
<g stroke="#000" stroke-width="6.7">
<line x1="391.5" y1="3805.7" x2="420.5" y2="3805.7"/>
<line x1="391.5" y1="3238.8" x2="420.5" y2="3238.8"/>
<line x1="391.5" y1="2671.9" x2="420.5" y2="2671.9"/>
<line x1="391.5" y1="2105.1" x2="420.5" y2="2105.1"/>
<line x1="391.5" y1="1538.2" x2="420.5" y2="1538.2"/>
<line x1="391.5" y1="971.4" x2="420.5" y2="971.4"/>
<line x1="391.5" y1="404.5" x2="420.5" y2="404.5"/>
<line x1="898.5" y1="3973.5" x2="898.5" y2="4002.5"/>
<line x1="1509.7" y1="3973.5" x2="1509.7" y2="4002.5"/>
<line x1="2120.8" y1="3973.5" x2="2120.8" y2="4002.5"/>
<line x1="2731.9" y1="3973.5" x2="2731.9" y2="4002.5"/>
<line x1="3343.1" y1="3973.5" x2="3343.1" y2="4002.5"/>
<line x1="3954.2" y1="3973.5" x2="3954.2" y2="4002.5"/>
<line x1="4565.4" y1="3973.5" x2="4565.4" y2="4002.5"/>
</g>
<g font-size="66.67">
<text x="362" y="3828.2" text-anchor="end">24.0°N</text>
<text x="362" y="3261.3" text-anchor="end">26.0°N</text>
<text x="362" y="2694.4" text-anchor="end">28.0°N</text>
<text x="362" y="2127.6" text-anchor="end">30.0°N</text>
<text x="362" y="1560.7" text-anchor="end">32.0°N</text>
<text x="362" y="993.9" text-anchor="end">34.0°N</text>
<text x="362" y="427.0" text-anchor="end">36.0°N</text>
<text x="898.5" y="4079.7" text-anchor="middle">62.5°E</text>
<text x="1509.7" y="4079.7" text-anchor="middle">65.0°E</text>
<text x="2120.8" y="4079.7" text-anchor="middle">67.5°E</text>
<text x="2731.9" y="4079.7" text-anchor="middle">70.0°E</text>
<text x="3343.1" y="4079.7" text-anchor="middle">72.5°E</text>
<text x="3954.2" y="4079.7" text-anchor="middle">75.0°E</text>
<text x="4565.4" y="4079.7" text-anchor="middle">77.5°E</text>
</g>
<g font-size="91.67" font-weight="bold" text-anchor="middle"><text x="1815.5" y="592">Standardized Precipitation Evapotranspiration Index (SPEI-1)</text><text x="1815" y="686">February 2026</text></g>
<text x="2745.5" y="4185" font-size="83.33" text-anchor="middle">Longitude</text>
<text transform="translate(120.8 2020) rotate(-90)" font-size="83.33" text-anchor="middle">Latitude</text>
<polygon points="4140.7,1535.7 4210.4,1428.8 4280.2,1535.7" fill="#002673"/>
<polygon points="4140.7,3671.8 4210.4,3778.7 4280.2,3671.8" fill="#734C00"/>
<rect x="4140.7" y="1535.20" width="139.5" height="306.15" fill="#0070FF"/>
<rect x="4140.7" y="1840.35" width="139.5" height="306.15" fill="#73B2FF"/>
<rect x="4140.7" y="2145.50" width="139.5" height="306.15" fill="#BEE8FF"/>
<rect x="4140.7" y="2450.65" width="139.5" height="306.15" fill="#FFFFFF"/>
<rect x="4140.7" y="2755.80" width="139.5" height="306.15" fill="#FFEBAF"/>
<rect x="4140.7" y="3060.95" width="139.5" height="306.15" fill="#FFD37F"/>
<rect x="4140.7" y="3366.10" width="139.5" height="306.15" fill="#E69800"/>
<path d="M4140.7 1535.7 L4210.4 1428.8 L4280.2 1535.7 L4280.2 3671.8 L4210.4 3778.7 L4140.7 3671.8 Z" fill="none" stroke="#000" stroke-width="6.7" stroke-linejoin="miter"/>
<g stroke="#000" stroke-width="6.7">
<line x1="4280.2" y1="1535.7" x2="4309.4" y2="1535.7"/>
<line x1="4280.2" y1="1688.3" x2="4309.4" y2="1688.3"/>
<line x1="4280.2" y1="1962.9" x2="4309.4" y2="1962.9"/>
<line x1="4280.2" y1="2298.6" x2="4309.4" y2="2298.6"/>
<line x1="4280.2" y1="2603.7" x2="4309.4" y2="2603.7"/>
<line x1="4280.2" y1="2908.9" x2="4309.4" y2="2908.9"/>
<line x1="4280.2" y1="3244.5" x2="4309.4" y2="3244.5"/>
<line x1="4280.2" y1="3519.2" x2="4309.4" y2="3519.2"/>
<line x1="4280.2" y1="3671.8" x2="4309.4" y2="3671.8"/>
</g><g stroke="#000" stroke-width="5">
<line x1="4280.2" y1="1840.8" x2="4297.6" y2="1840.8"/>
<line x1="4280.2" y1="2146.0" x2="4297.6" y2="2146.0"/>
<line x1="4280.2" y1="2451.2" x2="4297.6" y2="2451.2"/>
<line x1="4280.2" y1="2756.3" x2="4297.6" y2="2756.3"/>
<line x1="4280.2" y1="3061.5" x2="4297.6" y2="3061.5"/>
<line x1="4280.2" y1="3366.6" x2="4297.6" y2="3366.6"/>
</g><g font-size="66.67" font-weight="bold">
<text x="4337.3" y="1558.3">&gt; 2.0 Extreme Wet</text>
<text x="4337.3" y="1679.5">1.51 to 2.00</text>
<text x="4337.3" y="1747.1">Very Wet</text>
<text x="4337.3" y="1954.1">1.10 to 1.50</text>
<text x="4337.3" y="2021.7">Moderate Wet</text>
<text x="4337.3" y="2289.8">0.51 to 1.00</text>
<text x="4337.3" y="2357.4">Mild Wet</text>
<text x="4337.3" y="2594.9">-0.50 to 0.50</text>
<text x="4337.3" y="2662.5">Near Normal</text>
<text x="4337.3" y="2900.1">-1.00 to -0.51</text>
<text x="4337.3" y="2967.7">Mild Drought</text>
<text x="4337.3" y="3235.7">-1.50 to -1.10</text>
<text x="4337.3" y="3303.3">Moderate Drought</text>
<text x="4337.3" y="3510.4">-2.00 to -1.51</text>
<text x="4337.3" y="3578.0">Severe Drought</text>
<text x="4337.3" y="3694.3">&lt; -2.0 Extreme Drought</text>
</g>
<text transform="translate(4059.8 2611) rotate(-90)" font-size="83.33" font-weight="bold" text-anchor="middle">SPEI</text>
<polygon points="4838,216 4985.3,520.4 4838,426.8 4690.4,520.4" fill="#231F20"/>
<polygon points="4835.4,231.8 4706.7,503.3 4835.4,420.2" fill="#fff"/>
<text x="4838" y="191.5" font-size="67" font-weight="bold" text-anchor="middle" style="font-family:'Liberation Sans',Arial,sans-serif">N</text>
</svg></body></html>
